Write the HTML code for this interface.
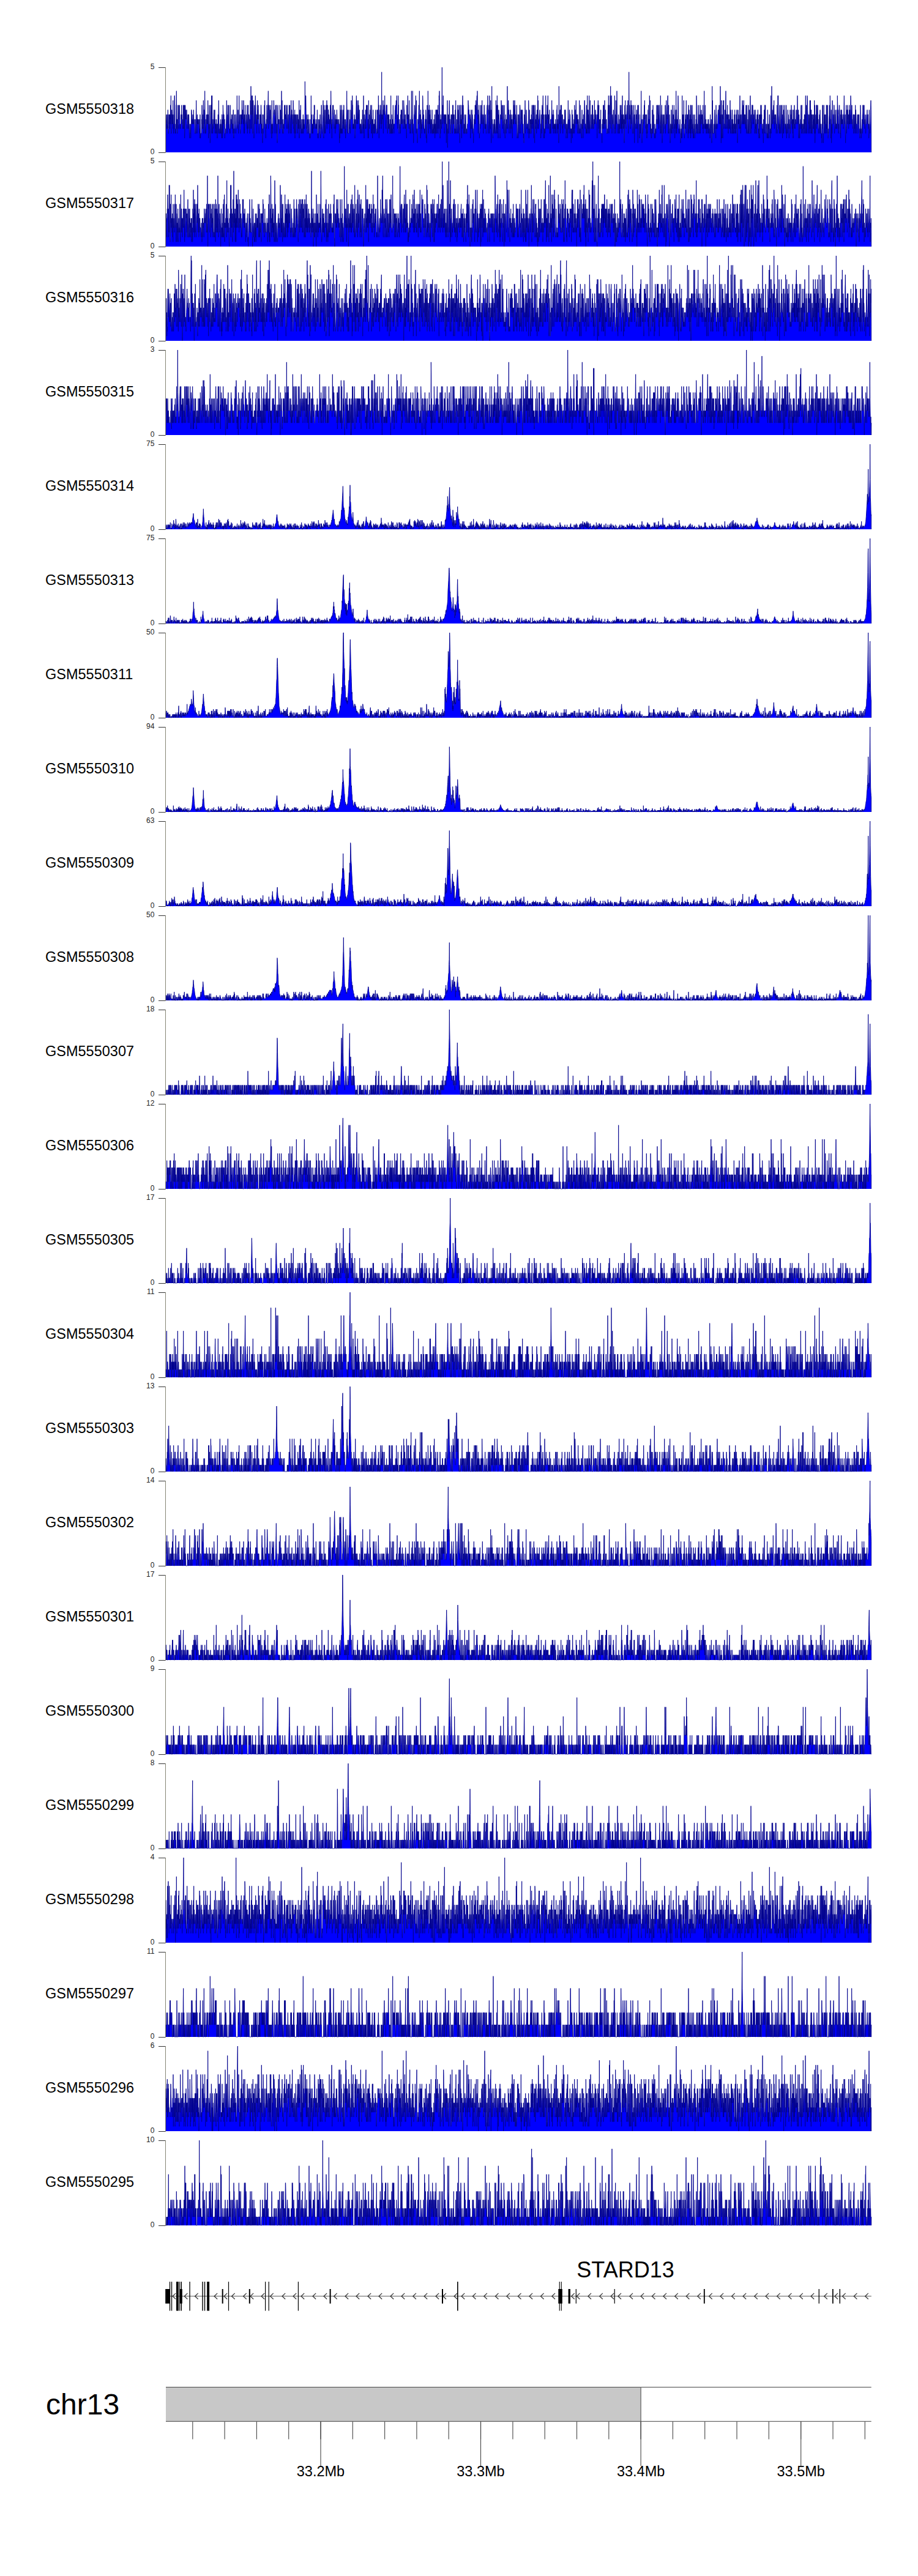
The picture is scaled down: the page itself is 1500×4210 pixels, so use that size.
<!DOCTYPE html>
<html><head><meta charset="utf-8"><title>Gviz tracks</title>
<style>
html,body{margin:0;padding:0;background:#fff;width:1500px;height:4210px;overflow:hidden}
svg{display:block}
text{font-family:"Liberation Sans",Arial,Helvetica,sans-serif;fill:#000}
.ax{font-size:12px;text-anchor:end;fill:#222}
.nm{font-size:23.5px}
.gn{font-size:36px}
.chr{font-size:48px}
.mb{font-size:23.5px;text-anchor:middle}
</style></head><body>
<svg width="1500" height="4210" viewBox="0 0 1500 4210">
<rect width="1500" height="4210" fill="#fff"/>
<g transform="translate(271.0 249.0) scale(0.33333 -7.72222)"><path d="M0 0V6l1 0 1 1 1 1 1-2 1-1 1 3 1-2 1-1 1 0 1 4 1-4 1-1 1 0 1 1 1 3 1-2 1 2 1 0 1-3 1 3 1-1 1 1 1 2 1-4 1 6 1-8 1 0 1 3 1 2 1-1 1-2 1 2 1-1 1-1 1 5 1-6 1 1 1-2 1 4 1-2 1 2 1 4 1 0 1-7 1 1 1-2 1 1 1-1 1 1 1 5 1 0 1 3 1-8 1 2 1 0 1-3 1 0 1 2 1 4 1-4 1-1 1 1 1 4 1-3 1 0 1 1 1 2 1-2 1-3 1 1 1-1 1 0 1 1 1 0 1 2 1-1 1 3 1-3 1 1 1-2 1 1 1-1 1-1 1 1 1 4 1-4 1-1 1 2 1 3 1-5 1 5 1-7 1 2 1 0 1 5 1-1 1-2 1 2 1-1 1 0 1-1 1 2 1-3 1-1 1 1 1 0 1 1 1 1 1-2 1 2 1-3 1 3 1 0 1-2 1-2 1-1 1 3 1-2 1 0 1 0 1 2 1-3 1 2 1 1 1 3 1 0 1-1 1-2 1 1 1 0 1-1 1 2 1-1 1-1 1 0 1 3 1-2 1-1 1 0 1 1 1-1 1-2 1 0 1 0 1 3 1-3 1 0 1 4 1 3 1-3 1-1 1-1 1-2 1 4 1-2 1 1 1-1 1 1 1 0 1-1 1 0 1 1 1-2 1 0 1-1 1 3 1-4 1 5 1-4 1-1 1 1 1 0 1 0 1 0 1 3 1-1 1 4 1-2 1-3 1 3 1-3 1 0 1 0 1 6 1-5 1-2 1 5 1-3 1 2 1 2 1 3 1-4 1-5 1 0 1 3 1-3 1 1 1 1 1 2 1-2 1 0 1 2 1 0 1-2 1 0 1 5 1-5 1 2 1-5 1 3 1-1 1 0 1 5 1-4 1-2 1 2 1-4 1 1 1 5 1 2 1-4 1 4 1-2 1 4 1-8 1 2 1 6 1-6 1 0 1-2 1 3 1-2 1 0 1 1 1 2 1 1 1-3 1 0 1 1 1 2 1-5 1 3 1-2 1 1 1 0 1-2 1 2 1 1 1-2 1-1 1 2 1-3 1 3 1 0 1 0 1 2 1-4 1 4 1 3 1-3 1-2 1-2 1 0 1 1 1-1 1 2 1-1 1-1 1 3 1-1 1-2 1 0 1 2 1-3 1 5 1 0 1-5 1 4 1-3 1 6 1-1 1-1 1-2 1 2 1 0 1-2 1-1 1 2 1-4 1 1 1 0 1 0 1 1 1-1 1 2 1 0 1 2 1 3 1-5 1 2 1-4 1 2 1 2 1 2 1-2 1 0 1-2 1-1 1 5 1-4 1 0 1-1 1-1 1 1 1-1 1 6 1-4 1 0 1-1 1 2 1 0 1 0 1 1 1-2 1 2 1-3 1 1 1 0 1-2 1 5 1 0 1-5 1-1 1 2 1-1 1 2 1 2 1-2 1 2 1 0 1 0 1-2 1-2 1 1 1 0 1 1 1 2 1 0 1 4 1-5 1-2 1 0 1 1 1 3 1-3 1-2 1 2 1 1 1 5 1-4 1-2 1 1 1 1 1-3 1-1 1 0 1 4 1-2 1 2 1-1 1 1 1-2 1 5 1 0 1-3 1 1 1-2 1 1 1-1 1-1 1 5 1-2 1-5 1 3 1-3 1 4 1-1 1 1 1 2 1-3 1-1 1 0 1 0 1 2 1-1 1 0 1-1 1-1 1 5 1-6 1 2 1 2 1 1 1 1 1-5 1 0 1 3 1 0 1-1 1 0 1-3 1 3 1-2 1 6 1-3 1 0 1 6 1-5 1-4 1 3 1 4 1-4 1 0 1 4 1-8 1 0 1 4 1 3 1-1 1-4 1 0 1-3 1 6 1 1 1-4 1 2 1 0 1 2 1 2 1-2 1 0 1-4 1 2 1-1 1-1 1-2 1 4 1-2 1 5 1-4 1 2 1-2 1 3 1-3 1 1 1-3 1-1 1 2 1 0 1 0 1 2 1-2 1 2 1-2 1 0 1 4 1 0 1-2 1-4 1 2 1 0 1-1 1 3 1-6 1 3 1-1 1 0 1 4 1-1 1-2 1 1 1 0 1 4 1-3 1 4 1-4 1-1 1 0 1-1 1-2 1 3 1-1 1 2 1-1 1 4 1 0 1-4 1 0 1 0 1 2 1 3 1 2 1-8 1 1 1 4 1-1 1 1 1-1 1-3 1 0 1 3 1-2 1 1 1 2 1-3 1-3 1 0 1 2 1-3 1 8 1-6 1 1 1 0 1-2 1 1 1 2 1 1 1 1 1 2 1-1 1-2 1 1 1 0 1-1 1-4 1 3 1 1 1 2 1-4 1 2 1 2 1 0 1-6 1 2 1-3 1-1 1 2 1 5 1 1 1-2 1-2 1 0 1 1 1-1 1 1 1-2 1 0 1-1 1 6 1-3 1-1 1 3 1-4 1 0 1 0 1 3 1 5 1-7 1 2 1 3 1-6 1-1 1 2 1 1 1-2 1-1 1 0 1 2 1-1 1 3 1 2 1-2 1-2 1 4 1-3 1 1 1 0 1 0 1-1 1 3 1-1 1-3 1-1 1 3 1 2 1-2 1-1 1-1 1-1 1 3 1 0 1-4 1 1 1 5 1-2 1 0 1 0 1 2 1-3 1-3 1 3 1 1 1 0 1 3 1-3 1-4 1 5 1-2 1 1 1-1 1 0 1-1 1 0 1 5 1-1 1-4 1-1 1 3 1-4 1 4 1 0 1 1 1-6 1 3 1 2 1-3 1-1 1 4 1 0 1-2 1 0 1 2 1 0 1-1 1-2 1-1 1 4 1-1 1-2 1 2 1-1 1-1 1 6 1-8 1 3 1 1 1 2 1-3 1-1 1 1 1 4 1-5 1-1 1 2 1 0 1 1 1-3 1 1 1-1 1 2 1 1 1-2 1 3 1-4 1 2 1-1 1 2 1-1 1-1 1 1 1 0 1 9 1-4 1 0 1-2 1 3 1-2 1-5 1 0 1 1 1 2 1-4 1 0 1 1 1 2 1-1 1 2 1-3 1-1 1 0 1 2 1 1 1-1 1 0 1-3 1 1 1-1 1 0 1 4 1-1 1 0 1 6 1-4 1-1 1 1 1-4 1 1 1 1 1-2 1 2 1-2 1 4 1-2 1 1 1-1 1-1 1 5 1-2 1 2 1-4 1 1 1 0 1-2 1 0 1 1 1 0 1-1 1 1 1 1 1-2 1 1 1 3 1-1 1-4 1-1 1 1 1-1 1 4 1-3 1 0 1 1 1 1 1 1 1-2 1 1 1 2 1-4 1-1 1 1 1 2 1-1 1 5 1 0 1-4 1-1 1-1 1 0 1 2 1 2 1 0 1 3 1-3 1-2 1-3 1 1 1 6 1-2 1-4 1 3 1 2 1-3 1-2 1 2 1 1 1 3 1-4 1 4 1-3 1 4 1-6 1 2 1-1 1 4 1-1 1-2 1 2 1 0 1-3 1 2 1-2 1 0 1 1 1-3 1 3 1 1 1 2 1 0 1-4 1 7 1-3 1-4 1-1 1 2 1-4 1 3 1 0 1 3 1 1 1-2 1 0 1 2 1-2 1-2 1 0 1-1 1 3 1 1 1-2 1 0 1-3 1 2 1 2 1-3 1 2 1-1 1 1 1-1 1 3 1-1 1-2 1 1 1-1 1 0 1 0 1 0 1 1 1-1 1 1 1-1 1-2 1-2 1 4 1-3 1 4 1 3 1-6 1 3 1 2 1-5 1 1 1-1 1 6 1-6 1 1 1-1 1 2 1 2 1 1 1-3 1 2 1-3 1 5 1 0 1-4 1-1 1 2 1-2 1 0 1-1 1 3 1-4 1 2 1 0 1 1 1 1 1 3 1 3 1-4 1 0 1-4 1-1 1 4 1 1 1-5 1 0 1 0 1 0 1 5 1-3 1-1 1 1 1 0 1 1 1-3 1 2 1 3 1-2 1 1 1 3 1-2 1-2 1 0 1 1 1 4 1-2 1 0 1-5 1 1 1-1 1 1 1 0 1 1 1-2 1 3 1-1 1-1 1-3 1 1 1 3 1-2 1 1 1 1 1 3 1 2 1-2 1-4 1 5 1-1 1 0 1-4 1 1 1 2 1 2 1-4 1 3 1-2 1 0 1-2 1 3 1-4 1 1 1 0 1-2 1 2 1 0 1-1 1-1 1 3 1-1 1 0 1-1 1-1 1 2 1 3 1-3 1 2 1-2 1-1 1 7 1-8 1 2 1-3 1 5 1 0 1-1 1 0 1-1 1-1 1 4 1-1 1-3 1 3 1 2 1-2 1 2 1-2 1 0 1 2 1-2 1-2 1-3 1 4 1-4 1 8 1-4 1 0 1 1 1-3 1 1 1 0 1 0 1 3 1-3 1 4 1-2 1-1 1-3 1 4 1 2 1-4 1-2 1 3 1-4 1 4 1-1 1 3 1-3 1-2 1 2 1-1 1 1 1 0 1-2 1 3 1-3 1 1 1 2 1 1 1 1 1-3 1-1 1 0 1-1 1 0 1 0 1 5 1-3 1-2 1 4 1 1 1-1 1 4 1-3 1 1 1-7 1 2 1 3 1-3 1 3 1 1 1-1 1 2 1 0 1-4 1 2 1-3 1 5 1 7 1-11 1 0 1 2 1-1 1 2 1 0 1 2 1-7 1 5 1 0 1 1 1 0 1-2 1 1 1 3 1-3 1-1 1 0 1 0 1-1 1-2 1 5 1 0 1 0 1 0 1 0 1-4 1-1 1-1 1 4 1-1 1 1 1-3 1 3 1-2 1 2 1-3 1 1 1-2 1 0 1 3 1-3 1 0 1 2 1 6 1-8 1 0 1 2 1-2 1 4 1-4 1 1 1-1 1 3 1-1 1 4 1-3 1-2 1 1 1-2 1 2 1 0 1 0 1 0 1 3 1 0 1 1 1-1 1-2 1 3 1 1 1-1 1 0 1 2 1-4 1-2 1 2 1-3 1 2 1 1 1 4 1-2 1 0 1-5 1-1 1 0 1 3 1-1 1-1 1 0 1 1 1-2 1 4 1-2 1 3 1-3 1 2 1 0 1 1 1-3 1 0 1 5 1-4 1 0 1-1 1-1 1 1 1 5 1-1 1-1 1 0 1-3 1 1 1-2 1 3 1-2 1 2 1-3 1 1 1-1 1 0 1-2 1 7 1-3 1 1 1-1 1 3 1 2 1-4 1-2 1 1 1 1 1-2 1-1 1 6 1-5 1 0 1 0 1-2 1 3 1-1 1-2 1 2 1 0 1 2 1 5 1-5 1-2 1 0 1 1 1-3 1 9 1-7 1 0 1 0 1-4 1 2 1 3 1 1 1 0 1 2 1-1 1-1 1-1 1 1 1 2 1 2 1-3 1-5 1 7 1-6 1 0 1 0 1-1 1-2 1 5 1 0 1 0 1-1 1 0 1 2 1 2 1-1 1 1 1 3 1-7 1-1 1 3 1 0 1-5 1 6 1-3 1 0 1 1 1-2 1 1 1-2 1 2 1 1 1 1 1 4 1-1 1-4 1 2 1-4 1 3 1-2 1-1 1-1 1 1 1-1 1 2 1 1 1 0 1 0 1 2 1-1 1-5 1 4 1-3 1-2 1 2 1 6 1-3 1-1 1 0 1 7 1-5 1-2 1-2 1 5 1-3 1 4 1 0 1-4 1 2 1-3 1 4 1-2 1-3 1 3 1-1 1 0 1 0 1 1 1-3 1 5 1-4 1-1 1 0 1 2 1-2 1 1 1-1 1 2 1 1 1-2 1 1 1-2 1 4 1-5 1 3 1 0 1-2 1 5 1 0 1-5 1 0 1 5 1 0 1-5 1 5 1-4 1 2 1 0 1 3 1-6 1 0 1 4 1-3 1 7 1-1 1 2 1-4 1-5 1-1 1 4 1-3 1 0 1 4 1-2 1 1 1-1 1-1 1 4 1 9 1-8 1-3 1 3 1-4 1 1 1 5 1-4 1 0 1 0 1-2 1-2 1 4 1-2 1 2 1 0 1-1 1 1 1-2 1 2 1-1 1-5 1 4 1 0 1-2 1 3 1 4 1-10 1 4 1 0 1 3 1-1 1-3 1 4 1-2 1 4 1 1 1-4 1 0 1 0 1-3 1 0 1 0 1 2 1 2 1 0 1-2 1 0 1 2 1-2 1-2 1 3 1 3 1-3 1 3 1-4 1 0 1 2 1-2 1 2 1-2 1-2 1 0 1 1 1-1 1 5 1-2 1 4 1-7 1 1 1 0 1 2 1-2 1 0 1-1 1 3 1 3 1-4 1 0 1 3 1-5 1 4 1 0 1 2 1-4 1-2 1 0 1-2 1 6 1 2 1 0 1-4 1 2 1-2 1 0 1 1 1-4 1 7 1-5 1 1 1 4 1 2 1-3 1-2 1 3 1-2 1-4 1 1 1 1 1-2 1 0 1 4 1-4 1 0 1 1 1 2 1 1 1-2 1-2 1 0 1 1 1-1 1 0 1 1 1 1 1 0 1 0 1 2 1 3 1-1 1 0 1-2 1 1 1-1 1-1 1 0 1 1 1 0 1-1 1-4 1 4 1-2 1 4 1-2 1-1 1-1 1 2 1 2 1-5 1 4 1-2 1 0 1-1 1 0 1-3 1 2 1 1 1 2 1 0 1 0 1 1 1-2 1 4 1-4 1 4 1-1 1 2 1-1 1-2 1 0 1 3 1 1 1-3 1 4 1-5 1-1 1 2 1-5 1 4 1-2 1 2 1 2 1-3 1-4 1 1 1 0 1 2 1-1 1 3 1 2 1-2 1 0 1 0 1-2 1 4 1-2 1 3 1-5 1 1 1 1 1 0 1-1 1-3 1 2 1 2 1-2 1 4 1 0 1-2 1 0 1-3 1 1 1-1 1 3 1-3 1 1 1-2 1 0 1 2 1 2 1 1 1 1 1 0 1-1 1 3 1-6 1-2 1 2 1 3 1-1 1 2 1 0 1-6 1 8 1-3 1-1 1-2 1-1 1 6 1-5 1 0 1-4 1 7 1-3 1 8 1-8 1 1 1-1 1-2 1-1 1 0 1 3 1-1 1-1 1 2 1 1 1-3 1 3 1-2 1 1 1-1 1-1 1 0 1 2 1 5 1-3 1-4 1 4 1 2 1-5 1 7 1-3 1-5 1 6 1-3 1-4 1 5 1-1 1 2 1-1 1-1 1-1 1 0 1-1 1-2 1 3 1 2 1-1 1 1 1 0 1 3 1-1 1-2 1-1 1 3 1-2 1-1 1-2 1 1 1 4 1-3 1-1 1 0 1-2 1 3 1 3 1-4 1 1 1-3 1-1 1 3 1 0 1 2 1-1 1-3 1 3 1-2 1 0 1 1 1 2 1 6 1-8 1-1 1 3 1 2 1 1 1-2 1-1 1 1 1-5 1 2 1 0 1 2 1-3 1 0 1 3 1 1 1-5 1 3 1-1 1 2 1-2 1-1 1 2 1-1 1-3 1 3 1 2 1 0 1-2 1 5 1-5 1 4 1-1 1 0 1-2 1 4 1-3 1 2 1-4 1 2 1 0 1-2 1 0 1 0 1 2 1 2 1-6 1-1 1 1 1 0 1 2 1 2 1-5 1 1 1 2 1 2 1 0 1-2 1-2 1 4 1 2 1 0 1-1 1-3 1 0 1-2 1 5 1-1 1-1 1 2 1-3 1 1 1 0 1 2 1-2 1-3 1 2 1 0 1-3 1 1 1-2 1 0 1 6 1 0 1-2 1 2 1 3 1-3 1-4 1 1 1 1 1 0 1 3 1-1 1-2 1-1 1 1 1 0 1 0 1 0 1-2 1 2 1 1 1 4 1-1 1-7 1 2 1-1 1 5 1-4 1-1 1 0 1 3 1-1 1 1 1-3 1 0 1 4 1-3 1 4 1 1 1-2 1-2 1 1 1-2 1 5 1-2 1 2 1-3 1-4 1 7 1-2 1-5 1-1 1 6 1 2 1-1 1-4 1 1 1 1 1-1 1 2 1-4 1 2 1 2 1 1 1-2 1 0 1 5 1-7 1 6 1-6 1 1 1 0 1 1 1 0 1 1 1 0 1 1 1-1 1 0 1-2 1 0 1-3 1 2 1 0 1 3 1-2 1-2 1 5 1 1 1-1 1-2 1 3 1 2 1-6 1-1 1 3 1-5 1 2 1-2 1 2 1 0 1 3 1-4 1 1 1 2 1 5 1-6 1 0 1 2 1 0 1-1 1-2 1 5 1-2 1-1 1 2 1 3 1-6 1-1 1 3 1-2 1 2 1-1 1 2 1-5 1 0 1 2 1 0 1-2 1 3 1-3 1 3 1 0 1 0 1 2 1 2 1-3 1 0 1-2 1-1 1 3 1-2 1 3 1-5 1 4 1-2 1 0 1-1 1 1 1 0 1-2 1 2 1-1 1 2 1-1 1-2 1 2 1 0 1 0 1 3 1 0 1 1 1-6 1 3 1-2 1 1 1-1 1 3 1-4 1-2 1 12 1-5 1-1 1-1 1-1 1 3 1 0 1-5 1 4 1 2 1-2 1-1 1 3 1-4 1 2 1-2 1-1 1 0 1 3 1-4 1 2 1 0 1 0 1 1 1 0 1-1 1 0 1 0 1 3 1-3 1-1 1 4 1 0 1-3 1 0 1-3 1 1 1 2 1-2 1 1 1 0 1 1 1-3 1 3 1 1 1 4 1-3 1-2 1-1 1 2 1-3 1 5 1 0 1-1 1 0 1 0 1-2 1-2 1 1 1 0 1-3 1 3 1-1 1 1 1 4 1-3 1-3 1 5 1-3 1 1 1-2 1 2 1 0 1 0 1 1 1-3 1 6 1-5 1 0 1 1 1 3 1 0 1-3 1 4 1 1 1-4 1 1 1 0 1-2 1 1 1-1 1 2 1-4 1 2 1 1 1 0 1-1 1-2 1 0 1 2 1 5 1-5 1-2 1 1 1-1 1 6 1-4 1 0 1 0 1 0 1-2 1-1 1 3 1 3 1-4 1 1 1 1 1 0 1-4 1 2 1 3 1 0 1-2 1 0 1 3 1 2 1 0 1-3 1-3 1 1 1 0 1 0 1-1 1-1 1 4 1 2 1-6 1 1 1-1 1 8 1-7 1 4 1-3 1 3 1-5 1 2 1 2 1-3 1 7 1-3 1-5 1 2 1 1 1 4 1-5 1-1 1 0 1 0 1 3 1 0 1-3 1 2 1 1 1 2 1-4 1 4 1-5 1 3 1-2 1 0 1-1 1 0 1 2 1-1 1 5 1-4 1-1 1 2 1-1 1 2 1-1 1 0 1-1 1-1 1 0 1 0 1 2 1-5 1 5 1 0 1 2 1-2 1 3 1-4 1 1 1-3 1 5 1-6 1 1 1 2 1-3 1 0 1 3 1-2 1 1 1 3 1-5 1 0 1 0 1 0 1 0 1-2 1 4 1-1 1 2 1-1 1 1 1 3 1-5 1 0 1 5 1-5 1 2 1-1 1 5 1-5 1 0 1 1 1 2 1-3 1-1 1 1 1 1 1 0 1-3 1 0 1 0 1 1 1-1 1 0 1 4 1 2 1-2 1 4 1-4 1-4 1 4 1 2 1-3 1-1 1 0 1 6 1-4 1 6 1-9 1 0 1 5 1 2 1 0 1-4 1-4 1 3 1 1 1-2 1 0 1 1 1 1 1 1 1-3 1 0 1-2 1 0 1 5 1 3 1-4 1-3 1 3 1-2 1-2 1 7 1-3 1-2 1 1 1 1 1 5 1-5 1 0 1-2 1 0 1-2 1 2 1 0 1 2 1-2 1-2 1 2 1-2 1 3 1-2 1 3 1 2 1-2 1 1 1-4 1 2 1 3 1-5 1 3 1 0 1-4 1 4 1 4 1-6 1 2 1-3 1 0 1 3 1 0 1-3 1 2 1-5 1 1 1 5 1 2 1-4 1 5 1-4 1 1 1-3 1 0 1 1 1 2 1 0 1 1 1 1 1-2 1 0 1-1 1 4 1-4 1-3 1 1 1 3 1 9 1-6 1-4 1 0 1 3 1-3 1 1 1-3 1 1 1 2 1 3 1-5 1 0 1 4 1-2 1 2 1-3 1-3 1 0 1 3 1 2 1 0 1 1 1-6 1 0 1 3 1 1 1-6 1 4 1 2 1 2 1-4 1 0 1 0 1-1 1 3 1 0 1-1 1 2 1-1 1-3 1 3 1 0 1 2 1-8 1 4 1 0 1 4 1-2 1-1 1 1 1-2 1-3 1 3 1-2 1 1 1 1 1-2 1 4 1 0 1 5 1-6 1 0 1-1 1-4 1 2 1 0 1 3 1-3 1 2 1 2 1-2 1 0 1 1 1 1 1 2 1-3 1 4 1-4 1 1 1-2 1-1 1 0 1 3 1-2 1-2 1 0 1 4 1-5 1 2 1 1 1-2 1 1 1 2 1 2 1-1 1 2 1-3 1-1 1 1 1-1 1 6 1-4 1 2 1 1 1-7 1 2 1 0 1-2 1 0 1-1 1 2 1-1 1 0 1 5 1-2 1-3 1 2 1 4 1-4 1 0 1-1 1 3 1-4 1 0 1 0 1-1 1 3 1-1 1-2 1 2 1 0 1-1 1 0 1 3 1 0 1 3 1-4 1 1 1-1 1 0 1 4 1-2 1 2 1-4 1 2 1-3 1 3 1 2 1 0 1-2 1-1 1-1 1-1 1-1 1 8 1-6 1 2 1-4 1 2 1 2 1 2 1-5 1-3 1 4 1 0 1 2 1-2 1-2 1 3 1 1 1-2 1 2 1-2 1 0 1-1 1 0 1 1 1 4 1-6 1 2 1 0 1 0 1 5 1-2 1-3 1 2 1-1 1 2 1 1 1 2 1 0 1-5 1-3 1 1 1 5 1-6 1 2 1 0 1 2 1-3 1 0 1-3 1 2 1 2 1 0 1-2 1 5 1 0 1-5 1 1 1 1 1-1 1 5 1-2 1 0 1-4 1 1 1 2 1 1 1-1 1 3 1-1 1-4 1 1 1-3 1 4 1-1 1 1 1 2 1-4 1 8 1-9 1 5 1-5 1 2 1-1 1 2 1-1 1 1 1 1 1 4 1-2 1-4 1 0 1-2 1 1 1-1 1 1 1 1 1 1 1-1 1-2 1-2 1 2 1 0 1 1 1 0 1-2 1 3 1-3 1 9 1-6 1 2 1-2 1 0 1-1 1 3 1-2 1 5 1-7 1 0 1-1 1 1 1 2 1-1 1 3 1-3 1 2 1-1 1 2 1 3 1-4 1-3 1 2 1 2 1 0 1 0 1-1 1 1 1-5 1 3 1 4 1-6 1 1 1 4 1-4 1 0 1 2 1-3 1 4 1-2 1 4 1-7 1 7 1-6 1 3 1-2 1 1 1 3 1 1 1-3 1-3 1 1 1 1 1-3 1 5 1-5 1 1 1 1 1 0 1 1 1 2 1-5 1 1 1 2 1-2 1 0 1 0 1 3 1-2 1 7 1-2 1-3 1-3 1 2 1-2 1 0 1 2 1 2 1 2 1-3 1-3 1 0 1 2 1 2 1-4 1 1 1 2 1 3 1-6 1 4 1-2 1 0 1 2 1 1 1-2 1 1 1-2 1 2 1-2 1-1 1 3 1 2 1-6 1 2 1-1 1 1 1 3 1 4 1-7 1 0 1-1 1 3 1 2 1-5 1 1 1-1 1 2 1-3 1 2 1-1 1 1 1-2 1 2 1 0 1 0 1-1 1 2 1-3 1 3 1-2 1 0 1-1 1 2 1-1 1 0 1-2 1 4 1 1 1-4 1 1 1 1 1 0 1 1 1-3 1-2 1 2 1 10 1-10 1 7 1-5 1-2 1 0 1 0 1 0 1 2 1-2 1 0 1 4 1 1 1-1 1-2 1-1 1 1 1-2 1-1 1 7 1-4 1 2 1-3 1 1 1-1 1 1 1 0 1 0 1 2 1 1 1 0 1-1 1 0 1 0 1 2 1-4 1 2 1 2 1 0 1-4 1 8 1-6 1-2 1 2 1-6 1 2 1 7 1-8 1 5 1 0 1 0 1-1 1-4 1 7 1-3 1 4 1-2 1 2 1-6 1 1 1 0 1 0 1 3 1-3 1 0 1-1 1 6 1 2 1-4 1-3 1-1 1 3 1 0 1 0 1-1 1 3 1-5 1 2 1 1 1-4 1 3 1 1 1-2 1-1 1 2 1-2 1 3 1-1 1 4 1-5 1-2 1 4 1 1 1-1 1-2 1-2 1 0 1 3 1-2 1 4 1-5 1 3 1-3 1 0 1 2 1 0 1-2 1 2 1 2 1-2 1-1 1 4 1-5 1 2 1 0 1-1 1-1 1 4 1-3 1 0 1 3 1 1 1-3 1 0 1-4 1 5 1-1 1 3 1-2 1-1 1 2 1-2 1 1 1-2 1 2 1 1 1 4 1-6 1-1 1 3 1-4 1 1 1 3 1-2 1 0 1 0 1 3 1 0 1 2 1-1 1-4 1 1 1 3 1-2 1-2 1 5 1-5 1 1 1 1 1 0 1-2 1 0 1 2 1-1 1-2 1 2 1 3 1-4 1-2 1 5 1 1 1-2 1-3 1-1 1 0 1 3 1-1 1-2 1 6 1-6 1 0 1 3 1 2 1-5 1 0 1 0 1 6 1 2 1-4 1-2 1-2 1 4 1-3 1 1 1 2 1 2 1 0 1 0 1-3 1 3 1-4 1 1 1-1 1 2 1-1 1 1 1 1 1-1 1 0 1-4 1 1 1 3 1 1 1-4 1 2 1-3 1 2 1-2 1 0 1 3 1 1 1-1 1 1 1-2 1 3 1-3 1 1 1-3 1 1 1-2 1 5 1-4 1 0 1-1 1 5 1-1 1 1 1-2 1 4 1-4 1 1 1 3 1-3 1 1 1-3 1 0 1-1 1 2 1 0 1-1 1 0 1-3 1 5 1-1 1 0 1 3 1-5 1 1 1 5 1 0 1-3 1 3 1-6 1 0 1 0 1 2 1-1 1 0 1 1 1-3 1 1 1 0 1 5 1-6 1 2 1 1 1-2 1-1 1 3 1-1 1 3 1 0 1-3 1-1 1 1 1-2 1 1 1 5 1 3 1-8 1 2 1-1 1 9 1-8 1 0 1 3 1-1 1-2 1 0 1 2 1 1 1 1 1-3 1 4 1-4 1-2 1 2 1 1 1-1 1 1 1-2 1 2 1 0 1-1 1-3 1 2 1 0 1 0 1 4 1-5 1-1 1 1 1 7 1-2 1 2 1-4 1-1 1-2 1 1 1-2 1 3 1 3 1-3 1-3 1 1 1 1 1 0 1 4 1-6 1 3 1 0 1 3 1-2 1 0 1-2 1-3 1 5 1-2 1 4 1-6 1 5 1-5 1 2 1 0 1 0 1 2 1 2 1-4 1-1 1 0 1 1 1 0 1-2 1 6 1-2 1-5 1 2 1 1 1 0 1 0 1-2 1 5 1-3 1 2 1-1 1-2 1 1 1-3 1 1 1 3 1-1 1-1 1 4 1-5 1 0 1 2 1 2 1-1 1 3 1-3 1-1 1 0 1 3 1-4 1 2 1-3 1 3 1-4 1 3 1 3 1-3 1 3 1-4 1 5 1-4 1 0 1 0 1-1 1 2 1-1 1 1 1 1 1 1 1-3 1 0 1 1 1 2 1-1 1 4 1-4 1-2 1 2 1 0 1 1 1-6 1 3 1 2 1-2 1 0 1-3 1 3 1-1 1 1 1 1 1-1 1 3 1 1 1-5 1 1 1-2 1 6 1-6 1 1 1 0 1 1 1 0 1 0 1-2 1 0 1 3 1-2 1 1 1 2 1 0 1-4 1 4 1-2 1 3 1 3 1-4 1-4 1 4 1 2 1-6 1 4 1 0 1 4 1-1 1-2 1-1 1-2 1-2 1 4 1-2 1 0 1 2 1-1 1-3 1 4 1 3 1-6 1 1 1 5 1-3 1-4 1 2 1 3 1-5 1 4 1 0 1-4 1 0 1 2 1 2 1-1 1 1 1-3 1 2 1-2 1 3 1-2 1 5 1-7 1 6 1-8 1 4 1-2 1 3 1 1 1-2 1 0 1 4 1-5 1 5 1 0 1-2 1-2 1 4 1-2 1-2 1 1 1-3 1 1 1 0 1 1 1 0 1 2 1-4 1 4 1 1 1-2 1-3 1 0 1 2 1 0 1-1 1-2 1 1 1-2 1 4 1-1 1 5 1-4 1 4 1-4 1-4 1 2 1 0 1 6 1-4 1 2 1-2 1-2 1 4 1-2 1 0 1 2 1-4 1 2 1-1 1 5 1-5 1 5 1-6 1 2 1 2 1 2 1-4 1-3 1 0 1 1 1 1 1-1 1 3 1 1 1 2 1-4 1 2 1 4 1-2 1-3 1 0 1-4 1 2 1 4 1-7 1 3 1 1 1-2 1 7 1-1 1-2 1 0 1 0 1-2 1 0 1 1 1 3 1 0 1-4 1-2 1 1 1 3 1-2 1 3 1-2 1-2 1 1 1 0 1 0 1-1 1 4 1-4 1 1 1 6 1-2 1 0 1-2 1-1 1-3 1 2 1-1 1 4 1-1 1 2 1-2 1-4 1 0 1 0 1 4 1-5 1 6 1-3 1 2 1-2 1 3 1-1 1-2 1 1 1-1 1 1 1 1 1 0 1-3 1 1 1 0 1 4 1 2 1-2 1-4 1 0 1 1 1 1 1-4 1-2 1 4 1 1 1 3 1-4 1-2 1 1 1 4 1-3 1 4 1-3 1 2 1-1 1-2 1 2 1-3 1 1 1 1 1 3 1-4 1 3 1-3 1 2 1-2 1 2 1 4 1-1 1-2 1 0 1-1 1-2 1 4 1-4 1 1 1-1 1-1 1 0 1 3 1 0 1 0 1-4 1 4 1 0 1-1 1-1 1-1 1 3 1-4 1 6 1-4 1 3 1-1 1-2 1-2 1 2 1 0 1 0 1 0 1 2 1-2 1-2 1 0 1 4 1 0 1-1 1-1 1 2 1-3 1 0 1-1 1-1 1 2 1-1 1 6 1-2 1-4 1 1 1-2 1 1 1 1 1 1 1 1 1-3 1 4 1 0 1 2 1-1 1 1 1-4 1 2 1 0 1 2 1-3 1-2 1 1 1 1 1-1 1 2 1-2 1-2 1 2 1 0 1 0 1 2 1 0 1 0 1 1 1-3 1 0 1 2 1 0 1-3 1 1 1 0 1-3 1 1 1 5 1-3 1 0 1-1 1-1 1 2 1 2 1 2 1 1 1-2 1-5V0" fill="#0000ff" stroke="#00008b" stroke-width="0.85" vector-effect="non-scaling-stroke"/></g>
<path d="M259 110.5H270.5M259 249.5H270.5" fill="none" stroke="#333" stroke-width="1"/>
<path d="M270.5 110.0V250.0" stroke="#858575" stroke-width="1"/>
<text x="252.4" y="113.3" class="ax">5</text>
<text x="252.4" y="252.1" class="ax">0</text>
<text x="74" y="185.7" class="nm">GSM5550318</text>
<g transform="translate(271.0 403.0) scale(0.33333 -7.72222)"><path d="M0 0V3l1 4 1 0 1-5 1 3 1 1 1 0 1 2 1-1 1 4 1-3 1-5 1-1 1 6 1-1 1-4 1 10 1-5 1 5 1-6 1-6 1 0 1 1 1 7 1 0 1-4 1 6 1-7 1 2 1-3 1 0 1 2 1 2 1-5 1 4 1-5 1 8 1-3 1-2 1 2 1-2 1 0 1-1 1 6 1-3 1-2 1 7 1-3 1-4 1 0 1-3 1 8 1-5 1 3 1-1 1-5 1 4 1-1 1-1 1 5 1-6 1-1 1 4 1 1 1-2 1-1 1 1 1-1 1 6 1-2 1-4 1-2 1 3 1 7 1-8 1 3 1 2 1 0 1-4 1-1 1 3 1-4 1 4 1-1 1-1 1 4 1 0 1-4 1 1 1 7 1-5 1 1 1-7 1 7 1-6 1 2 1 1 1 3 1 0 1-2 1 2 1-2 1-1 1-2 1 4 1-5 1 0 1 6 1 2 1-5 1-2 1-1 1 0 1 6 1-6 1 4 1 0 1 2 1-4 1 2 1-4 1 2 1 1 1-2 1 2 1 1 1-5 1 5 1-4 1 0 1 2 1-3 1 7 1-3 1 0 1 7 1-9 1 4 1-2 1 4 1-7 1 8 1-4 1 2 1-5 1 6 1-2 1-1 1-4 1 1 1 2 1 4 1-1 1-3 1 4 1-2 1 6 1-6 1-4 1 4 1 0 1-5 1 0 1 6 1-5 1 1 1 2 1 0 1-2 1 0 1 0 1 0 1-1 1-1 1 3 1-2 1 0 1-2 1 5 1 0 1-4 1 3 1 1 1-2 1 1 1 0 1-1 1-2 1 6 1 0 1-3 1 0 1 1 1-1 1 2 1 0 1 1 1-4 1-1 1 0 1 6 1-4 1-2 1 2 1 10 1-10 1-5 1 6 1 3 1-1 1 0 1 1 1-3 1 0 1-3 1 0 1 6 1-2 1-1 1 3 1-7 1 1 1 4 1-3 1 1 1 3 1-3 1 4 1-2 1-4 1 3 1-4 1 7 1-5 1-1 1 0 1 0 1-1 1 7 1-4 1-3 1 6 1-2 1-5 1 9 1-5 1-2 1 6 1-2 1-3 1 4 1-1 1-4 1 4 1-4 1 12 1-9 1 0 1-4 1 3 1 2 1 2 1-3 1-2 1-1 1 4 1 0 1-2 1-1 1-4 1 5 1 3 1 0 1-6 1 2 1 0 1-1 1 2 1-3 1 5 1-5 1 7 1-5 1-2 1 1 1 7 1-6 1 7 1-10 1 4 1 0 1-1 1 0 1 2 1-2 1 4 1 1 1-6 1-1 1 12 1-10 1 2 1-3 1 2 1 3 1 0 1-4 1 1 1-2 1 1 1-3 1-1 1 6 1-1 1 0 1 2 1-1 1 7 1-9 1-2 1 11 1-9 1 4 1-1 1-3 1 1 1 2 1-6 1 4 1 2 1 3 1-7 1 4 1 9 1-11 1 0 1 3 1-4 1 3 1 0 1-6 1 7 1-4 1 2 1-5 1 10 1-7 1 7 1-6 1 5 1-2 1-4 1 5 1-3 1 2 1 4 1-8 1 0 1 2 1-3 1 1 1 6 1-5 1 0 1 4 1-5 1 1 1 0 1 2 1-3 1-2 1 1 1 3 1-4 1 2 1 2 1 4 1-2 1 0 1-1 1 3 1-5 1 2 1-2 1-1 1 3 1-3 1 4 1-2 1 0 1-2 1-3 1 2 1 2 1-3 1 1 1 2 1-2 1 3 1 0 1 1 1 0 1-6 1 1 1-2 1 3 1 1 1 1 1 2 1-2 1 2 1 3 1-7 1 2 1 1 1-3 1 2 1-2 1 0 1 0 1 0 1 5 1 2 1-3 1-4 1-3 1 4 1 1 1 3 1-3 1-1 1-2 1 2 1 1 1-4 1 1 1-1 1 4 1-3 1 5 1-5 1 2 1-3 1 4 1 2 1-2 1-1 1 2 1 0 1-2 1 2 1-2 1 5 1-2 1-5 1 0 1 6 1 1 1-7 1 6 1-6 1 1 1 2 1-2 1 1 1 3 1 0 1-6 1 0 1 4 1 2 1-1 1 1 1 0 1-2 1 1 1 4 1-3 1 2 1-6 1 0 1 2 1-2 1-1 1 2 1 4 1-2 1-2 1-1 1 2 1-2 1 0 1 0 1 0 1 0 1 2 1 1 1-2 1-1 1-2 1 4 1-2 1 3 1 3 1-4 1 1 1-4 1 9 1-10 1 2 1-2 1 2 1 5 1-3 1 10 1-2 1-9 1-2 1 4 1-1 1 4 1-6 1 4 1-3 1 1 1 3 1-6 1 6 1-3 1-2 1 2 1-4 1 3 1 4 1 6 1-5 1-8 1 8 1-1 1-5 1 0 1-2 1 3 1 1 1 0 1-1 1-2 1-1 1 1 1 2 1 2 1 0 1 1 1-3 1 1 1 1 1-4 1 3 1-1 1 1 1 0 1 8 1-5 1-1 1-5 1 4 1-3 1 8 1-5 1-3 1 6 1-4 1-4 1 3 1 5 1-4 1-1 1-2 1 3 1 0 1-1 1 0 1-2 1 4 1 5 1-9 1 1 1 4 1-5 1 7 1-4 1 3 1-3 1 3 1-4 1 3 1-5 1 7 1-3 1-3 1 7 1-6 1 5 1-1 1-1 1-1 1-1 1 2 1-2 1 4 1-6 1 0 1 1 1-2 1 2 1 4 1 0 1-2 1 0 1-3 1 1 1-1 1-1 1 0 1 3 1-3 1 1 1 5 1 2 1-3 1-5 1 3 1 3 1-3 1-3 1 2 1-1 1 3 1 2 1-4 1 4 1 2 1-2 1-2 1 2 1-1 1-2 1-1 1-2 1-1 1 4 1 4 1-1 1-4 1 6 1-6 1-1 1 3 1 2 1-1 1 3 1-6 1 2 1 3 1 0 1-5 1 2 1 4 1-5 1-2 1 2 1 5 1-7 1 3 1 2 1-2 1 3 1-3 1-4 1 3 1 1 1 4 1-8 1 4 1-4 1 1 1 6 1-5 1 7 1-7 1 4 1-5 1 3 1 3 1-6 1 2 1 1 1-2 1 3 1 0 1 1 1-5 1 0 1 3 1-3 1 4 1-2 1-1 1 0 1 1 1-2 1-1 1 0 1 5 1 9 1-13 1 5 1-1 1-3 1 2 1-3 1 2 1 3 1-8 1 2 1 3 1-2 1 4 1-5 1 1 1-1 1 3 1 0 1-2 1 4 1-1 1-2 1-4 1 11 1-4 1-4 1 2 1 2 1-1 1-1 1-3 1 7 1-2 1-2 1-2 1 2 1-1 1 1 1 0 1-1 1 5 1-4 1 1 1-3 1 6 1 7 1-5 1-6 1-2 1-2 1 1 1 3 1 2 1 1 1-5 1 3 1 1 1-4 1 3 1-3 1 4 1-2 1-1 1-2 1 3 1 0 1-1 1 2 1 3 1-3 1 1 1 3 1-9 1 4 1-1 1-2 1 6 1-4 1-1 1-2 1 4 1-3 1 4 1 3 1-2 1-2 1-2 1 4 1-4 1 0 1 4 1-1 1 1 1 2 1-5 1 0 1 3 1-2 1-1 1-1 1 1 1-1 1 2 1-2 1 1 1-1 1 2 1 4 1-3 1-1 1 6 1-9 1-1 1-1 1 6 1 1 1 0 1-2 1 1 1 1 1-3 1 2 1 4 1-6 1 1 1 1 1 2 1-3 1 5 1-3 1 0 1 0 1-3 1 2 1 0 1-2 1 1 1-3 1 0 1 2 1 6 1-2 1-4 1-3 1 5 1 0 1-4 1 2 1 6 1-6 1 3 1-6 1 4 1-1 1 0 1 0 1-3 1 1 1 4 1 1 1 10 1-9 1 0 1-4 1 0 1 4 1-3 1 3 1-3 1-1 1 2 1-5 1 11 1-8 1 0 1 1 1 2 1 2 1-5 1 5 1-9 1 1 1 5 1-3 1 3 1 1 1 0 1-3 1 1 1-1 1 3 1 2 1-6 1 4 1 3 1-7 1 2 1 0 1 6 1-7 1 4 1-1 1-2 1 4 1-2 1 0 1-4 1 1 1 4 1-5 1-1 1 11 1-7 1-4 1 1 1 1 1 2 1 3 1-5 1 3 1-4 1 0 1 2 1 0 1 5 1-8 1 10 1-2 1-3 1-3 1 3 1-2 1 1 1 5 1-4 1-2 1-2 1-1 1 6 1 1 1-6 1 6 1 1 1-5 1-3 1 1 1 3 1 2 1 0 1-2 1 2 1 0 1-3 1-2 1-3 1 3 1 1 1 2 1-2 1 1 1 2 1-4 1 0 1 1 1 2 1 7 1-8 1 1 1-3 1 7 1-1 1-4 1 2 1-3 1 6 1 0 1-6 1 4 1-5 1-2 1 7 1-3 1 4 1-2 1-2 1 4 1-3 1 0 1-1 1 2 1-3 1 0 1 5 1-3 1 2 1-5 1 2 1-2 1 0 1 5 1-1 1 4 1-7 1 1 1 0 1 4 1-4 1-3 1 3 1-1 1 2 1 1 1-2 1 3 1-1 1 1 1-2 1-1 1-3 1 1 1 0 1-1 1 3 1 10 1-7 1 0 1-2 1-2 1 0 1-2 1 1 1 1 1 1 1 1 1-3 1 1 1 0 1 6 1-3 1 0 1-1 1-1 1 1 1 0 1 1 1 5 1-7 1 7 1 3 1-7 1-5 1-1 1 4 1 1 1 1 1-3 1 2 1-1 1-3 1-1 1 4 1-2 1 6 1-3 1 1 1-4 1-2 1 2 1 6 1 0 1-1 1-7 1 2 1 3 1-1 1-2 1-1 1 4 1-3 1-2 1 3 1 0 1 5 1-6 1 3 1-3 1 6 1-5 1 2 1 4 1-5 1-2 1 0 1-1 1 0 1 1 1 5 1 6 1-10 1-1 1 0 1 1 1 3 1-3 1 1 1 1 1-1 1-4 1 4 1 1 1-4 1 1 1 3 1-5 1 2 1 2 1-1 1 2 1 0 1-3 1-1 1-1 1 3 1 1 1 1 1-3 1 2 1-3 1 1 1 1 1-3 1 5 1 3 1 7 1-8 1-1 1-2 1-1 1 0 1 4 1-4 1-2 1 6 1-1 1-3 1-1 1 0 1 2 1 2 1 0 1 0 1-5 1 5 1 2 1 1 1-5 1-1 1 4 1-6 1 3 1-1 1 7 1-9 1 2 1 1 1 3 1-5 1 1 1 4 1-3 1-2 1 1 1-4 1 2 1-2 1 2 1 1 1-2 1 2 1 1 1 2 1 3 1-7 1 1 1 1 1-1 1 2 1 0 1 0 1-1 1 4 1-3 1 0 1-1 1 3 1-1 1 4 1-7 1 1 1 2 1-4 1 7 1-4 1 6 1-9 1 4 1-3 1 2 1 2 1-4 1 0 1 0 1 5 1-6 1 2 1-2 1 4 1-1 1 1 1 2 1-4 1 1 1-4 1 4 1 3 1-5 1 3 1-3 1 5 1-5 1 0 1 8 1-9 1 4 1 0 1-2 1-2 1 1 1 0 1 6 1 1 1-1 1 0 1-3 1 0 1 3 1-4 1-1 1-1 1 2 1-3 1-1 1 0 1 3 1 4 1-5 1 4 1-4 1 1 1 2 1-1 1-4 1 1 1 1 1 9 1-7 1 6 1-9 1 2 1 4 1-7 1 3 1-1 1 3 1 0 1 0 1-2 1-2 1-1 1 2 1 1 1-2 1-2 1 4 1 4 1-5 1 0 1 4 1-1 1 2 1-1 1-3 1 5 1-8 1 3 1 2 1 0 1 2 1-7 1-1 1 9 1-9 1 3 1 1 1 2 1-4 1 3 1-2 1 1 1 2 1-2 1 2 1-2 1 0 1 4 1 0 1 0 1 0 1-5 1-1 1 4 1-1 1 5 1-7 1 4 1 0 1-4 1 4 1 0 1-4 1-1 1 6 1-3 1 0 1-2 1 6 1 0 1-6 1 2 1 3 1 9 1-12 1 0 1-3 1 10 1-5 1-4 1 1 1 2 1-3 1 3 1 1 1-1 1-2 1-2 1 5 1-5 1-1 1 3 1 0 1-3 1 3 1 3 1-2 1-3 1 11 1-6 1-4 1-2 1 2 1 0 1 6 1 8 1-12 1-3 1 4 1 2 1-2 1 1 1-7 1 13 1-12 1 3 1 1 1 0 1 0 1 2 1-6 1 2 1 1 1-2 1 1 1 1 1 1 1 3 1-5 1 0 1 6 1 0 1 0 1-7 1 3 1-2 1-1 1 6 1-7 1 2 1 0 1 2 1-3 1 0 1 2 1-4 1 5 1-4 1 2 1 1 1 4 1-4 1 0 1-1 1 1 1 0 1 1 1-2 1-1 1 3 1-2 1 2 1-1 1-1 1 4 1 0 1 1 1-5 1 2 1 1 1-5 1 5 1-2 1-3 1 0 1 6 1-3 1-3 1-1 1 5 1-3 1 4 1-1 1-1 1-1 1 2 1-3 1 0 1-1 1-1 1 6 1-3 1-1 1 6 1-4 1 5 1-4 1 7 1-9 1-1 1 6 1-1 1-6 1 2 1 7 1-2 1-1 1-4 1 0 1-4 1 2 1 2 1-2 1 0 1 6 1-4 1 0 1-3 1 3 1-1 1 0 1 6 1-4 1 2 1 3 1-4 1 1 1 0 1-3 1 3 1-3 1-1 1-2 1 7 1-5 1 4 1 5 1-5 1 1 1-4 1-1 1 0 1 3 1 2 1 4 1-5 1-6 1 6 1 0 1-3 1-2 1 4 1 0 1-3 1 1 1 0 1 3 1-3 1 3 1 2 1-4 1-5 1 8 1-7 1 2 1 6 1-3 1 3 1-5 1 1 1 5 1 2 1-10 1 4 1 1 1 3 1-7 1 3 1-3 1 3 1-3 1 5 1-1 1-1 1 0 1 1 1-4 1 3 1-2 1-1 1 0 1 0 1 1 1 0 1 1 1-1 1-3 1 2 1 2 1 2 1-1 1 2 1-1 1-3 1 2 1-5 1 3 1 1 1 1 1-1 1-1 1 3 1-1 1 0 1 1 1-2 1-1 1 3 1-4 1 3 1 1 1 0 1-1 1-3 1 0 1 2 1 2 1-6 1 2 1 3 1-3 1 3 1 9 1-3 1-4 1 0 1-2 1-1 1 1 1-3 1 5 1 1 1-4 1-3 1 5 1 4 1-2 1-4 1-1 1-1 1 0 1 4 1-3 1 5 1-7 1 8 1-9 1 5 1 4 1-8 1 3 1-1 1 2 1-1 1 0 1 4 1-2 1-1 1 1 1-6 1 2 1 2 1-1 1 6 1-5 1 2 1-7 1 5 1 0 1 2 1-1 1-5 1 4 1 2 1 2 1-1 1-2 1-2 1-1 1 1 1 10 1-7 1 2 1 3 1 0 1-6 1-4 1 2 1 0 1 6 1 2 1-5 1 0 1-2 1-4 1 3 1 2 1-1 1-1 1 4 1-4 1 1 1-2 1 2 1-2 1-1 1 4 1-1 1 2 1-1 1-4 1 7 1-5 1-2 1 1 1 3 1-4 1 4 1-1 1 0 1-2 1 0 1 1 1 0 1 0 1 5 1 0 1-3 1 2 1 0 1 0 1 0 1-6 1 6 1 0 1-3 1-3 1 2 1 0 1 1 1 3 1-3 1 1 1 3 1-1 1-4 1 1 1-3 1 1 1 2 1 7 1-7 1 2 1-2 1-3 1 4 1-1 1-2 1 0 1 3 1 2 1-7 1 3 1 3 1-4 1 4 1-3 1-2 1 1 1 3 1-3 1-2 1 11 1-2 1-9 1 6 1-3 1 5 1-3 1 0 1 0 1-3 1 9 1-7 1 0 1-1 1-1 1 3 1-6 1 4 1 2 1 1 1-1 1 1 1-2 1-2 1 3 1 0 1 2 1 0 1 5 1-7 1-5 1 2 1 4 1-4 1 1 1 6 1-3 1-4 1 3 1 1 1 3 1 0 1-3 1 0 1-4 1-1 1 3 1 0 1 4 1-1 1 1 1-7 1 4 1-4 1 3 1-1 1-1 1-2 1 2 1-3 1 4 1-1 1 7 1-9 1 5 1-2 1 4 1-1 1-5 1 4 1 2 1-3 1 3 1-4 1-1 1 1 1 6 1-5 1 0 1-2 1 2 1-2 1 3 1-1 1-4 1 3 1 1 1 0 1-2 1 4 1 3 1-5 1 5 1-4 1-2 1 2 1 5 1 3 1-9 1 2 1 2 1-8 1 5 1-4 1 4 1-2 1 4 1-1 1-3 1-2 1 5 1 0 1-1 1 7 1-12 1 1 1 3 1-2 1 0 1 2 1 3 1 7 1-12 1 4 1-3 1 2 1-3 1-2 1 10 1-7 1 1 1 2 1 2 1-3 1 5 1-9 1 6 1-4 1-1 1 2 1 3 1 4 1-6 1 4 1-5 1-2 1 0 1-1 1 1 1 5 1-4 1 0 1-2 1 0 1 1 1-1 1 2 1-1 1-1 1 6 1 3 1-5 1 3 1-2 1-2 1 2 1-1 1-2 1 1 1 4 1-5 1 4 1-5 1 1 1-1 1 0 1 0 1 7 1-3 1-4 1 3 1 1 1 2 1-5 1 4 1 2 1-9 1 2 1 3 1-5 1 2 1 5 1-2 1 8 1-8 1 3 1-3 1 0 1 0 1-3 1-1 1 2 1-3 1 7 1 0 1-3 1 3 1-1 1 0 1-1 1 1 1-4 1 2 1-1 1-2 1 4 1-2 1 4 1-3 1 0 1 2 1 1 1-1 1 1 1-7 1 6 1 4 1 1 1-8 1 1 1 7 1-9 1 2 1 4 1 0 1-6 1 1 1-1 1 4 1-1 1-1 1 3 1 2 1-7 1 4 1-2 1 1 1-1 1-2 1 1 1-4 1 7 1-3 1 3 1 3 1-6 1 4 1 2 1-2 1-2 1 2 1-2 1-2 1-2 1 7 1-6 1-1 1 10 1-11 1 3 1-3 1 2 1 0 1 7 1-1 1-2 1 1 1-2 1 1 1-1 1 0 1 3 1-3 1 0 1 5 1-5 1 7 1-7 1 2 1-1 1-4 1 6 1 0 1-7 1 8 1-10 1 3 1 5 1-4 1 4 1-3 1-2 1 2 1 0 1 3 1-6 1-1 1 5 1-1 1-1 1 8 1-6 1-1 1 2 1 4 1-8 1 3 1-1 1 0 1 0 1-2 1 1 1 0 1 0 1 3 1 5 1 2 1-5 1-2 1 11 1-12 1 7 1-10 1 1 1 1 1 3 1-6 1-1 1 12 1-5 1-4 1 0 1-3 1 5 1-3 1 4 1 2 1-4 1-4 1 0 1-1 1 6 1 0 1-2 1-1 1 8 1 4 1-11 1 3 1-5 1 6 1 0 1-6 1 0 1 1 1-1 1 3 1-2 1 3 1-1 1-2 1 5 1-3 1 4 1-2 1-1 1 3 1-1 1-6 1 7 1-5 1 5 1-2 1-2 1 4 1-3 1 5 1 0 1-6 1 0 1 3 1-4 1 4 1-3 1-1 1 4 1-5 1 2 1 5 1-2 1-2 1-4 1 2 1 3 1-1 1 2 1-5 1 4 1 1 1-4 1 3 1-4 1 1 1 5 1-3 1-4 1 1 1 4 1 0 1 2 1-4 1 0 1 1 1 3 1-3 1 3 1-4 1 0 1 1 1-2 1-1 1 4 1-3 1 2 1-3 1 0 1 7 1-8 1-2 1 4 1 3 1-2 1-4 1 4 1-1 1-3 1 0 1 3 1-2 1 5 1-5 1 1 1 1 1 0 1 2 1-3 1 2 1 0 1-1 1 2 1 0 1 12 1-14 1 0 1 5 1-2 1 3 1-7 1 0 1-1 1 0 1 5 1 1 1-4 1 5 1-5 1-2 1 0 1 1 1 2 1-2 1 4 1-5 1 5 1-2 1 1 1-4 1 4 1-5 1 1 1 4 1-4 1 5 1 1 1 0 1-3 1-2 1-1 1 1 1-1 1 5 1 4 1-8 1 3 1 6 1-5 1-3 1 5 1-3 1-5 1 9 1-1 1-1 1-1 1-2 1 3 1 0 1-5 1 5 1-3 1-2 1-1 1-1 1 6 1-1 1 6 1-3 1-7 1 2 1 5 1-5 1-1 1 4 1-1 1 2 1-4 1 1 1 3 1 0 1-2 1 0 1-2 1-1 1-1 1 4 1-6 1 3 1 9 1-3 1-5 1 5 1-6 1 2 1 0 1 0 1-1 1 7 1-8 1 2 1 0 1 5 1-2 1-3 1-1 1 2 1-3 1 3 1-2 1 6 1-5 1 4 1-1 1 0 1 0 1 1 1-5 1 4 1-4 1 5 1-4 1 2 1 1 1-4 1 2 1-3 1 4 1-1 1 5 1-1 1-5 1 2 1-4 1 2 1-1 1 0 1-2 1-2 1 6 1 2 1 3 1-6 1-2 1 6 1-3 1 2 1-4 1-2 1 2 1-3 1 0 1 3 1 1 1-2 1 6 1-4 1-2 1 1 1-2 1 4 1 3 1-4 1 2 1 1 1-1 1-4 1 1 1 3 1 0 1-4 1 0 1 2 1-3 1 2 1 6 1-2 1-5 1-1 1 0 1 8 1-2 1-2 1-4 1 1 1 1 1 0 1-4 1 1 1 3 1-1 1 2 1-2 1 4 1-5 1 4 1 0 1 6 1-7 1 2 1 0 1-2 1 4 1-3 1-3 1 4 1-3 1 1 1-1 1 7 1-5 1 7 1-8 1-2 1 3 1-1 1 0 1 1 1 0 1-4 1 3 1 8 1-5 1-3 1-3 1 3 1 2 1-2 1 0 1-5 1 6 1-5 1 8 1-1 1-1 1 0 1-1 1 3 1-1 1-2 1-2 1 0 1-1 1 3 1 5 1-7 1-4 1 1 1 2 1 5 1 2 1 0 1-2 1-5 1-1 1 2 1 3 1 0 1-2 1 0 1 1 1 2 1 1 1-3 1-3 1 3 1-1 1 0 1 1 1-5 1 5 1 0 1 0 1 4 1-1 1-5 1 4 1-3 1 1 1 5 1-7 1-1 1 2 1-2 1 3 1-4 1 6 1-2 1 2 1-3 1-4 1 7 1 0 1-6 1 9 1-8 1-2 1 3 1-2 1 3 1-1 1-1 1-1 1 6 1-6 1 2 1 0 1 2 1 4 1-5 1 2 1-3 1 3 1 1 1 2 1 0 1-6 1 1 1 2 1-5 1 3 1 1 1-1 1 1 1-2 1 1 1-1 1 8 1-7 1-1 1-1 1 5 1-1 1-1 1-3 1 0 1 1 1 5 1 1 1-8 1-1 1 3 1 4 1-7 1 9 1-3 1-5 1 2 1 0 1 0 1-2 1 4 1 5 1-1 1-7 1 0 1 7 1-3 1 0 1 0 1-3 1 2 1 0 1 3 1-7 1 6 1-1 1 4 1-2 1 1 1-4 1 0 1 0 1 1 1 0 1-4 1 4 1 0 1 7 1-12 1 5 1-2 1-3 1 3 1-2 1 0 1 4 1-3 1 2 1 4 1-3 1-1 1 0 1 4 1-4 1-2 1 2 1-3 1 5 1-3 1-2 1 1 1 0 1 1 1-1 1 6 1-10 1 10 1-2 1-3 1 2 1 0 1-3 1 0 1-1 1 3 1-2 1 5 1-5 1 1 1 2 1 2 1-3 1-1 1 0 1-5 1 6 1 5 1-8 1 3 1 1 1-3 1 4 1-6 1 4 1 1 1-1 1 3 1-6 1 2 1 1 1 2 1-5 1 6 1-3 1 2 1-2 1-2 1 5 1-3 1 0 1 0 1 0 1-3 1 2 1-1 1 3 1 0 1-2 1 3 1-1 1-4 1 1 1 0 1 1 1 1 1 1 1-4 1-1 1 3 1 3 1-3 1-3 1 5 1-2 1-1 1 2 1 1 1-1 1-1 1-1 1 6 1-6 1 0 1-1 1 4 1-3 1 1 1-2 1 3 1-1 1 5 1-6 1 0 1 3 1 0 1 0 1-3 1 0 1 4 1-4 1-2 1 2 1 0 1 0 1 1 1 3 1-5 1 5 1-1 1-2 1-3 1 3 1 2 1 3 1-3 1-5 1 4 1-4 1 5 1-4 1 0 1 3 1 3 1-5 1-3 1 2 1 1 1-1 1 3 1-3 1-1 1 7 1-4 1-1 1-1 1-1 1 2 1 0 1-1 1 3 1 2 1-2 1-3 1 2 1-2 1 6 1-5 1-2 1 2 1 3 1 0 1-4 1 0 1 4 1-2 1 6 1-3 1 0 1-5 1 2 1 4 1-5 1 2 1-2 1 5 1-2 1-3 1 0 1-1 1 1 1-1 1 6 1-3 1 1 1 0 1-5 1 5 1-1 1 3 1-7 1 7 1-8 1 6 1-4 1 2 1 0 1-1 1-1 1 0 1 4 1 2 1-3 1-3 1 0 1 8 1-10 1 6 1 5 1-5 1-2 1 7 1-7 1 4 1-7 1 3 1 8 1-6 1-3 1 2 1 3 1 0 1-6 1-3 1 4 1 4 1 2 1 3 1 0 1-9 1-3 1 5 1 7 1-5 1-6 1 6 1-1 1-4 1 3 1 4 1-3 1-2 1 3 1 0 1-8 1 7 1-2 1 0 1-4 1 11 1-8 1 0 1-2 1 2 1 4 1-6 1-2 1 13 1-7 1 5 1-6 1 5 1-8 1 8 1-3 1-1 1 1 1 6 1-4 1-5 1-4 1 2 1 4 1 1 1-1 1-2 1 5 1-5 1-2 1 4 1 8 1-13 1 0 1 6 1-3 1 3 1-4 1 5 1-3 1 6 1 2 1-10 1 1 1 2 1 2 1 6 1-5 1-5 1-1 1 4 1-5 1 1 1 3 1 0 1-3 1 2 1 0 1 0 1 0 1 4 1-3 1-3 1 2 1-4 1 6 1-4 1 4 1 4 1-6 1 5 1-2 1-4 1 1 1 1 1 2 1-3 1-1 1 0 1-1 1 1 1 2 1 2 1-1 1-1 1 0 1 9 1-10 1-1 1 6 1-5 1-1 1 4 1-1 1-4 1 3 1-2 1 1 1 3 1-5 1-2 1 3 1 0 1 1 1-1 1 3 1-1 1-2 1 2 1-1 1 4 1-3 1 4 1-6 1 3 1-2 1 0 1-1 1 0 1-2 1 10 1-2 1-6 1-1 1-1 1 1 1 7 1-6 1 2 1-2 1 0 1 0 1-4 1 1 1 8 1-3 1-2 1 0 1 6 1 0 1-3 1-1 1 0 1-2 1-2 1 4 1 2 1-1 1 1 1-3 1-1 1 3 1 1 1 0 1-5 1 3 1 2 1-5 1 10 1-5 1 0 1-2 1 5 1-2 1-3 1-2 1 2 1-2 1 0 1 5 1-6 1 1 1-3 1-1 1 5 1 6 1-8 1 0 1 1 1-1 1-1 1 4 1-3 1-1 1 1 1-1 1 4 1-3 1-2 1 4 1 2 1-3 1-2 1 3 1-1 1 1 1 0 1 1 1-3 1 2 1 0 1 0 1-3 1 3 1-4 1 3 1 6 1-5 1-1 1 5 1-5 1 0 1-1 1-2 1 3 1 1 1-2 1 2 1 1 1-1 1 0 1 2 1-5 1 7 1-5 1-2 1 3 1 0 1 6 1-5 1 2 1-4 1-1 1 1 1 3 1-3 1 3 1 1 1-4 1 1 1 3 1-2 1-3 1-1 1 0 1-1 1 2 1 1 1 2 1 0 1 3 1-7 1-1 1 9 1-6 1-1 1 4 1-5 1 2 1-1 1-2 1 1 1 1 1 14 1-9 1-6 1 0 1 2 1 2 1 3 1-5 1 1 1 1 1-4 1 2 1 6 1-3 1-2 1 1 1-5 1 2 1 3 1-3 1 3 1 2 1-4 1 1 1 4 1-2 1-4 1-2 1 4 1 2 1-4 1 1 1 5 1-1 1-3 1 4 1-5 1 0 1 0 1 2 1 0 1-3 1-1 1 2 1 10 1-5 1-1 1-2 1-3 1 2 1 2 1 1 1 1 1 2 1-9 1-1 1 6 1-3 1 2 1 2 1-3 1 0 1 2 1 2 1-1 1-4 1 0 1 2 1 4 1 3 1-5 1-6 1 5 1-1 1-3 1 4 1 1 1-1 1-3 1 4 1-1 1 2 1-8 1 2 1 2 1 0 1 0 1-2 1 9 1-4 1-6 1 0 1 3 1 2 1 1 1-3 1 0 1-2 1 0 1 2 1 0 1 1 1-4 1 2 1 0 1 3 1 3 1-4 1-1 1 2 1 1 1 1 1 2 1-6 1 0 1 0 1-1 1 2 1 2 1 0 1-1 1 3 1-4 1 0 1-3 1-1 1 1 1-1 1 3 1-3 1 8 1-5 1 0 1 4 1-1 1-4 1-3 1 7 1-5 1 2 1 8 1 1 1-8 1-3 1 0 1 5 1-4 1-1 1-2 1 3 1-2 1 8 1 0 1-2 1-4 1-2 1 6 1-4 1-4 1 4 1-1 1 2 1-1 1 5 1-2 1-3 1 2 1 9 1-5 1-8 1 5 1-5 1 4 1-1 1-1 1 2 1-2 1-3 1 3 1-2 1 3 1-2 1-1 1 6 1 1 1 0 1 0 1-4 1 4 1-4 1 1 1-4 1 4 1 2 1-3 1 4 1-5 1-1 1 7 1-6 1-3 1 3 1 6 1-7 1 4 1-1 1 1 1-1 1 0 1 4 1-5 1 3 1 3 1-5 1 0 1 0 1-3 1 1 1 4 1-2 1 0 1 2 1-2 1-1 1 7 1-10 1 1 1 7 1-6 1 4 1-1 1-1 1 1 1-1 1-3 1-1 1 2 1 0 1-2 1 7 1-4 1-3 1 2 1 1 1-1 1 2 1-1 1 0 1-2 1 2 1-1 1 2 1-1 1 2 1-1 1 0 1 0 1 2 1 0 1-5 1-3 1 4 1 3 1-2 1-2 1 1 1 2 1-1 1 2 1 0 1-3 1-1 1-1 1 0 1 4 1-5 1 8 1 0 1-3 1-1 1-1 1 3 1-2 1 0 1 1 1 2 1 1 1 2 1 3 1-10 1 3 1-4 1 1 1 1 1 5 1-4 1-3 1 6 1-5 1-3 1 4 1 0 1-2 1-1 1 2 1-2 1 6 1 0 1-3 1 0 1-1 1 3 1 0 1-2 1-1 1-1 1 5 1-2 1-4 1 3 1 0 1 1 1 2 1-2 1-3 1 2 1 1 1 2 1 7 1-14 1 3 1 1 1-1 1 2 1-3V0" fill="#0000ff" stroke="#00008b" stroke-width="0.85" vector-effect="non-scaling-stroke"/></g>
<path d="M259 264.5H270.5M259 403.5H270.5" fill="none" stroke="#333" stroke-width="1"/>
<path d="M270.5 264.0V404.0" stroke="#858575" stroke-width="1"/>
<text x="252.4" y="267.3" class="ax">5</text>
<text x="252.4" y="406.1" class="ax">0</text>
<text x="74" y="339.7" class="nm">GSM5550317</text>
<g transform="translate(271.0 557.0) scale(0.33333 -7.72222)"><path d="M0 0V3l1 2 1 4 1-6 1 3 1-5 1 2 1-1 1 3 1 4 1 2 1-6 1 6 1-1 1-1 1-2 1-1 1-2 1 3 1 2 1 1 1-6 1 3 1 1 1-5 1 1 1 2 1 3 1-6 1-1 1 2 1 0 1 1 1-3 1 4 1-1 1 1 1-2 1-2 1 4 1 0 1 4 1-6 1 6 1-3 1 5 1-6 1 1 1-2 1 4 1 2 1-7 1-1 1 6 1 2 1-2 1-2 1 1 1-5 1 2 1 4 1-7 1 13 1-3 1-7 1 2 1-2 1-1 1 2 1 3 1-5 1 0 1 5 1 3 1-4 1 1 1-6 1 2 1 9 1-5 1 2 1-11 1 6 1 4 1-5 1-2 1 8 1-5 1-1 1 3 1 1 1-5 1 2 1 8 1-9 1-2 1 2 1 0 1 0 1-3 1 3 1 1 1 1 1 2 1 2 1-2 1-2 1 1 1-1 1-3 1 3 1-3 1 5 1-2 1 0 1 1 1-3 1 0 1 0 1-1 1 1 1-3 1 7 1 6 1 3 1-10 1 9 1-9 1 0 1-5 1 7 1-5 1 0 1 3 1-1 1 1 1-5 1 4 1-4 1-3 1 4 1 6 1-1 1-3 1-3 1 9 1-9 1 0 1 0 1 1 1 0 1 1 1-1 1 3 1-1 1-2 1-3 1 2 1 3 1 0 1-3 1 6 1 0 1-5 1 4 1-5 1 4 1 6 1-7 1 0 1 1 1-2 1 2 1-1 1-1 1 4 1 7 1-12 1-1 1 3 1 1 1 6 1-9 1 3 1-1 1-3 1 4 1-4 1 0 1 10 1-3 1-7 1 9 1-5 1 7 1-2 1 3 1-10 1 0 1 4 1 0 1-2 1-2 1 1 1 2 1-2 1-3 1 4 1 2 1-8 1 4 1 3 1 1 1-1 1 1 1 2 1-7 1 1 1 4 1 0 1-5 1-2 1 2 1 2 1-3 1 3 1-2 1-1 1 6 1-4 1 2 1-4 1 2 1 3 1-4 1 4 1 4 1-7 1-1 1 1 1 2 1-1 1-2 1 6 1-2 1 2 1-3 1 1 1-1 1 3 1 3 1 1 1 0 1-5 1-3 1-3 1 6 1 1 1 0 1-6 1-1 1 6 1-1 1 0 1-2 1-4 1 4 1 5 1-5 1 5 1 2 1-8 1-3 1 2 1-3 1 5 1-4 1 5 1 0 1-3 1 1 1 1 1-2 1 6 1 2 1-7 1 6 1-7 1 0 1 2 1 5 1-2 1-5 1 5 1-1 1-6 1 1 1 2 1-1 1 1 1 5 1-4 1-4 1 14 1-7 1-4 1 1 1-4 1 4 1-3 1 3 1 5 1-2 1-4 1 0 1 5 1-3 1 3 1-4 1-2 1 4 1 2 1 0 1 3 1-4 1-2 1-5 1 3 1 3 1-4 1 4 1 2 1-6 1 0 1-3 1 6 1 2 1-1 1-3 1-2 1 3 1-4 1 8 1-4 1 0 1-3 1 3 1 2 1-2 1 1 1-3 1 4 1 1 1-1 1 2 1-3 1 1 1 0 1 0 1-1 1 2 1-4 1 0 1 4 1-3 1-3 1 3 1 7 1-10 1 3 1 6 1 3 1-13 1 4 1 4 1 1 1-8 1 3 1 3 1-3 1-1 1 2 1-3 1 6 1-6 1 0 1 0 1 2 1 0 1-4 1 0 1 3 1 3 1-6 1 5 1 0 1 3 1-6 1 10 1-5 1 3 1-6 1 4 1-5 1-1 1 6 1 0 1-1 1-6 1-1 1 6 1-4 1-1 1 5 1-4 1 2 1-1 1 1 1-2 1-1 1-1 1 7 1-8 1 6 1-1 1 8 1-9 1 1 1 0 1 0 1-2 1 2 1 1 1 3 1-5 1-3 1 9 1-9 1 0 1 6 1-4 1 2 1 1 1-5 1 13 1 2 1-10 1 1 1 2 1-4 1-3 1 1 1 4 1 3 1-7 1 7 1-4 1-3 1 3 1-1 1 2 1-2 1 4 1 7 1-3 1-10 1 2 1-1 1 4 1-5 1 1 1 2 1 3 1-6 1 3 1-5 1 4 1 4 1-6 1 4 1-7 1 5 1 2 1 1 1-5 1 2 1-2 1-1 1 2 1 3 1-1 1-1 1 0 1-2 1 5 1-5 1 2 1 6 1-5 1-1 1 2 1 7 1-4 1 1 1-6 1 9 1-6 1 8 1-4 1-1 1-8 1 3 1 4 1-6 1 0 1 3 1 4 1-8 1 6 1-4 1-2 1 4 1-3 1-1 1-1 1 4 1-5 1 4 1 2 1 2 1-4 1 0 1-1 1-1 1 8 1-7 1-2 1 1 1 1 1-2 1 4 1-1 1 2 1-2 1 0 1 3 1 0 1-3 1-6 1 6 1 0 1 1 1 0 1-1 1 1 1-3 1 1 1 3 1 0 1 1 1-2 1 2 1-1 1-5 1 0 1 6 1-4 1 7 1-3 1-5 1 1 1-2 1 4 1 1 1-3 1 4 1-3 1-1 1 10 1-7 1-1 1 3 1-3 1 2 1 4 1-4 1 0 1-6 1 0 1-2 1 3 1 4 1 0 1-5 1 7 1 1 1 3 1-9 1 5 1 3 1-4 1-2 1 5 1-3 1-4 1 0 1 7 1-6 1 7 1-7 1 0 1 7 1-6 1-2 1-3 1 10 1-1 1-6 1 4 1-5 1 1 1 2 1-5 1 0 1 0 1 3 1 1 1 0 1-1 1 2 1 0 1-2 1 1 1-1 1-1 1 1 1 8 1 0 1-4 1-3 1-4 1 1 1 3 1-3 1 8 1-3 1-3 1 7 1-4 1-3 1 7 1-1 1-8 1 5 1 2 1-7 1-1 1 1 1 4 1 2 1 3 1-4 1-6 1 10 1-5 1 2 1-5 1-1 1 8 1-4 1 3 1-6 1 3 1 0 1-2 1 4 1-4 1-3 1 6 1-3 1 4 1 1 1 2 1-6 1 1 1 3 1-6 1 1 1-2 1 1 1 3 1 0 1 6 1 4 1-8 1 0 1 5 1-6 1-5 1 3 1-1 1 3 1 3 1-8 1 8 1-10 1 2 1 1 1 12 1-14 1 0 1 12 1 0 1-9 1 1 1-2 1 0 1 1 1 1 1 1 1 1 1 2 1-7 1 6 1 1 1-4 1-1 1 2 1-1 1 0 1-3 1 6 1-7 1 11 1-6 1 1 1-4 1-1 1 0 1 6 1-5 1 4 1-3 1 8 1-4 1-5 1 3 1-2 1 0 1 6 1-2 1-5 1-1 1 0 1 2 1 3 1 4 1-7 1-2 1 8 1-8 1 4 1 0 1 1 1-2 1 7 1-4 1-2 1 0 1-1 1 0 1 6 1-3 1-5 1 8 1-3 1-1 1 4 1-10 1 3 1 5 1-7 1 2 1 1 1 2 1-7 1 1 1 0 1 2 1 9 1-8 1 5 1-6 1 2 1 4 1 1 1-4 1-2 1 10 1-5 1 4 1-13 1 9 1-7 1 6 1 1 1-3 1 5 1 1 1-7 1 0 1 4 1-1 1-3 1 1 1-2 1 2 1 5 1-1 1 1 1-4 1 8 1-14 1 5 1 1 1-5 1 1 1 2 1 6 1-2 1-4 1-4 1 0 1 1 1 1 1 1 1 9 1-3 1-1 1 3 1-6 1-1 1 2 1-6 1 3 1 4 1-1 1-1 1-1 1-3 1 9 1-6 1 0 1-1 1 1 1 1 1-1 1-3 1-1 1 2 1 5 1-2 1-1 1-3 1 2 1 0 1 1 1 3 1-6 1 3 1 0 1-4 1 3 1 0 1 3 1-2 1 0 1 2 1 2 1-3 1 4 1-5 1 2 1-2 1 1 1 1 1 4 1-6 1-3 1 5 1-6 1 0 1 5 1-3 1 3 1-5 1 3 1-3 1 6 1 1 1-3 1 4 1-3 1-2 1 4 1 1 1 7 1-9 1 3 1-4 1-2 1 3 1-2 1-5 1 5 1-4 1 3 1 11 1-12 1 5 1-2 1 5 1-1 1 1 1-4 1 8 1-12 1 4 1-6 1 6 1-3 1 5 1-8 1 0 1 8 1-2 1-3 1 1 1 3 1-3 1-1 1 6 1 0 1-9 1 4 1-1 1-1 1 4 1-2 1 1 1 3 1-7 1 2 1 6 1-6 1 7 1-2 1-4 1 1 1-2 1 5 1-3 1 5 1-7 1 0 1-4 1 4 1 2 1 2 1-5 1 3 1-1 1-1 1 4 1 0 1 0 1-4 1 8 1-9 1 9 1-5 1 7 1-6 1-1 1 0 1 10 1-12 1 2 1-4 1 2 1 2 1 1 1 7 1-11 1-3 1 2 1 0 1 1 1 2 1-1 1 0 1 1 1 4 1-3 1-2 1 2 1-1 1 5 1-10 1 4 1 0 1-2 1 0 1 7 1-6 1-2 1 4 1-4 1 6 1-4 1 2 1 0 1 1 1-2 1 5 1-7 1 0 1 2 1 4 1-1 1-4 1-1 1 5 1-2 1-2 1 7 1-4 1 1 1-3 1 3 1 2 1-4 1-3 1 3 1-3 1 1 1 3 1-1 1-5 1 6 1-3 1 3 1 3 1-6 1 5 1-4 1 7 1 1 1-9 1 1 1 0 1-3 1 0 1 4 1-1 1-1 1 2 1-1 1 0 1 2 1 0 1 1 1-2 1 2 1-4 1 0 1-2 1 5 1 2 1-3 1-1 1 3 1-1 1-2 1-3 1 5 1-6 1 6 1-5 1 0 1 6 1-5 1 0 1 5 1-6 1-2 1 5 1 2 1 3 1-7 1 2 1-4 1 8 1-3 1 2 1-1 1-3 1 2 1 0 1-2 1-1 1 0 1 3 1 1 1 2 1-7 1 3 1-2 1 4 1 2 1-1 1-3 1 4 1 1 1-3 1 3 1-8 1 0 1-1 1 6 1 2 1 4 1-1 1-9 1 5 1-1 1 2 1-7 1 6 1 5 1-3 1-2 1-4 1 2 1-1 1 3 1-3 1 8 1-9 1 1 1 6 1-8 1 1 1 6 1-2 1-3 1 4 1-2 1-1 1-1 1-1 1 2 1 1 1-3 1 3 1-2 1-6 1 4 1 7 1 3 1-9 1-2 1 6 1-6 1 4 1-4 1 6 1-4 1 6 1-5 1 3 1 3 1 6 1-10 1-4 1 0 1 8 1-2 1-3 1 2 1 3 1-8 1 9 1-3 1-6 1-2 1 2 1 2 1-3 1 3 1-2 1 6 1 8 1-13 1 7 1-2 1 0 1 1 1 0 1-8 1 5 1-3 1 1 1-5 1 3 1-1 1 4 1 0 1-1 1 6 1-5 1-2 1 4 1 2 1 4 1-11 1 4 1 2 1-9 1 5 1 1 1-2 1 1 1 2 1-1 1 2 1-3 1-2 1 0 1 0 1 3 1 5 1-7 1 1 1 5 1-9 1 1 1 7 1-3 1 2 1 1 1-2 1 3 1-6 1 6 1-5 1-2 1 3 1 4 1-7 1-1 1 10 1-1 1-3 1-2 1-1 1 2 1 0 1-3 1-2 1 10 1-6 1-2 1 6 1-6 1-1 1 5 1-5 1 7 1 1 1-10 1 0 1 8 1-4 1-2 1-1 1 5 1-4 1 1 1 2 1 1 1-1 1 2 1-7 1 8 1-1 1 1 1 2 1-4 1 4 1-4 1-2 1-3 1 9 1-4 1-3 1-3 1 11 1-5 1-3 1 3 1-2 1 4 1-2 1 0 1-4 1-2 1 4 1 4 1 1 1 1 1-6 1 2 1 3 1 0 1-3 1-3 1 3 1 4 1-5 1-2 1 0 1-1 1 1 1 2 1 3 1-2 1 1 1 2 1-10 1 7 1-2 1 0 1-2 1 0 1 2 1-1 1 3 1-1 1 0 1 1 1-2 1-2 1 2 1 4 1 0 1-3 1-1 1-1 1 6 1-7 1 5 1 1 1-1 1-3 1-1 1 1 1-3 1-1 1 2 1 3 1 1 1-7 1 6 1-2 1 5 1-5 1-2 1 4 1-3 1 2 1 1 1 0 1 0 1 2 1 0 1-5 1 9 1-6 1-1 1 2 1 2 1-5 1-3 1 3 1 4 1-2 1-3 1-2 1 9 1-7 1 3 1 5 1-6 1 3 1-1 1-3 1 4 1 0 1-3 1-5 1 8 1-3 1-1 1-1 1 6 1-9 1 0 1 7 1-1 1 3 1-5 1 5 1-6 1 10 1-6 1 3 1-4 1-3 1 2 1 1 1 2 1-7 1 7 1 1 1 3 1-8 1 0 1-3 1 5 1 1 1-5 1 4 1-3 1 8 1 0 1-6 1 2 1-4 1 4 1-2 1-3 1 1 1-3 1 1 1 5 1-3 1-1 1 5 1 1 1-3 1 1 1 2 1-4 1-1 1 5 1-7 1 0 1 1 1 5 1-3 1 1 1-4 1 3 1 0 1-2 1 9 1-7 1-1 1 4 1-6 1 4 1 1 1-6 1 2 1 3 1-1 1-1 1-1 1 7 1-2 1-5 1 1 1 0 1 5 1-8 1 7 1 5 1 1 1-8 1 5 1 0 1-6 1 0 1 5 1-2 1-5 1 5 1-4 1 3 1-1 1 1 1 0 1 0 1 0 1-3 1 3 1-2 1 1 1 1 1-2 1 0 1-3 1-2 1 5 1-2 1 5 1-6 1 11 1-7 1 2 1-3 1 1 1-3 1 1 1 3 1-3 1 5 1-5 1 3 1 7 1-1 1-7 1 0 1 0 1-1 1 1 1-4 1 6 1 0 1-7 1 7 1-1 1-1 1-6 1 9 1 3 1-3 1 0 1 0 1 0 1-2 1-2 1 1 1 3 1-4 1 7 1-6 1 0 1-2 1 4 1-3 1 1 1 5 1-9 1 4 1 1 1 1 1 5 1-6 1-3 1 1 1 2 1 0 1-1 1 5 1-9 1-2 1 2 1 6 1-4 1 1 1-2 1 4 1-2 1 1 1 2 1-3 1 2 1 5 1-2 1-8 1 7 1-1 1-3 1 4 1-2 1 0 1-3 1-1 1 5 1-2 1 4 1-6 1 0 1 11 1-6 1 2 1-9 1 3 1 7 1-1 1-1 1-3 1 3 1-4 1-2 1 1 1 6 1-7 1 3 1 2 1 2 1-8 1 12 1-9 1 3 1 3 1-5 1-3 1 6 1 3 1-8 1-1 1 1 1 1 1-1 1 0 1 9 1-8 1-2 1 6 1 0 1 1 1-6 1 0 1-2 1 3 1 0 1-2 1-1 1 1 1-1 1 1 1 2 1-4 1 2 1-1 1 2 1-1 1 6 1 1 1-4 1 0 1-1 1 0 1-3 1 0 1 3 1-1 1-3 1 8 1-1 1-6 1-1 1 1 1 0 1-1 1 7 1-2 1 3 1 0 1-3 1 3 1-5 1 2 1 4 1-5 1 3 1 0 1-4 1 2 1-1 1 1 1-5 1 4 1 1 1-5 1 10 1-2 1 2 1-5 1 0 1 3 1-1 1-6 1 3 1 0 1-3 1 7 1 0 1-8 1 5 1-1 1 2 1-3 1 0 1 2 1-3 1 3 1 1 1 3 1-6 1-3 1 5 1-3 1-1 1 1 1 6 1 5 1-12 1 4 1-1 1 0 1 1 1-5 1 3 1 9 1-8 1 1 1 6 1-5 1 0 1-6 1 8 1-5 1 4 1-1 1-1 1-2 1 0 1 1 1-3 1 7 1-5 1 3 1-2 1 4 1-8 1 7 1 1 1-5 1 3 1-4 1 4 1 1 1 5 1-6 1-7 1 8 1-4 1 2 1 4 1-4 1 1 1 3 1-7 1-3 1 3 1 4 1 1 1-6 1-1 1 4 1 8 1-10 1 4 1 0 1-5 1 8 1-8 1 2 1 2 1-3 1 1 1-1 1 7 1-1 1-1 1 5 1-6 1-5 1 9 1-7 1 0 1 1 1-4 1 4 1 0 1 6 1-11 1 5 1-1 1 0 1 2 1-4 1-1 1 3 1-3 1 2 1 1 1 4 1-5 1 4 1-5 1 8 1-3 1 7 1-11 1 6 1-6 1 0 1 4 1 0 1-4 1-1 1 3 1 3 1 1 1-7 1 4 1 1 1 2 1 1 1-5 1 2 1-3 1-1 1 5 1 1 1-1 1-5 1 3 1 3 1 0 1-2 1 3 1-3 1 0 1 5 1-9 1 4 1-1 1 7 1-6 1 0 1 1 1 1 1-9 1 4 1 1 1 3 1-2 1-6 1 0 1 0 1 5 1-1 1 3 1 8 1-14 1 4 1 1 1-1 1 1 1-4 1 5 1 2 1-3 1 4 1-3 1 0 1-5 1 9 1-7 1 0 1 8 1-7 1 0 1-2 1 1 1 6 1 1 1 0 1-5 1-1 1-2 1 8 1 2 1-10 1 2 1-1 1 3 1-3 1 5 1 2 1-1 1 1 1-2 1-6 1 5 1 1 1-1 1-5 1 11 1 2 1-12 1 9 1-6 1-4 1-1 1 4 1 1 1-6 1 7 1-7 1 0 1 4 1-2 1 0 1 0 1 6 1 1 1-4 1-2 1 7 1-3 1-2 1 2 1-4 1-1 1 1 1-4 1 13 1 3 1-9 1-4 1 5 1-6 1 0 1-1 1 8 1-5 1-1 1 2 1-1 1-2 1 8 1-4 1-3 1 4 1-1 1 1 1 0 1-1 1-4 1 0 1 3 1 0 1 6 1-6 1 5 1-9 1 0 1 1 1 6 1 0 1-1 1-3 1-2 1 4 1-3 1 0 1 5 1-5 1 10 1-6 1-3 1 8 1-9 1 1 1-1 1 1 1 1 1 0 1 2 1-6 1 2 1 2 1-1 1 3 1 0 1 2 1-1 1-3 1-3 1 7 1-4 1-5 1 3 1-3 1 4 1 7 1-8 1 3 1-2 1-4 1 6 1 3 1-4 1-1 1 6 1-4 1-3 1 5 1 1 1-6 1 5 1-3 1-1 1 0 1-2 1 2 1 3 1 4 1-4 1-2 1-2 1 4 1-2 1-4 1 4 1 1 1 2 1-4 1 1 1-3 1 0 1 6 1-2 1-2 1 4 1-4 1-2 1 3 1 0 1 0 1 8 1-2 1-4 1-1 1 1 1 3 1-6 1 0 1-1 1 0 1 3 1-2 1 3 1 1 1-4 1 5 1-4 1 2 1-5 1 4 1-4 1 3 1-5 1 2 1 3 1 4 1-3 1 1 1-3 1-2 1 0 1 4 1-1 1 0 1 0 1 6 1-4 1 0 1 5 1-13 1 5 1 8 1-4 1-1 1-7 1 4 1 5 1 0 1-6 1 1 1 5 1 0 1-6 1 3 1-2 1 8 1-2 1-4 1 1 1 0 1-6 1 8 1-1 1 0 1-6 1 4 1 3 1-8 1 2 1 6 1-8 1 5 1 2 1-1 1 1 1-1 1-7 1 5 1-2 1 1 1-1 1 8 1-2 1-2 1-4 1 1 1 1 1 4 1-1 1-2 1 2 1-4 1-2 1 5 1-3 1 1 1 6 1-8 1 3 1-4 1 1 1 0 1 1 1-2 1 8 1 0 1 1 1-2 1-5 1-1 1 4 1-6 1 1 1 1 1 2 1 0 1 2 1-4 1 2 1-1 1 2 1 3 1-2 1 4 1-10 1 0 1 0 1 1 1 1 1 1 1-2 1 8 1-3 1 4 1-3 1-2 1 1 1-6 1 3 1-4 1 8 1-4 1 5 1-7 1 0 1 0 1 6 1-3 1 5 1-3 1-2 1 5 1-2 1-1 1-1 1-3 1-2 1 3 1 0 1 9 1-5 1-2 1-1 1-1 1 0 1 1 1-5 1 7 1 1 1-3 1-4 1 2 1 0 1 6 1-7 1 8 1-3 1 4 1-4 1-2 1-2 1 3 1 2 1-3 1 3 1-4 1 0 1 0 1 1 1 0 1 2 1-5 1 2 1-1 1-1 1 0 1 3 1 0 1 0 1-2 1 7 1-3 1-2 1 2 1 0 1 1 1-5 1 4 1-4 1 6 1 0 1 6 1-9 1 2 1 2 1-1 1-2 1-1 1 0 1 2 1-5 1 3 1-1 1 1 1-1 1 0 1 0 1 4 1-5 1-2 1 1 1 0 1 4 1-3 1 2 1 1 1-2 1 2 1-3 1-2 1 2 1 2 1-2 1 0 1 2 1 3 1-7 1 8 1-7 1 2 1 6 1-9 1 10 1-6 1-2 1 0 1 0 1 1 1 2 1-4 1 1 1 0 1 3 1-4 1 2 1 1 1-6 1 4 1 6 1-5 1 4 1 1 1-7 1 3 1 3 1-4 1 4 1 2 1-5 1 0 1 2 1-3 1 0 1 1 1 5 1-5 1-3 1 1 1-2 1 3 1-1 1-4 1 8 1-2 1-1 1-1 1 2 1 11 1-15 1-1 1 2 1 2 1 1 1 0 1 0 1 0 1 8 1-11 1-1 1 3 1-2 1 1 1-1 1 2 1 2 1-1 1 2 1-8 1 5 1 3 1-7 1 5 1 5 1-1 1-5 1 1 1-2 1 0 1 1 1 1 1-2 1 7 1-6 1 6 1-3 1 0 1 2 1 1 1-6 1-3 1 0 1 7 1-9 1 3 1 2 1-2 1 0 1 4 1-3 1 5 1-4 1 2 1 4 1-4 1-3 1 6 1-1 1 2 1-9 1 4 1-4 1 6 1-1 1 3 1-2 1-1 1-2 1 4 1-3 1 0 1 0 1 5 1-2 1-2 1-3 1 2 1-4 1 1 1 3 1-3 1 3 1 0 1-2 1-2 1 13 1-10 1 1 1-3 1 2 1 0 1 0 1 5 1-6 1 8 1-8 1-1 1 6 1-3 1 3 1-4 1 10 1-11 1 4 1-4 1 0 1 4 1 0 1-4 1-1 1-1 1 5 1-3 1 5 1-6 1 6 1-6 1-1 1 2 1-4 1 7 1-4 1-2 1 5 1 4 1-4 1 2 1 1 1 0 1-7 1 0 1 6 1 1 1-8 1 7 1-1 1-3 1-5 1 6 1 1 1 1 1 0 1 1 1 3 1-1 1-8 1-1 1 0 1 4 1 3 1-7 1 5 1 4 1-6 1 1 1 1 1 0 1 0 1-3 1 1 1-2 1 4 1-2 1-2 1 1 1-1 1 3 1-1 1 1 1 0 1-3 1 2 1 0 1 1 1 0 1 2 1-1 1 2 1-4 1 0 1 2 1 9 1-11 1 3 1-2 1 1 1 0 1 8 1-11 1 2 1 0 1 3 1-7 1 6 1-2 1-2 1 5 1-1 1-8 1 4 1 6 1-5 1 5 1-2 1 2 1-2 1-1 1 0 1-1 1 2 1 2 1-1 1 6 1-9 1-1 1 4 1 6 1-7 1 2 1-2 1-3 1 3 1-3 1 2 1-1 1 2 1 3 1-5 1-3 1 5 1 1 1 0 1 2 1 4 1-7 1 2 1-7 1 3 1-1 1 1 1 3 1-2 1 3 1-1 1-3 1 0 1-1 1 3 1-1 1 2 1-4 1 3 1-1 1-3 1 2 1-1 1 5 1-1 1 4 1 0 1-8 1 0 1-1 1 2 1 1 1-2 1 7 1-9 1 2 1-1 1 1 1 4 1 3 1-8 1 3 1-6 1 10 1-5 1 12 1-8 1-2 1 2 1-9 1 6 1 0 1-1 1-2 1 3 1-1 1 3 1-3 1 6 1-6 1 5 1-7 1-2 1 3 1 1 1-2 1 1 1-1 1 4 1-6 1 5 1 1 1-5 1-1 1 6 1 6 1-10 1 5 1-3 1 2 1 0 1-2 1 2 1 1 1 3 1-7 1 3 1-2 1-1 1-2 1 1 1 0 1-2 1 5 1-1 1-1 1 1 1-1 1 0 1 1 1-1 1-3 1 3 1 2 1 4 1 5 1-12 1 1 1 2 1 5 1-3 1-6 1 2 1 1 1 1 1 1 1 4 1-5 1 4 1-6 1 0 1 6 1-8 1 6 1-3 1 2 1-7 1 4 1 1 1 2 1-6 1 6 1 4 1-9 1-1 1 6 1 0 1 2 1-9 1 0 1 4 1-1 1 6 1-5 1 10 1-11 1 6 1-6 1 5 1 9 1-8 1-5 1 1 1 2 1-3 1 2 1-1 1 2 1 0 1-1 1-3 1 10 1-5 1 7 1-5 1-5 1-1 1 0 1 4 1-2 1 9 1-11 1 0 1 2 1 0 1-3 1-3 1 3 1 10 1-9 1 1 1 8 1-4 1-6 1 1 1 0 1 0 1 5 1-8 1 0 1 1 1 2 1-3 1 6 1-3 1 0 1 4 1 0 1 0 1-1 1 3 1-6 1 1 1 0 1-5 1 3 1-3 1 2 1 10 1-2 1-1 1-2 1-5 1 3 1 7 1-6 1 3 1 1 1-2 1-5 1-2 1 8 1-4 1 0 1 2 1-7 1 4 1 3 1-4 1 1 1 0 1 0 1 3 1-2 1-3 1 4 1-2 1-2 1 3 1-3 1 3 1-4 1 9 1-6 1 0 1 5 1-1 1-1 1 3 1-6 1-1 1 2 1 1 1-3 1-1 1 0 1 3 1 0 1-6 1 4 1-2 1 4 1-3 1 7 1-8 1 1 1-3 1 10 1-3 1-1 1 3 1-7 1 6 1 3 1-2 1-2 1 0 1-2 1 5 1-1 1-7 1 2 1 2 1-4 1 4 1 3 1 2 1-8 1 5 1-1 1 0 1-1 1 2 1 2 1-3 1 5 1-6 1 0 1 3 1-2 1 3 1-8 1 9 1-7 1 2 1 3 1-4 1 0 1 2 1-2 1 5 1-7 1-1 1 2 1 3 1-1 1 10 1-14 1-1 1 6 1-1 1 5 1-5 1 1 1-4 1 1 1-1 1 3 1-2 1-4 1 3 1 9 1-10 1 4 1-4 1 0 1 4 1-3 1-1 1 2 1 3 1-3 1 7 1-1 1-2 1-6 1 6 1 3 1 4 1-6 1-2 1 9 1-14 1 7 1-1 1-5 1 10 1-5 1 5 1-5 1 0 1-2 1 5 1-6 1 1 1-2 1-1 1 7 1-4 1 4 1-3 1 4 1 7 1-8 1-2 1 4 1-8 1 3 1 1 1-3 1 4 1-4 1-1 1-1 1 0 1 8 1-2 1-4 1 5 1-9 1 15 1-11 1 0 1 3 1-3 1 0 1-1 1 9 1-3 1-10 1 4 1 4 1 0 1-2 1 0 1-3 1 2 1 2 1 6 1-7 1 1 1 3 1-3 1-1 1 0 1 0 1-1 1 6 1-7 1 1 1-1 1 7 1-9 1-1 1 6 1 1 1-3 1 5 1-8 1 12 1-6 1-4 1-2 1 5 1 4 1 2 1-6 1-1 1 5 1-5 1 3 1 0 1 1 1-4 1-1 1 7 1-3 1 0 1-4 1 1 1-3 1 1 1 0 1-1 1 3 1 0 1 2 1-5 1 3 1 0 1 1 1 1 1-2 1 6 1-8 1 3 1-1 1 0 1 2 1-2 1 2 1-3 1 6 1-7 1 6 1-5 1 2 1 1 1-4 1 8 1-4 1 5 1 2 1-10 1 6 1 1 1-7 1 5 1-6 1 3 1-3 1 5 1-3 1 1 1 3 1-4 1-4 1 10 1-6 1 1 1-4 1 1 1 0 1 8 1-10 1 2 1 3 1 0 1-3 1 3 1 1 1 3 1-7 1 4 1-2 1 0 1 2 1-6 1 3 1 6 1-4 1 0 1-1 1 7 1-6 1 2 1-1 1-6 1 2 1 0 1 6 1-7 1 6 1-3 1-1 1-2 1 3 1-3 1 0 1 7 1-2 1-2 1 0 1 10 1-8 1 1 1-1 1-2 1 0 1 3 1 1 1-1 1-5 1 2 1 4 1-3 1-3 1 0 1 1 1 3 1-5 1 1 1 3 1-4 1 4 1 6 1-6 1-2 1 1 1 5 1-2 1-7 1 8 1-4 1-2 1 9 1-7 1-1 1 3 1-4 1 5 1 2 1-9 1 9 1-9 1 11 1-5 1 1 1 1 1-4 1 2 1-1 1 4 1 3 1-9 1 4 1-5 1 1 1-4 1 3 1 1 1 8 1-10 1 2 1 3 1-1 1-3 1 0 1 12 1-9 1 2 1 0 1-2 1 7 1-5 1-1 1 0 1-1 1 3 1 4 1-6 1-1 1-5 1 4 1 4 1-2 1-1 1-4 1 3 1-1 1 0 1 2 1-4 1 6 1-6 1 6 1-4 1 1 1-2 1 0 1 2 1 0 1-1 1 2 1 0 1-3 1 4 1-5 1 6 1-6 1 0 1 2 1 9 1-3 1-3 1 0 1-1 1 3 1-2 1 0 1-5 1 6 1-1 1-2 1-3 1 3 1 3 1-4 1 6 1-6 1 5 1-3 1-6 1 10 1-5 1-4 1 5 1 11 1-7 1-5 1 0 1-5 1 2 1 3 1 5 1-3 1-2 1-3 1 2 1 3 1 2 1 1 1-7 1 3 1-5 1 5 1-4 1 2 1-1 1 1 1 3 1-1 1-3 1 9 1-7 1 2 1-2 1 9 1-8 1 1 1-2 1 1 1 3 1-5 1-2 1 3 1-2 1-1 1 1 1-2 1 8 1 2 1 2 1-3 1-6 1-3 1 7 1-7 1 1 1 4 1-5 1 8 1 0 1-7 1 3 1 4 1-6 1 2 1-2 1 1 1 1 1-2 1 2 1-1 1-3 1 0 1 4 1 3 1-8 1 10 1-7 1 4 1 0 1-1 1-1 1 0 1 2 1-1 1 2 1 1 1-8 1 10 1-9 1 3 1 0 1-2 1 3 1 1 1-7 1 7 1 0 1-2 1 6 1-6 1 5 1-7 1 2 1 5 1-4 1-4 1-1 1 7 1-3 1-1 1 1 1-1 1 2 1-1 1-2 1 1 1 0 1-2 1 5 1 0 1-4 1 0 1 7 1-9 1 9 1-7 1 2 1 3 1-1 1-4 1-2 1 0 1 5 1 4 1-6 1 10 1-9 1 10 1-12 1 4 1-1 1-5 1 1 1 2 1 1 1-1 1-2 1 2 1-4 1 4 1 1 1 5 1 0 1-2 1-2 1-4 1 2 1-1 1 2 1 2 1 7 1-12 1 1 1 6 1-4 1 8 1-13 1 3 1 2 1-1 1 5 1-4 1 7 1-5 1 3 1-8V0" fill="#0000ff" stroke="#00008b" stroke-width="0.85" vector-effect="non-scaling-stroke"/></g>
<path d="M259 418.5H270.5M259 557.5H270.5" fill="none" stroke="#333" stroke-width="1"/>
<path d="M270.5 418.0V558.0" stroke="#858575" stroke-width="1"/>
<text x="252.4" y="421.3" class="ax">5</text>
<text x="252.4" y="560.1" class="ax">0</text>
<text x="74" y="493.7" class="nm">GSM5550316</text>
<g transform="translate(271.0 711.0) scale(0.33333 -9.92857)"><path d="M0 0V1l1 3 1 2 1-2 1 2 1-1 1-3 1 2 1-2 1 4 1-2 1-2 1 2 1 0 1-1 1-1 1 0 1 1 1-1 1 0 1 0 1 0 1 0 1 0 1 2 1-2 1 4 1-4 1-1 1 3 1 2 1 0 1-4 1 2 1-1 1-1 1 2 1-2 1 2 1-1 1 1 1 0 1 0 1 1 1-3 1 2 1 2 1-4 1 0 1 1 1-1 1 2 1 2 1 2 1-4 1 1 1-1 1 3 1 7 1-7 1-1 1-2 1-1 1-1 1 1 1-1 1 2 1 0 1 2 1 1 1 1 1-5 1 1 1 2 1 2 1-4 1 0 1 1 1-3 1 3 1-3 1 4 1-4 1 4 1 0 1-2 1 2 1-1 1-3 1 2 1-1 1 1 1 4 1-6 1 2 1 1 1 3 1-6 1 0 1 2 1 2 1 2 1-3 1 1 1-1 1 3 1-2 1-3 1 3 1-4 1 6 1-4 1 0 1 2 1-2 1-2 1 2 1 1 1 1 1 2 1-2 1-2 1-1 1-2 1 6 1-3 1 1 1 0 1 1 1 0 1 1 1 1 1-2 1-5 1 2 1 1 1-3 1 5 1-3 1-1 1 2 1-2 1 1 1 3 1-2 1-1 1 3 1-3 1 0 1-1 1-1 1 3 1-2 1 2 1 0 1 0 1-2 1 1 1-1 1 4 1-3 1 1 1-2 1 2 1 2 1-4 1 1 1 3 1-2 1 3 1-1 1-2 1 0 1-2 1 1 1 2 1 3 1 0 1-1 1-3 1 1 1-3 1 0 1 7 1-3 1-2 1-1 1 6 1-5 1 4 1-2 1-2 1-2 1 2 1-1 1 1 1 1 1-1 1-2 1 2 1 0 1 0 1 0 1 0 1 1 1-3 1 1 1 0 1 0 1 1 1-1 1-1 1 0 1 2 1 2 1-3 1 2 1 5 1-4 1-4 1 3 1-1 1-2 1 3 1 1 1-3 1-1 1 2 1 2 1-2 1 0 1 0 1-2 1 0 1 4 1-2 1 0 1 0 1 2 1-5 1 3 1 0 1 0 1-1 1 4 1 1 1-2 1-2 1-2 1 1 1-1 1 0 1 4 1-3 1 1 1-2 1 6 1-6 1 5 1 1 1-3 1-3 1 0 1 0 1 2 1-1 1 5 1-2 1-5 1 4 1-1 1 0 1 3 1-1 1 0 1 0 1 0 1-2 1 2 1 0 1-2 1 4 1-3 1-1 1 0 1 1 1 1 1-3 1 1 1 2 1 0 1 0 1-6 1 0 1 6 1-2 1 0 1 1 1-2 1 2 1-4 1 3 1-3 1 5 1 0 1 0 1 1 1-4 1-1 1 1 1-1 1 2 1 0 1-1 1-1 1 0 1 2 1-2 1 2 1 2 1 1 1-1 1 0 1 0 1-2 1 1 1-2 1 1 1-2 1 1 1 1 1-2 1 0 1 2 1-2 1 0 1 4 1 0 1-2 1 1 1 3 1-3 1 1 1-2 1 0 1 5 1-2 1-1 1-4 1 1 1-2 1 2 1-1 1 3 1 0 1-5 1 7 1-3 1 0 1 0 1 0 1 0 1 2 1-2 1 0 1 0 1-3 1 3 1-2 1 3 1 1 1-2 1 0 1 0 1 0 1 3 1-4 1 0 1 3 1 2 1-2 1-1 1 0 1 0 1-1 1-1 1 1 1-2 1 0 1 5 1 2 1-3 1 0 1 0 1-3 1 3 1-2 1 0 1 1 1-4 1 1 1 3 1-3 1 2 1 0 1 0 1-2 1 5 1-3 1 1 1 0 1 1 1 2 1-4 1 0 1 2 1 0 1-3 1 1 1 1 1-2 1-2 1 3 1-2 1 4 1 1 1-5 1 1 1-1 1 0 1 0 1 1 1-1 1 2 1 0 1 0 1-1 1 1 1-2 1 3 1-1 1 2 1-3 1 4 1-5 1 0 1-2 1 2 1 2 1-1 1 3 1 2 1-4 1 0 1-1 1 3 1-4 1 6 1-4 1 2 1-1 1 0 1-2 1 1 1 0 1-2 1 2 1-1 1-1 1 6 1-2 1-4 1-1 1 3 1-2 1 2 1 2 1 0 1 0 1-4 1 6 1-2 1-2 1-2 1 3 1-1 1 2 1-4 1 1 1 2 1-1 1 2 1 1 1-3 1 2 1 0 1-2 1 6 1-4 1-1 1-1 1 2 1-2 1-2 1 2 1 0 1 2 1-2 1 0 1 4 1 1 1-6 1 1 1-1 1-1 1 2 1-4 1 4 1-3 1 2 1 1 1 0 1 2 1 0 1-2 1 0 1 2 1 0 1 0 1 0 1-4 1 0 1 3 1-3 1 0 1 3 1-1 1 6 1-6 1-2 1 2 1 0 1 0 1 0 1-1 1 1 1 1 1-3 1 2 1-2 1 2 1-1 1 2 1-1 1 4 1-2 1 0 1-3 1 2 1-2 1-3 1 1 1 6 1-1 1-2 1 0 1 0 1 2 1-2 1 0 1-3 1 1 1 1 1-1 1 0 1 4 1 0 1-2 1 2 1 0 1-1 1-3 1 4 1 0 1 2 1-6 1 1 1 0 1 4 1-3 1-1 1-1 1 10 1-8 1 1 1 3 1-6 1 2 1 3 1-3 1 4 1 0 1-4 1 0 1 0 1 0 1 0 1 2 1 0 1-2 1-1 1 1 1 2 1-4 1 0 1 3 1-3 1 1 1 1 1-2 1 2 1 0 1 6 1-7 1 2 1-1 1 4 1-4 1 0 1 1 1-3 1 2 1 4 1-2 1-2 1 0 1 0 1 4 1-4 1 4 1-2 1 0 1-4 1 1 1-1 1 3 1-3 1 1 1 1 1 4 1-4 1-2 1 2 1-2 1 6 1-2 1-3 1 0 1 1 1 2 1-1 1-1 1-1 1 3 1 4 1-4 1-1 1-1 1 1 1 1 1 0 1-3 1-1 1 2 1 3 1-1 1-2 1 1 1 1 1 0 1-2 1 3 1-5 1 1 1 1 1 2 1 0 1-2 1-1 1 3 1-2 1 2 1-4 1 4 1 2 1-4 1 0 1-2 1 3 1 0 1-3 1-1 1 7 1-2 1-2 1 0 1 3 1-3 1 0 1-1 1 0 1-1 1 4 1-4 1 2 1 0 1 2 1-4 1 2 1 4 1-3 1 0 1 1 1-2 1-1 1 1 1 0 1 1 1-3 1 0 1 0 1 0 1 1 1 1 1 0 1 0 1 0 1 0 1 0 1 0 1 1 1-2 1 3 1-2 1 1 1-2 1 1 1 0 1 0 1-2 1 0 1 2 1 0 1 2 1 4 1-4 1 0 1-2 1 2 1-2 1-2 1 5 1-3 1-1 1 1 1-2 1 1 1 3 1-2 1 0 1 2 1 2 1-6 1 4 1-1 1 1 1 0 1-1 1 3 1-4 1-1 1 3 1-4 1 2 1 4 1-2 1-1 1-3 1 0 1 0 1 2 1-2 1 3 1-3 1 2 1 0 1 0 1-2 1 0 1 6 1-4 1 0 1 0 1 0 1 0 1 2 1-2 1 0 1 0 1 1 1-1 1 1 1-1 1 0 1 0 1-1 1 1 1 6 1-6 1 3 1-3 1 4 1-4 1 0 1 3 1-1 1-3 1 2 1-1 1-1 1 0 1 1 1 0 1 0 1 0 1-1 1 0 1-1 1 0 1 2 1 3 1-6 1 1 1 5 1-5 1 5 1 1 1-4 1 2 1 0 1 2 1-5 1 1 1-1 1-1 1 2 1-2 1 2 1 0 1 5 1-7 1 2 1-3 1 7 1-5 1-1 1 0 1 1 1 1 1 2 1-2 1 1 1-1 1 5 1-1 1-6 1-1 1-1 1 3 1 2 1 1 1 0 1 0 1-1 1 1 1-2 1 1 1-4 1 6 1-1 1-4 1 2 1 1 1-3 1 2 1-2 1 2 1-2 1 2 1 2 1-2 1 1 1-3 1 4 1-2 1-2 1-2 1 1 1 4 1-5 1 4 1 2 1-4 1 2 1 4 1-6 1 2 1 4 1-5 1-1 1 0 1 3 1 1 1 0 1 0 1 2 1-5 1-2 1 1 1 2 1 2 1 0 1 0 1-2 1-2 1 1 1 3 1 0 1 0 1-3 1 3 1-2 1-1 1 2 1 1 1-2 1 2 1-2 1 0 1 2 1-4 1 2 1 1 1 1 1-2 1 0 1 1 1-4 1 4 1 3 1 0 1-4 1 0 1 0 1 2 1-2 1 4 1-1 1-3 1 4 1-3 1 1 1 0 1-2 1 1 1 1 1 0 1-2 1-2 1 1 1-1 1 3 1-1 1-2 1 2 1-3 1 4 1-2 1 2 1-1 1-1 1-1 1 6 1-2 1 0 1 2 1-4 1 0 1 2 1 0 1-5 1 3 1 0 1 0 1-1 1 1 1 0 1 0 1 5 1 0 1-5 1 0 1 2 1-4 1 7 1-5 1-3 1 1 1 1 1 1 1 2 1 0 1-2 1 6 1-6 1 0 1 2 1-4 1 5 1-4 1-1 1 0 1 5 1-2 1 1 1 0 1-4 1 0 1 6 1-4 1-1 1 1 1-2 1 0 1 2 1-2 1 0 1 0 1 6 1-4 1 1 1-1 1 2 1-3 1 0 1 1 1 0 1 3 1-5 1 4 1-6 1 3 1 3 1-2 1-1 1 5 1-4 1-1 1-1 1 0 1 1 1-1 1 1 1-1 1 3 1-1 1 0 1 0 1-2 1 1 1-1 1 2 1-2 1 4 1-4 1 0 1 3 1 1 1 0 1 0 1 0 1 4 1-6 1 2 1 0 1-2 1-1 1 3 1-2 1 0 1-1 1 0 1-3 1 2 1 0 1 2 1 4 1-2 1 0 1-2 1 0 1 0 1-2 1 2 1 0 1-1 1 1 1 1 1-3 1-1 1 3 1-2 1 0 1 3 1-1 1 2 1 0 1 0 1 0 1-2 1 0 1-2 1 8 1-6 1 2 1 3 1-5 1 0 1 2 1-2 1 0 1 2 1-1 1 3 1 0 1-3 1 0 1 1 1-2 1 1 1 1 1-2 1 3 1 3 1-9 1 1 1 2 1-1 1 3 1-2 1-2 1 5 1-1 1 2 1-4 1 2 1-2 1 1 1-1 1 0 1 2 1-2 1-1 1 3 1-4 1 0 1 5 1-3 1 2 1 2 1-4 1-2 1 4 1-2 1 0 1-2 1 0 1 1 1 1 1 2 1 0 1-4 1 4 1-3 1 3 1-4 1 4 1 0 1-1 1 1 1-1 1 2 1-3 1-1 1 0 1 1 1-2 1 1 1 2 1-1 1-1 1 4 1-4 1 1 1-1 1 2 1 1 1-2 1 0 1-2 1 2 1-2 1 6 1-5 1-1 1 0 1-1 1 5 1 0 1 0 1-4 1 6 1-2 1-4 1 0 1 5 1-3 1 0 1 0 1 0 1 0 1 2 1-4 1 1 1-1 1 1 1-1 1 1 1 1 1-2 1 6 1-1 1-2 1-1 1-2 1 0 1-2 1 6 1 0 1-2 1 2 1-2 1 1 1-1 1 0 1-2 1-1 1 5 1-2 1 0 1 3 1-3 1 0 1 0 1-4 1 6 1-2 1-1 1-1 1 1 1 1 1 0 1 0 1 2 1-3 1 1 1 0 1 0 1 0 1 0 1 0 1 3 1-3 1 1 1 0 1-2 1 1 1 0 1 0 1-2 1 10 1-2 1-9 1 5 1-4 1 2 1 0 1-2 1 2 1 0 1 1 1 0 1-1 1-1 1-1 1 6 1-2 1 0 1-2 1 0 1-2 1 1 1 2 1-1 1 2 1 0 1-2 1 2 1 0 1 0 1 2 1-4 1 0 1 0 1 2 1-2 1-2 1 3 1-1 1-2 1 0 1 1 1-1 1 4 1 1 1-5 1 2 1-1 1 3 1 1 1-3 1 4 1-4 1 2 1-2 1-3 1 7 1-2 1-2 1 0 1 0 1-1 1 0 1 1 1 2 1-4 1 0 1 4 1-2 1 3 1-1 1-3 1 0 1-1 1 0 1 2 1-2 1 1 1 0 1 5 1-4 1 0 1 2 1-3 1 1 1-2 1 2 1-1 1 3 1 1 1 0 1-3 1 0 1 0 1-2 1 2 1-2 1 5 1 1 1-4 1-2 1 1 1 1 1-2 1 0 1 2 1 0 1 4 1-3 1 3 1-2 1-2 1-2 1 6 1-3 1-1 1-2 1 0 1 4 1 0 1-2 1-1 1 0 1-1 1 4 1-2 1 2 1-2 1 0 1 0 1-1 1 2 1-2 1-3 1 3 1 3 1-3 1 3 1 0 1-2 1-2 1 0 1 4 1-4 1 6 1 0 1-2 1-2 1 2 1 0 1-4 1 3 1 0 1-2 1 0 1 5 1-2 1-1 1 1 1 2 1-1 1-1 1-4 1 6 1-4 1-2 1 1 1-2 1 3 1-2 1 4 1 2 1-4 1 1 1-1 1 0 1 1 1-1 1 4 1-2 1-2 1 2 1-1 1 0 1-1 1-1 1 5 1-6 1 1 1 3 1-2 1-1 1 3 1 0 1 2 1 0 1-2 1-2 1 2 1-4 1 1 1-1 1 2 1 1 1-1 1 3 1 1 1-2 1-2 1 2 1 0 1-2 1-3 1 3 1 4 1-2 1-2 1 0 1 3 1 1 1-6 1-1 1 7 1-3 1-2 1 1 1-1 1-1 1 1 1 1 1 0 1-2 1 2 1 2 1-4 1 0 1 3 1 0 1 3 1 0 1-3 1 0 1-1 1 0 1-2 1 1 1 3 1-3 1 5 1-3 1-2 1 3 1 2 1-6 1 2 1 2 1-5 1 1 1 2 1 2 1-2 1-2 1-1 1 1 1 3 1-2 1 1 1 0 1 2 1 1 1-3 1 2 1-4 1 3 1-1 1 0 1 1 1-3 1 2 1 0 1 2 1-4 1 0 1 0 1 2 1 0 1 1 1 0 1 1 1 2 1-6 1 1 1-1 1 0 1 3 1-2 1 1 1 4 1-2 1-3 1-1 1 0 1 3 1 0 1-3 1 3 1-2 1 1 1 2 1-3 1 5 1-4 1 2 1-2 1 3 1-4 1-1 1 3 1-1 1-2 1 4 1-2 1-2 1 5 1-5 1 1 1 2 1 5 1-8 1 2 1 2 1-1 1-3 1 6 1-2 1-3 1 1 1 0 1 0 1 2 1 2 1-3 1 1 1 0 1-2 1 0 1 0 1 2 1-6 1 2 1 3 1-1 1-1 1 1 1-1 1-1 1 3 1 1 1-3 1 3 1-3 1 1 1 0 1 0 1-1 1 2 1 2 1-4 1 3 1-2 1 0 1-2 1 2 1-1 1 5 1-6 1 0 1 3 1-3 1 0 1 4 1 6 1-10 1 2 1-2 1 0 1 5 1-5 1 4 1-1 1-1 1 1 1 1 1-4 1 0 1 2 1 3 1-1 1 2 1-2 1-2 1 1 1-3 1 3 1-3 1 2 1 0 1-2 1 0 1 3 1-3 1 0 1 0 1 2 1 2 1-2 1-1 1-1 1 0 1 0 1-2 1 4 1 2 1-2 1 0 1-1 1 1 1 0 1 1 1-1 1-2 1 4 1-2 1-1 1 1 1-2 1 1 1 3 1-2 1 2 1-2 1 2 1-2 1 4 1-2 1 0 1-2 1-1 1-2 1-1 1 4 1 1 1 3 1-2 1 0 1-4 1 2 1 2 1-4 1 4 1 0 1-4 1 4 1 3 1-3 1 0 1-2 1 2 1 2 1-4 1 4 1-6 1 3 1-1 1 6 1-6 1-2 1 4 1 0 1-2 1 2 1-3 1 3 1-1 1 1 1-4 1 4 1-1 1 3 1 1 1-7 1 1 1 3 1 0 1-2 1 2 1-4 1 6 1-4 1 2 1-3 1 1 1-2 1 2 1-2 1 2 1-3 1 1 1 1 1-1 1 2 1 0 1 0 1 2 1-3 1 1 1-2 1 2 1 0 1 4 1-4 1 2 1-4 1 2 1-2 1 0 1 0 1 0 1 2 1 3 1-3 1 0 1 3 1-3 1-1 1 1 1 0 1 0 1-2 1 2 1-1 1 0 1 5 1-3 1 2 1-1 1-1 1 1 1 0 1 0 1 0 1-2 1-2 1 6 1-1 1-2 1-1 1 0 1 1 1 0 1-3 1 0 1 2 1 0 1-2 1 0 1 0 1 2 1-1 1 0 1 2 1 1 1 0 1-4 1 2 1-2 1 3 1-2 1-1 1 2 1-1 1 3 1-2 1-2 1 2 1 2 1-1 1-3 1 5 1-4 1 1 1-1 1 3 1-4 1 3 1 1 1 0 1-2 1 3 1-3 1 2 1-4 1 0 1 2 1 2 1-3 1 1 1-2 1 2 1-2 1 0 1 0 1 2 1-1 1 0 1-1 1 0 1 2 1 1 1-2 1 3 1-2 1 0 1 0 1 0 1-1 1 1 1-2 1 0 1 4 1-2 1 0 1 4 1-3 1 1 1-4 1 4 1-2 1 0 1 0 1 0 1 1 1-1 1-2 1 2 1-2 1 0 1 1 1 1 1 0 1 0 1 0 1 2 1-1 1 1 1 0 1-4 1 0 1 2 1-1 1 3 1-4 1 4 1 0 1 0 1 1 1-5 1 4 1-2 1 3 1 7 1-5 1-4 1 1 1-2 1-2 1 2 1 1 1 1 1-4 1 0 1 2 1-2 1 5 1 1 1 0 1-5 1 3 1 0 1 0 1 0 1-5 1 3 1 0 1 0 1 0 1-2 1 4 1-3 1 1 1 6 1-4 1 0 1 0 1-3 1 1 1-1 1 0 1 1 1 0 1 0 1-2 1 6 1-5 1 0 1 7 1-6 1 5 1-4 1-1 1 1 1 0 1-1 1 0 1 0 1 0 1-2 1 3 1 1 1-3 1 3 1-2 1-1 1 3 1-2 1 0 1 4 1-4 1 0 1-2 1 1 1 9 1-10 1 0 1 2 1 0 1-2 1 6 1-4 1 2 1-2 1 0 1 0 1 0 1 1 1 3 1-2 1 0 1-3 1 3 1-1 1 1 1-4 1 5 1-5 1-2 1 3 1-1 1 2 1 4 1-3 1 3 1-4 1 0 1-3 1 1 1 0 1-1 1 3 1 0 1 0 1 0 1 0 1-2 1 6 1-4 1 4 1-4 1 2 1-4 1 4 1 0 1 0 1-2 1 1 1-3 1 9 1-9 1-2 1 11 1-5 1-2 1 0 1 0 1 0 1 0 1-2 1 0 1 2 1 0 1 0 1 0 1 2 1-2 1 0 1 0 1-2 1 1 1-1 1 3 1 0 1 2 1-1 1-3 1 2 1-1 1-2 1 0 1 4 1-2 1 0 1-1 1 3 1-2 1 1 1 1 1-2 1 4 1-6 1 4 1 0 1 0 1-2 1 4 1-3 1 1 1-1 1-2 1 5 1-1 1-3 1 1 1-1 1-2 1 2 1 0 1 6 1-5 1 1 1-2 1-2 1 4 1-2 1 1 1-1 1-4 1 4 1 4 1-5 1 2 1 1 1 0 1-2 1 2 1-5 1 3 1-2 1 0 1 3 1-1 1 0 1 0 1-2 1 4 1-3 1 3 1-4 1 2 1 0 1 0 1 0 1 1 1-1 1 4 1-2 1-2 1 0 1 4 1-2 1-2 1 0 1-2 1 4 1 0 1 1 1-6 1 5 1-4 1 0 1-1 1 5 1 2 1-4 1 2 1-1 1-1 1 0 1 2 1-1 1-3 1 0 1 4 1-2 1-2 1 2 1 0 1 2 1-3 1 0 1 2 1-1 1-4 1 4 1 0 1-2 1 6 1-6 1 3 1-1 1 1 1 2 1-5 1 0 1 2 1 2 1-3 1 3 1-3 1 1 1-2 1 0 1 2 1-3 1 3 1-1 1-1 1 0 1 2 1 0 1-1 1 1 1 0 1 1 1 3 1-2 1 0 1-2 1 0 1 2 1-2 1-2 1 0 1 0 1 2 1 0 1-2 1 3 1-3 1 0 1 2 1-2 1 2 1-2 1 4 1-2 1-2 1 2 1 0 1 0 1 1 1-1 1-2 1 0 1 2 1 0 1-2 1-2 1 4 1 2 1-1 1-1 1-2 1 6 1 2 1-4 1-2 1-4 1 2 1 4 1-1 1-1 1-2 1 4 1-2 1-2 1 2 1 0 1 3 1-3 1 0 1 3 1-3 1 0 1-2 1 3 1 3 1-6 1 0 1 1 1 3 1 0 1-2 1 0 1 4 1-2 1-4 1 3 1-3 1 0 1 2 1-2 1 2 1 0 1 1 1-3 1 7 1-1 1-6 1 1 1 0 1-2 1 1 1 0 1 2 1 0 1-2 1 4 1-2 1 2 1-3 1 5 1-2 1-3 1 0 1 1 1 0 1-2 1 3 1-1 1 0 1 0 1 0 1-2 1 6 1-4 1 2 1-2 1-1 1 0 1 1 1 0 1 0 1 0 1 2 1-4 1 4 1 0 1-1 1-2 1 1 1 3 1-3 1-2 1 5 1-5 1 5 1-4 1 1 1 2 1 2 1-6 1 2 1 0 1 0 1-2 1 4 1-1 1-2 1 1 1 0 1 4 1 0 1-2 1-1 1 0 1-1 1 0 1 0 1 2 1-2 1 0 1 1 1-1 1 2 1-4 1 4 1 2 1-4 1 0 1 4 1-2 1-2 1 0 1 1 1-2 1 3 1-1 1 1 1-3 1 5 1-4 1-1 1 0 1 3 1-1 1-1 1-2 1 0 1-2 1 4 1 0 1 3 1-4 1 1 1 1 1 1 1-2 1 0 1 4 1-4 1 3 1-4 1 1 1 2 1-4 1 4 1 2 1-6 1 6 1-4 1 2 1-4 1 0 1 0 1 1 1-1 1 0 1 3 1-3 1 2 1-1 1 0 1 3 1-2 1 1 1 1 1 0 1-2 1 0 1 2 1 0 1-2 1-2 1 3 1-3 1 3 1 1 1-4 1 1 1 4 1-5 1 2 1 0 1 0 1-1 1 1 1 0 1 2 1-3 1 1 1 3 1-4 1 1 1 2 1-1 1-2 1-1 1 1 1 0 1 1 1 0 1 0 1 0 1 0 1-2 1 2 1-1 1 3 1 2 1-6 1 3 1-1 1 1 1-1 1-2 1 1 1-1 1 1 1 5 1-2 1-2 1 0 1-1 1 0 1 4 1-3 1 0 1 0 1 0 1-1 1-1 1-1 1 1 1 6 1-4 1 2 1-1 1-3 1 3 1-1 1-2 1 2 1-2 1 1 1 5 1-2 1-2 1 3 1-3 1 2 1-2 1 3 1 0 1-3 1-1 1 0 1 2 1-2 1 1 1-2 1 2 1 0 1 0 1 0 1 0 1 3 1-5 1 3 1-1 1 0 1 2 1-4 1 0 1 3 1 2 1-5 1 0 1 0 1 0 1 1 1 6 1-2 1-1 1-1 1 0 1-1 1 0 1-2 1 0 1 2 1 0 1 0 1 2 1 0 1-2 1 2 1-2 1 3 1-1 1-1 1 3 1-4 1 2 1-2 1 3 1-7 1 4 1-1 1 0 1 1 1 2 1 4 1-6 1-2 1 0 1 2 1 0 1-2 1 2 1 2 1-3 1 1 1-1 1 0 1 1 1-2 1 2 1-1 1 3 1-2 1 0 1 1 1-1 1 2 1-2 1 4 1 2 1-8 1 2 1 0 1 2 1-2 1 2 1-2 1-1 1 5 1-2 1-4 1 2 1 4 1-3 1-3 1 6 1-4 1 0 1-2 1 5 1-3 1-1 1 3 1 0 1-2 1-1 1 3 1 0 1-4 1 4 1-5 1 1 1 2 1 0 1-2 1 2 1-1 1 3 1-1 1 1 1-2 1 1 1-1 1 2 1-2 1 0 1 4 1-4 1-2 1 1 1 1 1-2 1 4 1-2 1-1 1 3 1 2 1-6 1 5 1-2 1-1 1-2 1 3 1 0 1-2 1 1 1 0 1-1 1-1 1 2 1-2 1 1 1 5 1-5 1 3 1-2 1 0 1 2 1 0 1 0 1-2 1-1 1-1 1 4 1 2 1-2 1-2 1 1 1 1 1-1 1-1 1-4 1 5 1-1 1 0 1 0 1 2 1 2 1-6 1 4 1-2 1-2 1 4 1-2 1 2 1-2 1 2 1 3 1-3 1-4 1 1 1 0 1 4 1 0 1 1 1-5 1-1 1 2 1 0 1-2 1 0 1 2 1-2 1 2 1-2 1 3 1-4 1 5 1 3 1-7 1 2 1 0 1 4 1 0 1-2 1-2 1 0 1 0 1 4 1-2 1-2 1 3 1-2 1 3 1-6 1 8 1-9 1 3 1-2 1 2 1 0 1-2 1 4 1 1 1-1 1-2 1-1 1 0 1 3 1-2 1 0 1-2 1 1 1 1 1 4 1-3 1 1 1-1 1 0 1-1 1 2 1 0 1-4 1 1 1 1 1 1 1-1 1-2 1 0 1 2 1 0 1 0 1 4 1-4 1 0 1 0 1-1 1 1 1 2 1 8 1-9 1-2 1-1 1 1 1 1 1 0 1-2 1 1 1 1 1 0 1 0 1 2 1-3 1 3 1-1 1 0 1-1 1-1 1 1 1 0 1 1 1-2 1-1 1 1 1-1 1 4 1-2 1-2 1 4 1 1 1-1 1-2 1 2 1-2 1 0 1 3 1-1 1 6 1-5 1-2 1-2 1-1 1 1 1 2 1-1 1 1 1 3 1-6 1 0 1 2 1-2 1 0 1 2 1 0 1 0 1-2 1 4 1-3 1 7 1-6 1-2 1 4 1-3 1 0 1 2 1 1 1 2 1-4 1 5 1-5 1 0 1 0 1-1 1 2 1 3 1 5 1-8 1-2 1 1 1 0 1 0 1 4 1-2 1 0 1-2 1-1 1 1 1-1 1 1 1 0 1 0 1 0 1 0 1 0 1 0 1 2 1 0 1-1 1 1 1-3 1 4 1-3 1 0 1-2 1 4 1-1 1-1 1 4 1-3 1-1 1-2 1 0 1 2 1 2 1-1 1-3 1 2 1-2 1 4 1 0 1-3 1 3 1-2 1-2 1 2 1 0 1-2 1 0 1 0 1 4 1 0 1 0 1 1 1-1 1 0 1-2 1 2 1-2 1-2 1 3 1 4 1-5 1 0 1 1 1 1 1-4 1 0 1 2 1 2 1 1 1-4 1 2 1-3 1 0 1 2 1 0 1 0 1 0 1-2 1 3 1-3 1 2 1 4 1-4 1 0 1-2 1 2 1 0 1-2 1 3 1-1 1 0 1 2 1 0 1-2 1 4 1-5 1-1 1 3 1 1 1-2 1 2 1-6 1 6 1-2 1 3 1 1 1-7 1 2 1 3 1 2 1-5 1 1 1 4 1-3 1 0 1-2 1 2 1-1 1 6 1-5 1 1 1 2 1-2 1-2 1-2 1 1 1 2 1-4 1 1 1 5 1-4 1 1 1-1 1-1 1 0 1 4 1-3 1 1 1 1 1-1 1 0 1-2 1 0 1 2 1-4 1 3 1-1 1 4 1-4 1 4 1 0 1-4 1 4 1 0 1-2 1 0 1-1 1 1 1-1 1-1 1 2 1 0 1 6 1-4 1-4 1 2 1-1 1 1 1 0 1 1 1-3 1 0 1 4 1-1 1-2 1 3 1-2 1 0 1-1 1 2 1 3 1-3 1 5 1-6 1 3 1 4 1-5 1-1 1-1 1-1 1 2 1 0 1 0 1 0 1 1 1-2 1-2 1 2 1 1 1-1 1-2 1 1 1 2 1 0 1-1 1 2 1 0 1 0 1 1 1-5 1 0 1 0 1 2 1 2 1-1 1-1 1 0 1-2 1 0 1 0 1 1 1 1 1-1 1 1 1-2 1 4 1-1 1 3 1-3 1-3 1 2 1 0 1 0 1 1 1-3 1 1 1 3 1-1 1 3 1-5 1 1 1 2 1-1 1-1 1 4 1-3 1-1 1 1 1 1 1-2 1 0 1 0 1-2 1 4 1-1 1-1 1 3 1-1 1-3 1 0 1 1 1 6 1-6 1-4 1 4 1 4 1-3 1-3 1 2 1 2 1-2 1 2 1-4 1 4 1-2 1 2 1 0 1 0 1-2 1 2 1-2 1 0 1 3 1-4 1 1 1-1 1-1 1 2 1 2 1-2 1-2 1 4 1-2 1 0 1 2 1-4 1 3 1 3 1-6 1 0 1 4 1-4 1 4 1 0 1-2 1-2 1 0 1 2 1 0 1-1 1 3 1-4 1 2 1 1 1 0 1 2 1 1 1-4 1 2 1-3 1-1 1 3 1-2 1-1 1 3 1 0 1-1 1 6 1-8 1 0 1 2 1 2 1-2 1 3 1-5 1 4 1-2 1 0 1 0 1 2 1 1 1-3 1-1 1 1 1-1 1 3 1 1 1-3 1-2 1 0 1 1 1 1 1 1 1-5 1 6 1-4 1 2 1 0 1 2 1-2 1 0 1 4 1-2 1 1 1-3 1-2 1 2 1 2 1-2 1 0 1-2 1 2 1 2 1-2 1-2 1 2 1 0 1 0 1-3 1 3 1-1 1-1 1 4 1-2 1-2 1 0 1 0 1 2 1 0 1 2 1-2 1-2 1 4 1-2 1 1 1 0 1-1 1 2 1-2 1 2 1-4 1 3 1-3 1 2 1 2 1-3 1 0 1 2 1 3 1-2 1-2 1 4 1 0 1-2 1-2 1-1 1 4 1-4 1 1 1 2 1-2 1-2 1 2 1 0 1-2 1 4 1-2 1-2 1 2 1-2 1 4 1 0 1-4 1 2 1 2 1 1 1-2 1-3 1-1 1 3 1-2 1 2 1 0 1-3 1 3 1 1 1-2 1-1 1-2 1 3 1 3 1 2 1-4 1 4 1-6 1 2 1-2 1 2 1-2 1 2 1 1 1 1 1-4 1 2 1 2 1-3 1-1 1 4 1-2 1-2 1 2 1-2 1 4 1 0 1 0 1 0 1-4 1 2 1-2 1 2 1-2 1 0 1 0 1 3 1 3 1-4 1 4 1-2 1-2 1 0 1 0 1 0 1 2 1 0 1-1 1-3 1-2 1 3 1 0 1 1 1 1 1-1 1-2 1 5 1-1 1-2 1 0 1 0 1-2 1 6 1-4 1 2 1 0 1-2 1 0 1 2 1-2 1-1 1 1 1 2 1-2 1-1 1 3 1 6 1-6 1-2 1-2 1 0 1 1 1-3 1 2V0" fill="#0000ff" stroke="#00008b" stroke-width="0.85" vector-effect="non-scaling-stroke"/></g>
<path d="M259 572.5H270.5M259 711.5H270.5" fill="none" stroke="#333" stroke-width="1"/>
<path d="M270.5 572.0V712.0" stroke="#858575" stroke-width="1"/>
<text x="252.4" y="575.3" class="ax">3</text>
<text x="252.4" y="714.1" class="ax">0</text>
<text x="74" y="647.7" class="nm">GSM5550315</text>
<g transform="translate(271.0 865.0) scale(0.33333 -1.85333)"><path d="M0 0V3l1 0 1-1 1 2 1-4 1 1 1-1 1 2 1 0 1 2 1-1 1-2 1 3 1 0 1-2 1 2 1-4 1 3 1 0 1 1 1-2 1 0 1 4 1-4 1-1 1 0 1-1 1 1 1-1 1 5 1-2 1-1 1 0 1 0 1 2 1 0 1-1 1 1 1 4 1-2 1-3 1-1 1 3 1-2 1-3 1 2 1 2 1-1 1-2 1 8 1-2 1-6 1 1 1 1 1 0 1 1 1-1 1-2 1 0 1 2 1-1 1 3 1-4 1 1 1-1 1 1 1-2 1 3 1-2 1 2 1 1 1-2 1 3 1-5 1 0 1 1 1-1 1 1 1 4 1-5 1 4 1-1 1 0 1-1 1 0 1 4 1 0 1-4 1 2 1-3 1 2 1 3 1-3 1 2 1-3 1 0 1-1 1 2 1-2 1 4 1-2 1 0 1-1 1 0 1 0 1 0 1 1 1 3 1-3 1-1 1 0 1 3 1-2 1 1 1-1 1 3 1 0 1-1 1 0 1-1 1 1 1-1 1 1 1 1 1 0 1 0 1 0 1-1 1 1 1-1 1 2 1 2 1 1 1 1 1 1 1 2 1-3 1-2 1-1 1 0 1 0 1-1 1-2 1 0 1 0 1-1 1-1 1 0 1-1 1 4 1-2 1 2 1-2 1 0 1-3 1 3 1 5 1-7 1-1 1 2 1 0 1 0 1-1 1 1 1 2 1-4 1 0 1 4 1-4 1 3 1 0 1-3 1 0 1 0 1 0 1 1 1 1 1-1 1 1 1 1 1 2 1 1 1 4 1 2 1 5 1-4 1-3 1-2 1-3 1-1 1-2 1 0 1 0 1-1 1-1 1 0 1 1 1 4 1-5 1-1 1 2 1-2 1 0 1 4 1-4 1 4 1-1 1-1 1 3 1 1 1 0 1 2 1-7 1 4 1-1 1-1 1 0 1-1 1 2 1 2 1-3 1 2 1-4 1 2 1 1 1-2 1 2 1-1 1 1 1-3 1 1 1 0 1 4 1-5 1 0 1 3 1-3 1-1 1 1 1-1 1 0 1 1 1 1 1-1 1 3 1-4 1 4 1 2 1-5 1 5 1-4 1 0 1 0 1 4 1-3 1 0 1-1 1 0 1 4 1 3 1-7 1 2 1 0 1 2 1 2 1-6 1 1 1 0 1 3 1-5 1 5 1 0 1-2 1 1 1-3 1-1 1 1 1 0 1 1 1-1 1-2 1 3 1-3 1 0 1 3 1-2 1 4 1 0 1 0 1-3 1 0 1 2 1 1 1-3 1 1 1-3 1 6 1-1 1-2 1-1 1-1 1 0 1 7 1-4 1-1 1 6 1-3 1-2 1 3 1-4 1-1 1 1 1-1 1 1 1-1 1 0 1 2 1-4 1 1 1 2 1 0 1 3 1-2 1-3 1 2 1 2 1-2 1-3 1 1 1 0 1-1 1 1 1 1 1 0 1-1 1-1 1 3 1-1 1-1 1 0 1 2 1-2 1 0 1 1 1-1 1-1 1 2 1 0 1 1 1 1 1 1 1-4 1 0 1 0 1 1 1 1 1-3 1 1 1 3 1-3 1 0 1 0 1 0 1 2 1-2 1 0 1 0 1 7 1-3 1-3 1 0 1 3 1-1 1-2 1-1 1 1 1 2 1-3 1 5 1-3 1-1 1 2 1 0 1 1 1-2 1 3 1 1 1-5 1 4 1-3 1-3 1 2 1 2 1-2 1-1 1 0 1 2 1-1 1 3 1-5 1 1 1 0 1 0 1 1 1 3 1-3 1-2 1 3 1-2 1 1 1-1 1-1 1 1 1 1 1-1 1 0 1-1 1 0 1 2 1-1 1-1 1 0 1 1 1-1 1 2 1 4 1-3 1-1 1 2 1-1 1-1 1 0 1 1 1 1 1-2 1 1 1-1 1 1 1-1 1-1 1 4 1 1 1-4 1 0 1 3 1 1 1 0 1-1 1-4 1 2 1 0 1-2 1-1 1 0 1 4 1-1 1-2 1 0 1 4 1-3 1 2 1 0 1-3 1 1 1 4 1-5 1-1 1 1 1 0 1 0 1-1 1 1 1 2 1-3 1 2 1 3 1 4 1-3 1-1 1-3 1 2 1-1 1 2 1-3 1 6 1-5 1 1 1-1 1 1 1-1 1 0 1-2 1 2 1-1 1 0 1 2 1-2 1-1 1 2 1-2 1 1 1 1 1 1 1-3 1 1 1 1 1 0 1 1 1 0 1-3 1 2 1 1 1-4 1 3 1-3 1 0 1 4 1-3 1 2 1 0 1-2 1 0 1 0 1 0 1 0 1 2 1-1 1 3 1-4 1 0 1 1 1 0 1 0 1 0 1 1 1 0 1 1 1 1 1 0 1 0 1 0 1 2 1 3 1 1 1 2 1 0 1-2 1-3 1 0 1-2 1 1 1-1 1-2 1 0 1-2 1 0 1 1 1-1 1 0 1 0 1-1 1 3 1-2 1 0 1 3 1-4 1 0 1 1 1 2 1 0 1-1 1-2 1 2 1-2 1 2 1 0 1-1 1 1 1-1 1 1 1-2 1 0 1 2 1 1 1-1 1-1 1-1 1-1 1 0 1 0 1 1 1 0 1 1 1-1 1 0 1 4 1-5 1 1 1 3 1-2 1-1 1 3 1 0 1-2 1 0 1 1 1 0 1 2 1-1 1-2 1-1 1 3 1-4 1 5 1-1 1-1 1-2 1 2 1-3 1 2 1-2 1 0 1 1 1 0 1 3 1-1 1-3 1 1 1-1 1 1 1 4 1-5 1 0 1 3 1-2 1 4 1-3 1 1 1-1 1 1 1-1 1-1 1-1 1 4 1-2 1 1 1 0 1-1 1-1 1 1 1 1 1-1 1-1 1-1 1 0 1 1 1-1 1 1 1 1 1 2 1-3 1 1 1-1 1 1 1 1 1 3 1-5 1 3 1-4 1 0 1 1 1-1 1 0 1 3 1-1 1 0 1-1 1 1 1 0 1 0 1 1 1 2 1 0 1-2 1 0 1-1 1 2 1-4 1 2 1 2 1-1 1-3 1 3 1-3 1 2 1-1 1 2 1 1 1 1 1-1 1-2 1 2 1-2 1 1 1 0 1-2 1 2 1-1 1-1 1-1 1 5 1-3 1 0 1 1 1 0 1 0 1 4 1-4 1-2 1 2 1 1 1 2 1 0 1-2 1-3 1 5 1 1 1-4 1 3 1-3 1-2 1 1 1 1 1-1 1 0 1 3 1-4 1 2 1 2 1-2 1 1 1-4 1 3 1 0 1-1 1 2 1-2 1 2 1 4 1-2 1-3 1 0 1 1 1 0 1-3 1 4 1-3 1 0 1-1 1-1 1 1 1 4 1-4 1 4 1-4 1 2 1 0 1-2 1 0 1 1 1 0 1-1 1 2 1 2 1-1 1-1 1 1 1-2 1 2 1-2 1 6 1-4 1-2 1 2 1 1 1 0 1 1 1-2 1-1 1 0 1-1 1 4 1-4 1 0 1 1 1 1 1-1 1-1 1 0 1-1 1 1 1 0 1 2 1-2 1 0 1 1 1 1 1-1 1 1 1 0 1 2 1 0 1 0 1 2 1-1 1 2 1 2 1 2 1 0 1 2 1 2 1-2 1-2 1-4 1-1 1 0 1 1 1-2 1-2 1-1 1 0 1 0 1 0 1 0 1 0 1-1 1 0 1 0 1-1 1 1 1-1 1 0 1 2 1-2 1 0 1 1 1 1 1-2 1 1 1 0 1 4 1-2 1 1 1 0 1 1 1 1 1 1 1 0 1 0 1 3 1 3 1 2 1-1 1 1 1 6 1 3 1 4 1 3 1 5 1-6 1-11 1-2 1-2 1 2 1-4 1 2 1-4 1-2 1-3 1 1 1-2 1 0 1-1 1 0 1-1 1 3 1 0 1-2 1-1 1-1 1 1 1-1 1 3 1 2 1 2 1-2 1 4 1 1 1 3 1 3 1-2 1 11 1-3 1 13 1-14 1-1 1 0 1-6 1-4 1 0 1-3 1 0 1-1 1-2 1-1 1 1 1 2 1 5 1-4 1-3 1-2 1-1 1 0 1-2 1-1 1 0 1 2 1 0 1 0 1-2 1-1 1 2 1-2 1 2 1 0 1 0 1 1 1 1 1 1 1-3 1-1 1 1 1 5 1 0 1-7 1 0 1 2 1-2 1 3 1 0 1-3 1 2 1 0 1 0 1-3 1 2 1-1 1 0 1 0 1 1 1 2 1 0 1-3 1 4 1-1 1 0 1-4 1 1 1 5 1 1 1 0 1-5 1 0 1 0 1 0 1 1 1-1 1 1 1 2 1 1 1 1 1 1 1 3 1-1 1-3 1 0 1-1 1-2 1 0 1 2 1 0 1-2 1-1 1-2 1 2 1-1 1 1 1 2 1-4 1 0 1 5 1-3 1 2 1 3 1-4 1 3 1-7 1 4 1-3 1 2 1-2 1 1 1-1 1 0 1-1 1 1 1 0 1 2 1 2 1-3 1 2 1-4 1 3 1 1 1 0 1-1 1-2 1 2 1-1 1 3 1-2 1-2 1 2 1 1 1-3 1 0 1 1 1 1 1 1 1 0 1-2 1-1 1 0 1-1 1 2 1 0 1-1 1 2 1 0 1-1 1 2 1 0 1 1 1-1 1 0 1-3 1 9 1-8 1 4 1-3 1-1 1 2 1-1 1 1 1-2 1 2 1 0 1-1 1 1 1-3 1 2 1-3 1 2 1 3 1-2 1-2 1 4 1-3 1 2 1-3 1 1 1 2 1 0 1-3 1 2 1-2 1-1 1 2 1 0 1 1 1 3 1-2 1-3 1 0 1 0 1 0 1 1 1 1 1-2 1 3 1-3 1 0 1 1 1-2 1 3 1 1 1 3 1-7 1 4 1-3 1 5 1-5 1 0 1 2 1 3 1-4 1-2 1 3 1-1 1-2 1 2 1-1 1-1 1 2 1 2 1-2 1 0 1-2 1 1 1 1 1-1 1 1 1 2 1 2 1-6 1 5 1-3 1-1 1-1 1 0 1 1 1-1 1 2 1 4 1-5 1 5 1 0 1-3 1-2 1 2 1 0 1 2 1-1 1 0 1 2 1-4 1 1 1 0 1 1 1-1 1 0 1 0 1-2 1 0 1 0 1 1 1-1 1 4 1-4 1 1 1-1 1 1 1 2 1-2 1 3 1-1 1-1 1 1 1-4 1 2 1-1 1 3 1 0 1 0 1 0 1-1 1 1 1-1 1 0 1 3 1-3 1 1 1 3 1-2 1 3 1-4 1 5 1-6 1-3 1 4 1-2 1 1 1-3 1 1 1 2 1-2 1 2 1-1 1-1 1 1 1-1 1-1 1 1 1 0 1 1 1-1 1 6 1-2 1 0 1-2 1 5 1-2 1-1 1-2 1 4 1-3 1 1 1-1 1-2 1 1 1 2 1 1 1-1 1-3 1 1 1 6 1-5 1-2 1 6 1-2 1-4 1 1 1-3 1 7 1-3 1-1 1 0 1 5 1-2 1-4 1 0 1 2 1-1 1 5 1-5 1 1 1 0 1 0 1 4 1-3 1-3 1-1 1 4 1 1 1-5 1-1 1 4 1 1 1-5 1 1 1 1 1 1 1-1 1-2 1 2 1 0 1-1 1 2 1-1 1 1 1 0 1 0 1 2 1-4 1-1 1 0 1 1 1 2 1-1 1-1 1 0 1-1 1 2 1 0 1 3 1-3 1 2 1-2 1-1 1 0 1 5 1-3 1 0 1-1 1 0 1 6 1-6 1 1 1 0 1 1 1-1 1 0 1 3 1-4 1 1 1 0 1-2 1-1 1 1 1 1 1-1 1 1 1 0 1 2 1-1 1-2 1 2 1-2 1 1 1-1 1 0 1 0 1 1 1 3 1-3 1-1 1 4 1-4 1-1 1 2 1 0 1-2 1 3 1-2 1 1 1-2 1 2 1-1 1 2 1-2 1 5 1 1 1-5 1-1 1 2 1 1 1-1 1-1 1-1 1 0 1 0 1 0 1 3 1 0 1-3 1 1 1 0 1 0 1 1 1 5 1-1 1 1 1 1 1-2 1 3 1 2 1 2 1 2 1 3 1 2 1-3 1 11 1-3 1-6 1-3 1-1 1 3 1 3 1-2 1 8 1 6 1 3 1-15 1-4 1 0 1-4 1-2 1-3 1 0 1-1 1 4 1-2 1-1 1-1 1-2 1 0 1-3 1 14 1-8 1-5 1 7 1-9 1 2 1 4 1-1 1-2 1 0 1 0 1-3 1 6 1-2 1-2 1 1 1-1 1 11 1-3 1-2 1 0 1 2 1 1 1 7 1-6 1-1 1-1 1-2 1-2 1-2 1 3 1-5 1 2 1-3 1-1 1 1 1-2 1 2 1 2 1-1 1-3 1 1 1-2 1 1 1 0 1 4 1-1 1-4 1 7 1-7 1 4 1-1 1-1 1 0 1 5 1-6 1 3 1 0 1 0 1-3 1 2 1-1 1 0 1 1 1-2 1-1 1 1 1 1 1-2 1 0 1 1 1-1 1 1 1-1 1 1 1 2 1-2 1-1 1 0 1 3 1-3 1 1 1 2 1 0 1-2 1 5 1-1 1-3 1-1 1 2 1-1 1 5 1-5 1 2 1-4 1 2 1 0 1 1 1-1 1 2 1-1 1 6 1-6 1 1 1-1 1-3 1 1 1 1 1-2 1 0 1 3 1-2 1 4 1-2 1 3 1 0 1 1 1-6 1 3 1 2 1-3 1-1 1 3 1-1 1-3 1 3 1-1 1 0 1-3 1 3 1-1 1-2 1 1 1 1 1-2 1 3 1 2 1 0 1-5 1 4 1-1 1-2 1 0 1 3 1 1 1-4 1 0 1 6 1-4 1-2 1 2 1-2 1 3 1-3 1 1 1 3 1-1 1-3 1 2 1-2 1 0 1 0 1 1 1-1 1-1 1 0 1 0 1 3 1 1 1-2 1 0 1 0 1-1 1-1 1 0 1 3 1-3 1 4 1 0 1-1 1 6 1-6 1 2 1-1 1-2 1 2 1 1 1 3 1-7 1 0 1 0 1-1 1 2 1 2 1-1 1-3 1 0 1 1 1-1 1 8 1-2 1-5 1-1 1 2 1 1 1 0 1 1 1-4 1 2 1-1 1 1 1 1 1-1 1 3 1-1 1-2 1 0 1 1 1 1 1 0 1-3 1-1 1 2 1 2 1-3 1 0 1 0 1 0 1-1 1 2 1 0 1 2 1-4 1 1 1 5 1-4 1-1 1 1 1 1 1-1 1 0 1-1 1 4 1-5 1 1 1-1 1 4 1-4 1 1 1 3 1 1 1-4 1 2 1-2 1 4 1-3 1 0 1 1 1-1 1 1 1 1 1 0 1-4 1 1 1 0 1 0 1 1 1 0 1 0 1-1 1 0 1 0 1 1 1-2 1 1 1 2 1-1 1 0 1 0 1 0 1 2 1-1 1 0 1 1 1-4 1 3 1-2 1 2 1 0 1-2 1 1 1 0 1 2 1-4 1 2 1 0 1-1 1-1 1 4 1-2 1 0 1 0 1 2 1-2 1 1 1 2 1-2 1 1 1-1 1 0 1-1 1-1 1 2 1 1 1-3 1-1 1 2 1-2 1 0 1 2 1 0 1-1 1-1 1 0 1 1 1 0 1 0 1-1 1 1 1 0 1 1 1-1 1-1 1 0 1 0 1 1 1 0 1 3 1-2 1-1 1 1 1 4 1-4 1 2 1-3 1 0 1 1 1-1 1 1 1 0 1 2 1-2 1 0 1 1 1 1 1-2 1-1 1 2 1-2 1 0 1 2 1-1 1-1 1 1 1 1 1 0 1-2 1 5 1-4 1 0 1-2 1 1 1 3 1 0 1-4 1 3 1 1 1-1 1-1 1 2 1-3 1 0 1 4 1-5 1 4 1-4 1 1 1 0 1-1 1 0 1 1 1 1 1 2 1-3 1-1 1 2 1 1 1-3 1 1 1-1 1 1 1 1 1 0 1 1 1 2 1-2 1-2 1 2 1-2 1 1 1 2 1-1 1 0 1 3 1-3 1-1 1 0 1-1 1-1 1 4 1-2 1-1 1 1 1 3 1-3 1 0 1 0 1-2 1 3 1-2 1 1 1 4 1-2 1-3 1-1 1 2 1-1 1 2 1-2 1 0 1 0 1 4 1-5 1 2 1 1 1-3 1 0 1 3 1-1 1 0 1-1 1 0 1 0 1 2 1-1 1 0 1 0 1 2 1-1 1 0 1-3 1 1 1 2 1-2 1 3 1-2 1-1 1-1 1 3 1-3 1 1 1-1 1 3 1 2 1-3 1-1 1 0 1 3 1-2 1 1 1-1 1 0 1 0 1 1 1-3 1 0 1 1 1 2 1-1 1 0 1-2 1 0 1 1 1 2 1-1 1-1 1 0 1 1 1-1 1-1 1 1 1 0 1-1 1 1 1 2 1 0 1-2 1 1 1-1 1 0 1 1 1-1 1 1 1-1 1 1 1 2 1-4 1 1 1 1 1 0 1-1 1 0 1 1 1-2 1 3 1 3 1-3 1-3 1 1 1 3 1-3 1-1 1 2 1 0 1 0 1 0 1-2 1 2 1 1 1-1 1-1 1-1 1 2 1 0 1 0 1-1 1 0 1 0 1 2 1 1 1-2 1-1 1 1 1 0 1 0 1-1 1-1 1 2 1 0 1-2 1 4 1-3 1 0 1 0 1-1 1 0 1 2 1-1 1 1 1-2 1 2 1-2 1 1 1 0 1 1 1-2 1 4 1-2 1 3 1-4 1 0 1 1 1-1 1 1 1-1 1 1 1 0 1 0 1 0 1-2 1 1 1-1 1 0 1 1 1 3 1-3 1 0 1-1 1 1 1 1 1 2 1-2 1 1 1-2 1 2 1 2 1-4 1-1 1 0 1 4 1-3 1-1 1 1 1-1 1 1 1 1 1-1 1 0 1-1 1 0 1 2 1 2 1-4 1 4 1-3 1 4 1-1 1-4 1 1 1 2 1 2 1 0 1 0 1-3 1 2 1-1 1 2 1 2 1-5 1-2 1 4 1 0 1-3 1 0 1 5 1-1 1-2 1 3 1-4 1 2 1-2 1 3 1-3 1 1 1 0 1 3 1-5 1 6 1-6 1 2 1 2 1-4 1 3 1 2 1-5 1-1 1 3 1 2 1-4 1 1 1 0 1 0 1 0 1 3 1 0 1-3 1 1 1 0 1-1 1-2 1 1 1-1 1 0 1 3 1 0 1-2 1 1 1 1 1 0 1-1 1 2 1-2 1 2 1-1 1 0 1-3 1 2 1-2 1 0 1 1 1 2 1-3 1 0 1 6 1-2 1-4 1 1 1 1 1-2 1 4 1-3 1 1 1 0 1 1 1-1 1 0 1 3 1-4 1 4 1 0 1-3 1 1 1 0 1 1 1-2 1-1 1 3 1-3 1 4 1-3 1 0 1-2 1 2 1-2 1 1 1 0 1-1 1 2 1-1 1-1 1 1 1 3 1-2 1 1 1-3 1 2 1-1 1 0 1 0 1 0 1 4 1-3 1-2 1 1 1 0 1 0 1 1 1-1 1 1 1-2 1 4 1-4 1 0 1 1 1-1 1 2 1 0 1-2 1 0 1 4 1-3 1 0 1 2 1-1 1 1 1 2 1-4 1 3 1-2 1 0 1-2 1 0 1 1 1-1 1 4 1-2 1-1 1 2 1-1 1 0 1 1 1-3 1 2 1-1 1-1 1 0 1 1 1 3 1-4 1 0 1 1 1 0 1 1 1 1 1-3 1 1 1-1 1 0 1 0 1 1 1 0 1 0 1 1 1-1 1 0 1-1 1 3 1-3 1 1 1 3 1-4 1 0 1 1 1-1 1 1 1 1 1-1 1 1 1 2 1-1 1 0 1-2 1 0 1 2 1-1 1-1 1-1 1 3 1-2 1 2 1-2 1 0 1-1 1 1 1 1 1-2 1 1 1 1 1 0 1-1 1 0 1 0 1-1 1 4 1-3 1 0 1 3 1-3 1 1 1 0 1 1 1 0 1-1 1-1 1 2 1-2 1 4 1-1 1-3 1 0 1 2 1-1 1-2 1 1 1 3 1-4 1 3 1 0 1-3 1 5 1 0 1-3 1 0 1 1 1-1 1 1 1-2 1 2 1-1 1 1 1-3 1 2 1 1 1-1 1-1 1 1 1 0 1-2 1 0 1 1 1 1 1 0 1-2 1 0 1 2 1 2 1-1 1-1 1-2 1 0 1 2 1-1 1-1 1 0 1 1 1-1 1 0 1 4 1-3 1-1 1 0 1 2 1-1 1 1 1 2 1 0 1-2 1 5 1-3 1-1 1 0 1-2 1 1 1 1 1 0 1 1 1-3 1 1 1-1 1 0 1 0 1 2 1-1 1-1 1-1 1 2 1-1 1 0 1 1 1-2 1 1 1 3 1-3 1 1 1 4 1-4 1 3 1 0 1-1 1 0 1-3 1 3 1-4 1 4 1-2 1 2 1-3 1-1 1 0 1 2 1 0 1-2 1 1 1 0 1 1 1 0 1-1 1 0 1 2 1-2 1 0 1 1 1 0 1 0 1 0 1 0 1 4 1-5 1 4 1-1 1-2 1 4 1-2 1-1 1-2 1 1 1-2 1 1 1 3 1-1 1-3 1 2 1-1 1 1 1-2 1 4 1-3 1 0 1 6 1-4 1-2 1 2 1 0 1-1 1 1 1 0 1 0 1 0 1 1 1-2 1 2 1 0 1 0 1-2 1-1 1 2 1-1 1 1 1 0 1 7 1-7 1 2 1-3 1 1 1-2 1 3 1-1 1 0 1 0 1 1 1-1 1-3 1 1 1 1 1 0 1-1 1-1 1 1 1 1 1-2 1 0 1 3 1-2 1 0 1 1 1 1 1 0 1-1 1-1 1 1 1 3 1-4 1 1 1 1 1 1 1-2 1-1 1 2 1 0 1-1 1 2 1-4 1 0 1 3 1-3 1 2 1-1 1 2 1 0 1-2 1 0 1-1 1 1 1 2 1-1 1 0 1 1 1 0 1 3 1-6 1 4 1-2 1 2 1 2 1-5 1 1 1-1 1 2 1 1 1 0 1-2 1-1 1-1 1 3 1 1 1-3 1 1 1 0 1 0 1 6 1-5 1 0 1 2 1-3 1-1 1 2 1-2 1 0 1 0 1 0 1 0 1 1 1-1 1 1 1 0 1-1 1 2 1 0 1-3 1 3 1-2 1 0 1-1 1 2 1-2 1 1 1-1 1 2 1 1 1-2 1 2 1-2 1 0 1-1 1 0 1 1 1-1 1 0 1 2 1-1 1 1 1-1 1 0 1 0 1 0 1 2 1-2 1-1 1 4 1 0 1-1 1-2 1 1 1 0 1 3 1-1 1-3 1 1 1 0 1-1 1-1 1 3 1 0 1 1 1-1 1-1 1-1 1-1 1 2 1-2 1 2 1 0 1-1 1 0 1 1 1 1 1-1 1-1 1 0 1 0 1 0 1-1 1 0 1 0 1 2 1 0 1-1 1 1 1-1 1 0 1-1 1 0 1 1 1 0 1 0 1-1 1 4 1-3 1-1 1 3 1-3 1 2 1-1 1-1 1 1 1 1 1 1 1-3 1 3 1-1 1 0 1-2 1 0 1 2 1-1 1-1 1 1 1 0 1 1 1 0 1-2 1 2 1-1 1 0 1 5 1-1 1-2 1-1 1 4 1-5 1 1 1 1 1-1 1 0 1-2 1 0 1 1 1-1 1 2 1 0 1-1 1 0 1 0 1 0 1 0 1 0 1 0 1 2 1-1 1 0 1 1 1-3 1 2 1-1 1-1 1 0 1 2 1-1 1 4 1-2 1-3 1 3 1 1 1-1 1-3 1 3 1-1 1-1 1 0 1 1 1-1 1 1 1-2 1 0 1 0 1 0 1 0 1 2 1-2 1 2 1 0 1 3 1-3 1-1 1 0 1 2 1-3 1 1 1 0 1-1 1 1 1 0 1 2 1-3 1 1 1 1 1-2 1 0 1 3 1-3 1 1 1-1 1 0 1 2 1-2 1 1 1 0 1-1 1 4 1-3 1 1 1 0 1 1 1-2 1-1 1 2 1-1 1 0 1-1 1 1 1-1 1 3 1 0 1 4 1-4 1 0 1-2 1 1 1-2 1 0 1 1 1 0 1-1 1 2 1-1 1 0 1 3 1-3 1 0 1-1 1 2 1 0 1 1 1 0 1 0 1-3 1 5 1-4 1 1 1 0 1-2 1 6 1-5 1 1 1 0 1 0 1 1 1 1 1 3 1-5 1 1 1-2 1 4 1-2 1 5 1-8 1 1 1 3 1-3 1 4 1-2 1 0 1 0 1-3 1 5 1-4 1 5 1-3 1 1 1-2 1 1 1 0 1-2 1 2 1 2 1 0 1-4 1 2 1 1 1-2 1 0 1 2 1-2 1-1 1 1 1-1 1 0 1 0 1 1 1 0 1 1 1 2 1-2 1 0 1 1 1-1 1-3 1 1 1-1 1 2 1-1 1-1 1 3 1-3 1 0 1 3 1 2 1 0 1-3 1 0 1-1 1 2 1-1 1 1 1-1 1 1 1-1 1 2 1-2 1-1 1 3 1-4 1 1 1 0 1 1 1-1 1 2 1-3 1 2 1 0 1-1 1-1 1 2 1 0 1 1 1-3 1 1 1-1 1 3 1-3 1 1 1-1 1 5 1-2 1 0 1 0 1 1 1-3 1 1 1 0 1 1 1-2 1 0 1 1 1 0 1-1 1 1 1 0 1 1 1 0 1 0 1 1 1 1 1 1 1 0 1 1 1 0 1 0 1-1 1 0 1 2 1 2 1-3 1 1 1-1 1-1 1 0 1-2 1 0 1 0 1 0 1-1 1 0 1 0 1-1 1 0 1 0 1 0 1-1 1 0 1 0 1 0 1 1 1-1 1 0 1 0 1 1 1 2 1 0 1-3 1 0 1 0 1-1 1 1 1 2 1-2 1 0 1 0 1 0 1-1 1 0 1 0 1 2 1 0 1-1 1 1 1 0 1-1 1 0 1 1 1-1 1 1 1 1 1-2 1 3 1-4 1 0 1 4 1-4 1 0 1 1 1-1 1 0 1 1 1 0 1 2 1-3 1 2 1-2 1 2 1-2 1 0 1 0 1 2 1-1 1 0 1 1 1-1 1 0 1 1 1 0 1 0 1 0 1 1 1 0 1 1 1 0 1 2 1 0 1-1 1-1 1-1 1 0 1-1 1 1 1-1 1 0 1-1 1 1 1-1 1 0 1 0 1 1 1-1 1 0 1 1 1 0 1 0 1 0 1 0 1-2 1 4 1-3 1 2 1 0 1-2 1-1 1 0 1 1 1-1 1 2 1-1 1-1 1 0 1 3 1-3 1 1 1 0 1 3 1-3 1-1 1 1 1-1 1 3 1-3 1 2 1-1 1-1 1 1 1 2 1 0 1-3 1 2 1-1 1 0 1 0 1 0 1-1 1 1 1 1 1 3 1-2 1-1 1 0 1 1 1 2 1-2 1 0 1 0 1-1 1-2 1 0 1 0 1 1 1 4 1-1 1-4 1 1 1 0 1 0 1 1 1-1 1 1 1 0 1 2 1-1 1 0 1 1 1 0 1 1 1 2 1-1 1-1 1-1 1 0 1-1 1 0 1-1 1 0 1 2 1-3 1 4 1-2 1 3 1-2 1-3 1 1 1 1 1-3 1 7 1-6 1 2 1-2 1 1 1-2 1 2 1 0 1 0 1-2 1 1 1 0 1 0 1-1 1 2 1 2 1-2 1-2 1 1 1 0 1 1 1 1 1 2 1-5 1 0 1 1 1-1 1 2 1-1 1 0 1 0 1 1 1 3 1-5 1 2 1-1 1 5 1-5 1 3 1-1 1-1 1-2 1 0 1 1 1-1 1 2 1-1 1 1 1-2 1 2 1 0 1-1 1 1 1-2 1 1 1 0 1-1 1 1 1 2 1-1 1 0 1 0 1 1 1-1 1-2 1 1 1 1 1 0 1-1 1 1 1 1 1-3 1 0 1 3 1-1 1 4 1-3 1-3 1 1 1-1 1 1 1 3 1-4 1 4 1-2 1-2 1 1 1 4 1 1 1-5 1 2 1-2 1 0 1-1 1 2 1-2 1 1 1 0 1-1 1 2 1 0 1 0 1 0 1-1 1 1 1-1 1 3 1-3 1 3 1 1 1-3 1 0 1 1 1-3 1 0 1 4 1-3 1 4 1-2 1-2 1 1 1 3 1-1 1-3 1 7 1-7 1 2 1-1 1-2 1 2 1-2 1 1 1 0 1-1 1 0 1 1 1 0 1 0 1-1 1 1 1-1 1 0 1 1 1 1 1-2 1 4 1 0 1-1 1-3 1 3 1-1 1-2 1 1 1 0 1 1 1-1 1 1 1 1 1-1 1-2 1 4 1-2 1 0 1 0 1 1 1-1 1 1 1 0 1-2 1 3 1-1 1-1 1 0 1-1 1 0 1 1 1 1 1 0 1 0 1-2 1-1 1 1 1-1 1 1 1-1 1 1 1-1 1 1 1 0 1 0 1 3 1-4 1 2 1 3 1-5 1 1 1 4 1-2 1-3 1 1 1 1 1-1 1 3 1-4 1 6 1-3 1-2 1 1 1-2 1 0 1 0 1 1 1-1 1 1 1 1 1 1 1-2 1 0 1 0 1 0 1 2 1-2 1 1 1-2 1 4 1-2 1-1 1 3 1-2 1-2 1 0 1 1 1-1 1 1 1 1 1-2 1 3 1-3 1 4 1-2 1-2 1 0 1 2 1 1 1 1 1 1 1-4 1 2 1-2 1 4 1-5 1 0 1 2 1 1 1 0 1-2 1 0 1 0 1 0 1 6 1-7 1 0 1 2 1 0 1 2 1-1 1 2 1-1 1-2 1 1 1-1 1 1 1 0 1 1 1-3 1 3 1-3 1 2 1-2 1 3 1-2 1 1 1-1 1-2 1 0 1 2 1-1 1 2 1-2 1 0 1 1 1-2 1 3 1-2 1 4 1-4 1 1 1 0 1 1 1-1 1-1 1 0 1-1 1 1 1-1 1 0 1 1 1 1 1-1 1 1 1 1 1-1 1 2 1 0 1 3 1-6 1 0 1 1 1-1 1 2 1 0 1 0 1-2 1 1 1 1 1 0 1-1 1 0 1 0 1 0 1 1 1 0 1 1 1 0 1 2 1 0 1 3 1 2 1 3 1 3 1 3 1 3 1 3 1 5 1-9 1 2 1 13 1 16 1-24 1-2 1-3 1 5 1 0 1 4 1 5 1 6 1 31 1-31 1-16 1-4 1-7 1-5 1 1V0" fill="#0000ff" stroke="#00008b" stroke-width="0.85" vector-effect="non-scaling-stroke"/></g>
<path d="M259 726.5H270.5M259 865.5H270.5" fill="none" stroke="#333" stroke-width="1"/>
<path d="M270.5 726.0V866.0" stroke="#858575" stroke-width="1"/>
<text x="252.4" y="729.3" class="ax">75</text>
<text x="252.4" y="868.1" class="ax">0</text>
<text x="74" y="801.7" class="nm">GSM5550314</text>
<g transform="translate(271.0 1019.0) scale(0.33333 -1.85333)"><path d="M0 0V2l1-1 1 1 1-2 1 0 1 1 1 0 1 1 1 1 1-1 1-2 1 3 1 2 1-2 1-3 1 5 1-3 1-2 1 2 1-2 1 1 1 0 1 6 1-1 1-4 1-1 1 2 1-1 1-2 1 3 1-1 1 0 1 1 1-1 1-1 1 0 1-1 1 2 1-1 1 3 1 2 1-4 1 1 1 0 1-2 1 0 1 1 1-1 1-1 1 3 1 2 1-3 1-1 1-1 1 2 1-1 1 2 1-2 1-1 1 3 1 0 1-2 1 1 1 1 1-1 1-2 1 3 1-2 1-1 1 0 1 0 1 1 1 0 1 0 1 0 1 0 1 2 1-3 1 1 1 1 1 1 1-2 1 2 1 1 1-3 1-1 1 2 1-1 1 1 1-2 1 3 1-3 1 2 1-1 1 0 1-1 1 3 1-2 1 1 1-2 1 3 1-2 1 1 1-1 1 1 1-2 1 1 1-1 1 1 1 0 1-1 1 0 1 1 1 0 1 1 1 0 1 0 1-2 1 1 1 3 1-3 1 0 1 3 1 0 1-3 1 1 1 0 1 0 1 2 1 0 1 0 1 0 1 3 1 3 1 0 1 2 1 7 1-7 1 1 1-3 1-2 1-1 1-1 1-2 1-1 1-1 1 0 1 3 1-2 1 0 1-2 1 1 1 1 1 0 1-2 1 2 1-3 1 0 1 0 1 0 1 1 1 0 1-1 1 0 1 2 1-1 1-1 1 0 1 1 1-1 1 1 1 0 1 5 1-5 1 2 1-1 1 1 1 1 1 0 1 2 1 2 1 0 1 3 1-3 1-2 1-1 1-1 1 0 1-1 1-1 1-1 1 0 1 0 1 0 1 0 1 0 1 1 1-2 1 1 1 0 1 0 1 1 1-1 1-1 1 0 1 3 1 0 1 0 1-3 1 3 1-2 1 1 1-1 1 0 1-1 1 0 1 0 1 1 1-1 1 1 1 1 1-1 1 0 1 1 1-1 1 0 1 4 1-5 1 1 1-1 1 2 1-2 1 1 1 0 1 0 1 1 1-2 1 2 1-1 1 1 1-1 1-1 1 4 1-2 1 3 1-4 1 0 1 1 1-1 1 2 1-3 1 0 1 1 1-1 1 5 1-4 1-1 1 2 1 0 1 0 1-2 1 2 1-1 1-1 1 0 1 3 1-2 1 0 1 0 1 0 1 4 1-4 1 1 1-2 1 1 1-1 1 1 1-1 1 0 1 1 1 0 1 2 1-1 1 2 1-3 1 3 1-2 1-1 1 1 1 0 1-1 1 0 1 2 1 1 1-3 1 0 1 0 1 1 1-1 1 1 1-1 1 2 1-1 1-2 1 0 1 3 1-2 1 0 1 1 1 0 1-1 1 4 1-5 1 2 1 0 1-2 1 2 1-1 1 1 1 1 1-3 1 1 1 3 1-1 1-2 1 0 1-1 1 0 1 1 1-1 1 0 1 1 1-1 1 1 1-1 1 2 1-2 1 0 1 1 1 0 1-1 1 2 1-1 1 6 1-4 1 1 1 1 1-3 1 1 1 1 1-1 1-1 1-2 1 3 1 1 1 1 1-1 1 1 1-3 1 1 1-1 1-2 1 2 1-2 1 0 1 1 1-1 1 1 1-1 1 1 1-1 1 0 1 2 1-1 1-1 1 2 1-1 1-1 1 2 1 0 1-2 1 2 1 0 1-1 1 0 1 0 1 0 1 0 1 2 1-2 1 0 1-1 1 2 1-1 1 1 1 0 1-2 1 1 1 0 1 3 1-1 1-2 1 1 1-1 1 0 1 0 1 5 1-5 1 3 1-3 1 0 1 2 1 1 1-1 1 2 1-3 1 0 1 3 1-4 1 5 1-3 1-1 1 3 1 0 1-4 1 0 1 2 1-1 1 1 1-2 1 0 1-1 1 1 1 1 1 1 1-3 1 1 1 1 1-1 1 2 1-2 1 0 1 2 1-1 1 0 1 0 1-2 1 0 1 2 1 1 1 0 1-2 1 3 1-2 1 1 1 2 1-2 1 2 1-2 1-1 1 2 1 2 1-5 1 0 1 3 1-2 1 0 1 0 1-1 1 0 1-1 1 1 1 0 1 1 1-2 1 3 1-3 1 2 1-2 1 1 1 1 1-1 1 1 1 0 1-1 1 2 1-1 1 0 1 3 1 1 1 0 1-3 1-1 1-1 1 1 1 2 1-1 1 4 1-3 1 1 1 2 1-3 1-2 1-1 1 1 1 1 1-2 1 0 1 0 1 0 1 0 1 1 1 0 1 0 1 0 1 0 1 1 1 1 1 0 1-1 1 0 1 0 1 0 1 0 1 0 1 1 1-1 1 1 1 0 1 1 1-1 1 1 1 1 1-1 1 0 1 0 1 1 1 1 1-1 1-1 1 1 1 1 1 3 1 1 1 1 1 7 1 3 1-5 1-5 1 0 1-2 1-1 1-2 1-1 1-1 1-1 1-1 1-1 1 0 1 0 1 1 1-1 1 0 1 0 1 0 1-1 1 1 1 0 1-1 1 0 1 1 1 0 1 1 1-1 1-1 1 0 1 1 1-1 1 1 1 2 1-3 1 0 1 0 1 0 1 1 1-1 1 1 1-1 1 1 1-1 1 1 1 0 1 2 1-3 1 0 1 1 1-1 1 2 1 0 1-1 1-1 1 0 1 0 1 2 1-2 1 0 1 3 1-2 1-1 1 2 1-1 1-1 1-1 1 1 1 0 1 3 1-4 1 0 1 2 1-2 1 1 1-1 1 3 1-3 1 2 1 0 1-1 1 2 1-1 1 0 1 0 1 2 1-4 1 0 1 1 1 0 1-1 1 2 1 2 1 0 1 1 1-5 1 0 1 2 1 1 1-2 1 2 1 1 1 0 1-4 1 3 1 1 1-3 1 0 1 3 1-3 1 0 1 5 1-6 1 1 1 0 1 1 1 0 1-1 1-1 1 0 1 1 1-1 1 0 1 3 1 0 1 3 1-2 1-3 1 2 1 0 1-3 1 2 1 1 1 3 1-6 1 5 1-3 1 0 1 1 1 0 1 1 1-4 1 0 1 3 1-3 1 2 1-1 1 0 1 2 1-3 1 0 1 0 1 2 1-2 1 0 1 1 1 0 1-1 1 2 1 0 1-2 1 1 1 2 1-3 1 0 1 3 1-2 1 0 1 4 1-3 1 2 1-1 1 0 1-1 1 3 1-2 1-2 1 2 1 1 1-4 1 0 1 1 1 0 1 1 1-2 1 0 1 2 1-2 1 0 1 4 1-4 1 1 1-1 1 1 1 0 1 1 1 2 1-3 1 2 1-2 1 3 1-3 1 0 1 4 1-4 1 0 1 0 1 2 1 1 1-3 1 1 1-1 1 1 1-2 1 3 1-2 1 0 1 2 1-2 1 1 1-2 1 3 1-1 1-2 1 1 1 2 1-2 1 0 1 2 1-2 1-1 1 2 1-1 1 3 1-3 1 2 1-2 1 0 1 1 1-1 1 2 1-2 1 0 1 3 1 1 1-2 1-2 1 2 1-2 1 0 1 0 1 1 1-1 1 0 1 0 1 0 1 3 1-2 1 2 1-2 1 1 1 1 1 0 1 0 1 1 1 1 1 0 1 0 1 0 1 1 1-1 1 2 1 1 1 0 1 3 1 3 1-2 1 6 1-5 1 1 1-4 1 1 1-4 1 1 1 0 1-1 1-2 1-1 1 0 1-1 1 0 1-1 1 2 1-2 1 0 1 0 1-1 1 0 1 0 1 1 1 1 1-2 1 5 1-1 1-4 1 1 1 1 1 1 1 0 1 0 1 0 1 1 1 2 1 1 1 2 1 1 1 0 1 1 1 7 1-2 1 8 1 4 1 4 1 5 1 3 1 1 1-19 1 6 1-2 1-6 1-1 1-3 1-5 1 2 1 3 1-7 1 3 1-6 1 9 1-5 1 5 1-10 1 4 1-1 1 2 1 0 1 0 1 5 1 1 1-1 1 3 1-4 1 10 1 5 1-2 1 7 1-11 1 2 1-4 1-4 1-3 1 0 1-1 1-2 1-1 1-2 1 0 1-2 1 0 1-1 1 0 1 4 1 2 1-5 1-2 1-2 1 0 1-1 1 0 1 2 1-3 1 0 1-1 1 3 1-3 1 0 1 0 1 0 1 0 1 2 1-2 1 1 1 0 1-1 1 1 1 1 1-2 1 1 1 2 1-2 1 0 1-2 1 3 1-3 1 1 1 0 1 1 1 0 1-2 1 1 1 0 1 0 1 1 1-1 1 1 1-2 1 1 1 2 1-1 1-2 1 1 1 1 1-1 1 0 1 4 1-4 1 0 1 0 1 0 1 0 1 0 1 0 1 1 1 1 1 0 1 0 1 1 1 2 1 0 1 2 1 1 1 3 1-4 1-1 1-1 1-1 1-1 1-1 1-1 1 0 1 2 1-3 1 0 1 2 1-2 1 1 1-1 1-1 1 0 1 0 1 0 1 3 1-3 1 1 1 0 1-1 1 0 1 0 1 0 1 1 1-1 1 0 1 3 1-2 1 0 1 2 1 1 1-1 1-1 1-1 1 0 1 1 1-2 1 4 1-1 1 0 1-3 1 3 1-3 1 0 1 0 1 2 1 0 1-2 1 1 1 0 1 3 1-3 1 1 1-1 1 0 1 0 1 3 1-1 1-3 1 0 1 1 1 0 1 1 1-2 1 0 1 2 1-2 1 1 1 0 1 2 1-1 1-1 1 3 1-1 1 0 1 3 1-6 1 0 1 5 1-3 1-1 1 1 1-2 1 0 1 0 1 2 1-2 1 1 1 3 1 1 1-4 1 1 1 0 1 2 1-3 1 2 1-1 1 0 1 3 1-2 1-2 1 3 1-3 1 0 1 3 1-3 1 2 1-1 1 5 1-5 1-1 1 0 1 1 1 0 1 1 1-2 1 2 1-1 1-2 1 1 1 2 1-2 1 0 1-1 1 4 1-3 1-1 1 1 1 0 1 0 1 1 1 0 1 0 1-2 1 3 1-2 1 0 1 0 1 1 1 0 1-1 1 0 1 2 1-2 1-1 1 0 1 1 1 3 1-1 1-1 1 0 1 0 1 2 1-3 1 0 1 0 1 2 1 1 1-3 1 3 1-1 1 0 1-2 1-1 1 1 1 1 1-1 1 0 1 0 1-1 1 0 1 1 1-1 1 1 1 0 1-1 1 1 1 0 1 2 1-1 1 3 1-5 1 1 1 0 1 0 1 0 1 2 1-1 1-1 1 4 1-1 1-3 1 0 1 0 1 7 1-7 1 0 1 2 1-2 1 2 1 0 1-3 1 3 1-2 1 3 1-2 1-1 1 5 1-6 1 2 1-1 1 5 1-4 1 0 1 4 1-6 1 2 1-1 1 0 1 0 1 0 1 0 1 3 1-1 1-3 1 2 1-2 1 0 1 2 1-1 1 0 1-1 1 1 1 0 1 3 1-2 1 2 1-2 1 1 1-2 1-1 1 1 1-1 1 1 1 2 1-1 1-1 1 3 1-2 1 2 1-2 1-2 1 5 1-4 1-1 1 4 1 2 1-4 1 0 1-1 1 2 1-2 1 2 1-2 1-1 1 2 1-2 1 0 1 0 1 3 1-2 1 4 1-2 1-2 1-1 1 2 1-1 1-1 1 4 1-3 1 5 1-6 1 0 1 1 1 0 1 1 1 1 1-1 1-2 1 2 1-2 1 2 1-1 1 1 1 4 1-6 1 6 1-4 1 2 1-1 1-1 1-2 1 2 1 0 1 0 1-1 1 0 1 2 1-2 1 2 1 0 1-2 1-1 1 1 1 2 1-1 1-1 1 3 1-1 1-1 1 0 1 1 1-1 1-2 1 6 1-6 1 1 1 1 1-2 1 2 1 0 1-1 1-1 1 3 1-2 1 1 1-1 1-1 1 2 1-1 1-1 1 1 1 3 1-4 1 1 1 0 1 0 1-1 1 1 1 0 1 1 1 0 1-1 1 1 1 4 1-5 1 2 1-2 1 3 1-2 1 1 1-1 1 0 1 0 1 0 1 0 1 2 1-1 1 0 1 1 1 0 1 0 1 0 1 1 1 0 1 1 1 0 1 2 1-1 1 1 1 3 1 0 1 1 1-2 1 1 1 2 1 2 1 1 1 1 1 2 1 2 1 8 1 3 1 3 1 3 1 5 1 5 1 1 1-4 1-4 1-11 1-3 1 1 1-5 1 0 1-1 1-3 1 0 1-5 1 0 1-1 1-2 1 1 1 1 1 3 1 2 1 5 1-4 1-5 1-2 1 1 1-3 1 2 1-1 1-6 1 7 1 5 1-1 1-9 1 9 1-4 1-2 1 3 1 1 1 4 1 1 1 1 1 14 1 5 1-10 1-10 1 5 1-6 1-1 1-5 1-1 1-2 1 4 1-1 1-2 1 0 1-7 1 1 1 0 1-1 1-1 1 1 1-1 1-1 1 0 1 3 1-1 1 4 1-5 1-1 1 1 1-1 1-1 1 3 1-2 1 0 1-1 1 0 1 3 1-3 1 0 1 1 1-1 1 0 1 1 1 0 1 0 1-1 1 1 1 2 1-2 1-1 1 0 1 2 1-2 1 0 1 1 1 1 1-2 1 1 1 0 1 2 1-1 1-2 1 0 1 0 1 0 1 0 1 2 1 2 1-4 1 1 1 0 1 3 1-2 1-1 1-1 1 1 1 0 1 1 1-1 1 4 1-2 1-2 1-1 1 3 1 0 1-1 1 1 1-1 1 0 1-1 1 1 1 1 1-2 1-1 1 2 1-1 1-1 1 1 1 0 1 0 1 0 1 1 1 0 1-1 1 1 1 3 1-4 1 1 1-1 1-1 1 0 1 0 1 1 1-1 1 1 1 0 1 0 1-1 1 0 1 0 1 2 1 1 1-3 1 0 1 0 1 0 1 0 1 1 1 4 1-3 1-2 1 0 1 0 1 1 1 0 1-1 1 0 1 2 1 0 1 1 1-3 1 0 1 2 1 0 1-1 1 0 1 1 1 0 1-1 1 0 1 3 1-2 1-1 1 1 1-1 1 0 1 0 1-1 1 2 1-1 1 2 1 2 1-3 1 0 1 2 1-1 1-2 1-1 1 0 1 4 1-2 1-1 1 1 1-2 1 1 1 2 1-2 1 2 1-2 1 1 1-1 1 4 1-4 1 0 1 0 1 4 1-2 1-2 1 1 1-1 1-1 1 0 1 1 1 1 1-1 1-1 1 4 1-2 1-1 1-1 1 4 1-2 1 0 1-2 1 0 1 0 1 1 1 0 1-1 1 3 1-3 1 1 1-1 1 2 1 1 1-2 1 0 1 1 1-1 1-1 1 2 1-1 1 4 1-5 1 1 1-1 1 0 1 3 1-2 1 0 1 0 1 0 1 2 1-2 1 2 1-1 1 0 1 1 1-2 1-1 1 2 1-1 1 1 1-1 1 1 1-2 1 1 1 1 1 0 1 0 1 0 1 2 1 0 1-2 1-2 1 0 1 2 1-1 1 0 1 0 1 0 1-1 1 0 1 0 1 0 1 2 1 0 1 1 1-2 1-1 1 2 1-2 1 1 1-1 1 0 1 0 1 1 1-1 1 1 1 0 1-1 1 0 1 2 1-1 1 0 1 0 1-1 1 1 1 0 1 2 1-2 1 2 1-2 1 0 1 0 1 4 1-2 1-1 1 0 1 0 1 0 1 2 1-4 1 2 1-2 1 5 1-5 1 0 1 0 1 1 1-1 1 0 1 2 1 0 1 1 1 1 1 1 1-4 1 0 1 1 1 0 1-1 1 1 1 1 1-2 1 0 1 0 1 0 1 0 1 2 1-2 1 1 1-2 1 4 1-3 1 0 1 1 1-2 1 2 1 2 1-1 1-2 1 1 1-2 1 0 1 1 1 0 1 1 1 0 1 1 1-2 1 2 1-2 1 0 1 0 1 1 1-1 1-1 1 5 1-4 1-1 1 0 1 0 1 1 1-1 1 0 1 1 1-1 1 2 1 3 1-3 1-2 1 2 1-1 1 1 1-2 1 2 1-1 1 0 1 2 1-2 1 1 1-2 1 0 1 2 1 0 1-2 1 0 1 0 1 1 1-1 1 3 1-3 1 2 1-1 1 1 1-1 1 0 1-1 1 0 1 1 1 2 1-3 1 3 1-3 1 1 1-1 1 1 1 3 1-2 1-1 1 0 1 0 1 1 1-1 1 1 1 1 1-2 1 0 1-1 1 0 1 3 1-1 1 0 1 4 1-5 1 1 1-2 1 2 1 0 1-2 1 0 1 3 1-2 1 1 1-1 1 0 1 0 1 0 1-1 1 2 1-2 1 3 1-2 1 1 1 0 1 1 1 2 1-2 1 0 1-1 1-2 1 5 1-4 1 3 1-3 1 2 1-3 1 0 1 1 1 2 1-2 1 1 1 1 1-2 1-1 1 2 1-2 1 1 1-1 1 3 1-1 1 1 1-3 1 1 1-1 1 2 1-1 1-1 1 2 1-2 1 1 1 1 1 3 1-4 1-1 1 2 1-2 1 1 1 1 1-1 1 1 1 2 1 0 1 0 1-4 1 0 1 2 1-1 1 1 1-1 1 2 1-1 1-2 1 1 1 0 1-1 1 1 1 1 1-1 1 0 1 2 1-3 1 0 1 0 1 2 1 0 1 0 1 1 1-2 1 4 1-2 1-1 1 0 1 0 1-1 1 1 1-2 1 1 1 1 1 0 1-1 1 0 1-1 1 0 1 1 1-1 1 2 1 0 1 0 1 1 1-3 1 1 1 0 1 2 1-3 1 6 1-4 1-1 1 2 1-2 1 0 1 0 1 0 1 4 1-5 1 0 1 1 1-1 1 5 1-5 1 1 1 1 1-2 1 0 1 0 1 0 1 1 1 2 1 0 1-3 1 1 1 1 1-1 1 0 1-1 1 0 1 0 1 0 1 0 1 1 1-1 1 0 1 4 1-3 1 3 1-3 1 3 1 1 1-2 1-1 1-1 1 0 1 3 1-4 1 5 1-3 1-1 1 1 1 0 1-1 1 2 1-3 1 1 1 1 1 0 1 1 1-1 1-2 1 0 1 1 1 1 1-2 1 1 1-1 1 0 1 1 1 0 1 1 1-1 1 3 1-1 1 1 1-1 1-3 1 0 1 1 1-1 1 0 1 0 1 2 1-2 1 2 1-1 1-1 1 0 1 1 1 2 1-1 1 3 1-5 1 1 1 2 1-2 1 1 1 0 1-2 1 4 1-4 1 0 1 0 1 2 1-1 1 2 1-2 1-1 1 3 1-3 1 1 1 3 1-2 1 0 1 0 1-1 1 6 1-3 1-3 1 0 1-1 1 3 1 0 1-1 1-1 1 0 1 2 1-1 1-1 1 0 1 0 1 1 1 3 1-4 1 1 1 1 1-2 1 0 1 0 1 1 1-1 1 0 1 2 1-3 1 0 1 2 1 1 1 2 1-4 1 0 1 1 1 1 1-2 1-1 1 2 1-2 1 1 1 0 1 1 1 2 1 0 1-4 1 1 1-1 1 0 1 0 1 1 1 1 1-1 1 0 1 0 1 0 1 0 1-1 1 1 1 3 1-3 1 0 1-1 1 1 1-1 1 0 1 0 1 0 1 2 1-2 1 1 1 1 1-1 1 3 1-1 1 0 1-2 1-1 1 0 1 2 1-2 1 0 1 0 1 2 1-1 1 0 1 0 1 0 1 0 1-1 1 0 1 0 1 2 1-1 1 0 1 0 1-1 1 0 1 2 1 1 1-3 1 2 1-2 1 2 1-2 1 1 1 2 1 0 1-2 1 0 1 0 1 1 1-2 1 1 1 2 1-2 1 5 1-5 1 0 1 2 1 1 1-3 1 3 1-2 1-1 1 3 1-2 1-1 1 1 1 2 1-3 1 1 1 0 1-1 1 0 1 2 1-1 1 1 1-1 1 2 1-3 1-1 1 1 1 2 1-2 1 1 1 2 1-3 1 0 1 0 1 1 1-1 1 0 1 0 1-1 1 0 1 1 1 0 1 2 1-2 1 3 1-2 1-2 1 2 1-2 1 0 1 1 1-1 1 1 1 0 1 0 1-1 1 1 1 1 1 0 1-2 1 2 1-1 1 0 1 0 1 2 1-2 1-1 1 4 1-3 1-1 1 0 1 3 1-2 1 3 1-4 1 1 1 0 1 3 1-3 1 0 1-1 1 0 1 3 1-3 1 2 1 2 1-3 1 2 1-1 1 0 1 1 1 1 1 0 1-1 1-2 1 3 1-3 1 2 1-2 1-1 1 1 1-1 1 2 1-1 1 0 1-1 1 0 1 0 1 1 1-1 1 1 1 2 1-1 1-2 1 2 1-1 1 0 1 1 1-1 1-1 1 3 1-3 1 1 1 3 1-3 1 0 1 1 1 0 1 0 1 0 1 1 1 1 1-4 1 4 1-3 1 0 1 4 1-4 1 1 1-1 1 4 1 0 1-1 1-2 1 0 1 0 1-1 1-1 1 0 1 0 1 1 1-1 1 0 1 0 1 2 1 1 1-2 1 1 1-2 1 1 1 2 1 0 1-3 1 1 1 0 1-1 1 0 1 1 1-1 1 1 1 1 1-1 1 0 1 1 1-1 1 1 1 2 1-4 1 1 1 1 1-1 1-1 1 0 1 0 1 2 1 0 1-1 1-1 1 0 1 0 1 0 1 5 1-3 1-1 1-1 1 1 1-1 1 0 1 0 1 0 1 1 1-1 1 2 1-2 1 1 1-1 1 0 1 0 1 0 1 0 1 0 1 1 1-1 1 0 1 0 1 0 1 1 1 0 1-1 1 1 1-1 1 0 1 0 1 1 1 0 1-1 1 0 1 0 1 0 1 0 1 1 1-1 1 1 1-1 1 1 1 5 1-5 1 0 1 2 1-2 1-1 1 4 1 1 1-3 1-2 1 2 1 0 1 0 1-1 1 2 1-3 1 2 1 0 1 1 1-1 1-2 1 0 1 1 1 0 1 0 1 0 1 1 1 0 1-2 1 0 1 3 1 0 1-3 1 3 1-1 1 2 1 0 1-4 1 1 1 0 1 1 1-1 1 3 1-2 1-2 1 2 1-1 1 0 1-1 1 2 1-2 1 2 1-1 1 1 1-1 1-1 1 0 1 0 1 1 1 0 1 0 1 0 1 1 1-1 1 2 1-2 1 1 1-2 1 2 1 0 1-1 1 2 1 1 1-3 1 0 1 1 1 0 1-1 1-1 1 0 1 3 1 1 1 1 1-1 1-1 1 2 1-1 1 0 1 1 1-5 1 1 1 0 1 0 1 4 1-5 1 0 1 2 1 2 1-4 1 1 1 0 1 2 1-2 1 2 1-3 1 5 1-3 1-1 1 2 1-1 1 0 1 0 1-1 1 2 1-2 1 0 1 0 1 0 1-1 1 3 1-2 1 0 1-1 1 2 1-2 1 1 1 0 1 0 1 0 1-1 1 2 1-1 1 2 1-3 1 4 1-2 1 0 1-1 1 0 1 2 1-1 1 2 1-3 1 1 1 3 1-4 1 0 1 3 1-3 1 0 1 0 1 1 1-1 1 1 1-2 1 1 1-1 1 1 1-1 1 0 1 3 1-2 1 0 1 1 1 1 1-2 1 0 1-1 1 0 1 1 1-1 1 1 1 2 1-2 1 0 1 0 1 1 1-2 1 2 1-2 1 1 1 0 1 1 1 0 1-2 1 0 1 2 1-1 1-1 1 2 1 0 1 4 1-5 1 1 1-2 1 0 1 0 1 2 1-1 1 4 1-4 1-1 1 1 1 4 1-3 1-2 1 1 1-1 1 1 1-1 1 2 1 0 1-1 1-1 1 1 1 0 1-1 1 1 1 1 1-2 1 2 1-1 1 1 1-1 1 1 1-1 1 1 1 2 1-2 1-2 1 1 1 1 1-1 1 1 1-2 1 1 1-1 1 4 1-3 1-1 1 1 1 0 1 1 1 0 1-1 1 2 1 0 1-3 1 0 1 2 1 1 1-2 1 0 1 0 1-1 1 1 1 3 1-3 1 0 1 1 1 1 1-3 1 5 1-4 1-1 1 0 1 2 1-2 1 0 1 1 1-1 1 3 1-2 1 0 1 0 1 1 1-2 1 1 1 0 1-1 1 1 1-1 1 1 1-1 1 0 1 1 1 0 1 0 1-1 1 0 1 0 1 1 1-1 1 1 1 1 1-1 1 0 1 0 1 0 1 0 1 0 1-1 1 0 1 2 1 0 1-1 1-1 1 1 1 4 1-4 1 0 1 0 1 0 1 2 1-2 1-1 1 1 1 2 1-3 1 2 1 0 1-2 1 2 1-2 1 2 1-1 1-1 1 2 1-2 1 0 1 2 1 0 1-1 1-1 1 1 1-1 1 3 1-3 1 0 1 0 1 2 1-2 1 1 1-1 1 1 1-1 1 0 1 1 1 0 1 5 1-5 1-1 1 0 1 2 1 0 1 1 1 0 1-1 1 2 1 0 1 1 1-2 1-3 1 0 1 4 1-2 1-1 1 0 1-1 1 3 1-1 1 0 1-1 1-1 1 0 1 0 1 1 1-1 1 4 1-3 1 2 1 1 1-4 1 0 1 1 1-1 1 2 1 0 1-2 1 0 1 2 1 2 1-3 1 0 1 0 1 1 1 0 1-1 1 1 1-1 1-1 1 0 1 0 1 1 1-1 1 2 1-1 1 0 1 0 1-1 1 1 1-1 1 0 1 0 1 1 1 0 1 3 1-1 1-2 1-1 1 1 1-1 1 1 1 1 1 4 1-5 1 3 1 1 1-4 1 0 1 0 1 0 1 1 1-1 1 1 1-1 1 0 1 0 1 0 1 1 1 0 1 0 1 0 1 0 1 1 1 0 1 1 1 1 1 1 1 0 1 1 1-1 1-1 1 1 1 2 1 2 1 0 1 3 1-4 1-1 1-1 1 1 1-2 1 0 1-1 1-1 1 0 1 0 1-1 1 0 1-1 1 1 1-1 1 1 1 1 1-2 1 0 1-1 1 0 1 1 1 2 1-3 1 0 1 0 1 3 1-2 1 0 1-2 1 0 1 0 1 0 1 2 1-1 1-1 1 3 1-1 1-1 1-1 1 4 1-1 1-2 1 0 1 0 1 2 1-2 1 1 1-1 1-1 1 1 1 0 1 0 1-1 1 0 1 1 1-1 1 2 1 0 1-2 1 0 1 1 1 0 1-1 1 1 1-1 1 0 1 0 1 1 1 0 1 1 1 0 1-1 1 0 1 1 1 0 1 0 1 1 1 0 1 0 1 2 1 0 1 1 1 0 1-1 1-1 1-1 1 0 1 1 1-2 1 0 1 0 1-1 1 0 1 0 1 2 1-2 1 0 1 0 1-1 1 0 1 2 1-2 1 0 1 0 1 1 1-1 1 1 1-1 1 0 1 0 1 0 1 1 1 0 1-1 1 3 1-1 1-1 1-1 1 2 1 0 1 2 1 1 1-5 1 1 1 2 1 0 1-3 1 1 1-1 1 3 1-2 1 0 1-1 1 1 1-1 1 0 1 1 1 2 1 0 1-3 1 1 1 0 1-1 1 0 1 1 1 1 1-1 1 0 1 1 1 3 1-4 1 1 1-2 1 1 1 1 1-1 1 0 1 0 1 1 1-1 1 0 1 1 1 0 1 1 1 0 1 0 1 0 1 1 1 1 1 1 1 1 1 1 1 3 1-3 1-1 1-1 1-1 1 0 1-1 1-1 1 0 1-1 1 0 1 0 1 0 1 0 1 0 1 0 1-1 1 2 1-1 1 1 1 0 1-3 1 0 1 2 1-1 1 4 1-4 1 2 1 0 1 0 1-3 1 1 1-1 1 2 1-1 1-1 1 1 1 0 1 0 1 3 1-3 1-1 1 0 1 0 1 1 1 0 1 0 1 4 1-1 1-3 1 1 1 1 1-2 1-1 1 1 1 2 1-2 1 1 1-2 1 1 1 3 1-2 1-1 1 0 1 1 1 1 1-1 1 0 1-1 1 0 1-1 1 2 1-1 1-1 1 1 1 0 1 2 1-2 1 0 1 0 1 0 1 1 1 0 1 3 1-4 1 0 1-1 1 2 1-2 1 4 1-2 1 0 1-1 1 0 1-1 1 1 1-1 1 3 1 0 1 0 1-2 1 3 1-2 1-1 1 0 1 0 1 0 1-1 1 0 1 2 1 0 1-1 1 1 1-1 1-1 1 1 1-1 1 1 1 0 1 2 1 0 1 1 1-3 1 0 1 2 1-2 1-1 1 2 1 0 1 0 1 0 1 0 1-2 1 1 1-1 1 0 1 2 1-1 1 0 1-1 1 1 1 0 1 0 1 1 1-2 1 2 1-1 1 3 1-3 1-1 1 1 1 1 1 2 1-4 1 0 1 1 1 0 1 4 1-3 1-1 1 4 1-3 1-1 1 2 1 0 1-3 1 2 1 0 1-2 1 1 1-1 1 2 1 1 1 0 1 1 1 1 1-4 1 0 1-1 1 1 1 1 1-2 1 4 1 0 1-4 1 4 1-2 1-1 1 2 1-1 1 0 1-2 1 2 1-2 1 0 1 4 1-4 1 1 1-1 1 2 1 1 1-2 1 0 1 0 1-1 1 2 1-2 1 1 1 0 1 3 1 0 1-4 1 0 1 1 1-1 1 0 1 2 1-2 1 1 1-1 1 0 1 0 1 0 1 0 1 1 1-1 1 1 1-1 1 1 1-1 1 2 1-2 1 3 1-3 1 1 1-1 1 4 1-2 1 2 1-3 1 2 1 0 1-2 1-1 1 1 1 2 1-2 1 2 1-2 1 2 1-2 1 1 1-1 1-1 1 0 1 1 1 0 1-1 1 4 1-2 1-1 1-1 1 0 1 5 1-4 1 1 1 1 1-2 1-1 1 0 1 1 1 0 1 1 1 0 1-2 1 0 1 0 1 0 1 0 1 0 1 1 1 1 1 0 1-2 1 2 1-2 1 0 1 1 1-1 1 1 1 0 1-1 1 0 1 1 1-1 1 0 1 2 1 1 1-1 1-2 1 1 1-1 1 3 1-2 1-1 1 1 1 2 1-3 1 3 1-1 1-2 1 2 1-2 1 0 1 0 1 0 1 1 1-1 1 0 1 1 1 1 1-2 1 0 1 1 1 2 1-2 1-1 1 2 1 1 1-1 1-1 1 3 1-1 1-2 1-1 1 2 1-2 1 2 1-1 1 0 1 1 1-1 1 0 1 1 1-1 1 0 1 1 1 0 1 0 1 0 1 1 1 0 1 1 1 0 1 0 1 2 1 1 1 1 1 0 1 3 1 2 1 2 1 5 1 2 1 6 1 4 1 13 1 17 1 4 1-21 1-17 1-8 1 1 1-2 1 12 1 10 1 18 1 16 1-21 1-15 1-11 1-10 1-6 1-4V0" fill="#0000ff" stroke="#00008b" stroke-width="0.85" vector-effect="non-scaling-stroke"/></g>
<path d="M259 880.5H270.5M259 1019.5H270.5" fill="none" stroke="#333" stroke-width="1"/>
<path d="M270.5 880.0V1020.0" stroke="#858575" stroke-width="1"/>
<text x="252.4" y="883.3" class="ax">75</text>
<text x="252.4" y="1022.1" class="ax">0</text>
<text x="74" y="955.7" class="nm">GSM5550313</text>
<g transform="translate(271.0 1173.0) scale(0.33333 -2.78000)"><path d="M0 0V2l1-1 1 2 1 1 1 0 1-4 1 1 1 1 1 1 1-2 1 0 1 2 1-3 1 0 1 2 1-1 1-1 1 0 1 2 1-2 1 2 1-1 1-1 1 0 1 0 1 0 1 1 1-1 1 0 1 0 1 1 1 0 1 0 1 1 1-1 1-1 1 2 1 0 1-2 1 0 1 2 1-1 1 0 1 0 1 1 1-2 1 2 1-2 1 1 1-1 1 3 1-2 1 0 1 1 1-1 1-1 1 0 1 2 1 0 1 1 1 0 1-3 1 4 1 3 1-7 1 2 1 0 1 0 1-1 1 0 1 0 1 2 1-2 1-1 1 4 1-1 1-2 1-1 1 2 1 0 1 1 1 0 1-1 1-1 1 0 1 2 1-2 1 1 1-1 1 2 1-2 1 0 1 1 1-1 1 2 1-1 1-1 1 0 1 2 1-1 1 0 1 0 1 0 1 1 1 5 1-6 1 1 1-1 1 1 1 0 1 1 1 0 1 0 1 1 1 0 1 1 1 0 1 1 1 0 1 0 1 1 1-1 1 0 1 1 1 0 1 3 1-1 1-2 1 0 1-1 1 1 1 0 1 0 1 2 1 6 1-2 1-2 1-3 1-2 1 0 1-2 1-1 1 0 1-1 1 0 1 3 1-4 1 0 1 1 1 0 1 0 1-1 1 0 1 0 1 0 1 0 1-1 1 0 1 0 1 0 1 0 1 0 1 3 1-3 1 0 1 0 1 0 1 1 1-1 1 0 1 0 1 1 1 0 1 0 1 1 1 0 1 1 1 1 1 1 1 1 1 1 1-1 1 2 1 3 1 2 1-2 1-2 1-1 1-2 1 0 1-1 1-2 1-1 1 1 1-2 1 0 1 0 1-1 1 0 1 1 1-1 1 0 1 1 1-1 1 0 1-1 1 0 1 3 1 0 1-1 1 0 1-1 1 2 1 0 1-2 1 1 1-2 1 0 1 0 1 2 1-1 1 1 1-2 1 4 1-4 1 1 1 3 1 0 1-4 1 0 1 2 1-1 1 0 1 4 1-2 1 0 1-1 1-2 1 3 1 1 1-2 1-1 1 0 1 2 1 1 1-1 1 2 1-2 1-2 1 3 1-3 1 4 1-4 1 0 1 2 1-2 1 1 1-2 1 0 1 2 1-1 1 1 1 0 1-1 1-1 1 1 1 1 1-2 1 1 1 0 1 2 1-1 1-1 1 1 1-1 1-1 1 0 1 1 1-1 1 2 1-1 1-1 1 0 1 1 1 0 1 1 1 0 1 0 1-2 1 2 1-1 1 5 1-2 1-2 1-1 1 0 1 0 1 1 1-1 1 0 1-1 1 2 1 2 1-2 1-1 1 3 1 0 1-3 1 3 1-2 1 2 1-4 1 1 1 3 1-3 1 2 1-2 1 4 1-1 1-3 1 3 1 1 1-3 1 1 1 0 1-2 1 0 1 0 1 0 1 1 1 3 1-3 1-1 1 0 1-1 1 0 1 0 1 4 1-3 1-1 1 1 1 1 1-2 1 3 1-2 1 0 1 2 1-3 1 2 1 2 1 0 1-3 1 0 1 2 1-3 1 2 1-1 1 3 1-3 1 1 1-1 1-1 1 3 1-2 1 2 1 0 1 1 1-3 1 0 1-1 1 1 1 1 1 0 1 0 1-1 1-1 1 0 1 1 1 0 1 0 1 0 1 0 1 3 1-2 1-1 1 2 1-1 1-1 1 2 1-1 1 2 1 1 1-1 1-3 1 1 1 0 1 0 1 2 1-3 1-1 1 3 1-2 1 0 1-1 1 2 1-2 1 0 1 4 1-1 1-2 1 0 1 1 1-1 1 1 1 0 1-1 1 0 1 3 1 1 1 0 1-3 1 2 1-3 1 1 1 2 1-1 1-1 1 0 1-1 1 0 1 0 1 2 1-3 1 0 1 1 1 0 1 0 1-1 1 1 1 0 1 2 1-1 1-2 1 0 1 1 1-1 1 4 1-3 1-1 1 0 1 3 1 1 1-3 1 6 1-7 1 2 1 0 1-2 1 1 1 0 1 0 1 1 1-1 1-1 1 1 1 2 1-2 1-1 1 2 1-2 1 1 1-1 1 1 1 2 1 0 1-2 1 0 1 0 1 0 1 0 1 3 1-1 1-2 1 0 1 3 1-3 1 0 1 0 1 4 1-4 1 0 1 0 1 0 1 0 1 0 1 0 1 0 1 1 1-1 1 0 1 1 1 0 1 0 1 0 1 0 1 1 1 0 1-1 1 3 1-3 1 1 1 0 1 0 1 0 1 0 1 2 1-2 1 0 1 0 1 0 1 2 1-2 1 2 1-1 1 0 1 0 1 1 1 1 1-1 1 0 1 0 1 0 1 2 1 0 1 0 1 0 1 1 1 0 1 0 1 3 1 1 1 3 1 4 1 3 1 1 1 7 1 5 1 0 1-5 1-4 1-4 1-3 1-4 1-2 1-2 1-4 1-1 1 0 1-1 1-1 1-1 1 0 1-1 1 0 1 0 1 2 1 0 1-2 1 1 1 0 1 0 1 0 1-1 1 0 1 0 1 1 1-1 1 3 1-4 1 0 1 0 1 3 1-1 1 1 1-3 1 0 1 0 1 3 1-1 1-2 1 1 1 2 1 1 1-2 1-2 1 2 1 3 1-5 1 1 1-1 1 0 1-1 1 1 1-1 1 1 1 0 1 0 1 0 1 2 1-3 1 3 1-2 1-1 1 4 1 0 1-4 1 1 1 2 1-1 1-1 1 1 1-1 1-1 1 0 1 3 1 0 1-3 1 0 1 0 1 1 1 0 1-1 1 3 1-1 1-1 1-1 1 1 1 1 1-1 1 1 1 1 1-1 1-1 1 1 1 0 1 1 1-3 1 0 1 2 1-2 1 1 1 1 1-2 1 0 1 1 1 1 1-1 1-1 1 2 1 0 1-1 1-1 1 1 1-1 1 3 1-3 1 0 1 2 1 0 1 0 1-1 1 0 1 1 1-1 1 1 1 0 1 3 1-4 1 0 1 0 1 1 1 2 1-3 1 4 1-1 1-2 1 3 1-3 1 3 1-4 1 2 1-2 1 0 1 0 1 1 1-2 1 1 1 2 1 0 1-3 1 3 1-2 1 5 1 1 1-7 1 1 1 1 1-2 1 1 1 0 1 0 1 2 1-2 1 1 1-2 1 2 1-2 1 1 1 1 1 0 1-1 1 1 1-1 1 0 1 1 1-1 1-1 1 1 1 0 1-1 1 2 1-2 1 0 1 2 1-2 1 3 1 4 1-4 1-2 1 2 1 1 1-3 1 0 1 2 1 0 1-1 1 0 1 0 1 3 1-4 1 1 1-1 1 2 1-1 1 1 1 1 1-3 1 1 1-1 1 0 1 0 1 1 1 0 1-1 1 0 1-1 1 1 1-1 1 1 1 1 1-1 1 3 1-2 1 0 1-1 1 0 1 1 1-1 1-1 1 4 1-3 1-1 1 3 1-3 1 0 1 1 1 3 1-2 1 0 1 0 1 0 1 3 1-4 1 2 1-2 1 0 1 1 1 0 1 0 1 0 1 0 1 1 1 0 1 0 1 0 1 1 1 0 1 0 1 1 1 0 1 1 1 1 1 2 1 1 1 1 1 1 1 0 1-1 1 4 1 4 1-4 1 6 1 2 1 3 1-1 1-4 1-2 1-1 1-2 1-1 1-5 1-1 1-1 1 0 1-2 1 0 1-1 1 0 1-1 1-1 1 2 1-2 1 0 1-1 1 0 1 0 1 0 1 1 1 0 1 0 1 1 1 0 1 0 1 1 1 2 1 0 1-1 1 1 1 2 1 2 1 1 1 2 1 0 1 4 1-2 1 0 1 8 1 3 1 8 1 10 1 5 1 0 1-11 1-4 1-4 1-9 1 7 1-12 1 2 1 0 1-3 1-5 1-1 1 2 1-1 1-1 1-1 1 3 1-2 1-2 1 2 1-1 1 3 1 1 1 2 1 3 1 2 1 2 1 0 1-1 1 6 1 3 1 1 1 12 1 3 1-5 1-5 1-7 1-1 1-3 1-4 1-4 1-3 1 1 1-4 1-1 1 0 1-1 1-1 1-1 1-1 1 0 1 0 1 0 1 1 1 1 1 0 1 0 1-1 1-1 1 1 1-1 1-1 1 0 1-2 1 1 1 0 1-1 1 1 1-1 1 0 1 0 1 0 1 0 1 0 1-1 1 0 1 0 1 0 1 0 1 0 1 1 1 2 1-2 1 1 1-1 1 1 1 3 1-2 1-2 1 1 1 1 1 0 1 0 1-1 1 4 1 0 1-2 1 0 1-1 1 0 1 0 1-1 1 1 1-1 1-1 1 0 1-1 1 0 1 0 1 0 1 0 1 0 1 0 1 0 1 1 1-1 1-1 1 0 1 0 1 0 1 0 1 0 1 1 1 0 1-1 1 0 1 0 1-1 1 1 1 1 1 1 1 2 1 1 1-6 1 3 1-1 1 2 1-1 1 1 1-4 1 0 1 0 1 1 1 1 1-2 1 2 1 0 1-1 1 0 1-1 1 0 1 1 1 2 1-1 1-1 1 1 1-1 1 1 1 1 1-3 1 3 1-2 1 3 1-3 1 0 1 0 1 1 1 1 1-1 1 2 1 1 1-1 1-4 1 1 1-1 1 0 1 1 1-1 1 1 1 1 1-1 1-1 1 4 1-4 1 1 1 2 1-1 1 0 1 1 1-1 1-1 1-1 1 2 1-1 1 3 1-1 1 1 1 0 1-3 1 3 1-1 1-3 1 4 1-4 1 2 1 0 1 0 1 0 1 1 1-1 1-2 1 1 1 2 1 0 1 2 1-3 1 1 1 2 1-2 1 0 1 1 1-2 1 4 1-4 1 0 1-1 1 1 1-1 1 0 1 0 1 0 1 0 1 2 1-1 1-2 1 2 1 0 1-1 1 0 1-1 1 3 1-2 1-1 1 2 1-2 1 1 1 1 1-1 1 2 1-1 1 2 1-2 1 0 1 1 1 0 1 0 1-2 1 0 1 0 1 0 1-1 1 4 1 0 1-2 1-1 1 3 1-1 1-1 1 0 1-1 1 2 1-3 1 1 1 4 1-2 1 0 1 0 1-2 1 2 1 2 1-5 1 3 1-3 1 0 1 0 1 4 1-2 1-1 1 2 1 0 1-3 1 1 1 1 1-2 1 1 1 0 1 0 1 1 1 0 1-2 1 1 1-1 1 4 1-4 1 0 1 3 1-2 1-1 1 1 1 1 1-2 1 0 1 1 1-1 1 3 1-3 1 1 1 0 1-1 1 0 1 2 1-2 1 1 1 1 1-1 1 1 1-1 1 0 1 1 1-1 1 2 1-3 1 0 1 1 1 1 1-1 1 0 1 0 1 0 1 0 1 0 1 0 1-1 1 3 1-2 1 1 1 0 1 0 1 1 1 0 1 0 1-2 1 2 1-3 1 1 1 1 1-2 1 0 1 0 1 1 1 1 1-2 1 0 1 0 1 2 1-2 1 1 1 2 1-3 1 0 1 0 1 0 1 2 1-2 1 2 1-1 1-1 1 0 1 6 1-4 1-1 1-1 1 1 1 2 1 3 1-4 1 2 1-3 1-1 1 1 1 0 1-1 1 0 1 4 1 0 1-4 1 0 1 2 1-1 1-1 1 2 1 1 1 0 1-1 1-1 1 1 1-1 1 7 1-2 1-3 1-2 1 0 1 1 1-1 1 0 1 3 1 1 1-1 1-3 1 3 1-3 1 0 1-1 1 1 1 2 1-1 1 0 1-1 1 0 1-1 1 3 1-2 1-1 1 0 1 2 1-2 1 1 1 1 1 1 1-2 1 1 1 1 1 3 1-4 1 0 1 2 1-3 1 3 1 0 1-3 1 0 1 0 1 0 1 0 1-1 1 3 1-1 1-2 1 0 1 2 1 1 1-3 1 1 1 0 1 0 1 1 1 0 1 0 1 0 1-2 1 1 1 2 1-2 1 1 1-1 1 1 1-1 1 1 1-1 1-1 1 2 1 1 1-1 1-1 1 0 1 2 1 2 1-3 1-1 1 0 1 2 1-2 1 1 1-1 1 3 1-2 1 0 1 15 1-5 1 6 1-6 1-2 1 4 1-4 1-1 1 1 1 2 1 1 1 4 1 3 1 4 1 3 1 2 1 10 1-1 1-4 1-4 1 2 1 7 1 2 1 9 1-3 1-8 1-10 1-2 1-6 1-3 1-1 1-1 1 2 1-2 1-4 1-3 1 0 1-4 1 5 1-6 1 3 1-2 1 10 1-7 1 5 1 5 1-3 1-6 1 2 1-3 1 4 1 0 1-4 1 1 1 0 1 8 1-5 1 2 1 2 1 5 1-2 1 4 1 11 1-12 1-1 1-2 1 0 1-9 1 1 1-1 1 1 1 0 1 11 1-9 1 4 1-6 1-8 1 0 1-1 1 0 1 3 1-4 1 2 1-1 1 0 1 3 1-3 1 0 1 0 1 2 1-3 1 2 1 0 1-3 1 2 1-1 1 0 1 1 1-1 1 1 1-2 1 3 1-1 1-2 1 2 1 0 1 2 1-2 1 2 1-2 1 1 1-3 1 3 1-3 1 2 1-2 1 0 1 1 1-1 1 1 1-1 1 1 1-1 1 1 1 0 1 1 1-1 1-1 1 0 1 0 1 1 1 0 1-1 1 0 1 0 1 1 1-1 1 3 1-3 1 2 1-2 1 1 1-1 1 1 1 0 1 0 1-1 1 2 1-1 1 0 1 0 1 0 1 0 1-1 1 0 1 0 1 0 1 2 1-2 1 1 1-1 1 3 1-2 1 2 1-2 1 2 1-2 1 1 1-2 1 1 1 1 1-2 1 2 1-2 1 0 1 2 1-1 1 1 1-1 1 1 1 1 1-1 1-1 1-1 1 1 1 0 1 0 1 3 1-3 1 0 1 0 1-1 1 0 1 2 1-1 1 0 1-1 1 1 1 0 1-1 1 2 1-2 1 2 1-1 1 2 1 0 1-3 1 2 1 1 1-3 1 2 1 1 1-2 1 3 1-3 1-1 1 3 1-1 1-1 1 1 1-2 1 0 1 2 1-1 1-1 1 3 1 0 1-2 1 1 1 1 1 1 1-1 1 1 1 0 1-1 1-3 1 2 1-2 1 2 1-2 1 0 1 2 1-2 1 0 1 1 1 0 1 3 1-3 1 1 1-1 1 0 1 0 1 1 1-1 1 0 1 0 1 0 1 1 1 1 1-1 1 0 1 1 1 0 1 1 1 0 1 0 1 0 1 2 1 0 1 1 1 0 1 1 1 1 1 1 1-2 1-2 1-2 1 0 1 2 1-1 1-1 1 0 1 0 1-1 1 0 1 0 1-1 1 0 1 0 1-1 1 0 1 0 1 0 1 1 1 0 1-2 1 1 1 1 1-1 1 0 1 2 1-2 1 0 1 0 1 0 1 0 1-1 1 0 1 1 1 0 1-1 1 2 1-2 1 2 1-1 1 0 1 2 1-2 1-1 1 2 1-2 1 2 1-1 1 0 1-1 1 3 1-2 1-1 1 0 1 0 1 1 1 1 1 0 1-1 1 0 1 0 1 0 1 0 1 3 1-3 1 1 1-2 1 1 1 2 1 2 1-3 1-2 1 3 1-1 1-2 1 2 1-1 1 0 1 1 1-1 1 0 1-1 1 0 1 1 1-1 1 1 1 0 1 3 1-4 1 4 1-4 1 1 1 0 1 0 1 0 1 3 1-4 1 1 1-1 1 1 1 1 1-2 1 1 1-1 1 0 1 1 1 1 1-1 1-1 1 0 1 0 1 2 1-1 1-1 1 0 1 1 1-1 1 1 1-1 1 1 1-1 1 0 1 1 1 1 1-2 1 2 1-2 1 1 1 1 1 1 1-2 1-1 1 0 1 0 1 1 1 1 1-2 1 1 1-1 1 0 1 3 1-1 1 1 1 0 1 0 1 0 1-1 1-2 1 0 1 0 1 4 1-3 1 0 1-1 1 2 1 1 1-3 1 3 1-1 1-2 1 2 1-2 1 0 1 0 1 1 1 0 1 3 1-1 1 0 1-3 1 4 1-4 1 3 1-2 1-1 1 4 1-3 1 0 1 1 1 0 1-2 1 2 1-1 1 0 1 0 1-1 1 3 1-3 1 1 1 1 1 1 1-2 1 3 1-3 1 4 1-5 1 0 1 3 1-2 1 0 1 1 1 1 1 0 1-1 1-2 1 0 1 1 1 0 1 0 1 1 1-2 1 1 1-1 1 4 1-2 1-2 1 2 1 0 1 1 1 0 1-2 1 2 1 1 1-4 1 0 1 0 1 1 1 0 1-1 1 1 1-1 1 0 1 0 1 0 1 2 1-2 1 0 1 2 1-1 1 0 1-1 1 1 1-1 1 2 1-2 1 0 1 0 1 0 1 3 1-1 1 0 1-1 1 0 1-1 1 1 1 2 1-2 1 0 1 1 1-2 1 0 1 0 1 1 1-1 1 1 1 0 1 0 1 2 1 0 1-2 1 0 1 3 1-4 1 1 1 0 1 1 1-2 1 1 1 2 1 0 1-1 1-1 1-1 1 0 1 0 1 1 1-1 1 0 1 1 1-1 1 0 1 0 1 1 1-1 1 0 1 3 1-2 1 0 1-1 1 1 1-1 1 1 1 0 1-1 1 3 1-3 1 1 1-1 1 0 1 1 1 4 1-5 1 3 1-3 1 1 1 2 1-2 1 0 1 0 1 4 1-4 1-1 1 1 1 1 1-2 1 0 1 1 1 0 1-1 1 2 1-2 1 0 1 2 1 0 1-2 1 0 1 2 1-1 1-1 1 2 1 0 1-2 1 2 1 1 1-1 1 0 1-1 1 2 1-2 1 1 1 1 1-1 1 1 1-1 1 0 1-1 1-1 1 1 1 3 1-2 1 0 1-1 1 3 1-2 1-2 1 1 1-1 1 0 1 1 1 2 1-2 1-1 1 0 1 0 1 1 1 0 1 2 1-1 1-2 1 1 1 0 1-1 1 3 1 2 1-4 1-1 1 1 1 1 1 1 1-2 1-1 1 1 1-1 1 3 1-2 1 0 1-1 1 0 1 1 1 0 1 2 1-1 1-1 1 0 1 0 1 0 1 0 1 0 1 0 1-1 1 0 1 2 1-2 1 2 1 2 1-2 1-1 1 0 1-1 1 3 1 1 1-1 1-2 1 2 1 0 1 0 1-1 1 1 1 0 1-2 1 0 1 3 1-4 1 2 1 0 1-2 1 1 1 3 1-4 1 2 1 0 1-1 1-1 1 0 1 0 1 1 1 1 1 1 1-2 1 0 1 0 1 0 1 1 1 3 1-4 1 1 1-1 1-1 1 1 1 0 1-1 1 1 1 0 1 3 1-4 1 2 1 2 1-2 1-1 1 1 1-1 1 0 1 1 1-2 1 1 1-1 1 2 1-1 1 0 1-1 1 2 1 4 1-4 1 0 1-1 1-1 1 0 1 1 1-1 1 1 1-1 1 3 1-3 1 1 1 0 1 0 1 1 1 0 1-1 1 0 1 4 1-5 1 3 1-1 1 0 1-1 1 0 1-1 1 1 1 1 1-1 1-1 1 1 1-1 1 1 1 3 1-3 1 0 1 0 1 1 1-2 1 2 1 2 1 1 1-2 1-1 1-1 1 1 1-2 1 2 1-1 1 2 1-2 1 4 1-3 1-1 1-1 1 2 1-1 1-1 1 1 1 0 1-1 1 2 1-2 1 2 1-1 1 0 1-1 1 1 1 1 1-2 1 1 1 3 1 0 1-3 1 0 1 0 1-1 1 3 1-2 1 1 1-1 1 1 1 1 1-3 1 0 1 1 1-1 1 1 1 0 1-1 1 1 1 1 1-1 1 3 1-1 1-2 1 1 1-1 1 1 1 0 1 0 1 0 1 1 1 0 1 1 1 0 1 1 1-1 1 3 1 1 1-2 1-1 1-1 1 0 1-1 1 0 1-1 1 0 1 0 1 0 1 0 1-1 1 0 1 1 1-1 1 0 1 3 1-3 1 0 1-1 1 3 1-2 1-1 1 2 1 1 1-2 1 0 1 0 1-1 1 1 1 1 1-2 1 1 1 0 1-1 1 1 1 2 1-3 1 1 1 0 1 0 1 1 1-1 1 0 1 2 1-3 1 2 1-2 1 4 1-3 1-1 1 4 1-3 1 1 1-1 1 0 1 2 1-1 1-1 1-1 1 0 1 2 1-1 1 3 1-3 1 0 1 0 1-1 1 0 1 0 1 1 1 1 1-2 1 0 1 2 1 1 1-3 1 1 1-1 1 0 1 0 1 0 1 2 1 0 1-1 1 2 1-3 1 2 1-1 1 3 1-2 1-2 1 2 1-2 1 1 1-1 1 1 1 0 1 0 1 1 1-1 1 0 1-1 1 0 1 0 1 0 1 1 1 0 1-1 1 1 1-1 1 1 1-1 1 0 1 0 1 0 1 1 1 0 1-1 1 0 1 0 1 1 1-1 1 0 1 1 1-1 1 1 1-1 1 0 1 1 1-1 1 2 1 0 1 5 1-7 1 1 1 0 1 2 1-1 1 1 1-3 1 0 1 1 1 0 1-1 1 3 1-2 1-1 1 0 1 1 1 0 1 1 1 1 1-1 1-1 1 4 1-2 1-3 1 5 1-1 1-4 1 1 1 2 1-3 1 0 1 0 1 2 1 0 1 0 1 0 1-1 1 0 1-1 1 0 1 1 1 2 1 0 1-1 1 1 1-3 1 2 1-1 1 1 1-1 1-1 1 3 1-1 1 2 1 0 1 0 1-2 1 1 1 0 1-2 1 1 1-2 1 2 1-1 1 0 1-1 1 1 1-1 1 2 1-2 1 0 1 0 1 4 1-3 1 2 1-3 1 0 1 1 1 0 1 1 1 2 1-3 1 1 1 0 1 0 1 1 1-1 1-1 1 1 1 0 1-1 1 3 1-3 1-1 1 1 1 0 1 1 1-1 1 1 1-2 1 2 1-1 1 1 1-1 1-1 1 2 1 1 1-2 1-1 1 4 1-1 1-3 1 1 1 0 1-1 1 0 1 3 1-2 1 1 1-2 1 2 1-1 1 2 1-1 1-1 1 2 1-2 1 1 1-2 1 1 1 0 1 3 1-4 1 1 1 2 1-2 1 3 1-4 1 1 1 0 1 5 1-6 1 2 1 0 1 2 1-2 1-1 1 0 1 1 1 1 1-2 1 1 1-2 1 1 1 0 1 0 1-1 1 0 1 3 1-2 1 1 1 1 1-2 1-1 1 3 1-2 1-1 1 2 1-1 1 2 1-1 1 1 1-2 1 2 1-1 1-1 1-1 1 0 1 1 1 0 1-1 1 0 1 0 1 2 1-1 1 0 1-1 1 1 1-1 1 0 1 0 1 2 1-2 1 0 1 0 1 0 1 0 1 0 1 0 1 1 1-1 1 1 1-1 1 0 1 0 1 3 1-1 1 0 1-2 1 1 1 0 1 1 1 2 1-3 1 0 1-1 1 0 1 3 1 2 1-3 1 1 1 1 1-2 1 2 1-2 1-1 1-1 1 2 1 3 1-4 1 1 1 2 1-2 1 3 1-4 1 0 1 1 1 1 1-2 1 0 1 2 1-1 1-1 1 0 1 0 1 1 1 1 1-3 1 1 1-1 1 0 1 2 1 3 1-5 1 2 1-2 1 1 1-1 1 1 1 0 1 0 1 2 1-3 1 2 1-2 1 2 1-2 1 1 1-1 1 3 1-2 1 1 1 0 1-2 1 1 1 0 1-1 1 0 1 0 1 0 1 2 1 0 1 0 1-2 1 0 1 0 1 1 1 2 1-2 1-1 1 1 1-1 1 0 1 1 1 1 1-1 1 0 1-1 1 1 1-1 1 2 1-1 1-1 1 4 1-4 1 2 1-2 1 0 1 1 1-1 1 0 1 1 1-1 1 1 1-1 1 1 1 2 1-2 1 0 1 4 1 0 1-4 1 2 1-3 1 2 1 3 1-4 1 0 1 0 1-1 1 0 1 0 1 3 1-2 1-1 1 1 1 1 1 0 1 0 1-1 1 0 1-1 1 0 1 0 1 1 1 3 1-3 1-1 1 0 1 4 1-2 1-1 1 0 1 2 1-2 1-1 1 1 1 2 1-2 1 0 1-1 1 1 1-1 1 4 1-2 1 1 1 0 1-3 1 0 1 1 1-1 1 0 1 2 1-2 1 2 1 0 1-1 1-1 1 1 1 0 1 2 1-3 1 3 1-2 1 0 1 1 1-2 1 0 1 3 1-3 1 0 1 0 1 3 1-2 1-1 1 1 1-1 1 1 1 0 1 4 1-4 1 0 1 0 1 0 1 1 1-1 1 1 1-2 1 1 1 0 1 1 1-1 1 1 1-1 1-1 1 2 1-2 1 3 1-3 1 2 1-2 1 2 1-2 1 3 1-3 1 0 1 1 1-1 1 1 1-1 1 1 1 0 1 0 1 0 1-1 1 0 1 1 1-1 1 0 1 0 1 0 1 0 1 0 1 1 1 0 1-1 1 2 1-1 1 2 1-3 1 0 1 2 1 1 1-2 1 3 1-4 1 1 1-1 1 0 1 1 1-1 1 0 1 1 1-1 1 0 1 1 1-1 1 0 1 2 1-2 1 0 1 1 1 0 1 1 1-1 1-1 1 3 1-2 1-1 1 2 1 0 1 0 1-2 1 2 1-1 1 0 1 2 1-2 1 1 1-2 1 2 1-1 1 0 1 0 1-1 1 0 1 0 1 0 1 1 1 0 1 0 1-1 1 1 1 0 1 0 1 0 1 0 1 0 1 0 1 0 1 1 1 0 1 0 1 0 1 0 1 1 1 0 1 0 1 0 1 0 1 1 1 1 1-1 1 2 1 0 1 0 1 2 1-1 1 1 1 3 1-2 1-3 1 0 1 1 1 0 1-1 1-1 1 0 1-1 1 0 1 0 1-1 1 0 1-1 1 0 1 0 1 0 1 0 1-1 1 2 1-2 1 0 1 0 1 1 1 0 1-1 1 1 1-1 1 0 1 2 1 1 1-3 1-1 1 1 1-1 1 0 1 0 1 1 1 5 1-6 1 0 1 1 1 1 1 1 1-2 1-1 1 0 1 0 1 2 1-2 1 0 1 0 1 2 1-1 1 2 1-3 1 0 1 1 1 0 1 3 1-3 1-1 1 0 1 0 1 2 1 2 1-3 1 0 1 0 1 0 1 1 1 0 1 0 1 0 1 0 1 1 1 0 1 1 1 1 1 0 1 2 1 2 1-2 1-1 1-1 1-1 1 0 1-1 1-1 1 0 1 0 1 1 1 1 1-3 1 0 1 0 1 0 1-1 1 0 1 1 1 1 1-2 1 0 1 1 1 1 1-1 1 0 1-1 1 0 1 0 1 4 1-3 1 1 1 3 1-2 1 1 1-2 1 0 1 2 1-3 1 2 1-3 1 2 1-1 1 1 1 0 1-2 1 1 1-1 1 0 1 3 1-1 1-2 1 2 1 1 1 0 1 0 1-3 1 0 1 1 1 1 1 0 1-1 1-1 1 0 1 0 1 0 1 1 1-1 1 0 1 0 1 1 1 0 1 0 1 0 1 0 1 0 1 0 1 0 1 0 1 0 1 0 1 1 1 0 1 2 1-2 1 0 1 1 1 0 1 0 1 0 1 0 1 2 1 0 1 1 1-1 1 2 1-3 1 0 1-1 1 1 1 0 1-1 1 1 1-1 1 0 1-1 1 0 1 0 1 0 1-1 1 0 1 1 1 3 1-4 1 0 1 0 1 0 1 0 1 0 1-1 1 2 1 0 1-1 1-1 1 0 1 0 1 0 1 1 1 0 1 0 1-1 1 0 1 1 1-1 1 1 1 0 1-1 1 0 1 1 1 0 1 0 1 0 1 0 1-1 1 2 1-2 1 0 1 1 1-1 1 1 1 1 1-1 1 1 1 0 1-1 1 1 1-1 1 0 1 2 1-2 1 2 1-1 1 2 1 0 1-2 1-1 1-1 1 2 1-1 1 0 1-1 1 1 1 0 1 0 1-1 1 3 1-3 1 3 1-2 1 3 1-4 1 0 1 1 1-1 1 1 1-1 1 1 1-1 1 1 1 0 1 1 1-2 1 1 1 0 1 0 1 1 1-1 1 2 1-2 1 0 1 1 1-1 1 1 1 0 1 0 1 2 1-1 1 0 1 3 1 0 1 2 1-1 1-1 1-2 1 0 1-1 1 0 1-1 1 0 1 0 1 2 1-3 1 0 1 0 1 0 1 0 1 0 1 3 1-1 1-1 1-2 1 1 1 2 1-1 1 1 1-2 1 1 1-2 1 0 1 3 1-3 1 1 1 0 1 0 1-1 1 0 1 1 1 0 1 0 1-1 1 1 1 0 1 0 1-1 1 0 1 0 1 0 1 2 1-2 1 0 1 2 1 0 1-1 1 1 1 0 1-2 1 2 1-2 1 0 1 0 1 1 1 2 1 1 1-1 1 0 1-3 1 1 1 1 1-1 1 0 1 0 1 1 1-1 1 0 1-1 1 0 1 1 1 0 1 0 1 1 1 0 1-2 1 2 1-1 1 2 1-3 1 2 1 1 1-2 1-1 1 1 1 2 1-1 1-1 1-1 1 1 1 0 1 3 1-3 1 0 1 0 1 0 1 0 1 0 1 0 1 0 1-1 1 1 1-1 1 1 1-1 1 3 1-1 1 1 1 1 1 0 1-3 1 0 1-1 1 1 1-1 1 0 1 0 1 1 1 0 1 1 1-1 1-1 1 2 1-1 1-1 1 1 1 3 1-4 1 1 1 0 1 1 1 0 1-1 1 0 1 2 1-2 1 3 1-3 1 1 1-1 1-1 1 1 1-1 1 1 1 1 1 0 1 3 1-5 1 2 1-1 1-1 1 3 1-1 1 0 1-1 1 0 1 2 1-2 1 0 1 2 1-1 1-1 1 2 1 1 1-3 1 1 1 0 1 1 1 0 1 0 1 1 1 0 1 1 1 1 1-1 1-2 1-1 1 1 1-1 1 0 1 0 1 0 1-1 1 3 1-3 1 0 1 0 1 2 1-2 1 1 1-2 1 2 1-2 1 1 1 1 1-2 1 2 1-2 1 0 1 1 1 0 1 1 1 0 1 0 1 0 1-2 1 2 1 2 1-2 1-1 1-1 1 1 1 0 1 3 1-3 1 2 1-3 1 2 1-2 1 1 1 0 1 2 1-2 1 3 1-1 1-2 1 0 1 0 1 0 1 1 1 3 1-3 1 1 1 0 1 2 1 1 1 0 1 1 1 0 1 4 1 0 1 1 1 4 1 4 1 2 1 12 1 6 1 10 1-19 1-8 1-4 1-4 1 5 1-2 1 10 1 14 1 3 1-13 1-10 1-6 1-3 1-2 1-1V0" fill="#0000ff" stroke="#00008b" stroke-width="0.85" vector-effect="non-scaling-stroke"/></g>
<path d="M259 1034.5H270.5M259 1173.5H270.5" fill="none" stroke="#333" stroke-width="1"/>
<path d="M270.5 1034.0V1174.0" stroke="#858575" stroke-width="1"/>
<text x="252.4" y="1037.3" class="ax">50</text>
<text x="252.4" y="1176.1" class="ax">0</text>
<text x="74" y="1109.7" class="nm">GSM5550311</text>
<g transform="translate(271.0 1327.0) scale(0.33333 -1.47872)"><path d="M0 0V3l1-2 1 0 1 4 1-2 1 2 1-1 1-1 1 4 1-3 1 0 1-2 1-1 1 3 1-4 1 0 1 3 1-1 1 0 1 0 1 0 1-2 1 2 1-2 1 3 1-1 1-2 1 1 1 1 1-2 1 0 1 1 1 0 1-1 1 0 1 1 1 0 1 6 1-5 1-1 1 0 1 2 1-3 1 1 1 1 1 1 1-3 1 1 1 0 1 0 1 1 1 0 1 2 1-4 1 3 1-2 1 1 1 1 1 0 1-2 1 0 1 4 1-4 1 2 1-3 1 6 1-4 1-1 1 3 1-4 1 4 1-4 1 5 1-3 1 1 1 0 1-1 1 2 1 0 1-4 1 3 1-3 1 1 1 1 1-1 1 2 1-2 1 0 1 3 1-3 1 1 1-2 1 1 1 2 1 2 1-2 1-2 1 0 1 2 1 0 1-2 1 0 1 2 1-3 1 2 1 2 1-4 1 1 1 1 1-2 1 0 1 0 1 2 1 2 1-2 1-1 1-1 1 1 1 0 1 0 1 1 1 0 1 0 1 0 1 1 1 0 1 1 1 0 1 2 1 2 1 3 1 2 1 4 1 1 1 1 1 8 1-4 1-4 1-4 1-3 1-3 1-2 1-2 1 0 1-2 1 0 1-1 1 1 1-2 1 1 1 1 1-2 1 3 1 0 1-1 1-2 1 1 1 3 1-3 1 0 1 1 1 0 1 1 1-3 1 0 1 1 1 0 1 0 1 3 1-3 1 3 1 0 1-3 1 0 1 3 1 1 1-2 1 1 1 1 1 1 1 3 1 4 1-2 1 4 1 8 1-8 1-1 1-4 1-3 1-2 1-1 1-1 1-1 1 1 1-1 1-1 1 0 1-1 1 0 1 0 1 1 1-1 1 0 1 2 1-1 1 0 1-2 1 0 1 0 1 1 1 3 1-4 1 2 1-1 1-1 1 0 1 0 1 1 1 0 1 1 1 1 1-1 1 0 1 0 1 0 1-2 1 2 1 2 1-2 1-2 1 1 1-1 1 2 1 1 1-1 1 3 1-5 1 1 1 1 1-1 1 1 1-2 1 2 1 0 1 0 1 1 1 0 1-3 1 1 1 1 1-2 1 1 1 0 1-1 1 2 1-1 1 0 1 3 1 2 1-6 1 2 1 0 1 0 1-1 1 3 1-2 1-1 1-1 1 3 1 0 1 3 1-6 1 4 1-3 1 3 1-4 1 0 1 1 1 0 1 1 1-1 1 0 1 1 1-2 1 2 1-2 1 0 1 1 1 1 1 0 1 0 1-1 1 0 1 1 1 1 1-3 1 0 1 0 1 3 1 0 1 0 1 1 1 0 1-3 1-1 1 0 1 0 1 2 1-1 1-1 1 3 1-3 1 3 1-1 1 0 1-2 1 0 1 0 1 1 1 5 1-6 1 2 1-1 1 1 1-1 1 1 1-2 1 2 1-1 1 0 1 1 1 2 1-3 1 1 1 2 1-3 1 1 1-1 1 2 1-1 1-2 1 1 1 1 1 1 1 0 1-1 1 4 1-1 1 4 1-3 1-4 1 0 1-1 1 0 1 0 1 0 1 1 1 0 1 4 1-3 1 1 1-4 1 0 1 1 1 2 1-3 1 0 1 1 1 0 1 3 1-3 1 5 1-5 1 0 1 0 1 1 1-2 1 0 1 2 1 1 1 1 1-3 1 3 1-4 1 2 1 2 1-2 1-2 1 1 1 1 1-1 1 0 1 1 1-1 1 0 1-1 1 1 1 0 1 2 1-2 1 1 1-2 1 1 1 1 1-1 1 0 1 3 1-2 1-2 1 1 1 0 1-1 1 0 1 2 1-1 1-1 1 1 1 1 1-2 1 1 1 0 1-1 1 1 1-1 1 2 1-2 1 1 1 0 1 0 1 0 1 2 1-1 1 0 1-2 1 1 1 1 1 0 1-2 1 2 1 0 1-2 1 2 1 0 1 0 1-1 1-1 1 1 1 3 1-2 1 1 1 2 1-5 1 2 1-2 1 3 1 0 1-3 1 2 1 0 1 0 1-1 1-1 1 1 1-1 1 2 1-1 1 0 1 3 1-1 1 1 1-3 1 1 1-1 1 0 1 1 1 0 1 0 1 1 1 1 1-3 1 1 1-1 1 1 1-1 1-1 1 1 1-1 1 1 1 2 1 1 1 1 1-2 1-1 1-2 1 1 1 0 1 3 1-2 1 1 1 0 1-1 1 1 1-1 1 0 1 0 1-1 1 0 1 0 1 3 1-1 1-1 1 0 1 1 1-3 1 4 1-2 1-1 1 0 1 0 1-1 1 4 1-1 1-2 1 1 1 0 1-1 1 1 1-1 1 1 1-1 1 1 1 4 1-3 1 0 1 0 1 1 1 0 1 0 1 2 1 2 1 0 1 3 1 2 1 1 1 4 1 0 1-5 1-1 1-4 1 0 1-2 1-1 1 0 1 0 1-1 1-1 1 0 1-1 1 0 1 0 1-1 1 0 1 0 1 1 1-1 1 1 1 0 1-2 1 2 1 0 1 0 1 0 1-1 1 0 1 0 1 1 1 1 1-3 1 3 1-2 1 4 1 1 1-5 1-1 1 9 1-4 1-4 1 0 1 2 1 0 1-1 1 0 1 0 1 2 1-4 1 3 1 2 1-1 1-3 1 0 1-1 1 4 1-4 1 0 1 3 1-1 1-2 1 1 1-1 1 0 1 0 1 2 1-2 1 2 1-2 1 2 1 0 1-1 1 2 1-3 1 1 1 3 1-2 1-1 1 1 1 0 1 0 1 1 1-1 1 0 1 3 1-3 1-2 1 5 1-2 1-2 1 1 1 2 1-3 1 4 1-3 1 1 1-3 1 3 1 0 1 0 1-1 1 2 1-3 1-1 1 1 1-1 1 1 1-1 1 1 1 0 1 0 1 1 1-1 1-1 1 2 1 0 1-1 1 2 1-1 1 0 1-1 1 1 1-1 1 0 1 3 1-1 1 1 1-3 1 2 1 0 1 0 1-2 1 4 1 0 1 0 1-5 1 2 1 0 1 0 1 2 1-1 1-1 1 1 1-2 1 0 1 0 1 1 1 1 1-2 1 2 1-3 1 2 1 6 1-4 1 2 1-3 1-1 1 0 1-2 1 2 1-2 1 2 1 1 1 2 1-2 1-2 1-1 1 4 1-3 1 0 1 2 1-2 1 0 1 5 1-4 1 0 1 1 1-1 1-1 1 0 1 0 1-1 1 1 1 0 1 4 1-5 1 0 1 0 1 0 1 3 1-3 1 1 1-1 1 1 1 0 1 0 1-1 1 2 1 0 1 4 1-3 1 2 1 1 1-3 1 3 1-1 1-3 1 0 1 0 1 0 1 1 1 2 1 1 1-4 1-1 1 2 1 5 1-8 1 1 1 5 1-4 1 0 1 0 1-1 1 2 1-3 1 1 1 0 1 0 1 1 1-2 1 2 1 0 1 0 1-1 1 4 1-4 1 0 1 0 1 2 1-2 1 4 1-4 1 1 1 2 1-1 1-2 1 3 1-2 1 4 1-3 1 0 1 1 1 0 1 0 1 1 1 0 1 1 1 0 1 2 1 0 1-1 1 4 1 1 1 0 1 2 1 2 1 1 1 4 1 0 1 3 1 0 1-9 1 1 1 2 1-2 1-5 1-2 1 0 1 1 1-1 1-2 1-2 1 0 1 0 1 0 1-1 1-1 1 1 1-1 1-1 1 0 1 1 1 1 1-2 1 0 1 2 1-1 1 0 1 0 1 1 1 0 1 1 1 0 1 1 1 1 1 1 1-1 1 3 1 1 1 1 1 2 1-1 1 1 1 4 1-1 1 5 1 1 1 3 1 5 1 2 1-2 1 16 1-8 1-4 1-1 1-3 1-3 1-5 1-3 1 0 1-6 1-3 1 0 1 0 1-2 1-1 1 1 1-1 1-1 1 0 1 0 1 1 1 0 1 1 1-1 1 5 1 3 1 1 1 3 1 4 1 4 1 2 1 8 1 10 1-6 1 11 1 17 1-19 1-4 1 0 1-6 1-8 1-5 1 1 1-4 1-5 1-1 1-5 1-1 1-1 1-2 1-2 1-2 1 1 1-1 1 1 1 1 1 2 1 1 1-1 1 1 1-2 1 0 1-1 1 0 1-2 1-1 1 1 1 0 1-1 1 0 1-1 1 0 1 1 1-1 1 0 1 0 1 1 1 1 1-3 1 0 1 1 1-1 1-1 1 1 1-1 1 0 1 2 1-2 1 0 1-1 1 0 1 5 1-4 1-1 1 1 1 1 1 0 1-2 1 3 1-2 1 2 1-2 1 0 1-1 1 6 1-3 1-3 1 1 1-2 1 4 1-3 1 1 1-2 1 2 1-1 1 0 1 2 1 0 1-1 1 3 1-5 1 1 1 0 1 1 1-1 1 2 1-2 1 4 1-4 1 1 1 0 1-1 1-1 1 0 1 0 1 2 1-2 1 2 1 1 1 3 1-5 1 0 1 3 1-4 1 1 1 2 1-3 1 2 1-1 1 2 1 0 1-2 1 1 1-1 1 2 1-2 1 1 1-2 1 1 1 1 1 0 1-1 1 0 1 0 1 0 1 2 1 0 1-3 1 1 1 1 1 0 1 0 1-2 1 6 1-5 1 0 1-1 1 0 1 0 1 2 1 0 1-1 1 1 1 2 1 1 1-4 1 0 1 3 1-3 1 1 1 0 1 0 1 0 1-1 1 1 1-2 1 2 1-2 1 0 1 4 1-2 1 0 1 1 1-2 1 1 1 3 1-2 1 1 1 0 1-2 1 1 1-2 1 1 1-1 1 1 1-1 1-1 1 4 1-4 1 1 1 0 1 0 1-1 1 0 1 0 1 1 1 0 1 0 1 1 1 0 1-2 1 1 1 0 1 0 1 0 1 0 1 2 1-2 1 0 1-1 1 0 1 0 1 1 1 1 1-2 1 1 1 2 1-1 1 0 1-2 1 2 1-1 1 1 1 2 1-1 1-2 1 0 1 0 1 1 1 0 1-2 1 0 1 1 1 2 1-1 1 1 1-1 1-2 1 3 1-1 1 2 1-2 1-1 1 0 1 1 1 0 1-2 1 3 1-2 1 0 1-1 1 2 1 0 1-2 1 3 1 1 1 0 1-3 1 0 1 1 1 2 1-2 1 0 1 1 1-3 1 4 1-1 1-3 1 0 1 3 1-3 1 3 1-2 1-1 1 3 1-1 1 0 1 0 1-1 1-1 1 2 1 3 1-1 1-3 1 1 1 1 1-2 1 2 1 0 1-2 1 0 1 2 1-2 1 6 1-6 1 0 1 2 1-2 1 1 1-2 1 0 1 1 1 0 1 0 1 0 1 0 1 0 1 5 1-3 1 0 1-2 1-1 1 1 1-1 1 0 1 1 1 3 1 2 1-6 1 1 1-1 1 1 1 2 1-2 1 0 1 2 1-2 1 4 1 0 1-1 1 1 1-4 1 3 1-3 1 0 1 2 1-3 1 2 1 0 1-2 1 2 1 1 1-1 1 0 1 0 1 1 1 3 1-4 1 0 1 1 1-1 1 0 1 1 1-1 1-1 1 1 1-2 1 3 1-1 1 0 1 6 1-7 1 1 1 0 1-2 1 5 1-3 1-1 1 3 1-2 1 1 1-2 1 0 1 2 1 4 1-6 1 0 1 0 1 2 1-3 1 1 1 2 1-1 1 0 1-1 1 2 1 3 1-5 1 2 1-3 1 3 1-1 1 1 1-1 1 0 1-1 1-1 1 1 1-1 1 0 1 1 1-1 1 0 1 2 1 4 1-4 1 0 1-2 1 0 1 2 1 0 1-1 1 0 1 0 1 1 1-1 1 4 1-4 1-1 1 3 1-1 1 1 1 0 1-1 1-1 1-1 1 1 1 0 1 0 1 0 1-1 1 1 1 0 1 2 1-1 1 1 1-2 1-1 1 0 1 1 1 0 1-1 1 1 1 1 1-1 1-1 1 0 1 2 1 0 1 1 1-2 1 0 1 2 1-2 1 1 1 0 1 0 1-1 1 1 1-1 1 1 1 1 1-1 1 1 1 0 1 0 1 1 1 0 1 1 1 1 1-1 1 1 1 0 1 3 1-1 1 4 1 0 1 4 1 1 1 2 1-4 1 1 1 10 1 4 1 3 1 5 1 2 1-7 1-11 1 3 1 11 1 14 1 22 1-8 1-14 1-10 1-12 1-3 1-9 1-2 1-1 1 2 1-7 1 11 1-7 1-1 1 0 1 2 1 15 1-11 1 4 1 3 1-12 1-2 1 5 1-3 1-1 1 2 1-5 1-4 1 2 1 4 1 0 1 11 1 8 1-15 1 4 1 1 1 0 1 3 1 6 1-4 1 12 1-4 1-6 1-8 1-3 1 0 1-3 1-1 1 1 1 7 1-6 1 2 1-2 1-9 1-1 1-1 1 0 1 0 1 0 1 0 1 0 1 0 1 1 1-2 1 1 1-1 1-1 1 2 1-1 1 0 1 2 1-2 1-1 1 0 1 0 1 3 1-2 1-1 1 1 1-1 1 1 1 0 1 0 1-1 1 4 1-4 1 5 1-2 1-2 1 2 1-2 1 4 1 0 1-3 1-2 1 0 1 2 1 0 1 0 1 0 1 0 1-1 1 0 1-1 1 2 1 3 1-5 1 2 1-1 1 1 1 1 1 0 1-1 1 2 1-3 1 1 1 2 1-3 1 1 1 1 1-3 1 2 1-2 1 0 1 0 1 2 1 0 1 1 1 0 1 0 1-2 1-1 1 1 1-1 1 2 1-1 1 0 1-1 1 0 1 2 1-1 1-1 1 0 1 1 1-1 1 1 1 1 1-1 1 0 1 2 1-2 1-1 1 3 1-3 1 1 1 1 1-1 1 3 1-3 1-1 1 2 1 0 1-2 1 1 1 0 1 0 1 1 1-1 1 2 1 1 1-4 1 4 1-4 1 3 1-2 1 0 1-1 1 1 1 0 1 1 1-1 1 0 1 1 1 2 1-1 1 0 1-1 1-1 1 1 1 0 1-2 1 0 1 1 1 0 1-1 1 0 1 0 1 2 1 0 1 0 1-1 1 2 1-3 1 0 1 2 1 0 1 2 1-2 1 0 1-1 1 1 1-1 1 0 1 0 1 1 1-1 1-1 1 4 1-2 1-1 1-1 1 2 1 0 1-1 1 0 1 0 1 0 1 1 1-1 1 0 1 0 1 0 1 1 1-1 1 2 1-1 1 0 1-1 1 1 1 0 1 0 1 1 1 0 1 1 1-1 1 0 1 2 1 0 1 1 1 0 1 2 1 0 1-2 1 0 1 0 1-1 1-1 1-1 1 0 1 1 1-2 1 1 1-1 1 0 1 0 1 0 1 0 1-1 1 1 1 0 1-1 1 0 1 0 1 0 1 0 1 0 1 1 1 0 1-1 1 2 1-3 1 1 1-1 1 1 1 2 1-3 1 4 1-2 1 0 1 0 1 0 1-2 1 1 1-1 1 2 1 0 1-1 1 0 1 0 1-1 1 1 1 1 1-1 1 1 1-1 1 0 1 0 1 0 1 0 1-1 1 1 1 0 1 0 1 0 1-1 1 1 1 0 1 1 1-1 1 2 1-1 1 0 1 2 1-4 1 0 1 2 1-1 1 1 1 0 1-2 1 4 1-3 1 0 1-1 1 1 1-1 1 1 1 0 1 0 1 0 1-1 1 0 1 1 1-1 1 0 1 0 1 0 1 0 1 4 1-3 1 2 1 0 1 0 1 0 1 0 1-2 1 0 1 3 1-3 1 0 1 0 1 2 1-1 1 0 1 0 1-1 1-1 1 0 1 0 1 1 1-1 1 1 1 3 1 0 1-3 1 0 1-1 1 1 1 3 1-2 1-1 1 0 1 3 1-1 1-1 1-1 1-1 1 1 1-1 1 4 1-4 1 0 1 2 1 0 1-1 1 0 1 0 1 1 1 1 1-1 1 1 1-3 1 1 1-1 1 1 1 3 1-4 1 1 1 5 1-5 1 0 1-1 1 2 1-1 1 0 1 0 1-1 1 1 1 1 1-2 1 1 1 0 1-1 1 3 1-1 1-2 1 3 1 1 1-3 1-1 1 0 1 1 1 5 1 1 1-6 1 5 1-1 1-3 1-2 1 1 1-1 1 1 1 2 1-2 1 2 1-2 1 0 1 4 1-5 1 3 1-1 1-1 1 1 1-1 1 1 1-1 1 0 1 1 1-2 1 1 1-1 1 0 1 1 1 0 1 2 1 0 1-2 1 3 1-3 1 2 1-1 1-1 1-1 1 0 1 0 1 1 1-1 1 1 1 0 1 1 1 3 1-4 1-1 1 0 1 2 1-2 1 3 1-2 1 3 1-4 1 1 1-1 1 0 1 0 1 0 1 1 1 0 1-1 1 1 1 0 1 2 1 1 1-3 1 2 1-2 1 2 1-2 1 0 1 0 1-1 1 4 1-3 1-1 1 0 1 1 1-1 1 0 1 2 1-1 1 3 1-2 1 1 1 0 1-3 1 1 1-1 1 2 1 2 1-4 1 1 1 1 1-1 1 4 1-4 1 4 1-5 1 2 1-1 1-1 1 5 1-4 1 0 1-1 1 0 1 0 1 1 1 1 1 0 1-1 1-1 1 1 1-1 1 4 1-4 1 1 1 0 1 1 1-2 1 0 1 0 1 0 1 0 1 1 1 0 1 1 1 0 1-2 1 1 1-1 1 0 1 1 1 1 1-2 1 1 1 2 1 0 1-2 1 0 1 3 1-4 1 2 1-1 1 0 1 0 1-1 1 0 1 0 1 1 1 0 1 2 1 0 1-3 1 2 1-1 1-1 1 1 1-1 1 1 1-1 1 1 1 1 1-1 1 0 1 1 1-1 1-1 1 2 1-2 1 1 1-1 1 0 1 3 1-3 1 0 1 1 1 0 1 0 1 0 1 0 1-1 1 0 1 1 1 0 1 0 1-1 1 4 1-3 1-1 1 2 1 0 1 1 1 0 1-2 1-1 1 1 1 2 1-2 1 0 1 0 1 0 1 0 1-1 1 1 1 3 1-1 1 1 1-3 1-1 1 1 1 0 1 0 1 0 1-1 1 0 1 1 1 2 1 0 1-1 1 0 1-2 1 1 1 1 1-1 1-1 1 0 1 1 1-1 1 2 1-2 1 4 1-3 1 1 1 0 1 0 1-1 1-1 1 0 1 2 1-2 1 2 1-1 1-1 1 2 1 1 1-3 1 0 1 1 1 0 1 0 1 1 1 0 1-1 1 0 1-1 1 0 1 1 1 0 1 0 1-1 1 1 1 0 1 0 1 0 1 0 1-1 1 2 1 0 1-1 1 0 1-1 1 2 1-1 1 0 1 1 1-2 1 1 1 0 1-1 1 0 1 1 1-1 1 1 1 0 1 0 1 1 1-2 1 4 1-1 1 0 1-3 1 5 1-3 1 0 1 0 1-1 1 2 1-3 1 3 1-1 1-1 1 0 1 1 1-2 1 3 1-3 1 6 1-5 1 0 1 0 1 0 1 0 1-1 1 0 1 2 1-2 1 0 1 0 1 0 1 0 1 1 1-1 1 2 1-2 1 1 1 0 1 1 1 0 1 1 1 0 1-2 1 3 1-2 1 0 1 0 1 0 1 1 1-1 1 0 1 1 1-3 1 0 1 1 1 2 1-1 1 0 1-2 1 1 1 0 1 0 1 2 1-3 1 1 1-1 1 1 1 0 1-1 1 0 1 1 1-1 1 0 1 0 1 1 1-1 1 2 1-1 1-1 1 1 1 0 1-1 1 1 1 2 1-2 1-1 1 1 1-1 1 2 1-2 1 0 1 1 1 1 1-1 1 0 1 1 1 0 1-1 1 0 1 2 1-2 1 0 1-1 1 3 1-3 1 0 1 1 1-1 1 6 1 1 1-5 1 0 1 0 1-1 1 3 1-3 1 0 1 3 1-3 1-1 1 2 1-2 1 3 1-1 1-1 1 1 1 1 1-1 1-1 1 0 1 0 1 0 1 2 1-1 1-2 1 1 1 0 1-1 1 1 1-1 1 2 1-1 1 1 1-1 1-1 1 2 1-2 1 0 1 2 1-2 1 1 1 1 1-1 1 0 1 1 1-1 1 1 1-1 1 0 1 0 1-1 1 1 1-1 1 1 1 1 1 3 1-2 1-1 1-1 1 1 1 0 1-1 1-1 1 0 1 0 1 1 1 3 1-1 1-1 1 0 1-1 1 0 1-1 1 1 1 2 1-3 1 0 1 0 1 0 1 1 1 0 1 2 1-3 1 1 1 0 1 0 1 0 1-1 1 2 1 0 1 1 1-1 1-2 1 1 1-1 1 0 1 0 1 0 1 0 1 1 1 2 1-3 1 3 1-2 1-1 1 2 1-2 1 0 1 1 1 1 1-1 1 0 1 0 1-1 1 7 1-5 1 1 1-3 1 1 1-1 1 2 1 0 1 1 1-2 1 2 1 1 1-2 1 0 1 2 1 0 1-1 1 0 1-3 1 0 1 1 1-1 1 2 1-2 1 0 1 0 1 3 1-2 1 0 1-1 1 0 1 1 1-1 1 1 1 0 1 0 1-1 1 0 1 2 1 0 1-1 1-1 1 0 1 2 1 2 1-3 1 1 1 0 1-2 1 1 1 0 1-1 1 1 1 0 1 0 1 1 1 1 1-3 1 2 1 0 1-2 1 1 1 0 1-1 1 1 1 0 1-1 1 0 1 2 1-1 1-1 1 1 1 1 1-1 1 1 1-1 1 1 1-2 1 0 1 2 1-2 1 2 1-1 1 1 1 3 1-3 1-1 1 1 1-2 1 2 1-1 1-1 1 1 1 0 1 0 1-1 1 3 1-2 1 0 1 5 1-2 1-2 1 0 1 1 1-2 1-1 1 0 1 0 1 3 1-1 1-1 1 0 1 1 1-2 1 2 1 2 1-3 1-1 1 2 1 3 1-4 1 1 1 0 1 5 1-6 1 1 1-2 1 0 1 1 1 1 1-2 1 4 1-1 1-1 1 2 1-3 1 1 1-1 1 2 1-1 1-2 1 0 1 1 1-1 1 0 1 1 1 1 1 1 1 1 1-2 1 0 1 0 1 0 1-1 1 2 1-1 1-2 1 0 1 0 1 2 1-2 1 0 1 2 1-2 1 1 1-1 1 1 1-1 1 1 1 0 1 2 1-3 1 1 1 2 1 0 1 0 1-2 1 0 1 4 1-3 1 1 1-1 1-1 1-1 1 3 1-3 1 2 1 0 1-2 1 0 1 1 1 0 1 0 1-1 1 1 1 2 1-2 1-1 1 4 1-4 1 0 1 1 1 1 1-1 1 2 1-1 1-2 1 1 1 1 1-2 1 1 1 3 1-2 1-2 1 1 1 0 1-1 1 3 1-3 1 1 1 1 1 0 1 1 1-1 1 1 1-2 1-1 1 1 1 1 1-1 1 0 1 1 1-1 1 1 1 0 1 0 1-2 1 2 1-1 1 2 1-1 1-1 1-1 1 1 1-1 1 0 1 1 1-1 1 1 1 0 1-1 1 3 1-2 1 0 1-1 1 1 1 0 1 1 1 1 1-2 1-1 1 0 1 3 1-2 1 1 1-1 1 0 1 1 1 0 1 1 1-3 1 2 1 0 1 1 1-1 1 2 1-1 1-2 1 2 1-3 1 0 1 3 1-3 1 1 1 1 1-2 1 1 1 0 1 0 1-1 1 3 1-2 1-1 1 2 1-1 1-1 1 1 1 1 1 0 1 1 1 0 1-3 1 5 1-3 1-1 1 1 1-1 1 0 1-1 1 1 1 0 1 0 1 2 1-2 1 2 1-3 1 0 1 0 1 0 1 1 1 0 1 0 1 1 1-1 1 0 1 1 1 0 1 0 1-2 1 2 1 0 1-1 1 0 1-1 1 0 1 0 1 1 1 0 1 0 1 0 1 0 1 0 1 0 1 2 1-2 1 0 1 1 1 0 1 0 1 0 1 0 1 1 1 0 1 3 1-1 1 0 1 0 1 1 1 1 1 0 1-1 1 0 1-1 1-1 1-1 1 0 1 0 1 0 1 0 1-1 1 0 1 0 1 0 1-1 1 1 1 1 1-2 1 0 1 0 1 1 1-1 1 0 1-1 1 0 1 2 1-2 1 3 1-2 1 1 1-1 1-1 1 0 1 2 1-1 1 1 1 1 1-2 1 0 1 2 1-2 1 1 1-2 1 1 1 0 1 2 1-3 1 1 1 0 1-1 1 1 1-1 1 1 1 0 1-1 1 0 1 1 1-1 1 3 1-3 1 1 1-1 1 0 1 1 1 1 1-2 1 1 1-1 1 3 1-1 1-1 1-1 1 1 1 0 1 0 1 0 1 2 1-2 1-1 1 4 1-2 1 0 1 2 1-2 1-1 1-1 1 1 1 0 1 0 1 2 1-1 1-1 1 2 1 0 1-1 1-2 1 1 1 1 1 2 1-4 1 2 1 0 1 0 1 2 1-3 1 3 1 0 1-2 1 1 1-2 1-1 1 2 1 1 1 0 1-2 1 0 1 1 1 1 1-2 1 0 1 0 1-1 1 0 1 0 1 0 1 0 1 0 1 2 1-2 1 1 1 1 1-1 1 2 1-2 1-1 1 2 1-1 1 0 1 2 1 2 1-3 1 0 1 0 1-1 1 1 1 0 1 0 1-1 1 0 1 3 1-3 1-1 1 0 1 1 1-1 1 1 1 0 1 0 1 0 1 0 1 0 1 2 1-1 1-2 1 1 1 2 1 1 1-1 1 0 1-1 1 0 1 0 1 0 1-1 1 0 1 0 1 0 1 0 1 0 1 0 1 1 1 0 1 0 1 0 1 3 1-2 1 0 1 1 1 0 1 1 1 0 1 0 1 1 1 2 1 1 1 1 1 1 1 0 1 0 1 0 1-1 1-2 1-1 1-1 1-1 1 0 1 0 1-1 1 0 1-2 1 0 1 0 1 0 1 0 1 0 1 4 1-4 1-1 1 0 1 0 1 1 1 1 1-1 1 0 1-1 1 1 1 2 1-2 1 1 1-2 1 0 1 2 1-3 1 1 1 0 1 0 1 0 1 0 1 1 1-1 1 0 1-1 1 1 1-1 1 1 1-1 1 1 1 1 1-2 1 1 1 3 1-2 1-1 1 2 1-1 1-1 1 0 1 0 1 0 1 3 1-4 1 2 1 0 1 0 1-2 1 2 1 0 1 3 1-4 1 2 1-3 1 1 1 0 1 1 1 0 1 2 1 0 1 0 1-2 1-1 1-1 1 0 1 0 1 1 1 0 1 0 1-1 1 3 1 0 1-2 1 3 1 0 1-1 1-2 1 2 1 1 1-1 1-2 1 0 1 0 1 1 1 0 1-2 1 2 1 1 1-1 1 0 1 1 1-3 1 2 1 0 1 0 1-1 1 1 1 0 1 2 1-1 1-2 1 0 1 1 1-2 1 1 1 1 1-1 1 0 1 1 1 0 1 0 1 0 1 0 1 2 1-2 1 0 1-2 1 2 1-1 1 0 1 0 1-1 1 3 1-3 1 0 1 0 1 0 1 0 1 1 1-1 1 0 1 1 1-1 1 1 1 1 1 0 1 0 1 0 1-1 1 0 1 2 1-1 1 0 1 0 1 4 1-3 1 0 1 0 1 1 1 0 1 0 1 1 1 1 1 1 1 1 1 1 1 0 1 1 1 0 1-2 1-1 1 0 1-1 1-1 1-1 1 0 1 0 1-1 1 0 1 0 1 3 1-3 1-1 1 0 1-1 1 1 1 0 1 0 1-1 1 0 1 1 1-1 1 0 1 0 1 1 1 0 1-1 1 1 1-2 1 3 1-1 1 0 1 0 1-1 1 2 1-2 1 0 1-1 1 1 1 2 1-3 1 1 1 1 1 0 1 0 1-1 1-1 1 1 1 0 1-1 1 1 1 0 1 2 1-3 1 2 1 4 1-5 1 1 1 4 1-3 1-1 1-1 1 1 1 0 1-1 1-1 1 1 1 1 1 0 1 0 1-2 1 3 1-1 1-2 1 2 1-2 1 0 1 4 1-3 1 1 1 2 1-3 1-1 1 2 1-1 1 0 1 1 1 1 1 2 1-4 1 0 1 2 1 0 1-1 1-2 1 2 1 0 1 0 1-1 1 1 1 1 1 1 1-2 1 2 1-3 1 0 1-1 1 2 1 3 1-2 1-2 1 2 1-1 1 0 1 2 1-3 1 3 1-4 1 7 1-4 1 1 1-1 1-2 1 3 1 2 1-6 1 2 1 0 1-2 1 0 1 0 1 0 1 2 1 1 1-2 1 0 1 1 1 2 1-4 1 0 1 2 1-2 1 0 1 1 1 0 1 1 1-1 1-1 1 3 1-1 1 0 1 1 1-2 1 1 1 0 1-1 1 1 1-2 1 1 1-1 1 2 1 0 1-1 1 1 1 1 1-3 1 1 1 1 1-1 1 1 1 0 1-1 1 0 1 2 1-3 1 1 1 0 1 1 1-2 1 1 1 1 1-1 1 3 1-2 1-1 1-1 1 4 1-2 1 3 1-2 1 2 1-4 1 0 1 1 1-1 1 1 1 0 1-2 1 0 1 2 1-1 1 0 1 2 1-3 1 1 1 0 1 1 1-1 1-1 1 2 1-1 1 0 1-1 1 1 1 1 1-2 1 0 1 4 1-4 1 1 1-1 1 1 1 1 1-2 1 1 1 0 1 1 1 0 1 0 1-1 1 1 1-1 1-1 1 1 1-1 1 2 1-2 1 0 1 1 1-1 1 1 1 0 1-1 1 2 1-2 1 2 1 2 1-1 1-2 1-1 1 2 1 0 1-1 1-1 1 2 1 0 1-1 1-1 1 1 1-1 1 2 1-2 1 0 1 1 1 0 1 0 1 0 1-1 1 1 1 0 1-1 1 3 1-2 1 0 1 1 1-2 1 0 1 0 1 1 1 1 1 1 1-3 1 1 1 2 1 0 1-3 1 1 1 0 1 1 1 2 1 0 1-2 1 3 1-4 1-1 1 1 1-1 1 1 1 0 1 0 1 1 1 2 1-4 1 1 1 1 1-2 1 5 1-5 1 0 1 1 1 1 1 0 1 0 1-1 1 1 1 1 1-2 1 0 1 0 1 1 1 1 1 1 1-3 1-1 1 1 1 0 1 0 1 1 1-2 1 1 1 1 1-1 1 0 1-1 1 2 1 1 1-2 1 0 1 2 1-2 1 0 1 1 1 0 1-1 1 1 1 1 1 0 1-1 1 0 1 1 1 1 1 1 1 1 1 2 1 1 1 2 1 1 1 1 1 3 1 4 1 3 1 2 1 5 1-1 1 12 1 0 1 20 1-28 1-7 1 2 1 4 1-4 1 14 1 13 1 18 1 21 1-35 1-15 1-17 1-5 1-4 1-2V0" fill="#0000ff" stroke="#00008b" stroke-width="0.85" vector-effect="non-scaling-stroke"/></g>
<path d="M259 1188.5H270.5M259 1327.5H270.5" fill="none" stroke="#333" stroke-width="1"/>
<path d="M270.5 1188.0V1328.0" stroke="#858575" stroke-width="1"/>
<text x="252.4" y="1191.3" class="ax">94</text>
<text x="252.4" y="1330.1" class="ax">0</text>
<text x="74" y="1263.7" class="nm">GSM5550310</text>
<g transform="translate(271.0 1481.0) scale(0.33333 -2.20635)"><path d="M0 0V0l1 2 1 2 1 0 1-1 1-1 1-2 1 0 1 1 1 0 1-1 1 1 1 0 1 0 1 1 1-1 1 1 1 2 1-3 1 0 1 2 1-3 1 0 1 2 1 1 1-2 1-1 1 3 1 1 1 2 1-4 1 1 1 0 1 2 1-5 1 0 1 5 1-4 1 0 1 2 1-1 1 1 1 4 1-2 1-1 1 0 1-3 1 1 1-1 1 1 1 0 1-2 1 1 1-1 1 1 1 1 1-1 1-1 1 2 1-2 1 1 1-1 1 0 1 1 1 0 1-1 1 2 1 0 1-2 1 1 1-1 1 1 1 1 1-1 1 1 1 1 1 0 1-3 1 2 1-1 1 0 1 1 1-1 1-1 1 0 1 0 1 4 1-3 1 0 1 2 1-2 1 0 1-1 1 1 1-1 1 2 1-1 1 2 1 0 1-2 1-1 1 2 1-2 1 2 1-1 1 2 1 0 1 2 1-5 1 4 1-3 1-1 1 3 1-3 1 1 1 1 1 0 1-1 1 3 1-3 1 1 1 0 1 0 1 0 1 0 1 1 1 0 1 1 1 2 1 0 1 1 1 2 1 1 1 3 1 1 1-2 1 0 1-2 1-1 1-2 1-1 1-1 1-1 1 0 1-1 1 0 1 1 1 1 1-4 1 0 1 0 1 4 1-4 1 0 1 1 1-1 1 0 1 0 1 1 1-1 1 1 1-1 1 1 1 0 1 1 1-1 1 1 1-1 1 1 1-1 1 1 1 0 1 2 1 1 1 0 1 1 1 2 1 1 1 1 1 3 1-2 1 1 1 5 1 0 1-3 1-2 1-2 1-2 1-2 1 1 1-2 1-1 1 0 1-1 1 0 1-2 1 2 1-1 1 0 1-1 1-1 1 2 1-1 1-1 1 0 1 3 1-3 1 0 1 0 1-1 1 0 1 0 1 1 1 0 1-1 1 3 1-3 1 2 1-1 1-1 1 0 1 2 1-1 1 2 1-2 1 1 1-1 1 1 1 2 1-2 1-2 1 0 1 3 1-3 1 2 1 3 1 0 1-5 1 3 1 0 1 3 1-2 1-4 1 2 1-1 1 0 1 1 1 2 1-1 1 1 1 1 1-5 1 2 1 2 1-2 1 2 1-4 1 1 1 2 1-2 1 1 1 3 1-2 1 2 1 0 1 1 1-5 1 2 1-1 1-1 1 0 1 2 1 0 1 4 1-7 1 0 1 3 1 0 1 1 1 0 1-3 1 2 1-2 1 0 1 2 1 0 1-3 1 3 1-1 1 0 1 1 1-3 1 2 1 0 1-1 1 1 1 1 1 1 1-3 1 0 1 1 1 4 1-5 1 0 1-1 1 4 1-3 1-1 1 2 1-1 1 0 1 3 1-2 1 1 1 0 1 0 1-2 1 0 1 0 1 4 1-2 1-1 1 2 1-2 1-2 1 0 1 2 1-2 1 0 1 1 1-1 1 1 1 0 1 0 1 1 1 1 1 2 1-2 1-3 1 0 1 1 1 0 1 3 1-1 1-3 1 1 1 1 1-2 1 3 1 1 1-3 1 1 1 3 1-2 1-2 1 2 1-3 1 3 1-1 1 1 1-3 1 2 1 0 1-2 1 1 1 1 1-1 1 0 1 0 1 0 1 0 1-1 1 2 1 0 1 2 1 4 1-4 1-4 1 6 1-2 1-1 1-3 1 1 1 0 1 1 1 3 1-3 1-2 1 2 1-1 1 1 1 0 1 0 1-1 1 1 1 0 1-1 1 1 1-1 1 0 1 4 1-5 1 1 1-1 1 1 1 2 1-2 1 3 1-1 1-2 1 1 1-1 1 2 1 3 1-3 1 0 1 1 1-3 1 0 1 1 1-1 1 0 1 2 1 0 1 0 1 1 1-4 1 3 1-1 1-2 1 4 1-4 1 2 1-2 1 3 1-1 1 1 1-1 1 1 1-1 1-1 1 4 1-3 1 3 1-2 1 2 1-4 1 0 1 3 1 0 1-4 1 2 1-2 1 2 1-2 1 2 1 1 1-2 1 1 1-2 1 0 1 0 1 1 1 2 1-1 1 4 1-2 1-2 1 2 1-3 1-1 1 5 1-2 1-2 1 0 1 2 1 5 1-7 1 1 1 1 1 0 1-2 1 0 1 1 1 1 1-1 1 0 1-1 1 0 1 2 1-2 1 3 1-2 1 1 1-2 1 2 1-1 1-1 1-1 1 1 1 1 1-1 1 0 1-1 1 2 1 5 1-6 1 3 1-2 1-1 1 1 1 0 1 1 1 2 1-3 1 1 1-1 1 2 1 0 1 0 1 1 1 3 1 0 1 3 1-4 1 0 1-2 1-1 1-1 1-1 1 1 1 2 1-3 1 0 1 2 1-2 1 0 1 1 1 0 1 1 1 1 1 0 1 0 1 2 1 3 1 1 1 3 1 0 1-4 1-2 1-1 1-2 1 1 1 0 1-2 1 1 1-3 1 0 1 0 1 0 1-1 1 3 1 0 1-2 1 0 1-1 1-1 1 0 1 0 1 0 1 2 1 1 1-2 1 2 1 1 1 4 1-6 1 3 1 0 1-1 1-3 1 0 1-1 1 1 1-1 1 3 1-2 1 1 1 2 1-1 1-1 1-1 1 1 1-2 1 1 1 1 1-2 1 1 1 0 1 0 1 1 1 2 1 0 1-1 1-2 1 1 1 0 1 0 1 0 1 0 1-2 1 1 1 1 1 2 1 2 1-2 1-2 1 0 1 2 1-4 1 1 1 0 1-1 1 2 1-1 1 0 1 0 1 0 1 1 1 0 1-2 1 1 1 1 1 0 1 3 1-2 1 2 1-3 1-2 1 3 1 2 1-4 1 1 1 1 1-2 1 3 1-2 1 1 1-3 1 0 1 1 1-1 1 3 1-2 1 1 1 2 1-2 1-1 1-1 1 1 1 1 1 1 1-2 1 2 1 0 1 4 1-3 1-2 1-1 1-1 1 3 1-1 1-2 1 2 1-2 1 2 1-1 1 0 1-1 1 2 1-1 1 1 1-1 1 0 1-1 1 2 1-1 1 1 1-1 1 0 1 2 1 2 1-4 1 0 1 1 1-2 1 0 1 0 1 0 1 2 1-2 1 2 1-2 1 0 1 0 1 1 1 1 1-2 1 0 1 3 1 2 1-2 1 0 1-3 1 3 1-1 1-2 1 2 1 1 1 2 1-1 1 0 1-2 1 5 1-2 1-3 1-1 1 3 1-2 1-1 1 1 1 1 1-3 1 0 1 3 1-2 1 1 1-1 1 2 1 0 1 1 1-3 1 4 1-3 1 0 1 3 1-4 1 3 1-2 1-2 1 0 1 5 1-3 1 1 1-2 1 4 1-3 1-2 1 2 1 0 1 2 1 0 1-3 1 4 1 2 1-5 1 3 1 1 1-1 1-2 1 8 1-9 1-1 1 3 1-1 1-1 1-1 1 3 1 0 1-2 1 2 1-2 1-2 1 2 1-2 1 1 1 1 1-1 1 0 1 0 1 0 1 1 1 1 1 1 1-2 1 1 1 3 1-4 1 3 1-3 1 2 1-2 1 1 1 1 1 0 1 2 1 0 1-1 1 4 1-1 1 2 1 0 1 2 1 0 1 0 1-1 1 6 1-4 1 0 1-4 1 0 1 1 1-1 1 0 1-1 1-1 1 0 1-1 1-1 1-1 1 0 1-1 1 1 1-1 1 1 1 0 1-2 1-1 1 0 1 2 1 0 1-2 1 6 1-4 1-1 1 1 1 1 1-1 1 1 1 0 1-1 1 1 1 0 1 3 1 0 1-1 1 2 1 0 1 4 1 0 1 1 1 5 1 2 1 0 1 1 1 0 1 7 1-2 1-1 1 14 1-14 1 3 1-1 1-1 1-7 1 1 1-5 1 1 1-4 1-2 1-1 1-1 1-2 1 1 1 0 1-1 1-1 1 0 1 1 1 1 1 1 1 0 1 1 1 1 1 2 1 0 1 2 1 2 1 4 1 4 1 1 1-9 1 16 1-6 1 6 1 15 1-1 1-7 1-5 1-2 1-2 1-4 1-3 1-3 1-4 1 0 1-3 1-3 1 1 1-3 1 0 1-2 1-1 1 0 1-1 1 0 1-1 1 0 1 0 1 1 1-2 1 0 1 0 1 0 1-1 1 0 1 0 1 0 1 0 1 0 1 0 1-1 1 4 1-4 1 4 1-3 1-1 1 3 1-1 1 1 1-2 1 0 1 1 1 3 1-1 1-4 1 3 1-1 1-1 1 3 1-2 1 1 1 0 1-2 1 1 1 2 1-4 1 1 1 1 1 1 1-1 1 0 1 4 1 1 1-1 1-5 1 3 1-1 1-1 1 2 1-3 1 0 1 1 1 0 1-1 1 3 1-3 1 3 1-1 1 1 1 0 1 1 1-1 1-2 1 2 1-1 1-1 1-1 1 1 1 0 1 4 1-4 1 2 1 0 1-1 1-1 1-1 1-1 1 2 1 0 1 0 1-1 1 4 1-2 1-2 1 0 1 0 1 5 1-3 1-2 1 2 1-3 1 1 1-1 1 2 1-1 1 2 1-1 1 1 1-2 1 4 1-2 1-1 1 1 1-1 1 0 1 1 1 2 1-4 1 4 1-5 1 4 1-4 1 0 1 5 1-3 1 4 1-2 1-2 1-1 1 0 1 3 1-3 1 0 1 2 1 0 1 3 1-4 1 0 1 4 1-3 1-1 1 2 1-1 1-2 1 0 1 2 1 2 1-2 1 0 1-3 1 3 1 1 1-1 1 1 1-4 1 3 1 0 1-1 1 3 1-2 1-2 1 1 1 0 1 1 1 0 1 1 1 3 1-2 1 0 1-1 1-1 1-1 1-1 1 2 1-1 1-2 1 2 1-2 1 2 1 2 1-3 1 0 1 0 1 0 1 1 1 2 1-3 1 1 1 1 1 0 1 0 1-2 1-1 1 1 1 0 1-1 1 0 1 1 1 4 1-3 1 3 1-5 1 1 1 3 1 0 1 0 1-1 1-2 1-1 1 1 1 0 1 1 1 0 1 0 1 1 1-1 1 3 1-3 1 0 1 0 1-1 1 2 1-1 1 1 1-1 1 0 1 0 1 1 1 1 1-1 1 1 1 1 1-3 1 1 1-3 1 0 1 3 1-2 1 1 1 0 1-1 1-1 1 3 1-3 1 4 1 0 1 5 1-6 1 2 1-1 1-1 1 2 1-4 1 0 1 1 1-1 1 2 1 0 1-1 1 1 1 3 1-1 1-1 1 1 1-1 1 0 1 2 1-6 1 3 1 1 1-2 1 0 1-2 1 1 1 3 1-3 1 1 1-2 1 3 1 0 1 1 1-2 1-2 1 0 1 1 1-1 1 1 1 0 1 0 1 0 1 2 1 1 1-2 1 0 1-2 1 1 1 0 1 2 1-1 1-2 1 2 1-1 1-1 1 2 1-1 1-1 1 0 1 0 1 2 1 0 1-1 1 2 1-1 1 1 1-2 1-1 1 0 1 6 1-4 1 3 1-1 1-1 1 0 1-2 1 3 1-1 1 1 1-2 1-1 1 0 1 0 1 2 1-2 1-1 1 2 1 0 1-2 1 5 1-1 1-2 1 3 1-3 1-2 1 1 1 2 1-2 1 0 1-1 1 3 1 1 1-1 1-2 1 1 1 2 1-2 1-1 1-1 1 4 1-3 1 4 1-3 1-1 1 0 1-1 1 1 1 1 1 0 1 0 1-1 1 2 1-1 1-2 1 1 1 0 1 1 1 0 1 0 1 0 1-2 1 0 1 2 1 2 1-3 1 2 1-1 1 0 1-2 1 4 1-2 1 0 1 0 1 0 1-1 1 2 1-3 1 2 1 0 1 1 1 5 1-7 1 1 1 1 1-2 1 1 1 1 1-2 1 0 1 1 1-1 1 1 1 1 1-1 1 0 1 1 1 1 1 0 1 1 1 0 1 0 1 2 1 1 1-1 1-1 1-1 1-1 1 0 1-1 1 0 1-1 1 0 1 0 1 2 1-2 1-1 1 0 1 2 1-2 1 2 1-2 1 1 1 0 1 1 1 4 1-7 1 5 1-1 1 1 1 6 1 6 1-4 1-4 1 12 1-8 1 1 1 2 1-6 1 2 1 3 1 5 1 7 1 7 1 9 1-1 1-17 1 2 1-4 1 7 1 8 1 7 1 11 1-11 1-7 1-11 1-6 1-2 1-7 1-3 1 0 1 1 1 0 1 3 1 1 1 3 1 4 1 3 1-5 1 0 1-3 1 0 1-3 1 5 1-9 1-3 1 9 1-8 1-3 1 2 1-1 1 1 1 0 1 1 1 1 1 2 1 1 1 2 1 4 1 2 1 3 1 4 1 1 1-4 1-2 1-3 1-4 1-3 1-3 1 5 1-6 1-1 1 1 1-2 1 2 1-2 1-2 1-1 1 0 1-1 1 0 1 2 1 1 1-3 1 2 1 0 1 0 1 0 1 2 1-5 1 0 1 1 1 1 1 2 1-1 1-1 1 1 1 0 1 3 1-4 1 0 1-1 1 1 1-2 1 2 1 0 1 0 1-2 1 2 1-1 1-1 1 3 1-3 1 2 1 0 1-2 1 0 1 2 1-1 1 0 1-1 1 1 1-1 1 2 1-2 1 0 1 1 1 0 1 0 1-1 1 1 1-1 1 0 1 2 1-2 1 0 1 2 1 1 1-1 1-1 1 3 1-2 1 2 1-4 1 1 1 0 1 1 1 1 1-1 1-2 1 0 1 0 1 0 1 1 1 0 1-1 1 1 1 0 1-1 1 0 1 2 1-2 1 0 1 3 1-2 1 0 1 1 1-1 1-1 1 1 1-1 1 3 1-1 1-2 1 3 1 4 1-4 1 1 1-2 1 2 1 0 1-3 1 2 1-2 1 4 1-4 1 0 1 0 1-1 1 1 1 0 1 0 1 0 1 2 1 2 1-4 1 0 1 1 1-2 1 1 1 1 1 0 1-2 1 2 1-1 1 0 1 0 1 3 1-3 1 2 1-1 1 0 1 1 1 1 1-1 1 1 1 3 1-4 1-2 1 1 1-1 1-1 1 1 1 4 1-5 1 2 1-2 1 1 1 0 1 3 1-1 1 1 1-2 1 0 1-1 1 1 1 0 1-1 1 1 1-2 1 3 1-1 1 2 1-1 1 0 1 0 1 0 1-2 1 1 1-1 1 1 1 1 1-3 1 2 1-1 1 3 1-1 1 0 1-2 1 0 1 1 1 1 1-1 1-1 1 0 1 1 1 0 1-2 1 1 1-1 1 3 1-2 1 0 1 3 1-2 1 1 1 0 1 0 1-1 1-1 1-1 1 0 1 1 1-1 1 1 1 0 1-1 1 1 1-1 1 1 1 1 1-2 1 0 1 0 1 0 1 1 1 0 1 0 1-1 1 0 1 2 1-1 1 1 1 1 1-2 1 3 1 0 1 0 1-2 1 1 1-3 1 0 1 1 1 1 1 0 1-1 1 0 1 0 1 0 1 1 1-1 1-1 1 1 1 1 1 0 1 1 1 1 1-4 1 1 1 1 1 2 1-4 1 2 1-1 1 1 1-1 1 3 1-3 1 3 1-2 1-1 1 1 1-2 1 0 1 0 1 1 1 3 1 3 1-4 1 2 1 0 1-5 1 3 1-2 1 1 1 2 1-1 1 1 1 0 1-1 1-1 1-1 1 1 1 1 1 0 1-1 1 3 1-4 1 1 1 1 1-1 1 3 1-3 1 4 1-5 1 2 1-1 1 0 1-2 1 1 1 3 1-2 1-1 1 2 1 0 1 0 1-1 1 5 1-4 1-3 1 1 1 1 1 0 1 0 1 1 1-3 1 0 1 0 1 1 1-1 1 1 1-1 1 2 1 0 1-2 1 4 1-3 1-1 1 0 1 0 1 1 1-1 1 2 1-1 1 0 1 1 1 0 1-2 1 2 1 0 1 0 1-1 1-1 1 1 1-1 1 0 1 2 1 1 1-2 1 0 1 2 1-1 1-1 1 3 1-4 1 1 1 2 1-1 1-2 1 1 1 2 1-2 1 0 1 2 1-2 1 3 1-3 1 0 1-1 1 2 1-2 1 3 1-2 1 2 1 0 1-1 1 0 1-1 1-1 1 1 1 0 1 0 1 2 1-2 1 1 1-1 1 2 1-3 1 3 1-2 1 1 1-1 1 0 1-1 1 1 1 1 1-2 1 2 1-1 1-1 1 1 1 0 1 0 1 1 1-1 1 0 1 1 1-2 1 4 1-3 1 0 1 1 1-1 1 1 1-1 1 6 1-7 1 1 1 2 1-3 1 2 1 0 1 3 1-3 1 0 1-2 1 2 1 1 1-1 1 0 1 0 1 0 1-2 1 1 1 1 1 0 1 0 1-1 1 0 1-1 1 1 1-1 1 1 1 0 1-1 1 2 1-2 1 1 1 0 1-1 1 1 1 0 1-1 1 3 1-2 1 2 1-3 1 0 1 0 1 1 1 2 1 1 1-3 1 5 1-5 1 2 1 4 1-3 1-4 1 2 1 0 1-1 1 3 1-1 1-2 1-1 1 1 1 1 1-1 1 1 1 1 1-1 1-1 1 1 1 0 1 0 1-1 1 1 1 0 1 0 1-2 1 0 1 0 1 0 1 1 1-1 1 1 1-1 1 3 1-1 1-2 1 4 1-3 1 1 1-2 1 1 1 0 1 2 1-3 1 1 1 0 1 1 1 0 1-1 1 1 1 1 1-2 1-1 1 1 1-1 1 2 1-2 1 1 1-1 1 1 1 0 1-1 1 3 1-2 1-1 1 0 1 1 1 0 1-1 1 0 1 0 1 2 1-2 1 0 1 0 1 0 1 0 1 1 1 0 1-1 1 1 1 2 1 0 1 0 1-1 1 0 1-2 1 0 1 2 1-1 1 0 1-1 1 3 1-2 1 0 1-1 1 1 1 0 1 1 1 0 1 0 1 1 1-2 1 1 1 3 1-2 1-2 1 0 1-1 1 1 1-1 1 2 1-1 1 1 1-1 1 1 1-2 1 4 1-4 1 3 1-2 1-1 1 1 1-1 1 2 1 0 1 0 1-2 1 3 1-3 1 2 1-2 1 2 1-2 1 0 1 3 1-2 1 3 1-4 1 0 1 1 1 1 1-1 1 0 1 0 1 5 1-3 1-1 1 0 1-2 1 2 1 0 1 2 1-3 1-1 1 3 1-2 1 1 1 2 1 1 1-4 1 1 1-1 1 1 1-1 1 2 1-1 1 2 1-3 1 6 1-4 1 2 1-5 1 2 1 0 1 1 1-1 1-1 1 1 1-1 1 3 1-1 1-1 1-2 1 4 1 0 1-2 1-1 1 5 1-3 1 1 1-2 1 0 1 2 1-3 1 0 1 1 1 1 1-1 1-1 1 0 1-1 1 3 1-1 1 0 1-2 1 1 1-1 1 0 1 1 1 1 1-2 1 2 1-2 1 0 1 2 1 0 1 2 1-3 1 0 1 0 1 0 1-1 1 2 1 0 1-1 1-1 1 0 1 2 1-1 1 3 1-3 1 1 1-2 1 1 1 0 1 0 1 0 1-1 1 4 1-3 1-1 1 2 1 1 1-1 1-1 1 1 1-1 1 1 1-2 1 1 1 1 1-2 1 2 1 3 1-2 1-3 1 3 1-3 1 2 1-2 1 0 1 1 1 1 1 1 1-1 1-2 1 4 1-1 1-2 1 1 1-2 1 2 1 0 1 1 1-3 1 0 1 1 1 1 1-1 1-1 1 0 1 0 1 0 1 0 1 1 1 2 1-2 1 2 1-2 1 2 1 0 1-2 1 1 1-1 1 1 1-2 1 3 1-2 1 0 1-1 1 0 1 1 1 1 1 0 1-2 1 0 1 1 1 1 1-1 1-1 1 1 1 1 1 2 1-3 1 3 1 1 1 2 1-6 1 2 1 0 1-1 1 1 1-3 1 0 1 1 1 2 1-1 1-2 1 2 1-1 1-1 1 3 1-3 1 0 1 0 1 1 1-1 1 0 1 1 1-1 1 1 1 2 1-1 1 1 1 0 1-3 1 0 1 0 1 2 1 2 1-4 1 0 1 5 1-4 1 0 1 0 1 1 1-1 1 3 1-3 1-1 1 2 1 0 1-2 1 2 1 1 1 1 1-1 1-1 1-1 1 0 1 1 1 2 1-3 1 2 1-2 1 1 1 3 1-4 1 0 1 0 1 1 1 0 1 0 1-1 1 2 1 0 1-1 1 1 1-1 1-2 1 5 1-4 1 3 1-3 1 0 1 1 1-2 1 2 1 0 1-2 1 1 1-1 1 0 1 2 1-2 1 0 1 2 1 1 1 1 1-3 1 1 1-2 1 3 1-1 1-1 1 1 1-2 1 5 1-3 1 1 1-2 1-1 1 0 1 2 1-2 1 0 1 3 1 0 1-3 1 4 1-3 1 1 1 0 1 0 1-1 1 0 1 0 1 0 1 0 1 1 1 0 1 1 1-3 1 4 1-2 1 0 1-1 1 1 1-2 1 5 1-1 1-3 1 1 1-2 1 1 1-1 1 1 1 0 1-1 1 1 1 1 1-2 1 1 1-1 1 1 1 0 1 1 1-2 1 3 1-2 1-1 1 1 1-1 1 1 1-1 1 2 1 0 1-2 1 1 1 0 1-1 1 0 1 1 1 2 1 0 1-1 1-2 1 1 1 0 1-1 1 4 1-4 1 0 1 1 1 0 1 1 1 1 1-1 1-1 1 2 1-2 1-1 1 1 1 2 1-2 1-1 1 1 1-1 1 0 1 3 1-2 1 0 1 0 1 0 1 2 1 0 1-2 1 1 1-1 1-1 1 3 1 2 1-5 1 2 1 1 1 1 1-3 1 0 1 2 1 1 1 1 1-4 1 0 1 0 1-1 1 4 1-1 1-1 1 0 1 0 1 1 1 2 1-4 1 1 1 0 1-2 1 3 1-2 1 1 1 1 1-1 1-1 1 1 1-2 1 2 1-1 1-1 1 0 1 1 1 0 1 1 1 1 1-2 1-1 1 3 1-3 1 2 1 2 1 1 1 1 1-3 1-3 1 1 1 3 1-2 1 0 1 1 1-2 1-1 1 3 1-2 1 2 1-1 1 0 1 2 1-3 1 0 1 2 1-2 1 0 1 0 1 1 1-2 1 1 1 2 1-2 1 0 1-1 1 1 1-1 1 1 1 3 1-4 1 2 1-1 1-1 1 1 1 0 1-1 1 1 1-1 1 2 1-1 1 2 1-2 1 0 1 4 1 2 1-7 1 1 1 2 1-3 1 0 1 2 1-1 1 1 1-2 1 2 1-2 1 2 1 2 1-3 1 1 1 0 1 1 1 0 1-2 1-1 1 1 1 2 1-1 1-1 1 4 1-3 1 0 1 1 1-2 1 2 1-2 1 0 1-1 1 1 1-1 1 0 1 1 1 1 1-1 1 0 1 2 1-3 1 2 1-2 1 1 1-1 1 1 1 1 1-1 1 0 1 1 1 0 1 0 1 2 1-2 1-1 1 4 1-2 1-2 1 1 1-2 1 0 1 1 1 1 1 1 1-1 1-1 1 0 1-1 1 0 1 3 1-3 1 4 1-3 1 0 1 0 1 0 1 1 1-2 1 1 1 0 1 1 1-1 1-1 1 4 1-3 1-1 1 2 1 1 1 1 1-2 1 0 1 4 1-2 1-2 1-2 1 5 1-2 1-1 1 0 1 0 1-2 1 2 1-2 1 1 1 1 1-2 1 0 1 1 1 1 1-1 1-1 1 2 1 0 1 0 1-1 1 1 1 0 1 0 1 0 1 0 1 0 1-2 1 6 1-6 1 3 1-1 1-2 1 1 1 0 1 0 1-1 1 1 1-1 1 0 1 0 1 1 1-1 1 0 1 0 1 2 1-1 1 1 1-2 1 3 1 1 1-2 1 2 1 3 1-7 1 2 1 0 1-1 1 3 1-3 1 4 1-1 1-1 1 1 1-1 1 0 1 2 1-4 1 3 1 3 1-4 1 0 1 0 1 0 1-1 1-2 1 2 1-2 1 1 1 1 1 1 1 1 1-3 1 0 1-1 1 3 1-1 1-2 1 2 1 1 1-3 1 3 1 0 1-2 1 2 1-3 1 2 1-1 1 0 1 1 1-2 1 3 1-2 1 1 1 0 1 2 1-4 1 1 1 0 1 0 1 0 1 0 1-1 1 3 1-2 1-1 1 0 1 1 1 0 1 0 1 1 1-2 1 0 1 2 1-2 1 1 1-1 1 1 1 0 1 0 1 0 1-1 1 1 1 1 1 0 1-2 1 0 1 0 1 0 1 0 1 0 1 1 1 0 1 0 1 4 1-5 1 2 1-2 1 1 1 0 1 0 1-1 1 3 1 3 1-6 1 1 1 3 1-2 1-1 1 1 1 0 1-1 1 1 1 0 1 2 1-4 1 0 1 0 1 0 1 0 1 0 1 0 1 0 1 1 1 0 1-1 1 2 1-1 1 0 1 2 1-2 1 0 1-1 1 4 1-1 1-1 1-1 1 2 1-2 1 1 1 1 1-1 1 1 1-3 1 3 1 2 1-4 1 0 1 3 1-2 1 7 1-7 1 0 1-1 1-1 1 0 1 2 1-2 1 3 1-1 1-1 1-1 1 2 1-1 1-1 1 3 1 0 1-2 1 3 1-1 1-1 1-2 1 0 1 0 1 2 1-1 1-1 1 2 1 0 1-1 1 0 1 6 1-6 1 1 1-1 1 0 1 0 1 1 1-1 1 1 1-1 1 2 1 1 1-2 1 3 1-3 1 0 1 2 1 1 1 0 1-2 1 0 1 0 1 0 1 1 1 1 1 0 1 1 1 0 1 1 1 1 1 0 1-1 1 0 1 2 1-1 1-2 1-1 1-1 1 1 1 0 1 0 1 0 1-1 1 0 1 0 1 0 1-1 1-1 1 0 1 0 1 0 1 0 1 0 1 0 1-1 1 0 1 2 1-2 1 2 1-2 1 1 1 0 1-1 1 1 1 0 1-1 1 0 1-1 1 0 1 3 1-2 1 0 1 1 1 1 1-2 1-1 1 0 1 2 1 1 1-2 1-1 1 0 1 3 1 0 1-2 1 3 1-3 1 0 1 2 1-3 1 1 1 2 1-1 1-2 1 0 1 1 1-1 1 1 1 0 1-1 1 0 1 0 1 1 1-1 1 0 1 0 1 1 1 0 1-1 1 0 1 2 1-2 1 0 1 0 1 1 1 1 1 0 1-2 1 0 1 2 1-2 1 0 1 6 1-5 1 0 1 1 1 1 1 0 1-1 1-2 1 2 1-2 1 3 1-2 1-1 1 1 1 0 1-1 1 1 1-1 1 0 1 2 1 1 1-2 1-1 1 1 1 1 1 0 1 0 1 1 1 0 1 0 1-2 1 0 1 1 1 0 1-1 1-1 1 0 1 2 1-2 1 0 1 4 1-4 1 0 1 1 1 2 1-2 1 3 1-2 1-2 1 5 1-3 1 1 1-1 1 3 1-2 1 0 1-2 1 0 1 1 1 1 1-1 1 2 1-3 1 3 1-2 1 0 1-1 1 2 1-1 1 1 1-1 1 0 1 0 1 0 1-1 1 0 1 1 1 0 1 2 1-1 1 1 1 0 1 0 1 0 1 0 1 1 1-1 1 2 1 0 1 0 1 1 1 1 1 1 1-1 1 1 1-2 1 0 1-2 1 1 1 0 1-2 1 0 1 0 1 1 1-1 1 0 1 0 1-1 1 0 1-1 1 2 1-2 1 0 1 0 1 0 1 0 1-1 1 1 1-1 1 0 1 0 1 2 1-2 1 0 1 4 1-4 1 0 1 1 1-1 1 0 1 1 1-1 1-1 1 0 1 0 1 0 1 1 1 2 1-2 1 0 1 0 1 2 1-3 1 2 1 0 1 0 1 0 1-2 1 1 1 0 1 3 1-4 1 0 1 1 1 1 1-2 1 2 1 0 1-2 1 1 1 0 1 0 1 0 1 2 1-3 1 3 1-3 1 1 1 1 1-2 1 2 1-1 1-1 1 1 1 1 1 0 1-1 1-1 1 0 1 4 1-3 1 0 1 0 1 4 1-3 1 1 1-3 1 2 1 0 1-1 1 5 1-6 1 1 1 0 1-1 1 3 1-3 1 1 1 3 1-3 1 3 1-1 1-1 1-2 1 1 1-1 1 0 1 0 1 1 1-1 1 1 1 2 1-2 1-1 1 1 1 1 1 0 1 0 1 0 1 2 1-1 1 0 1-2 1 2 1-1 1-1 1-1 1 4 1-4 1 3 1-1 1-2 1 0 1 6 1-3 1-2 1 1 1-1 1 2 1-1 1-1 1 2 1-1 1-1 1-1 1 2 1-1 1-1 1 2 1-1 1-1 1 1 1 2 1-3 1 1 1 0 1 0 1 0 1 0 1 3 1-4 1 0 1 0 1 0 1 0 1 3 1-1 1 1 1 1 1-3 1 0 1 1 1-1 1-1 1 0 1 1 1 2 1-2 1-1 1 0 1 1 1 0 1 1 1-1 1 0 1 2 1-1 1-2 1 2 1-2 1 1 1 0 1-1 1 2 1 0 1 0 1-1 1 2 1 4 1-4 1 0 1-1 1 2 1-2 1 0 1 3 1-4 1 1 1 2 1 1 1-4 1-1 1 1 1 2 1-3 1 1 1 2 1 0 1-2 1-1 1 1 1 3 1-3 1 0 1-1 1 1 1 1 1-2 1 1 1 0 1 1 1 2 1-3 1 1 1-1 1 0 1 1 1-2 1 0 1 3 1-1 1-1 1 0 1 0 1 3 1-4 1 0 1 1 1 0 1 2 1 0 1-3 1 1 1 0 1-1 1 2 1 0 1-1 1-1 1 0 1 1 1-1 1 0 1 3 1 0 1-2 1-1 1 2 1-1 1 2 1 0 1-2 1 2 1-3 1 2 1-1 1 0 1-1 1 4 1-2 1-2 1 1 1 0 1-1 1 1 1 0 1 2 1-1 1-2 1 1 1 1 1-1 1 0 1-1 1 2 1 1 1-2 1 0 1-1 1 3 1 0 1-3 1 1 1-1 1 1 1-1 1 1 1 0 1 0 1 3 1-1 1-2 1 0 1 0 1 0 1-1 1 1 1-1 1 1 1-1 1 3 1-2 1 0 1 1 1-2 1 1 1 0 1-1 1 1 1 0 1 1 1 0 1 0 1-2 1 0 1 3 1-2 1 0 1 0 1 0 1 0 1 0 1 0 1 1 1 0 1 0 1 1 1 1 1 0 1 1 1 1 1-1 1 2 1 2 1 0 1 4 1 1 1 8 1 2 1-8 1 6 1 10 1 20 1-27 1-4 1-1 1 2 1 6 1 3 1 8 1 17 1 7 1-18 1-12 1-11 1-6 1-4 1 0V0" fill="#0000ff" stroke="#00008b" stroke-width="0.85" vector-effect="non-scaling-stroke"/></g>
<path d="M259 1342.5H270.5M259 1481.5H270.5" fill="none" stroke="#333" stroke-width="1"/>
<path d="M270.5 1342.0V1482.0" stroke="#858575" stroke-width="1"/>
<text x="252.4" y="1345.3" class="ax">63</text>
<text x="252.4" y="1484.1" class="ax">0</text>
<text x="74" y="1417.7" class="nm">GSM5550309</text>
<g transform="translate(271.0 1635.0) scale(0.33333 -2.78000)"><path d="M0 0V1l1 2 1-2 1-1 1 1 1 1 1 1 1-3 1 4 1-2 1 0 1-2 1 3 1-3 1 1 1 3 1 0 1-1 1-3 1 3 1 0 1-2 1 0 1 0 1 1 1 2 1-3 1 0 1 0 1-1 1 1 1-1 1 0 1 1 1 0 1 0 1 2 1-2 1-1 1 0 1 1 1 4 1-5 1 0 1 1 1-1 1 3 1-3 1 0 1 0 1 0 1 2 1-1 1 1 1-1 1 0 1-1 1 0 1 2 1-2 1 0 1 1 1 1 1 0 1 2 1-3 1-1 1 2 1-2 1 1 1 2 1-1 1-2 1 2 1 0 1-2 1 1 1-1 1 0 1 1 1-1 1 0 1 0 1 1 1-1 1 3 1-2 1 2 1-1 1 0 1 2 1 1 1-3 1-1 1 1 1 0 1 0 1 0 1 0 1-1 1 1 1-1 1 3 1-2 1-2 1 1 1 1 1 2 1-1 1 0 1-1 1 0 1-2 1 2 1 0 1-1 1 1 1-1 1 0 1 0 1 0 1 1 1-1 1 0 1 1 1 0 1 1 1 0 1 1 1 0 1 2 1 0 1 2 1 0 1 2 1 2 1-2 1-1 1-2 1 0 1-1 1-1 1-1 1-1 1 0 1-1 1 0 1 0 1-1 1 0 1 0 1 0 1 0 1-1 1 1 1 0 1 1 1-2 1 0 1 1 1-1 1 2 1-2 1 2 1-1 1 0 1 0 1 1 1-1 1 2 1 0 1 2 1-2 1-1 1 1 1 1 1 1 1 0 1 1 1 0 1 2 1 0 1 3 1-1 1-2 1-2 1 0 1-2 1-1 1 0 1 0 1 0 1-1 1 0 1-1 1 2 1 0 1 0 1 0 1-2 1 0 1 2 1-2 1 1 1 1 1 0 1-2 1 1 1-1 1-1 1 3 1-1 1-1 1 1 1 2 1-4 1 0 1 1 1 1 1-1 1 3 1-3 1 1 1-2 1 1 1 0 1-1 1 0 1 1 1-1 1 1 1 1 1-1 1 1 1 0 1-2 1 1 1-1 1 1 1-1 1 2 1-1 1 1 1-2 1 1 1 0 1-1 1 0 1 3 1-2 1-1 1 2 1-2 1 0 1 2 1-2 1 1 1 0 1 1 1 0 1-1 1 0 1-1 1 1 1 0 1 2 1 0 1-1 1 0 1-1 1-1 1 1 1 0 1 0 1-1 1 0 1 0 1 0 1 0 1 2 1 0 1-2 1 0 1 0 1 0 1 1 1 1 1 0 1-1 1-1 1 0 1 1 1 0 1 2 1-3 1 1 1 1 1 0 1 2 1-1 1-3 1 0 1 1 1 1 1-2 1 1 1 0 1 2 1-3 1 1 1 0 1 0 1 1 1-1 1 2 1-1 1 1 1-2 1 0 1 1 1-1 1-1 1 1 1-1 1 1 1 1 1-1 1 1 1-1 1 1 1-2 1 3 1-3 1 2 1 1 1 2 1-4 1 3 1-4 1 0 1 1 1 0 1 0 1 1 1 0 1-1 1 1 1 1 1-2 1-1 1 0 1 0 1 0 1 3 1-3 1 2 1-2 1 2 1-1 1 0 1 0 1-1 1 0 1 1 1-1 1 1 1-1 1 0 1 0 1 0 1 1 1-1 1 1 1 1 1 0 1-1 1-1 1 1 1-1 1 1 1-1 1 1 1-1 1 3 1-2 1 1 1-2 1 2 1 0 1 0 1-2 1 2 1-1 1 0 1 0 1 1 1 0 1-1 1 1 1-2 1 5 1-2 1-3 1 2 1 0 1-1 1 0 1 0 1 1 1 0 1 0 1-1 1 2 1-2 1 1 1-2 1 1 1-1 1 0 1 2 1-2 1 1 1-1 1 2 1-2 1 3 1-2 1 0 1 0 1 0 1 1 1 1 1-1 1-1 1 2 1-3 1 2 1-2 1 1 1 0 1 0 1 0 1 0 1 0 1 1 1-1 1 1 1-1 1 2 1-2 1-1 1 2 1-1 1 2 1-1 1-1 1-1 1 3 1-2 1 2 1-1 1-1 1-1 1 0 1 3 1-2 1 1 1-2 1 2 1-1 1-1 1 1 1 0 1 0 1 1 1 2 1-3 1 0 1 3 1-3 1 1 1-1 1 0 1 0 1 0 1 0 1 0 1 0 1 0 1 0 1 2 1-1 1 2 1-2 1 0 1 0 1 2 1-2 1 0 1 0 1 0 1 0 1 2 1-2 1 0 1 1 1-1 1 1 1 0 1 0 1 0 1 0 1 1 1-1 1 1 1 0 1-1 1 1 1 1 1-1 1 1 1 0 1 0 1 0 1 1 1 0 1 1 1 0 1 0 1-1 1 1 1 0 1 0 1-2 1 3 1-3 1 3 1 2 1-1 1 1 1 0 1 0 1 1 1 0 1 5 1 3 1 6 1-2 1-2 1-5 1-1 1-3 1-4 1 1 1 0 1-1 1-2 1-2 1 0 1-1 1 0 1 0 1-1 1 0 1 0 1 0 1 0 1 1 1-1 1 1 1 0 1-1 1 0 1 1 1 0 1-1 1-1 1 0 1 3 1-2 1 1 1 0 1-2 1 2 1-2 1 0 1 0 1 0 1 0 1 0 1 0 1 1 1-1 1 0 1 4 1-4 1 0 1 1 1-1 1 3 1-3 1 0 1 0 1 1 1 1 1-1 1-1 1 0 1-1 1 0 1 1 1 0 1 0 1 0 1-1 1 0 1 0 1 1 1-1 1 0 1 0 1 2 1-2 1 1 1 0 1 0 1 3 1 1 1-4 1 0 1 0 1 2 1 1 1-2 1 0 1 1 1 2 1-4 1 2 1-1 1 0 1 1 1 0 1-1 1 0 1-1 1 0 1 0 1 1 1-1 1 0 1 3 1-4 1 0 1 1 1 0 1 1 1 3 1-4 1-1 1 2 1 1 1-3 1 2 1-1 1 4 1 0 1-4 1 1 1-2 1 0 1 0 1 1 1 0 1 1 1 1 1 0 1-1 1-1 1 2 1 1 1-2 1 1 1-1 1-2 1 1 1-1 1 1 1 3 1 0 1-3 1 1 1-2 1 1 1 0 1 2 1-2 1 0 1 1 1 1 1-3 1 1 1 2 1 2 1-3 1 1 1 1 1-3 1 1 1-2 1 0 1 0 1 2 1-1 1 1 1 0 1 0 1 0 1 1 1-2 1 0 1 0 1 0 1-1 1 0 1 0 1 2 1-2 1 0 1 0 1 0 1 0 1 1 1 1 1-2 1 1 1-1 1 2 1-1 1 0 1-1 1 0 1 3 1-3 1 1 1-1 1 1 1 1 1 1 1-1 1 0 1-1 1 2 1-1 1-1 1 0 1 0 1 1 1 1 1-2 1 0 1 0 1 0 1 0 1 0 1 0 1 0 1 0 1 0 1 1 1 0 1 0 1 0 1-1 1 1 1 0 1 0 1 1 1-1 1 0 1 0 1 0 1 0 1 0 1 0 1 0 1 0 1 1 1 0 1-1 1 1 1 0 1 1 1-1 1 1 1 0 1 0 1 1 1 0 1 0 1 0 1 0 1 1 1 0 1 0 1 0 1 0 1 0 1 0 1-1 1 0 1 1 1-1 1-2 1 0 1 1 1 1 1 2 1 0 1-1 1 4 1 1 1 0 1 2 1 4 1-3 1-2 1 0 1-1 1-2 1-2 1-1 1 1 1-1 1-1 1-1 1 0 1-1 1 0 1-1 1 0 1 0 1 0 1 0 1 0 1 0 1 0 1 1 1-1 1 1 1 1 1 0 1 0 1 0 1-1 1 2 1 0 1 0 1 1 1 0 1 0 1 1 1 1 1 0 1 0 1 3 1 3 1 1 1 5 1 6 1 3 1 8 1-8 1-5 1-5 1-4 1-5 1-2 1-2 1 2 1-1 1 0 1-1 1 0 1-2 1 1 1-1 1 0 1 0 1 1 1 1 1 1 1 0 1 0 1-1 1 2 1 3 1 3 1 4 1-1 1 4 1 4 1 1 1 5 1-4 1 2 1-6 1 0 1-3 1-2 1-5 1-2 1 0 1-4 1 1 1 1 1-2 1-1 1 0 1-1 1-1 1 0 1 0 1-1 1-1 1 0 1 0 1 0 1-1 1 1 1-1 1 0 1 0 1 0 1 0 1 1 1 0 1-2 1 3 1-3 1 0 1 2 1 0 1-2 1 1 1 0 1-1 1 0 1 0 1 0 1 0 1 1 1 0 1-1 1 1 1 1 1-1 1-1 1 2 1-2 1 0 1 1 1 0 1 0 1 0 1 0 1 0 1 1 1-2 1 4 1-3 1 2 1-1 1 0 1 1 1 1 1-3 1 1 1-1 1 0 1 0 1 0 1 2 1-1 1 2 1-2 1 1 1-1 1 1 1 2 1 1 1 1 1 1 1 0 1-1 1-2 1 0 1-1 1-1 1-1 1 1 1-1 1-1 1 1 1-1 1 0 1 1 1 0 1 0 1 0 1-1 1-1 1 3 1 0 1-2 1-1 1 4 1-4 1 2 1 2 1-3 1-1 1 2 1-2 1 4 1-3 1 1 1 4 1-6 1 1 1 0 1 0 1 1 1 0 1 2 1-2 1 1 1 1 1-1 1-2 1 2 1-1 1-1 1 1 1-1 1 0 1-1 1 0 1 0 1 0 1 1 1 0 1-1 1 1 1-1 1 2 1-2 1 0 1 0 1 2 1-2 1 2 1-2 1 1 1 0 1 0 1 0 1-1 1 0 1 2 1-1 1-1 1 2 1-2 1 2 1 0 1-1 1 0 1-1 1 1 1 0 1-1 1 1 1 1 1-1 1 0 1-1 1 0 1 0 1 0 1 1 1-1 1 3 1-3 1 0 1 2 1 0 1-1 1 2 1 2 1-4 1-1 1 0 1 1 1-1 1 2 1 0 1-2 1 0 1 0 1 1 1 0 1-1 1 1 1 1 1-1 1-1 1 2 1 0 1 0 1-1 1-1 1 2 1-2 1 0 1 0 1 1 1 2 1-2 1 0 1 2 1-3 1 0 1 2 1-2 1 1 1-1 1 0 1 1 1 1 1-1 1 2 1-3 1 3 1-1 1 0 1-2 1 3 1-3 1 1 1-1 1 0 1 0 1 0 1 0 1 0 1 1 1-1 1 0 1 1 1-1 1 2 1 0 1 1 1-1 1-2 1 4 1-2 1 0 1 0 1 1 1-2 1-1 1 4 1-1 1-1 1-1 1 0 1 0 1-1 1 0 1 4 1-4 1 3 1-3 1 1 1 1 1 1 1 0 1-1 1-1 1 0 1-1 1 1 1 2 1-3 1 0 1 2 1 2 1-4 1 4 1-2 1-2 1 3 1 1 1-1 1 1 1-2 1-1 1 3 1-4 1 0 1 4 1-4 1 2 1 2 1-1 1 0 1-1 1-2 1 1 1-1 1 1 1-1 1 2 1-1 1 0 1 1 1-2 1 0 1 3 1-1 1-1 1 1 1 0 1 0 1 0 1-1 1 1 1-2 1 3 1-3 1 3 1-2 1 0 1 0 1 1 1-1 1-1 1 1 1-1 1 1 1 1 1 1 1-1 1 2 1-4 1 0 1 1 1 0 1 5 1 1 1-6 1 1 1-2 1 1 1-1 1 0 1 0 1 0 1 1 1-1 1 1 1 1 1 0 1-1 1-1 1 1 1-1 1 2 1 0 1 0 1-2 1 2 1-2 1 0 1 0 1 1 1-1 1 0 1 0 1 5 1 1 1-2 1-2 1 0 1-2 1 2 1-1 1 0 1 1 1-1 1 1 1 2 1-2 1 0 1-1 1 2 1-3 1 3 1 0 1-3 1 1 1-1 1 1 1 0 1-1 1 1 1-1 1 0 1 3 1-2 1 3 1-4 1 2 1-1 1 0 1 1 1 0 1-2 1 4 1-4 1 2 1 0 1-1 1 0 1 1 1 0 1 1 1-1 1-2 1 0 1 1 1-1 1 1 1 1 1 1 1-3 1 0 1 1 1 1 1-2 1 1 1-1 1 1 1 0 1-1 1 0 1 1 1 0 1 0 1 0 1 0 1 0 1 1 1-1 1 1 1 0 1 1 1-1 1 1 1 4 1-1 1 3 1-3 1-1 1-1 1 1 1 1 1-1 1 1 1 1 1 3 1 1 1 1 1 2 1 2 1 0 1 5 1 3 1 10 1-13 1-3 1-2 1-3 1-1 1-4 1 0 1-2 1-1 1 0 1 0 1 3 1 2 1 2 1-2 1-3 1-1 1 2 1 1 1 2 1 3 1-3 1-3 1 3 1-2 1 2 1-2 1-1 1-1 1-5 1 6 1-2 1-1 1 0 1 1 1 2 1 1 1 2 1 1 1 2 1-3 1-1 1-3 1 0 1-1 1-1 1 3 1-5 1 0 1 3 1-1 1 0 1-3 1 0 1-1 1 0 1 0 1 0 1-1 1 1 1-1 1 1 1 0 1-1 1 1 1 1 1-2 1 1 1-1 1 2 1-2 1 2 1-1 1-1 1 2 1-1 1 0 1 0 1 0 1-1 1 0 1 0 1 1 1 0 1 2 1 1 1-3 1 0 1 1 1 2 1-3 1-1 1 1 1 0 1 0 1 0 1 1 1-1 1 0 1 0 1-1 1 0 1 2 1 0 1 0 1-1 1 2 1-3 1 2 1-2 1 0 1 1 1-1 1 0 1 1 1 1 1-2 1 0 1 3 1-1 1-1 1 0 1 1 1-2 1 0 1 0 1 3 1-2 1 1 1-1 1 0 1 1 1-2 1 0 1 1 1-1 1 2 1-1 1 0 1-1 1 2 1-1 1 1 1-1 1 0 1 1 1-2 1 3 1 0 1 0 1-2 1-1 1 0 1 2 1-1 1-1 1 0 1 1 1 1 1-1 1-1 1 1 1 0 1-1 1 1 1 0 1 0 1-1 1 0 1 1 1 0 1-1 1 1 1 0 1-1 1 0 1 0 1 4 1-4 1 1 1-1 1 3 1-3 1 2 1-2 1 0 1 1 1 0 1 1 1-2 1 0 1 1 1 0 1 0 1 0 1 0 1-1 1 3 1-3 1 0 1 1 1 0 1 0 1-1 1 1 1-1 1 0 1 0 1 0 1 1 1 0 1 0 1 1 1-2 1 0 1 1 1-1 1 1 1 2 1-2 1 2 1-3 1 1 1 0 1 1 1 0 1-1 1 0 1-1 1 0 1 0 1 2 1-1 1 0 1 0 1 0 1 0 1 0 1 0 1 1 1 0 1 0 1 1 1 0 1 0 1 0 1 1 1 2 1 0 1 2 1 0 1-2 1 0 1-1 1-1 1 0 1-1 1-1 1 0 1 0 1 0 1-1 1 0 1 0 1 0 1 0 1 0 1 0 1 0 1 1 1-2 1 1 1 3 1-4 1 0 1 1 1 0 1-1 1 0 1 0 1 2 1-2 1 0 1 1 1-1 1 0 1 1 1 0 1-1 1 2 1-2 1 0 1 0 1 0 1 3 1-3 1 0 1 1 1-1 1 0 1 0 1 1 1 1 1-2 1 0 1 0 1 1 1-1 1 0 1 0 1 0 1 0 1 2 1 3 1-4 1-1 1 0 1 1 1 0 1 0 1-1 1 1 1 1 1-2 1 1 1 0 1-1 1 1 1-1 1 0 1 0 1 0 1 1 1-1 1 1 1-1 1 2 1-2 1 0 1 0 1 2 1 0 1-2 1 3 1-3 1 0 1 0 1 1 1-1 1 1 1 2 1-3 1 0 1 1 1-1 1 0 1 2 1-1 1 2 1-3 1 0 1 1 1-1 1 0 1 0 1 1 1 0 1 0 1 0 1 1 1-1 1-1 1 2 1-2 1 1 1-1 1 1 1 0 1-1 1 0 1 1 1-1 1 1 1-1 1 1 1-1 1 2 1-2 1 1 1-1 1 3 1-3 1 0 1 1 1-1 1 0 1 1 1 0 1 1 1-1 1 1 1 0 1-2 1 0 1 0 1 0 1 0 1 1 1-1 1 0 1 0 1 1 1-1 1 2 1-1 1-1 1 1 1 2 1-2 1 1 1-2 1 1 1-1 1 0 1 1 1-1 1 2 1-1 1 1 1-2 1 0 1 2 1-1 1 1 1 0 1-2 1 1 1 0 1 0 1-1 1 0 1 0 1 4 1-2 1 0 1 3 1-4 1 0 1-1 1 2 1-1 1 1 1 1 1-3 1 1 1-1 1 2 1 0 1 2 1-4 1 1 1 0 1 0 1 1 1 1 1-2 1 0 1 2 1 0 1 0 1-2 1-1 1 0 1 0 1 3 1-2 1 0 1 0 1 2 1-2 1 1 1-1 1-1 1 1 1-1 1 1 1 0 1 0 1 1 1 0 1-1 1 0 1 0 1 0 1 0 1 0 1 0 1-1 1 1 1 1 1-1 1-1 1 2 1 0 1-1 1-1 1 0 1 1 1-1 1 1 1 1 1-1 1 0 1 2 1-2 1 0 1 1 1-1 1 1 1-1 1-1 1 0 1 1 1-1 1 0 1 0 1 0 1 0 1 1 1 4 1-2 1 0 1 0 1-3 1 1 1-1 1 3 1-2 1-1 1 2 1-2 1 1 1 1 1-2 1 0 1 1 1 1 1 0 1-1 1 0 1 1 1-1 1 0 1 2 1-2 1-1 1 0 1 1 1-1 1 1 1 0 1 0 1-1 1 0 1 0 1 1 1 1 1-1 1 0 1 2 1 1 1-3 1 1 1 1 1-1 1-2 1 1 1 1 1-2 1 1 1 0 1 3 1-2 1 2 1-2 1 0 1-1 1-1 1 1 1-1 1 0 1 0 1 3 1-3 1 0 1 0 1 1 1-1 1 1 1-1 1 0 1 1 1-1 1 0 1 1 1 1 1-2 1 0 1 0 1 3 1-3 1 0 1 2 1-1 1 0 1 1 1-2 1 0 1 2 1-1 1 1 1 1 1-2 1 1 1-2 1 2 1 1 1-3 1 0 1 1 1-1 1 1 1 1 1-2 1 1 1 0 1-1 1 2 1-2 1 1 1-1 1 0 1 2 1-2 1 0 1 2 1 0 1 1 1 0 1-3 1 1 1-1 1 1 1 0 1 0 1 0 1-1 1 1 1 0 1-1 1 1 1 0 1 1 1-1 1-1 1 1 1-1 1 0 1 1 1 0 1-1 1 0 1 2 1 0 1 1 1-3 1 3 1-3 1 1 1-1 1 2 1-1 1-1 1 0 1 2 1-1 1 3 1-3 1-1 1 1 1 4 1-4 1 1 1 0 1 0 1 0 1 1 1-3 1 1 1 0 1-1 1 0 1 1 1 3 1-3 1 0 1-1 1 1 1-1 1 2 1-1 1-1 1 1 1-1 1 0 1 0 1 1 1 1 1 0 1-2 1 3 1-3 1 2 1 2 1-3 1 0 1 0 1-1 1 0 1 0 1 1 1-1 1 2 1-1 1 0 1 1 1 5 1-6 1 0 1 1 1 0 1-1 1-1 1 2 1-1 1 0 1 3 1-3 1 0 1 0 1 0 1 2 1-1 1-1 1 0 1-1 1 1 1 0 1-1 1 0 1 0 1 1 1 1 1 0 1 0 1 1 1-2 1 0 1 2 1-2 1-1 1 0 1 2 1 1 1-3 1 0 1 1 1-1 1 0 1 2 1-1 1 0 1 0 1-1 1 0 1 0 1 0 1 0 1 1 1 1 1-2 1 2 1-1 1-1 1 0 1 0 1 0 1 0 1 0 1 1 1-1 1 0 1 1 1 0 1-1 1 0 1 1 1 0 1 0 1-1 1 0 1 2 1 0 1-1 1-1 1 1 1 0 1 0 1-1 1 1 1-1 1 0 1 0 1 0 1 2 1-2 1 0 1 0 1 0 1 2 1-1 1 0 1 2 1-2 1 3 1-2 1-1 1 1 1 0 1 1 1 1 1 0 1 1 1 1 1-1 1-1 1-1 1-1 1 0 1 0 1 0 1-1 1 0 1 0 1 0 1 3 1-1 1-2 1 1 1 1 1-3 1 1 1-1 1 1 1-1 1 1 1 1 1-1 1 0 1-1 1 0 1 1 1 2 1-3 1 1 1-1 1 0 1 3 1-3 1 0 1 2 1 2 1-3 1 1 1-1 1 3 1-2 1-2 1 1 1-1 1 1 1 2 1-3 1 4 1-2 1-1 1 0 1 0 1 1 1-1 1-1 1 2 1 0 1-2 1 0 1 0 1 0 1 2 1-1 1-1 1 1 1 1 1-2 1 3 1 0 1 1 1-3 1 0 1 0 1 1 1-2 1 1 1-1 1 1 1 2 1-3 1 3 1 0 1 2 1-2 1-2 1 0 1 0 1-1 1 0 1 0 1 0 1 5 1-2 1-1 1-2 1 3 1-2 1-1 1 1 1-1 1 1 1-1 1 1 1-1 1 0 1 1 1 0 1 0 1 2 1-2 1 0 1-1 1 1 1-1 1 1 1-1 1 2 1-2 1 2 1 0 1-2 1 1 1 0 1 1 1-2 1 0 1 0 1 0 1 0 1 0 1 1 1-1 1 1 1 0 1-1 1 1 1-1 1 1 1 1 1 1 1-3 1 2 1-1 1-1 1 3 1-1 1-1 1 0 1-1 1 0 1 1 1-1 1 1 1 0 1 1 1-1 1 1 1-2 1 1 1 0 1 0 1-1 1 4 1-2 1 2 1-3 1-1 1 1 1-1 1 0 1 1 1 0 1-1 1 0 1 3 1-2 1-1 1 0 1 2 1 1 1-2 1 0 1 0 1 0 1-1 1 1 1-1 1 4 1-4 1 2 1-2 1 1 1 1 1 1 1-2 1 1 1-1 1 0 1 0 1 0 1 1 1-1 1 0 1 0 1 0 1 0 1 0 1-1 1 0 1 4 1-4 1 1 1 0 1-1 1 1 1-1 1 0 1 2 1-2 1 1 1 4 1-4 1 0 1-1 1 1 1 0 1 0 1 0 1 0 1-1 1 2 1-1 1 2 1-3 1 2 1-1 1-1 1 1 1 0 1-1 1 1 1 0 1 0 1-1 1 0 1 0 1 0 1 0 1 1 1-1 1 1 1-1 1 3 1 3 1-6 1 1 1-1 1 0 1 0 1 0 1 0 1 0 1 1 1-1 1 1 1-1 1 0 1 0 1 0 1 0 1 1 1-1 1 4 1-4 1 0 1 0 1 1 1-1 1 1 1-1 1 0 1 0 1 1 1-1 1 1 1 1 1-1 1 1 1-1 1 1 1-2 1 2 1-2 1 0 1 0 1 1 1-1 1 2 1-2 1 0 1 0 1 1 1-1 1 1 1-1 1 1 1-1 1 0 1 0 1 0 1 0 1 1 1 1 1-1 1 2 1-2 1 1 1-1 1-1 1 1 1 0 1 0 1 0 1-1 1 0 1 5 1-5 1 1 1 0 1-1 1 0 1 1 1-1 1 1 1 1 1-2 1 0 1 0 1 0 1 0 1 0 1 1 1 1 1 0 1-2 1 0 1 1 1-1 1 1 1 2 1-2 1 0 1 0 1 2 1-3 1 0 1 1 1 0 1-1 1 1 1-1 1 0 1 1 1-1 1 2 1 1 1-1 1 1 1-3 1 2 1-1 1 2 1-3 1 3 1-3 1 0 1 1 1 0 1 0 1-1 1 1 1 0 1 1 1-2 1 0 1 2 1 1 1-2 1 1 1-2 1 2 1-1 1-1 1 1 1 0 1-1 1 3 1-3 1 1 1 1 1-2 1 0 1 0 1 0 1 1 1-1 1 0 1 0 1 1 1-1 1 1 1-1 1 0 1 0 1 2 1-1 1-1 1 4 1-3 1 0 1 1 1-2 1 1 1 1 1-2 1 0 1 1 1 0 1-1 1 2 1 0 1-2 1 0 1 1 1 0 1 0 1 4 1-3 1-2 1 2 1 1 1-2 1-1 1 0 1 1 1 0 1 1 1-1 1 1 1 1 1-2 1 0 1 1 1 0 1 1 1 0 1 0 1 1 1 1 1 0 1 1 1-1 1-1 1-1 1-1 1 0 1 0 1 0 1-1 1 0 1 0 1 0 1 0 1 0 1 0 1 1 1-2 1 2 1-1 1 2 1-2 1 1 1-1 1 1 1-2 1 0 1 0 1 2 1-2 1 0 1 1 1 2 1-3 1 1 1 0 1 0 1 1 1-1 1 3 1-4 1 2 1 0 1-1 1 0 1 1 1 1 1 0 1 1 1-2 1 0 1-1 1-1 1 0 1 1 1 1 1-2 1 1 1-1 1 0 1 1 1 2 1-2 1 1 1 2 1-4 1 1 1-1 1 1 1 0 1 2 1-1 1 1 1-2 1-1 1 2 1-2 1 1 1 1 1-1 1 2 1-2 1 2 1 0 1-3 1 0 1 0 1 0 1 1 1 0 1 2 1-3 1 0 1 1 1 0 1 0 1-1 1 3 1-2 1-1 1 0 1 3 1-2 1 0 1 0 1 0 1 1 1 0 1-1 1-1 1 0 1 2 1-2 1 2 1-1 1 0 1-1 1 0 1 0 1 4 1-4 1 0 1 0 1 0 1 1 1-1 1 1 1 0 1-1 1 0 1 0 1 1 1 0 1-1 1 1 1-1 1 1 1 1 1-1 1 0 1 0 1 2 1-2 1 1 1-1 1 4 1-4 1-1 1 2 1 0 1 0 1-1 1 0 1 0 1 0 1 1 1-2 1 0 1 1 1 0 1 0 1 1 1-1 1 1 1-2 1 1 1 3 1-3 1-1 1 0 1 3 1 0 1 1 1-2 1-2 1 0 1 2 1-1 1 2 1-2 1 0 1 0 1 0 1 0 1 3 1-2 1 0 1 0 1 0 1 0 1 0 1 0 1 1 1 0 1 1 1-1 1 1 1 0 1 2 1 2 1 1 1 0 1 1 1-2 1-1 1-1 1-1 1 0 1 0 1 0 1-1 1-1 1 0 1 0 1-1 1 0 1 0 1 1 1-2 1 0 1 0 1 0 1 0 1 0 1 0 1 0 1 1 1-1 1 0 1 0 1-1 1 0 1 0 1 3 1-3 1 3 1-3 1 1 1-1 1 0 1 2 1-1 1-1 1 0 1 0 1 2 1-1 1 1 1-2 1 0 1 3 1-3 1 1 1 0 1-1 1 2 1 0 1-1 1 0 1-1 1 1 1-1 1 1 1 3 1-4 1 3 1-3 1 2 1 1 1-2 1 0 1 0 1 2 1-1 1-1 1 1 1 0 1 0 1 1 1 0 1 0 1 2 1 0 1 2 1 1 1-4 1 0 1 0 1-1 1 3 1-3 1 1 1-3 1 1 1 2 1-3 1 2 1-2 1 0 1 2 1-2 1 0 1 2 1-2 1-1 1 0 1 1 1 1 1-1 1-1 1 0 1 1 1 0 1 0 1 1 1-2 1 0 1 1 1-1 1 2 1-1 1-1 1 1 1-1 1 1 1 1 1-2 1 2 1-1 1 0 1 0 1-1 1 1 1 0 1 3 1-1 1-3 1 1 1-1 1 0 1 1 1 1 1-1 1-1 1 3 1-2 1 2 1-2 1-1 1 1 1 0 1 0 1 1 1-2 1 1 1 1 1-1 1-1 1 2 1-2 1 2 1-1 1 1 1 1 1-2 1 1 1 0 1-1 1 0 1 0 1 1 1 2 1-1 1 0 1 0 1 2 1 0 1 2 1-2 1 0 1-2 1 1 1-1 1 0 1-1 1 0 1 0 1-1 1 0 1 0 1 0 1 0 1 0 1 0 1 0 1 1 1 1 1-3 1 1 1 2 1-2 1 0 1-1 1 1 1 0 1 3 1-4 1 0 1 1 1 1 1 4 1-6 1 0 1 1 1 3 1-1 1-2 1 1 1 1 1-3 1 1 1-1 1 0 1 0 1 1 1-1 1 2 1-2 1 1 1 0 1-1 1 1 1-1 1 1 1 1 1-1 1 2 1-2 1 0 1 0 1 0 1-1 1 0 1 0 1 0 1 1 1-1 1 3 1-2 1 0 1 1 1 1 1-3 1 0 1 0 1 2 1 0 1 0 1-1 1-1 1 1 1 1 1-2 1 2 1-2 1 1 1-1 1 0 1 1 1 2 1-3 1 0 1 2 1-2 1 0 1 0 1 1 1-1 1 0 1 0 1 0 1 0 1 3 1-2 1-1 1 0 1 1 1 0 1-1 1 0 1 0 1 2 1 1 1-3 1 1 1-1 1 0 1 0 1 0 1 0 1 0 1 1 1 0 1-1 1 0 1 1 1-1 1 1 1 1 1-2 1 1 1 0 1 0 1-1 1 1 1-1 1 2 1 0 1-2 1 0 1 0 1 2 1-2 1 0 1 1 1-1 1 0 1 0 1 0 1 0 1 2 1-2 1 1 1-1 1 1 1-1 1 0 1 1 1-1 1 0 1 1 1-1 1 2 1 0 1 2 1-4 1 1 1-1 1 1 1-1 1 1 1-1 1 1 1-1 1 1 1 2 1-1 1-1 1-1 1 1 1 3 1-3 1-1 1 1 1 0 1 0 1 0 1-1 1 1 1-1 1 0 1 0 1 1 1 0 1-1 1 1 1 2 1-3 1 1 1-1 1 0 1 1 1 1 1-1 1-1 1 1 1-1 1 2 1-1 1-1 1 4 1-3 1 0 1 0 1 0 1 0 1 0 1 1 1-1 1 0 1 0 1 1 1 0 1 1 1 0 1 1 1 0 1 1 1 1 1 0 1-1 1-1 1 0 1 1 1-3 1 2 1-2 1 0 1-1 1 0 1 0 1 0 1 1 1-1 1 0 1-1 1 3 1-3 1 3 1-1 1-2 1 1 1 0 1 1 1-1 1 1 1 0 1-2 1 1 1 1 1-1 1 0 1 1 1-1 1-1 1 1 1 1 1 2 1-3 1-1 1 0 1 2 1-2 1 0 1 0 1 0 1 0 1 0 1 1 1-1 1 0 1 0 1 0 1 3 1-3 1 0 1 2 1-2 1 0 1 1 1 0 1 2 1-3 1 1 1 1 1 0 1-2 1 2 1 0 1-2 1 0 1 1 1 1 1-2 1 0 1 2 1-2 1 0 1 0 1 1 1 1 1-1 1-1 1 0 1 0 1 0 1 1 1 0 1 0 1-1 1 0 1 1 1 0 1 1 1-1 1-1 1 2 1-1 1 2 1-3 1 1 1 3 1-3 1-1 1 1 1-1 1 1 1 0 1 0 1 0 1 2 1 0 1-2 1 0 1 0 1 1 1-1 1 1 1 0 1 0 1 1 1 0 1 1 1 1 1 1 1 0 1 2 1 1 1 2 1 2 1 0 1 1 1 3 1 5 1-4 1 6 1 15 1 11 1-30 1-4 1-1 1 4 1 2 1 5 1 8 1 11 1 5 1-28 1-3 1-4 1-2 1-2 1 1V0" fill="#0000ff" stroke="#00008b" stroke-width="0.85" vector-effect="non-scaling-stroke"/></g>
<path d="M259 1496.5H270.5M259 1635.5H270.5" fill="none" stroke="#333" stroke-width="1"/>
<path d="M270.5 1496.0V1636.0" stroke="#858575" stroke-width="1"/>
<text x="252.4" y="1499.3" class="ax">50</text>
<text x="252.4" y="1638.1" class="ax">0</text>
<text x="74" y="1571.7" class="nm">GSM5550308</text>
<g transform="translate(271.0 1789.0) scale(0.33333 -7.72222)"><path d="M0 0V0l1 1 1-1 1 0 1 0 1 0 1 1 1-1 1 0 1 0 1 1 1 0 1-1 1 1 1 1 1-1 1-1 1 0 1 2 1-2 1 2 1 0 1 0 1-2 1 0 1 2 1-1 1-1 1 0 1 0 1 1 1 1 1 0 1-2 1 0 1 0 1 1 1-1 1 0 1 1 1-1 1 0 1 2 1 0 1-2 1 1 1 1 1 0 1-2 1 0 1 2 1-1 1 0 1 1 1 0 1 0 1-2 1 0 1 0 1 1 1 0 1-1 1 3 1-3 1 0 1 2 1-1 1-1 1 0 1 0 1 0 1 0 1 0 1 0 1 0 1 1 1 1 1-1 1 1 1-2 1 2 1 0 1 0 1-2 1 2 1-1 1 0 1-1 1 0 1 0 1 1 1 1 1-2 1 0 1 2 1-2 1 2 1 0 1 0 1-1 1 0 1 1 1 0 1 1 1-3 1 0 1 0 1 1 1 0 1-1 1 0 1 2 1-2 1 1 1-1 1 0 1 0 1 0 1 1 1-1 1 2 1-1 1 0 1 1 1-2 1 1 1 1 1 0 1 0 1-2 1 0 1 2 1-2 1 0 1 0 1 0 1 0 1 1 1 0 1-1 1 2 1-1 1-1 1 1 1-1 1 1 1 2 1-2 1 0 1 0 1 1 1 0 1 0 1 0 1-2 1 2 1 0 1-2 1 2 1-2 1 1 1-1 1 0 1 2 1-2 1 4 1-2 1-1 1-1 1 0 1 0 1 0 1 1 1 0 1 0 1 1 1-2 1 1 1-1 1 0 1 0 1 2 1-2 1 0 1 2 1-2 1 1 1-1 1 0 1 1 1-1 1 4 1-4 1 0 1 2 1-2 1 1 1-1 1 0 1 2 1-1 1-1 1 0 1 2 1-2 1 0 1 0 1 0 1 0 1 1 1-1 1 1 1-1 1 1 1-1 1 0 1 0 1 1 1 0 1 0 1 1 1-2 1 1 1 0 1 1 1 0 1-2 1 1 1 0 1 0 1 0 1 3 1-4 1 1 1 0 1 1 1-1 1 1 1 0 1-1 1-1 1 0 1 2 1 0 1-1 1 1 1 0 1-1 1 0 1-1 1 3 1-1 1-2 1 1 1 0 1-1 1 0 1 2 1-1 1-1 1 0 1 1 1-1 1 0 1 0 1 2 1-1 1 1 1-1 1 0 1-1 1 1 1 1 1-2 1 0 1 1 1-1 1 0 1 2 1 0 1 0 1 0 1-1 1 0 1-1 1 0 1 1 1 0 1 0 1-1 1 2 1-1 1 1 1-1 1 1 1-1 1-1 1 1 1-1 1 2 1-1 1 1 1-1 1-1 1 0 1 0 1 2 1-1 1 1 1-2 1 0 1 0 1 0 1 2 1 0 1-1 1 1 1 0 1-2 1 0 1 0 1 0 1 0 1 1 1-1 1 1 1 1 1-2 1 1 1-1 1 0 1 1 1 1 1 0 1-2 1 2 1 0 1-2 1 0 1 2 1-1 1 1 1 0 1 0 1-1 1-1 1 2 1-2 1 0 1 1 1 1 1-2 1 1 1 1 1 0 1-2 1 2 1-2 1 2 1 0 1 0 1-1 1-1 1 0 1 2 1-2 1 2 1-2 1 1 1-1 1 0 1 1 1 1 1-2 1 2 1 0 1-1 1 1 1-2 1 0 1 0 1 0 1 1 1 1 1-2 1 2 1 0 1-2 1 1 1 0 1 1 1-2 1 0 1 0 1 1 1 1 1-2 1 0 1 2 1-1 1-1 1 0 1 5 1-3 1 0 1 0 1 0 1 0 1-2 1 2 1-1 1 0 1 1 1 0 1-1 1 1 1-2 1 2 1 0 1 0 1-1 1-1 1 0 1 1 1 1 1-2 1 1 1-1 1 0 1 0 1 2 1-2 1 2 1-2 1 2 1-2 1 0 1 0 1 1 1 0 1 0 1-1 1 0 1 0 1 2 1-1 1 0 1 0 1 0 1-1 1 1 1-1 1 2 1-2 1 1 1 1 1-2 1 2 1 0 1 0 1-2 1 1 1-1 1 0 1 2 1-2 1 0 1 1 1 0 1-1 1 1 1 1 1-1 1-1 1 1 1-1 1 2 1-2 1 0 1 2 1 0 1-2 1 2 1-2 1 2 1 0 1 0 1-2 1 1 1 0 1-1 1 2 1-2 1 1 1 1 1-1 1-1 1 0 1 2 1-2 1 2 1-2 1 0 1 5 1-3 1-1 1-1 1 1 1 0 1 1 1-1 1 0 1 0 1 0 1 1 1 0 1 1 1-2 1 0 1 0 1 0 1 0 1 0 1 1 1-1 1 0 1 1 1 0 1 0 1 0 1 0 1 0 1 0 1 0 1 0 1 0 1 0 1 1 1-1 1 1 1-1 1 0 1 1 1 2 1 2 1 2 1 3 1-1 1-3 1-2 1-1 1-1 1-2 1 0 1-1 1 0 1 1 1-1 1 0 1 0 1 0 1 1 1-1 1 0 1 1 1-2 1 1 1 1 1-1 1 1 1-1 1-1 1 2 1-1 1 1 1 0 1-1 1 0 1-1 1 2 1-2 1 0 1 0 1 1 1-1 1 1 1 1 1 0 1-1 1 1 1 0 1-2 1 2 1-2 1 1 1 0 1-1 1 0 1 2 1-2 1 2 1-2 1 2 1-2 1 1 1 0 1 1 1-1 1-1 1 1 1-1 1 0 1 2 1-2 1 0 1 1 1 1 1-2 1 2 1-2 1 1 1 0 1 1 1-1 1 0 1 0 1 2 1-1 1 0 1 0 1 0 1 2 1-2 1 0 1 3 1-4 1-1 1 0 1 1 1 0 1-1 1 0 1 1 1-1 1 1 1 0 1 0 1-1 1 1 1 0 1 0 1 0 1 1 1 0 1 0 1-1 1-1 1 0 1 2 1 2 1-4 1 1 1-1 1 2 1 0 1 1 1-2 1 1 1 0 1-2 1 2 1 0 1-1 1 0 1-1 1 2 1 2 1-3 1 2 1-3 1 0 1 0 1 1 1 1 1-1 1 1 1-1 1-1 1 0 1 1 1-1 1 2 1 0 1-2 1 2 1 0 1-1 1 0 1 1 1-2 1 0 1 2 1 0 1-2 1 1 1 0 1-1 1 1 1-1 1 1 1 1 1 0 1-2 1 0 1 0 1 2 1-2 1 0 1 1 1 0 1 1 1-2 1 2 1-2 1 0 1 0 1 2 1 0 1 0 1 0 1-1 1 0 1 1 1-1 1 0 1 1 1 0 1 0 1 0 1-1 1-1 1 1 1 1 1 0 1 0 1-2 1 0 1 0 1 0 1 2 1 0 1-2 1 2 1-2 1 0 1 0 1 0 1 2 1-2 1 0 1 0 1 0 1 2 1 0 1-1 1 0 1-1 1 2 1 0 1 0 1 0 1-2 1 4 1-2 1-1 1-1 1 0 1 1 1 0 1-1 1 0 1 0 1 0 1 0 1 2 1-2 1 2 1-1 1-1 1 0 1 3 1-3 1 1 1-1 1 1 1 0 1-1 1 2 1-2 1 2 1-2 1 1 1 1 1 0 1-2 1 0 1 0 1 2 1 1 1-2 1 4 1-4 1 0 1 0 1 0 1 0 1 1 1 0 1 1 1 0 1 1 1 0 1 2 1 1 1-2 1 0 1-1 1-1 1 0 1-1 1 0 1 0 1-1 1 0 1 1 1 0 1 0 1-2 1 0 1 3 1-3 1 1 1 1 1 1 1-1 1 0 1 0 1 2 1 0 1-2 1 0 1 2 1-2 1 0 1 0 1 0 1 1 1 1 1 1 1 2 1 4 1 1 1-3 1-2 1-1 1 1 1 4 1 2 1 2 1-6 1-3 1 0 1-1 1 0 1-2 1 0 1-1 1-1 1 1 1 0 1 0 1 2 1 1 1 1 1-2 1-1 1-1 1 0 1 0 1 0 1 0 1 0 1 2 1-2 1 0 1 0 1 1 1 1 1 2 1 3 1 1 1 3 1-5 1 0 1-2 1 0 1 2 1-3 1 1 1-3 1 0 1-1 1 2 1-2 1 0 1 0 1 2 1-2 1 0 1 4 1-4 1 0 1 2 1 0 1 0 1-2 1 0 1 0 1-1 1-1 1 0 1 1 1-1 1 1 1 0 1 0 1-1 1 1 1-1 1 2 1-2 1 0 1 0 1 0 1 0 1 0 1 0 1 0 1 2 1-2 1 1 1 1 1 0 1 0 1-2 1 2 1 0 1-2 1 0 1 1 1-1 1 0 1 1 1-1 1 1 1 0 1-1 1 0 1 0 1 2 1 0 1-2 1 0 1 0 1 0 1 1 1 1 1 0 1-1 1 0 1 0 1 0 1-1 1 0 1 0 1 1 1-1 1 2 1 0 1 0 1-2 1 0 1 0 1 0 1 0 1 0 1 0 1 0 1 1 1-1 1 0 1 0 1 0 1 2 1-1 1-1 1 1 1 1 1-2 1 2 1-2 1 0 1 1 1 0 1 1 1 0 1-2 1 2 1-2 1 2 1 0 1-2 1 0 1 1 1 1 1-2 1 2 1-2 1 4 1-3 1 0 1 4 1-4 1-1 1 0 1 0 1 2 1-2 1 2 1 0 1 0 1 0 1 2 1-4 1 5 1-5 1 0 1 0 1 0 1 0 1 2 1-1 1 0 1 1 1 0 1 0 1-1 1 3 1-3 1 0 1 1 1 0 1 0 1 0 1 0 1-2 1 0 1 1 1 1 1-1 1 1 1-1 1 1 1-1 1-1 1 1 1 0 1 0 1 1 1-1 1-1 1 0 1 3 1-2 1 1 1 0 1 0 1-2 1 0 1 1 1 0 1-1 1 1 1-1 1 1 1-1 1 0 1 1 1 1 1-2 1 2 1 0 1-2 1 2 1-1 1-1 1 0 1 1 1-1 1 0 1 1 1-1 1 0 1 1 1-1 1 0 1 2 1-1 1-1 1 4 1-3 1 1 1-2 1 0 1 0 1 2 1-1 1 0 1-1 1 1 1 0 1 1 1 0 1 0 1 0 1-2 1 0 1 0 1 0 1 2 1 0 1-2 1 1 1-1 1 0 1 0 1 2 1-2 1 0 1 1 1 0 1 1 1 0 1 2 1 2 1 0 1-3 1-1 1-1 1 1 1 0 1-2 1 0 1 0 1 2 1-1 1-1 1 0 1 2 1-2 1 4 1-4 1 1 1-1 1 3 1-3 1 1 1 0 1 0 1 1 1 0 1-2 1 2 1-2 1 0 1 1 1 1 1-1 1 0 1 3 1-2 1-2 1 1 1-1 1 2 1-2 1 0 1 0 1 2 1-2 1 2 1 0 1 0 1-1 1 1 1-1 1 1 1-1 1-1 1 0 1 2 1 0 1-2 1 2 1-2 1 1 1-1 1 1 1 1 1-1 1 1 1 0 1-2 1 0 1 0 1 0 1 0 1 2 1 0 1-2 1 0 1 0 1 2 1-1 1-1 1 1 1-1 1 0 1 1 1-1 1 2 1 0 1-1 1-1 1 0 1 0 1 1 1-1 1 0 1 1 1-1 1 0 1 1 1 3 1-4 1 1 1 0 1-1 1 0 1 0 1 0 1 0 1 1 1-1 1 0 1 1 1 0 1 0 1 1 1 0 1-2 1 0 1 0 1 2 1-2 1 1 1 0 1 0 1 1 1-1 1-1 1 0 1 2 1 0 1 0 1-2 1 2 1 1 1-2 1 0 1-1 1 3 1-2 1 1 1-1 1-1 1 0 1 0 1 0 1 0 1 1 1-1 1 1 1 1 1-2 1 0 1 4 1-4 1 1 1-1 1 0 1 2 1-2 1 0 1 2 1 0 1-1 1 1 1 0 1 0 1 0 1-2 1 0 1 0 1 1 1-1 1 2 1-1 1 1 1 0 1-1 1 0 1 1 1-1 1 1 1 0 1-1 1 0 1-1 1 1 1-1 1 1 1-1 1 0 1 2 1 0 1-1 1-1 1 0 1 2 1-1 1 1 1-1 1 0 1 2 1-2 1 0 1 1 1-1 1 3 1-2 1 0 1-1 1 1 1 0 1 0 1 0 1 0 1 1 1-1 1 0 1 0 1 1 1-1 1 2 1-1 1 0 1 1 1 1 1 0 1 0 1 1 1-1 1 0 1 1 1 0 1 1 1 2 1 1 1 2 1 6 1-4 1-2 1-3 1-3 1 0 1-2 1 0 1 1 1-1 1 0 1-1 1 0 1 1 1-1 1 0 1 0 1 0 1 1 1-2 1 0 1 2 1 0 1-2 1 0 1 1 1-1 1-1 1 1 1 4 1-2 1 0 1-2 1 2 1 0 1 0 1 1 1 1 1 3 1 2 1-3 1 0 1-2 1-1 1-2 1 3 1-1 1-1 1-3 1 2 1-1 1 0 1-1 1-1 1 0 1 0 1 1 1 1 1-2 1 1 1-1 1 1 1 1 1 0 1-2 1 1 1-1 1 0 1 1 1-1 1 0 1 2 1-2 1 4 1-4 1 0 1 0 1 0 1 0 1 0 1 1 1-1 1 2 1-1 1 1 1-2 1 0 1 0 1 0 1 1 1-1 1 2 1-2 1 0 1 2 1-2 1 0 1 1 1-1 1 0 1 0 1 2 1 0 1-2 1 2 1-1 1-1 1 0 1 0 1 0 1 2 1-2 1 2 1-2 1 0 1 3 1-3 1 0 1 0 1 0 1 0 1 0 1 0 1 0 1 0 1 0 1 1 1-1 1 1 1-1 1 0 1 2 1-2 1 1 1 0 1-1 1 1 1-1 1 0 1 0 1 0 1 1 1-1 1 2 1-2 1 0 1 0 1 0 1 0 1 0 1 0 1 2 1-1 1-1 1 0 1 1 1-1 1 0 1 0 1 0 1 0 1 2 1-2 1 4 1-4 1 0 1 0 1 2 1-2 1 1 1 1 1-2 1 0 1 2 1-2 1 1 1 0 1-1 1 0 1 1 1 1 1-1 1 0 1-1 1 4 1-3 1 0 1-1 1 2 1-2 1 0 1 0 1 1 1-1 1 2 1-2 1 0 1 1 1 1 1 1 1-1 1 0 1-2 1 1 1 1 1-2 1 0 1 1 1 1 1-2 1 0 1 0 1 1 1-1 1 0 1 1 1-1 1 1 1-1 1 1 1 1 1-2 1 2 1-2 1 0 1 3 1-3 1 1 1-1 1 0 1 1 1-1 1 0 1 0 1 0 1 2 1-1 1-1 1 1 1-1 1 2 1 0 1-2 1 2 1-2 1 3 1-3 1 0 1 0 1 0 1 0 1 1 1 1 1-1 1-1 1 2 1-2 1 0 1 1 1 0 1-1 1 0 1 0 1 0 1 0 1 0 1 0 1 2 1-2 1 0 1 1 1 1 1 0 1-1 1 0 1 0 1-1 1 1 1-1 1 2 1 2 1-2 1-2 1 0 1 2 1 0 1-2 1 0 1 0 1 2 1-1 1 0 1 0 1 1 1 0 1-1 1-1 1 0 1 2 1-2 1 2 1-2 1 0 1 0 1 1 1 0 1 0 1-1 1 0 1 0 1 0 1 0 1 2 1 0 1-1 1 4 1-5 1 1 1-1 1 0 1 0 1 0 1 0 1 1 1 1 1-2 1 2 1-2 1 0 1 0 1 0 1 1 1-1 1 2 1-2 1 2 1 0 1-2 1 1 1-1 1 1 1-1 1 0 1 0 1 2 1-2 1 1 1-1 1 1 1 0 1 0 1-1 1 0 1 1 1-1 1 2 1-1 1-1 1 2 1-2 1 2 1-2 1 0 1 0 1 0 1 0 1 1 1-1 1 0 1 1 1 0 1 1 1-1 1-1 1 1 1-1 1 0 1 2 1-2 1 2 1-2 1 1 1 0 1-1 1 1 1-1 1 1 1 0 1-1 1 2 1-2 1 0 1 2 1-1 1 0 1 0 1-1 1 2 1 1 1-1 1-2 1 0 1 0 1 2 1-1 1 0 1 0 1 1 1-2 1 0 1 0 1 0 1 0 1 0 1 0 1 0 1 0 1 0 1 0 1 3 1-3 1 0 1 2 1-2 1 0 1 0 1 0 1 1 1 0 1 0 1 1 1-2 1 0 1 0 1 0 1 0 1 0 1 0 1 2 1-1 1-1 1 0 1 0 1 0 1 0 1 0 1 0 1 0 1 2 1 0 1-1 1-1 1 0 1 1 1-1 1 0 1 0 1 1 1-1 1 2 1 0 1-2 1 0 1 0 1 0 1 2 1-2 1 1 1 1 1 0 1-2 1 0 1 1 1-1 1 1 1-1 1 0 1 0 1 0 1 0 1 1 1-1 1 0 1 0 1 2 1-1 1-1 1 1 1-1 1 0 1 1 1 0 1-1 1 0 1 0 1 0 1 0 1 0 1 0 1 0 1 0 1 1 1 0 1 0 1-1 1 0 1 2 1-2 1 0 1 0 1 0 1 0 1 2 1 0 1-1 1-1 1 0 1 0 1 0 1 0 1 0 1 2 1-2 1 1 1-1 1 0 1 1 1-1 1 0 1 2 1-2 1 0 1 2 1 0 1-1 1 0 1 0 1-1 1 0 1 0 1 0 1 0 1 0 1 1 1-1 1 0 1 0 1 0 1 0 1 2 1-2 1 0 1 0 1 0 1 0 1 2 1-2 1 0 1 2 1-2 1 0 1 0 1 0 1 1 1-1 1 0 1 0 1 1 1 1 1-1 1-1 1 0 1 2 1-2 1 0 1 1 1-1 1 1 1 1 1 0 1-1 1-1 1 6 1-5 1-1 1 0 1 0 1 2 1-1 1-1 1 0 1 1 1-1 1 0 1 0 1 0 1 0 1 0 1 1 1 1 1-2 1 0 1 0 1 0 1 0 1 0 1 4 1-4 1 0 1 0 1 0 1 0 1 0 1 1 1 0 1 1 1 0 1 0 1-1 1-1 1 2 1 0 1-2 1 2 1 0 1-2 1 1 1-1 1 0 1 0 1 1 1-1 1 0 1 0 1 0 1 0 1 1 1 1 1-1 1 2 1-3 1 0 1 2 1-2 1 0 1 1 1 1 1-2 1 0 1 2 1-1 1 1 1-2 1 0 1 0 1 0 1 1 1-1 1 0 1 0 1 0 1 1 1 0 1 1 1-1 1 0 1-1 1 1 1-1 1 0 1 0 1 0 1 1 1-1 1 2 1-2 1 0 1 0 1 2 1 0 1-2 1 4 1-3 1-1 1 2 1-1 1-1 1 0 1 0 1 0 1 1 1-1 1 0 1 0 1 0 1 1 1-1 1 2 1-2 1 1 1 0 1-1 1 1 1-1 1 0 1 0 1 0 1 0 1 2 1-2 1 2 1-2 1 0 1 0 1 0 1 0 1 1 1-1 1 1 1 0 1-1 1 1 1 1 1-2 1 2 1-2 1 0 1 0 1 2 1-2 1 0 1 1 1 1 1-1 1 0 1-1 1 0 1 0 1 0 1 0 1 2 1-2 1 2 1 0 1-2 1 3 1-1 1 0 1 1 1-3 1 0 1 0 1 1 1 1 1 0 1-1 1 1 1-2 1 0 1 0 1 0 1 0 1 0 1 0 1 0 1 0 1 1 1-1 1 0 1 0 1 1 1-1 1 0 1 2 1-1 1-1 1 1 1 1 1-2 1 2 1-2 1 0 1 2 1-1 1-1 1 0 1 0 1 4 1-3 1-1 1 1 1 1 1-1 1-1 1 0 1 1 1-1 1 1 1 0 1-1 1 0 1 0 1 0 1 0 1 1 1-1 1 0 1 3 1-3 1 0 1 0 1 0 1 1 1-1 1 0 1 2 1 0 1-2 1 0 1 0 1 0 1 2 1-2 1 1 1-1 1 0 1 0 1 1 1-1 1 0 1 1 1 0 1-1 1 0 1 0 1 0 1 0 1 1 1-1 1 2 1 0 1-2 1 4 1-3 1 1 1-1 1-1 1 0 1 0 1 4 1-3 1-1 1 2 1-2 1 0 1 1 1 1 1-1 1-1 1 1 1-1 1 2 1-1 1 0 1-1 1 0 1 1 1-1 1 0 1 1 1-1 1 0 1 0 1 0 1 0 1 0 1 0 1 0 1 0 1 1 1-1 1 1 1 0 1 0 1-1 1 0 1 0 1 2 1 0 1-2 1 2 1-2 1 0 1 1 1 0 1-1 1 1 1 1 1-1 1 1 1-1 1 0 1 0 1-1 1 2 1-2 1 0 1 2 1-2 1 0 1 0 1 0 1 0 1 0 1 1 1-1 1 2 1-2 1 0 1 1 1-1 1 0 1 0 1 0 1 0 1 0 1 1 1 0 1 0 1 0 1 1 1-2 1 1 1 0 1 0 1-1 1 1 1-1 1 0 1 0 1 1 1 2 1-3 1 0 1 2 1-2 1 0 1 0 1 1 1 1 1 0 1-2 1 2 1-1 1 0 1-1 1 0 1 1 1 1 1 0 1-2 1 0 1 2 1-1 1 1 1-2 1 0 1 0 1 1 1 1 1-2 1 2 1-2 1 0 1 0 1 0 1 0 1 0 1 0 1 1 1-1 1 0 1 1 1-1 1 2 1-2 1 0 1 1 1 0 1-1 1 2 1-1 1-1 1 0 1 2 1-2 1 2 1-1 1-1 1 1 1-1 1 2 1-2 1 0 1 0 1 0 1 0 1 0 1 1 1-1 1 1 1-1 1 0 1 0 1 1 1-1 1 0 1 0 1 1 1-1 1 0 1 2 1-2 1 0 1 0 1 0 1 1 1 1 1-2 1 2 1-2 1 1 1 1 1-1 1 1 1-1 1-1 1 0 1 1 1 1 1-2 1 0 1 1 1-1 1 0 1 0 1 0 1 0 1 1 1-1 1 0 1 2 1-2 1 2 1-1 1-1 1 0 1 1 1 1 1 0 1-2 1 1 1-1 1 0 1 0 1 1 1-1 1 0 1 1 1 1 1-2 1 2 1 0 1-2 1 0 1 4 1-4 1 0 1 0 1 1 1 0 1-1 1 2 1-2 1 2 1-2 1 0 1 0 1 0 1 0 1 0 1 0 1 1 1-1 1 2 1-1 1 1 1-2 1 0 1 1 1-1 1 1 1 0 1 0 1-1 1 2 1-2 1 1 1-1 1 2 1-2 1 1 1 0 1 1 1-2 1 1 1 0 1 1 1-1 1-1 1 1 1 1 1 0 1-2 1 1 1-1 1 0 1 0 1 0 1 1 1 0 1 1 1 0 1-1 1-1 1 0 1 2 1 0 1 0 1-1 1 1 1 0 1-1 1-1 1 0 1 1 1-1 1 2 1-1 1 0 1 1 1 1 1-2 1 0 1 4 1-3 1-2 1 2 1-1 1 0 1 1 1-1 1-1 1 4 1-4 1 0 1 2 1-2 1 2 1 0 1 0 1-2 1 1 1 0 1 0 1 0 1 1 1 0 1-1 1 1 1-2 1 2 1 0 1-2 1 2 1-1 1-1 1 2 1 0 1 0 1 0 1-2 1 0 1 0 1 1 1 1 1 0 1-2 1 2 1-1 1 0 1-1 1 3 1-2 1-1 1 2 1 0 1-1 1-1 1 2 1 0 1 0 1 2 1-4 1 1 1 2 1 0 1-2 1 0 1-1 1 1 1 0 1 1 1-2 1 1 1-1 1 1 1-1 1 0 1 1 1-1 1 0 1 1 1 0 1 1 1-2 1 1 1 0 1 0 1-1 1 2 1-1 1 1 1-1 1 1 1 0 1 0 1-1 1 3 1-3 1 0 1-1 1 2 1-2 1 1 1 0 1-1 1 0 1 2 1-2 1 0 1 2 1-2 1 1 1-1 1 0 1 2 1-1 1-1 1 0 1 2 1-1 1 1 1-2 1 0 1 2 1-2 1 0 1 0 1 1 1-1 1 2 1 3 1-3 1-2 1 2 1-2 1 0 1 0 1 1 1 1 1-1 1-1 1 0 1 2 1-2 1 0 1 0 1 1 1-1 1 1 1 0 1-1 1 0 1 2 1-2 1 0 1 0 1 1 1 0 1-1 1 0 1 0 1 3 1-3 1 2 1 0 1-2 1 0 1 0 1 0 1 2 1-2 1 0 1 0 1 1 1-1 1 0 1 0 1 0 1 0 1 2 1 0 1-2 1 2 1-2 1 2 1-2 1 0 1 2 1-1 1 1 1 0 1 0 1-2 1 0 1 1 1 0 1 0 1 1 1-1 1 1 1 0 1-1 1-1 1 0 1 0 1 2 1-1 1-1 1 1 1 1 1 0 1-2 1 0 1 0 1 1 1-1 1 0 1 1 1-1 1 1 1 1 1-2 1 1 1-1 1 0 1 0 1 1 1-1 1 0 1 0 1 0 1 0 1 1 1-1 1 1 1-1 1 1 1-1 1 0 1 0 1 0 1 1 1 0 1 1 1-1 1 1 1-2 1 0 1 1 1-1 1 1 1 1 1-2 1 1 1 0 1 1 1-2 1 2 1-2 1 2 1-2 1 0 1 2 1-2 1 0 1 0 1 1 1 2 1-3 1 1 1-1 1 1 1-1 1 0 1 2 1 0 1-1 1-1 1 1 1-1 1 1 1-1 1 0 1 0 1 2 1-2 1 1 1 1 1-2 1 1 1-1 1 0 1 0 1 0 1 0 1 1 1 0 1 1 1 0 1 0 1 0 1-1 1-1 1 0 1 0 1 0 1 2 1-2 1 0 1 2 1-2 1 0 1 0 1 1 1-1 1 2 1-2 1 0 1 0 1 0 1 1 1 0 1-1 1 0 1 2 1 1 1-1 1 1 1-1 1-2 1 2 1-1 1-1 1 2 1-2 1 4 1-2 1 0 1-1 1 0 1 0 1 1 1-2 1 0 1 0 1 2 1 2 1 0 1-4 1 2 1 0 1 0 1 2 1-2 1-1 1 0 1-1 1 1 1-1 1 2 1 0 1 1 1-3 1 0 1 0 1 3 1-2 1-1 1 0 1 2 1-2 1 2 1-2 1 2 1-2 1 1 1 0 1-1 1 0 1 1 1 1 1 0 1-1 1 1 1 0 1-2 1 0 1 0 1 1 1 1 1-2 1 1 1-1 1 0 1 1 1 0 1 1 1-2 1 0 1 0 1 2 1 0 1-1 1 0 1-1 1 2 1 0 1-2 1 0 1 0 1 0 1 0 1 2 1 0 1 0 1-2 1 1 1 0 1-1 1 1 1 2 1-1 1-2 1 0 1 0 1 2 1 2 1-3 1 1 1-2 1 2 1-2 1 2 1 0 1 0 1-2 1 1 1 1 1 0 1 0 1-1 1-1 1 0 1 0 1 0 1 0 1 1 1-1 1 3 1-3 1 1 1 1 1-2 1 2 1 0 1 0 1 0 1-1 1 1 1-2 1 1 1-1 1 2 1-2 1 2 1-1 1 0 1 1 1-1 1 1 1 0 1-2 1 1 1 1 1 0 1 0 1-1 1-1 1 0 1 0 1 0 1 2 1-2 1 1 1 0 1 2 1 0 1-1 1-1 1 1 1 0 1-1 1 3 1-2 1 0 1-2 1 1 1 3 1-2 1-2 1 1 1 1 1 0 1-2 1 2 1-1 1 0 1 1 1 3 1 1 1-3 1-1 1-1 1 0 1 1 1 0 1-2 1 0 1 3 1-1 1 0 1-1 1-1 1 2 1 0 1-1 1-1 1 2 1-1 1 0 1-1 1 2 1-1 1 1 1 0 1-1 1-1 1 2 1 0 1-2 1 0 1 2 1 0 1-2 1 0 1 1 1 1 1-1 1 1 1-2 1 1 1 1 1-2 1 2 1 0 1-1 1-1 1 1 1 1 1 0 1-2 1 2 1 0 1-2 1 0 1 2 1 0 1-2 1 0 1 0 1 0 1 0 1 1 1 0 1 1 1-1 1 0 1-1 1 2 1-1 1-1 1 2 1 0 1-1 1 0 1-1 1 4 1-2 1-2 1 2 1-2 1 1 1-1 1 0 1 0 1 0 1 0 1 0 1 0 1 0 1 2 1-2 1 0 1 5 1-5 1 0 1 0 1 2 1 0 1 0 1-2 1 0 1 1 1-1 1 0 1 1 1-1 1 1 1-1 1 0 1 1 1-1 1 2 1-2 1 1 1-1 1 0 1 0 1 0 1 1 1 0 1 0 1 3 1-3 1-1 1 0 1 2 1-1 1 0 1-1 1 2 1 1 1-1 1-2 1 1 1 1 1-1 1 0 1 1 1-2 1 0 1 0 1 0 1 2 1-1 1 1 1 0 1 1 1-3 1 0 1 2 1-1 1 0 1 0 1-1 1 0 1 1 1-1 1 0 1 1 1 1 1-2 1 1 1-1 1 2 1-1 1-1 1 0 1 0 1 0 1 2 1-2 1 4 1-4 1 2 1-2 1 1 1 0 1 1 1 0 1-2 1 0 1 2 1-2 1 0 1 0 1 1 1 1 1-2 1 0 1 1 1-1 1 0 1 0 1 0 1 0 1 1 1-1 1 2 1-1 1-1 1 0 1 0 1 1 1-1 1 1 1-1 1 0 1 0 1 0 1 0 1 0 1 1 1 0 1-1 1 0 1 1 1-1 1 0 1 0 1 0 1 2 1-2 1 0 1 2 1-2 1 0 1 0 1 0 1 0 1 0 1 0 1 0 1 1 1-1 1 0 1 2 1-2 1 1 1-1 1 0 1 2 1-2 1 2 1-1 1 1 1-2 1 0 1 1 1 0 1 1 1 0 1 0 1-2 1 0 1 1 1 1 1 0 1-2 1 0 1 0 1 0 1 1 1-1 1 0 1 2 1-1 1 0 1 1 1-2 1 0 1 0 1 2 1-2 1 1 1-1 1 2 1-2 1 1 1-1 1 2 1-2 1 1 1-1 1 0 1 0 1 0 1 0 1 0 1 0 1 2 1-2 1 0 1 0 1 0 1 2 1-2 1 1 1-1 1 2 1-1 1-1 1 0 1 0 1 0 1 0 1 2 1-1 1 0 1-1 1 1 1 1 1-2 1 0 1 1 1-1 1 0 1 0 1 0 1 0 1 2 1-1 1 0 1 0 1 1 1 0 1-1 1 1 1 2 1 2 1-3 1-2 1 0 1 1 1-1 1 1 1-1 1-1 1 1 1 1 1-1 1-1 1 0 1 1 1-1 1 0 1 2 1-2 1 0 1 1 1 1 1-2 1 0 1 2 1-2 1 0 1 0 1 0 1 0 1 0 1 0 1 0 1 0 1 2 1 0 1-1 1 1 1-2 1 1 1-1 1 1 1-1 1 0 1 1 1 0 1 0 1 0 1 0 1 0 1 1 1 0 1 0 1 0 1 1 1 1 1 0 1 1 1 1 1 0 1 1 1 5 1 5 1-6 1-4 1-1 1-2 1 1 1 0 1 3 1 4 1 3 1-5 1-4 1-1 1-2 1 0 1-1V0" fill="#0000ff" stroke="#00008b" stroke-width="0.85" vector-effect="non-scaling-stroke"/></g>
<path d="M259 1650.5H270.5M259 1789.5H270.5" fill="none" stroke="#333" stroke-width="1"/>
<path d="M270.5 1650.0V1790.0" stroke="#858575" stroke-width="1"/>
<text x="252.4" y="1653.3" class="ax">18</text>
<text x="252.4" y="1792.1" class="ax">0</text>
<text x="74" y="1725.7" class="nm">GSM5550307</text>
<g transform="translate(271.0 1943.0) scale(0.33333 -11.58333)"><path d="M0 0V0l1 1 1 0 1 0 1 0 1 3 1-2 1 1 1-3 1 0 1 3 1-2 1 1 1 1 1-2 1 0 1 2 1 0 1-1 1 0 1 2 1-1 1-1 1 2 1-4 1 1 1-1 1 2 1 1 1-2 1 2 1-3 1 1 1 2 1 0 1-2 1-1 1 1 1 3 1-3 1 1 1 3 1-4 1 0 1 2 1-2 1 3 1-1 1-3 1 2 1 0 1-1 1 0 1 0 1 1 1 1 1-1 1-1 1 1 1 1 1-3 1 1 1 2 1-2 1 2 1-3 1 3 1 0 1-3 1 0 1 1 1 2 1-3 1 3 1-1 1-2 1 2 1-1 1 2 1-3 1 3 1-2 1 1 1 0 1-1 1 1 1 1 1-2 1 2 1-1 1 0 1-1 1 1 1 0 1 0 1-2 1 1 1 1 1 1 1-3 1 1 1 2 1-1 1-2 1 2 1-2 1 1 1 1 1 0 1-1 1 2 1-2 1 1 1-1 1 3 1 0 1-1 1 0 1-3 1 3 1-1 1 1 1-3 1 0 1 0 1 0 1 0 1 2 1-1 1-1 1 0 1 1 1 2 1-1 1 2 1-4 1 2 1-1 1 1 1-1 1 1 1-2 1 0 1 1 1 1 1-1 1 3 1 0 1-1 1-1 1 2 1-2 1-1 1 0 1 0 1 1 1 2 1-3 1 1 1 3 1-4 1 1 1 0 1-1 1-1 1 0 1 0 1 0 1 1 1 0 1 0 1 0 1 0 1 1 1 0 1-1 1 2 1 0 1-2 1-1 1 4 1-3 1 1 1-1 1 3 1-2 1 0 1 1 1-2 1 0 1-1 1 2 1-1 1 1 1 1 1 1 1-4 1 2 1-2 1 3 1 1 1-3 1 1 1 3 1-2 1-2 1-1 1 1 1-1 1 0 1 0 1 2 1 4 1-4 1 0 1 2 1-4 1 1 1 4 1-4 1 2 1-2 1 3 1-3 1 1 1-2 1 1 1 0 1 0 1 0 1 0 1 1 1 1 1-2 1-1 1 1 1 0 1 0 1-1 1 1 1 3 1-1 1-3 1 1 1 1 1-2 1 1 1 0 1 2 1-2 1 2 1-2 1 0 1 1 1 0 1 1 1-1 1-1 1-1 1 1 1 0 1 2 1 0 1-2 1 0 1 0 1-1 1 3 1-3 1 1 1-1 1 1 1 3 1-4 1 3 1-1 1-2 1 1 1 3 1-3 1 1 1 1 1 0 1 0 1 0 1-1 1 1 1-3 1 2 1-1 1 1 1 2 1-3 1-1 1 4 1 0 1-3 1 1 1-2 1 2 1-2 1 3 1-3 1 6 1-4 1 1 1 2 1-2 1-3 1 0 1 1 1 0 1 0 1 1 1 2 1 1 1-4 1 0 1 0 1 5 1-2 1-4 1 2 1-1 1 2 1 0 1 0 1-1 1-1 1 0 1 0 1 2 1 0 1-2 1-1 1 3 1 1 1 0 1-1 1 0 1 1 1-4 1 2 1-2 1 0 1 0 1 2 1 3 1-1 1-2 1 0 1-1 1 0 1 1 1-1 1 3 1-3 1-1 1 5 1-5 1 3 1 0 1-3 1 2 1-2 1 3 1-2 1-1 1 1 1 0 1 3 1-4 1 3 1-3 1 1 1 0 1 1 1-1 1-1 1 0 1 0 1 0 1 3 1-2 1 0 1 1 1 0 1 0 1 0 1-1 1-1 1 3 1-1 1 0 1-1 1 0 1 0 1 0 1 1 1 0 1-2 1 0 1 1 1 0 1 1 1 2 1-4 1 3 1 1 1 0 1-4 1 0 1 1 1 3 1-3 1 4 1-5 1 0 1 2 1 1 1-2 1 1 1 0 1-1 1 1 1-1 1-1 1 3 1 0 1 1 1-1 1-2 1-1 1 0 1 2 1-1 1-1 1 2 1 2 1-2 1-2 1 0 1 3 1-2 1 2 1-2 1 0 1 0 1 3 1-2 1 0 1 0 1-2 1 0 1 0 1 0 1 0 1 0 1 3 1-1 1-1 1-1 1 2 1-1 1 0 1 3 1 1 1-5 1 0 1 1 1 2 1-2 1 1 1-2 1 2 1-1 1 0 1 0 1 2 1 2 1-3 1 1 1-1 1-2 1 2 1-1 1 1 1-1 1 2 1 0 1-1 1 1 1-2 1 0 1 3 1-3 1-1 1 0 1 3 1 0 1 1 1-3 1 0 1 2 1-2 1 2 1-2 1 2 1-2 1 3 1-1 1 0 1 0 1 1 1 2 1 1 1-3 1-1 1 3 1-5 1 0 1 2 1 0 1 0 1-2 1 0 1 1 1-2 1 2 1-2 1 0 1 4 1-3 1 2 1-3 1 0 1 1 1 2 1-3 1 2 1-1 1 0 1 1 1 1 1-1 1 1 1-2 1 1 1 3 1-2 1-2 1 2 1-3 1 2 1 0 1 0 1-2 1 5 1-1 1-2 1 1 1-3 1 0 1 1 1-1 1 2 1 3 1-3 1 0 1 1 1-3 1 1 1 1 1-1 1 0 1 0 1 3 1-2 1 1 1-1 1-1 1 0 1 0 1 1 1 1 1-1 1-2 1 2 1 2 1-1 1-2 1-1 1 2 1 0 1-2 1 0 1 3 1-2 1 0 1 1 1 0 1-2 1 5 1-4 1 2 1-1 1 0 1 0 1 4 1-4 1-2 1 0 1 2 1 1 1-2 1 4 1-4 1 0 1 2 1 3 1-4 1 1 1 0 1 0 1-2 1 0 1-1 1 1 1-1 1 3 1-1 1 0 1-1 1 0 1 3 1-1 1-1 1 2 1-1 1-3 1 7 1-6 1-1 1 4 1 0 1-2 1-1 1 0 1 0 1-1 1 1 1 2 1 0 1-2 1 2 1-2 1 0 1 0 1 1 1 1 1-1 1 2 1-4 1 1 1 2 1 1 1-2 1 0 1 0 1-2 1 0 1 3 1-2 1 1 1 0 1 1 1-1 1 1 1 2 1 2 1-2 1-2 1-1 1 1 1-2 1 0 1 3 1-3 1 2 1-1 1 2 1 1 1-2 1 2 1-4 1 1 1-1 1 1 1 2 1-4 1 1 1 2 1 0 1-2 1-1 1 4 1-3 1 1 1-1 1 3 1-3 1 0 1 0 1 0 1 0 1 2 1-2 1 0 1-1 1 1 1-1 1 3 1-2 1 1 1-1 1-1 1 2 1-2 1 0 1 2 1-2 1 2 1 1 1-2 1 0 1 1 1-1 1 4 1-4 1 3 1 0 1-2 1 0 1-1 1 0 1-1 1 1 1-1 1 5 1-4 1 0 1 2 1-2 1 3 1-3 1 0 1 0 1 1 1-1 1-1 1 1 1 0 1 1 1 2 1-2 1 2 1-3 1 0 1 0 1 2 1 0 1-2 1 0 1 1 1-2 1 2 1-1 1 4 1-5 1 1 1 0 1 0 1 0 1 2 1-1 1-1 1 1 1-1 1 0 1 3 1-2 1-1 1 0 1 2 1-2 1 2 1-3 1 1 1 2 1-1 1-1 1 1 1-1 1 1 1 2 1 2 1-1 1-1 1-2 1 0 1-1 1 2 1-1 1-2 1 2 1-2 1 2 1-2 1 4 1-4 1 0 1 2 1-1 1 1 1-2 1 3 1-3 1 1 1 1 1 0 1-1 1 1 1-1 1 3 1 3 1-7 1 0 1 2 1 0 1-1 1 2 1-2 1 1 1 0 1 1 1-2 1 2 1 0 1-2 1 1 1-2 1 3 1 6 1-5 1-1 1 1 1-1 1 0 1 0 1 1 1-2 1-1 1 0 1 2 1 1 1 0 1 2 1 3 1 1 1-3 1-2 1-1 1-1 1-1 1 1 1 0 1-1 1-1 1-1 1 6 1-5 1 1 1-2 1 2 1 0 1 0 1 0 1 0 1 0 1 0 1 1 1 0 1-2 1 2 1 0 1 1 1 4 1 1 1-4 1-1 1-1 1 1 1 3 1 2 1-3 1-2 1-2 1 0 1 2 1 1 1 0 1 0 1-1 1-2 1 0 1-2 1 3 1-2 1 1 1 3 1-2 1 1 1-4 1 5 1-4 1 1 1 0 1-2 1 3 1-2 1 1 1 1 1-1 1 1 1 1 1 2 1 2 1-4 1-1 1 0 1-1 1-1 1 0 1 0 1 0 1 2 1 2 1-4 1 1 1 1 1 0 1-2 1-1 1 2 1 0 1-1 1 0 1 0 1 0 1-1 1 1 1-1 1 5 1-1 1-2 1 2 1-3 1 3 1-1 1-2 1 2 1-2 1 1 1 1 1-3 1 1 1 0 1-1 1 0 1 2 1 1 1-1 1 0 1 0 1 0 1-1 1 0 1 0 1 0 1 1 1 1 1 0 1-3 1 3 1-1 1-2 1 2 1 1 1-3 1 0 1 3 1-3 1 2 1-1 1 1 1-1 1 0 1 0 1-1 1 0 1 0 1 0 1 0 1 1 1 0 1 0 1-1 1 6 1-6 1 1 1-1 1 1 1-1 1 3 1 1 1-1 1-2 1 2 1-2 1 0 1-1 1 2 1 0 1-2 1 3 1-2 1 0 1 0 1 1 1 0 1 0 1 1 1 1 1 2 1 1 1-3 1-1 1-1 1-1 1 1 1-1 1 2 1-1 1-1 1 2 1-2 1 0 1-1 1 1 1 1 1 0 1 0 1-2 1 1 1 0 1 0 1 1 1-1 1 0 1 1 1 3 1-3 1 3 1-5 1 1 1 1 1 0 1 0 1-1 1 1 1-1 1 0 1-1 1 3 1-3 1 2 1-1 1 3 1-4 1 2 1-2 1 1 1 0 1 3 1-1 1 0 1-1 1-1 1-1 1 1 1 3 1-3 1 2 1-2 1 2 1-2 1 1 1 1 1-2 1 3 1-2 1-2 1 2 1 1 1-1 1 0 1-1 1 0 1 2 1-2 1 0 1 4 1-3 1 0 1 0 1-1 1 2 1 0 1 1 1-3 1 0 1 3 1-3 1 1 1 3 1-1 1-3 1 1 1-1 1 0 1 1 1-1 1 0 1 1 1-2 1 2 1 0 1-2 1 2 1-1 1 3 1 1 1-4 1 1 1-1 1 0 1-1 1 1 1 2 1-2 1-1 1 4 1-2 1-1 1 2 1-3 1 4 1-1 1-3 1 3 1-1 1-1 1 1 1-1 1 0 1 0 1 0 1 0 1 0 1 0 1 1 1-1 1 2 1 0 1-1 1-2 1 2 1 0 1-1 1 1 1-2 1 1 1 0 1 1 1 0 1 0 1-1 1 2 1-1 1-1 1 0 1 2 1 2 1-2 1-3 1 2 1-1 1 0 1-1 1 0 1 3 1-1 1 1 1-2 1 1 1-2 1 3 1-3 1 0 1 2 1 1 1-2 1-1 1 2 1 1 1-1 1 0 1-1 1 2 1-1 1 0 1 2 1-3 1 0 1 2 1 0 1-1 1 0 1 2 1-3 1 1 1 0 1-1 1 0 1 2 1-2 1 2 1-1 1-1 1-1 1 3 1-3 1 2 1-1 1 1 1-2 1 3 1-2 1 2 1-2 1 0 1 1 1 0 1-1 1 0 1 1 1-1 1 4 1-4 1-1 1 2 1-2 1 0 1 3 1-2 1 1 1 0 1-1 1 3 1-2 1-1 1 1 1 0 1-1 1 1 1-1 1 1 1 1 1-1 1 3 1 0 1-4 1 2 1-3 1 0 1 2 1 1 1-2 1 1 1 1 1-2 1 1 1-2 1 2 1-1 1 4 1-5 1 4 1-4 1 3 1-3 1 4 1-2 1 0 1-1 1 1 1-1 1 2 1-1 1 0 1 0 1-1 1-1 1 3 1 0 1-2 1 0 1 0 1-1 1 1 1 1 1-2 1 1 1 0 1 1 1-1 1 1 1-2 1 0 1 1 1 3 1-1 1-1 1 0 1 1 1 0 1-1 1-1 1 1 1-1 1 0 1 2 1 1 1-1 1-3 1 1 1 2 1-1 1-2 1 0 1 4 1-1 1-1 1 0 1-1 1 2 1 0 1-1 1-1 1 0 1 2 1-1 1-1 1-1 1 2 1 0 1-1 1 1 1 1 1 0 1 2 1 2 1 2 1-3 1-2 1-1 1 0 1-1 1-1 1 6 1-5 1 1 1-2 1 0 1 1 1 4 1-2 1 0 1-3 1 0 1 2 1-1 1-2 1 5 1-2 1-2 1 0 1 2 1 1 1 0 1 2 1 2 1-2 1-2 1-1 1 3 1-2 1 2 1-3 1 0 1-2 1 1 1 3 1-3 1 0 1-2 1 1 1 0 1 2 1 1 1-1 1-1 1 1 1 0 1 0 1 1 1-4 1 4 1 1 1-3 1 0 1 0 1 0 1-1 1 0 1-1 1 2 1 0 1 0 1 0 1-2 1 2 1 2 1-2 1 0 1-1 1 0 1 3 1-4 1 0 1 0 1 4 1-4 1 2 1 0 1-1 1 0 1 1 1-2 1 0 1 0 1 2 1-1 1-1 1 4 1-3 1 0 1 2 1 0 1-3 1 0 1 0 1 1 1 0 1 0 1-1 1 0 1 1 1 0 1 1 1-2 1 1 1 6 1-6 1 0 1 1 1 0 1-1 1-1 1 3 1-3 1 0 1 1 1 0 1 2 1-2 1 0 1 0 1-1 1 0 1 3 1-1 1 0 1-2 1 1 1 1 1-1 1-1 1 1 1 0 1-1 1 2 1 0 1 0 1-2 1 2 1 1 1-2 1 1 1 0 1-1 1 0 1 2 1-3 1 1 1-1 1 0 1 2 1 2 1-4 1 0 1 1 1-1 1 2 1-1 1 2 1-2 1 1 1 0 1 3 1-5 1 0 1 0 1 2 1-1 1-1 1 1 1 1 1-2 1 1 1 1 1-1 1 0 1-1 1 4 1 0 1-4 1 0 1 1 1 0 1-1 1 3 1 3 1-6 1 0 1 1 1-1 1 1 1 0 1 0 1 0 1 1 1-2 1 0 1 0 1 0 1 2 1 0 1-2 1 1 1-1 1 3 1 0 1-1 1-1 1-1 1 0 1 0 1 0 1 2 1 0 1 2 1-3 1-1 1 1 1 0 1-1 1 2 1-1 1 1 1 2 1-4 1 1 1 0 1 0 1 1 1-1 1 2 1-2 1 2 1-2 1 1 1-1 1 1 1 0 1-1 1 1 1-1 1 3 1-4 1 1 1-1 1 2 1 0 1 1 1-2 1 1 1-1 1 0 1 0 1 6 1-2 1-4 1 0 1-1 1 1 1 0 1 1 1 2 1-4 1 0 1 4 1-3 1 0 1 1 1 2 1-1 1-2 1 0 1 2 1-2 1 1 1-1 1 1 1 2 1-3 1-1 1 1 1 1 1 2 1-3 1-1 1 3 1-2 1 0 1 2 1-1 1 0 1 2 1-1 1-1 1-1 1-1 1 1 1-1 1 2 1-2 1 1 1 1 1-1 1 0 1 0 1 2 1-2 1 0 1 2 1-2 1 2 1-1 1 1 1-3 1 3 1-2 1 1 1 0 1-2 1 2 1 0 1-2 1 1 1 1 1-2 1 0 1 1 1 0 1 1 1 0 1-2 1 0 1 3 1-2 1 0 1 0 1 0 1 2 1-2 1-1 1 1 1-1 1 0 1 0 1 1 1 1 1 1 1-1 1 0 1-2 1 1 1 2 1-3 1 1 1 1 1 0 1-1 1 0 1 5 1-3 1 0 1 0 1 1 1 0 1-2 1-1 1 0 1-1 1 2 1-2 1 2 1 1 1 1 1-3 1-1 1 1 1 2 1-2 1 1 1-1 1 2 1-2 1 0 1 1 1 0 1-2 1 1 1 2 1-1 1-2 1 0 1 2 1-1 1-1 1 2 1-1 1-1 1 0 1 2 1 0 1-1 1-1 1 3 1-3 1 2 1 1 1-2 1 2 1-1 1-1 1 4 1-5 1 5 1-4 1 1 1 1 1-1 1 1 1 0 1-2 1 1 1-2 1 1 1-1 1 1 1-1 1 2 1 1 1-2 1 1 1 2 1-1 1 1 1-1 1-1 1-1 1 1 1 2 1-3 1 3 1-2 1-2 1 4 1-3 1-1 1 0 1 1 1-1 1 1 1 1 1 0 1 0 1-1 1 1 1-2 1 1 1 1 1 0 1-1 1 0 1 0 1 0 1-1 1 1 1 0 1 0 1 1 1 0 1 0 1-1 1 0 1 0 1 1 1-2 1 3 1-3 1 0 1 0 1 0 1 2 1-2 1 2 1-2 1 0 1 0 1 1 1-1 1 2 1 0 1-1 1 0 1 0 1 0 1 0 1 0 1 1 1 0 1-1 1-1 1 2 1-1 1 0 1 1 1-1 1 1 1 0 1 0 1 0 1-2 1 1 1 2 1-3 1 1 1-1 1 1 1 0 1-1 1 0 1 1 1 0 1-1 1 0 1 0 1 0 1 1 1-1 1 0 1 0 1 1 1-1 1 0 1 0 1 0 1 1 1-1 1 0 1 1 1-1 1 0 1 0 1 0 1 0 1 3 1-2 1 0 1 0 1-1 1 1 1-1 1 0 1 0 1 0 1 0 1 0 1 0 1 0 1 0 1 1 1-1 1 0 1 6 1-6 1 0 1 1 1 0 1 0 1 0 1-1 1 0 1 0 1 0 1 1 1-1 1 0 1 0 1 2 1-1 1-1 1 2 1 4 1-4 1-2 1 0 1 1 1 2 1 1 1-3 1 2 1-2 1 0 1 0 1 2 1-2 1 1 1-2 1 0 1 2 1 0 1 0 1-2 1 1 1 2 1-1 1-2 1 3 1-3 1 1 1-1 1 2 1 0 1-1 1 0 1 1 1 2 1-3 1 0 1 1 1-2 1 2 1-1 1 0 1 1 1-2 1 1 1-1 1 3 1-1 1 3 1-1 1-1 1-3 1 0 1 3 1-2 1 0 1-1 1 1 1 1 1-1 1 0 1 1 1 0 1-2 1 3 1-3 1 4 1 0 1-4 1 3 1-1 1-2 1 0 1 2 1-2 1 1 1 2 1 0 1-1 1-2 1 1 1 0 1 1 1 0 1-2 1 2 1 2 1-2 1 1 1-1 1-2 1 1 1-1 1 3 1 0 1-2 1 0 1-1 1 1 1 3 1-3 1 1 1 0 1-2 1 1 1 2 1-2 1-1 1 3 1-1 1-1 1-1 1 1 1 1 1-2 1 0 1 0 1 2 1 0 1-2 1 0 1 1 1 1 1 3 1-4 1 1 1-1 1 0 1 1 1-1 1 1 1-2 1 3 1 0 1-2 1 2 1 0 1 1 1 4 1-3 1-2 1-1 1-1 1 1 1-2 1 0 1 0 1 2 1-1 1-1 1 2 1 0 1-2 1 3 1-1 1 1 1-3 1 0 1 1 1 0 1 0 1-1 1 1 1 1 1 0 1-2 1 0 1 0 1 3 1-3 1 0 1 1 1 0 1 1 1-2 1 0 1 4 1-2 1-2 1 4 1-3 1-1 1 1 1 1 1 0 1 1 1-1 1 0 1-1 1 0 1 0 1 0 1-1 1 0 1 1 1 0 1 1 1-1 1-1 1 4 1-3 1-1 1 1 1 2 1-2 1 2 1-2 1 2 1-2 1 0 1 2 1-2 1 0 1 1 1 3 1-2 1-1 1 1 1-2 1 3 1-3 1-1 1 2 1-2 1 0 1 2 1 0 1-1 1 1 1 2 1-1 1-1 1 0 1 0 1-1 1 1 1-1 1-1 1 1 1 0 1 0 1 1 1-1 1 1 1 0 1-1 1-1 1 1 1 0 1 0 1 1 1-1 1 2 1 6 1-8 1 0 1 0 1 1 1-2 1 1 1 0 1 2 1-3 1 3 1-2 1 1 1-2 1 1 1 0 1 2 1-2 1-1 1 1 1 4 1-4 1-1 1 1 1 1 1-2 1 2 1-1 1 2 1-2 1 0 1 1 1-2 1 1 1 1 1 2 1-2 1-1 1-1 1 3 1-3 1 2 1-2 1 0 1 2 1-1 1 0 1-1 1 0 1 4 1-1 1 0 1-3 1 2 1-2 1 1 1 0 1 5 1-3 1-2 1 1 1-2 1 0 1 1 1 0 1-1 1 1 1-1 1 1 1 0 1-1 1 1 1-1 1 1 1 1 1-1 1 1 1 2 1-4 1 2 1 1 1-3 1 1 1 0 1 1 1-1 1 1 1-1 1 0 1 1 1-1 1 3 1-1 1-2 1-1 1 1 1 1 1 0 1-1 1-1 1 0 1 0 1 1 1 1 1 0 1 0 1 0 1-2 1 1 1 0 1 2 1-1 1 1 1-3 1 1 1 0 1 2 1 4 1-6 1-1 1 0 1 2 1 0 1-1 1 0 1-1 1 1 1 0 1-1 1 2 1 1 1-3 1 1 1-1 1 0 1 3 1-2 1 4 1-3 1-1 1-1 1 1 1 1 1 1 1-2 1 1 1-1 1 0 1 0 1 0 1 1 1 0 1-1 1 0 1-1 1 1 1-1 1 5 1-4 1 1 1 0 1-2 1 2 1 1 1-1 1-1 1 0 1 0 1 0 1 0 1-1 1 1 1 0 1 1 1-1 1-1 1 0 1 1 1 0 1-1 1 1 1 0 1 0 1 1 1-1 1-1 1 0 1 2 1-1 1 0 1 5 1-4 1 0 1 2 1-1 1-1 1 0 1-1 1 1 1 2 1-2 1-1 1 1 1 0 1 0 1-2 1 2 1 0 1 0 1 5 1-7 1 0 1 1 1-1 1 2 1-2 1 2 1 1 1-2 1 1 1-1 1 0 1 0 1 0 1 0 1 2 1 0 1-1 1-2 1 0 1 1 1 0 1 1 1 0 1-1 1-1 1 0 1 1 1 0 1 0 1 2 1-3 1 1 1-1 1 0 1 3 1-3 1 1 1 0 1 1 1 3 1-2 1 0 1 0 1-3 1 1 1-1 1 1 1 0 1 4 1-5 1 2 1-1 1 0 1-1 1 2 1-2 1 0 1 0 1 0 1 2 1-2 1 0 1 4 1-3 1 0 1 1 1 1 1-2 1 1 1 1 1-3 1 4 1-4 1 0 1 1 1 1 1 0 1-1 1-1 1 0 1 0 1 4 1-3 1 0 1 1 1-2 1 1 1-1 1 0 1 1 1 0 1 0 1 0 1-1 1 0 1 2 1 2 1-3 1-1 1 0 1 0 1 1 1 1 1-1 1 1 1-2 1 2 1-2 1 1 1 0 1 4 1-5 1 0 1 2 1 1 1-1 1 0 1 0 1 0 1-2 1 1 1-1 1 0 1 1 1-1 1 0 1 2 1-1 1 0 1 2 1 0 1-2 1-1 1 0 1 1 1-1 1 0 1 0 1 1 1 1 1-1 1 0 1-1 1 0 1 0 1 1 1-1 1 1 1 1 1-1 1 0 1 1 1-1 1 0 1 2 1-3 1 0 1 1 1 0 1 3 1-2 1 1 1-1 1-2 1 1 1 1 1-1 1 1 1-2 1 2 1-1 1-1 1 1 1 3 1-3 1 2 1-2 1 3 1-4 1 1 1 1 1-1 1-1 1 2 1 0 1 1 1-2 1-1 1 0 1 2 1-1 1 1 1-2 1 1 1 0 1 2 1 0 1 1 1-3 1 0 1 0 1 0 1 1 1-1 1 1 1-2 1 2 1-2 1 1 1 0 1-1 1 3 1 0 1 0 1-3 1 3 1-2 1 2 1-3 1 0 1 2 1-1 1-1 1 0 1 1 1-1 1 3 1-1 1-2 1 1 1-1 1 2 1-2 1 0 1 0 1 1 1 1 1 0 1-1 1 1 1 1 1 1 1 3 1-4 1 0 1-1 1 4 1-5 1 1 1-2 1 3 1-1 1 2 1-3 1 1 1 0 1-2 1 2 1 2 1 1 1-4 1 0 1 0 1 0 1 0 1-1 1 2 1 2 1-1 1 1 1-1 1-2 1 0 1 1 1 1 1-2 1-1 1 1 1 0 1 0 1 2 1-2 1-1 1 2 1 0 1-1 1 0 1 0 1 0 1 2 1-1 1 0 1 3 1-5 1 2 1-1 1 0 1 5 1-6 1 1 1 2 1-2 1 0 1 1 1-1 1 0 1 1 1-2 1 1 1 2 1-3 1 2 1 0 1 0 1 1 1 0 1 4 1-2 1-2 1-1 1-1 1 1 1-1 1 1 1-2 1 1 1 1 1 1 1-2 1 0 1 0 1 1 1 0 1-1 1 0 1 1 1-1 1 0 1 0 1 1 1-1 1-1 1 2 1 0 1-1 1 1 1-2 1 2 1-1 1 1 1-2 1 1 1-1 1 0 1 1 1 3 1-3 1 0 1 0 1 1 1-1 1 0 1 1 1-1 1-1 1 0 1 3 1-1 1-2 1 0 1 3 1-1 1 1 1-2 1 0 1 0 1 2 1-2 1 1 1-2 1 2 1 2 1-3 1-1 1 2 1-1 1 0 1 0 1 0 1-1 1 2 1 0 1-1 1-1 1 1 1 2 1-2 1-1 1 5 1-5 1 3 1-2 1 0 1 0 1-1 1 0 1 1 1 5 1-4 1-2 1 1 1 0 1 1 1 1 1-1 1 0 1 0 1-1 1-1 1 0 1 1 1 1 1 1 1-2 1 2 1-2 1 0 1 1 1 1 1-3 1 3 1-1 1-2 1 1 1 0 1-1 1 0 1 2 1-1 1 0 1 1 1 0 1-1 1 1 1-2 1 5 1-4 1 1 1 0 1 3 1-3 1-1 1-1 1 1 1-1 1 0 1 2 1-2 1 2 1-1 1-1 1 2 1 0 1-1 1 1 1-1 1 0 1-1 1 1 1-1 1 1 1 0 1 0 1 1 1-1 1 1 1 0 1 0 1-1 1-1 1 0 1 5 1-1 1-4 1 3 1-3 1 0 1 1 1 0 1 2 1-2 1 0 1 1 1 0 1 2 1-1 1-3 1 2 1 0 1-2 1 1 1-1 1 1 1 1 1 0 1-2 1 1 1-1 1 0 1 2 1-2 1 2 1-1 1 0 1 0 1-1 1 0 1 1 1-1 1 0 1 1 1-1 1 0 1 0 1 2 1-1 1 0 1 3 1-2 1 0 1-1 1 0 1 2 1-3 1 2 1-1 1 0 1 6 1-4 1-3 1 1 1-1 1 5 1-3 1-1 1 0 1 0 1 2 1 2 1-3 1 1 1 0 1 0 1-3 1 1 1 2 1-2 1 0 1-1 1 2 1 0 1-1 1 1 1-2 1 2 1-1 1 1 1 0 1-2 1 2 1-1 1-1 1 4 1-4 1 3 1-2 1 1 1-1 1-1 1 1 1-1 1 1 1-1 1 1 1-1 1 0 1 7 1-7 1 5 1-5 1 0 1 2 1-2 1 1 1 0 1 0 1-1 1 5 1-5 1 2 1-1 1 2 1-2 1 2 1-1 1 1 1-1 1-2 1 1 1 0 1 0 1 0 1-1 1 1 1 1 1 0 1-1 1 1 1 0 1 0 1 0 1-2 1 1 1 0 1 0 1-1 1 2 1 0 1 0 1-1 1 1 1-1 1 0 1 5 1-6 1 2 1 0 1-1 1-1 1 1 1-1 1 1 1 0 1-1 1 0 1 0 1 1 1 0 1 0 1-1 1 2 1-1 1-1 1 2 1 0 1-1 1-1 1 3 1-3 1 0 1 3 1-2 1-1 1 1 1 0 1 2 1-1 1-1 1-1 1 2 1-2 1 3 1-2 1-1 1 0 1 0 1 2 1 0 1 2 1-2 1-2 1 0 1 1 1 0 1 0 1 0 1 0 1 0 1 1 1 1 1-2 1 0 1 1 1-1 1 0 1-1 1 1 1-1 1 3 1-2 1-1 1 2 1 0 1-1 1-1 1 1 1-1 1 2 1-2 1 1 1 1 1-2 1 2 1 0 1 1 1-1 1-1 1 1 1-1 1 5 1-5 1-1 1 1 1-1 1 2 1-1 1 1 1 0 1 0 1-1 1-1 1 1 1-1 1 1 1 0 1 0 1 1 1-2 1 3 1-1 1-1 1 0 1 1 1-2 1 0 1 2 1-1 1 0 1 0 1 1 1 0 1-1 1 1 1 1 1 4 1-5 1-1 1-1 1 0 1 1 1 1 1 1 1-3 1 0 1 2 1 0 1-1 1 0 1-1 1 3 1-2 1 0 1 0 1 2 1-3 1 0 1 2 1-2 1 2 1-1 1 0 1 1 1-1 1-1 1 1 1 1 1-2 1 1 1 6 1-6 1 0 1 0 1 1 1-1 1 0 1 0 1 1 1-2 1 7 1-5 1 0 1-1 1-1 1 5 1-4 1-1 1 1 1 0 1-1 1 1 1-1 1 2 1 2 1-2 1-1 1 0 1 0 1 1 1-2 1 2 1 2 1 1 1-4 1 0 1 0 1 2 1-3 1 2 1 1 1-2 1 1 1 3 1-5 1 2 1-1 1 0 1 0 1-1 1 3 1-3 1 2 1-2 1 2 1 0 1-2 1 1 1 0 1 1 1-1 1 0 1 1 1 0 1 0 1 1 1 2 1 2 1-3 1-2 1-1 1 0 1 0 1 1 1-1 1-1 1 0 1 0 1 3 1-1 1-2 1 0 1 0 1 0 1 0 1 3 1-2 1 2 1-2 1 0 1 0 1 0 1 1 1 0 1 0 1 0 1-1 1-1 1 1 1-1 1 1 1 0 1 0 1-1 1 1 1 1 1 0 1-1 1 0 1 0 1 1 1-1 1-1 1 0 1 4 1-3 1 0 1 0 1 0 1 0 1-1 1 1 1 1 1-1 1 0 1 2 1-1 1 1 1-3 1 2 1-2 1 0 1 2 1-2 1 0 1 3 1-1 1-1 1 0 1 2 1-1 1-1 1 0 1 1 1 0 1 0 1 0 1-2 1 1 1 1 1-2 1 0 1 0 1 2 1 2 1-4 1 1 1 1 1-1 1-1 1 0 1 1 1 1 1-1 1-1 1 1 1 0 1-1 1 2 1-2 1 1 1 1 1-2 1 0 1 0 1 0 1 0 1 2 1-2 1 1 1 1 1 0 1 0 1-1 1 1 1-1 1 0 1 2 1-3 1 2 1 1 1 0 1-2 1 2 1-2 1 1 1-2 1 1 1 0 1-1 1 1 1 1 1-2 1 1 1 1 1-2 1 3 1-1 1 0 1-1 1-1 1 2 1-2 1 4 1-4 1 2 1 1 1 0 1 0 1-2 1 0 1 0 1 1 1 0 1 0 1-1 1 0 1 2 1 0 1 0 1 1 1 1 1 2 1 3 1 2 1-3 1-2 1-2 1 0 1-3 1 0V0" fill="#0000ff" stroke="#00008b" stroke-width="0.85" vector-effect="non-scaling-stroke"/></g>
<path d="M259 1804.5H270.5M259 1943.5H270.5" fill="none" stroke="#333" stroke-width="1"/>
<path d="M270.5 1804.0V1944.0" stroke="#858575" stroke-width="1"/>
<text x="252.4" y="1807.3" class="ax">12</text>
<text x="252.4" y="1946.1" class="ax">0</text>
<text x="74" y="1879.7" class="nm">GSM5550306</text>
<g transform="translate(271.0 2097.0) scale(0.33333 -8.17647)"><path d="M0 0V1l1-1 1 1 1 1 1-2 1 2 1-2 1 0 1 0 1 1 1-1 1 0 1 0 1 3 1-1 1-2 1 1 1 0 1-1 1 1 1 0 1 0 1 0 1 2 1-3 1 0 1 1 1 2 1 1 1-3 1-1 1 1 1 1 1-2 1 1 1 1 1-2 1 0 1 0 1 0 1 2 1-2 1 0 1 0 1 0 1 1 1-1 1 0 1 0 1 0 1 0 1 0 1 0 1 0 1 0 1 1 1-1 1 1 1 2 1-3 1 0 1 1 1 0 1 1 1-1 1 0 1 0 1-1 1 0 1 0 1 1 1-1 1 4 1-4 1 1 1 1 1-2 1 4 1-4 1 1 1 0 1-1 1 0 1 2 1 1 1-3 1 0 1 0 1 0 1 0 1 0 1 1 1-1 1 0 1 1 1 0 1 0 1 2 1 1 1-2 1 2 1 2 1 1 1-3 1-2 1 0 1-1 1 0 1 0 1 0 1 3 1-3 1 2 1-3 1 1 1-1 1 0 1 0 1 0 1 1 1-1 1 0 1 0 1 0 1 1 1-1 1 1 1-1 1 1 1 0 1-1 1 0 1 0 1 0 1 0 1 1 1 0 1 1 1-1 1 0 1-1 1 0 1 2 1 0 1-2 1 2 1-2 1 1 1-1 1 0 1 0 1 0 1 0 1 0 1 0 1 0 1 0 1 1 1 0 1 2 1-3 1 0 1 0 1 1 1-1 1 1 1 2 1-1 1-1 1-1 1 4 1-4 1 0 1 0 1 3 1-2 1 0 1-1 1 0 1 0 1 0 1 3 1 1 1-3 1 1 1-1 1 2 1-1 1-1 1 1 1-2 1 1 1 1 1 1 1-1 1 1 1-1 1 2 1-3 1 0 1-1 1 2 1-1 1-1 1 0 1 2 1-2 1 0 1 0 1 0 1 1 1-1 1 4 1-3 1 0 1-1 1 4 1-4 1 4 1-3 1 2 1-2 1-1 1 1 1-1 1 0 1 2 1-1 1 1 1-2 1 0 1 3 1 0 1-3 1 1 1-1 1 0 1 0 1 1 1 0 1-1 1 1 1 0 1 0 1 1 1 0 1 0 1-2 1 1 1 2 1 0 1-1 1-1 1-1 1 2 1 1 1-2 1 0 1 0 1-1 1 0 1 0 1 0 1 0 1 1 1 0 1 1 1 1 1-3 1 0 1 1 1-1 1 0 1 0 1 0 1 0 1 1 1-1 1 0 1 0 1 2 1 0 1-2 1 3 1-3 1 0 1 1 1 1 1 0 1-1 1-1 1 7 1-6 1 2 1-2 1 0 1-1 1 0 1 0 1 0 1 1 1-1 1 0 1 4 1-4 1 0 1 0 1 0 1 2 1 2 1-3 1-1 1 0 1 0 1 2 1 0 1 1 1-1 1-2 1 0 1 1 1 2 1-3 1 0 1 0 1 0 1 0 1 1 1-1 1 3 1-2 1 2 1-2 1 1 1 0 1-1 1-1 1 3 1 0 1-1 1 0 1-2 1 2 1-2 1 0 1 0 1 0 1 1 1-1 1 1 1 0 1 1 1-1 1-1 1 2 1-2 1 2 1-2 1 2 1 0 1 0 1-1 1-1 1 0 1 0 1 1 1-1 1 1 1-1 1 0 1 0 1 0 1 0 1 2 1 0 1 0 1-2 1 0 1 0 1 1 1 2 1-3 1 1 1 0 1 1 1 1 1-2 1 3 1-2 1-2 1 0 1 1 1 2 1-3 1 0 1 4 1-3 1 1 1-1 1 0 1 1 1-1 1 0 1 0 1-1 1 2 1-1 1 3 1-4 1 1 1 1 1-2 1 0 1 0 1 0 1 1 1 0 1 0 1 1 1 2 1 2 1 3 1-1 1-3 1-2 1-1 1-1 1 2 1-2 1 1 1-2 1 0 1 0 1 0 1 0 1 0 1 2 1-2 1 0 1 0 1 5 1-5 1 1 1 1 1-2 1 1 1 1 1-1 1-1 1 1 1-1 1 0 1 0 1 2 1-1 1 0 1-1 1 1 1-1 1 1 1-1 1 1 1 0 1 0 1 0 1 1 1-1 1 0 1 0 1 0 1 0 1 0 1-1 1 0 1 0 1 0 1 0 1 0 1 1 1 0 1 1 1-1 1 1 1-1 1 0 1 0 1 1 1 0 1 2 1-3 1 0 1 0 1 0 1 2 1-2 1 2 1 0 1-2 1-1 1 2 1-1 1 2 1-1 1-1 1-1 1 0 1 2 1-2 1 0 1 1 1-1 1 1 1-1 1 1 1 1 1-1 1 4 1-4 1-1 1 1 1 1 1-1 1 1 1-1 1-1 1 0 1 0 1 0 1 2 1-2 1 0 1 0 1 2 1-1 1 0 1 0 1 1 1 0 1 1 1 1 1 3 1 1 1-2 1-2 1-1 1-1 1 0 1-1 1 1 1-1 1-1 1 3 1-1 1-2 1 1 1-1 1 1 1-1 1 0 1 2 1-1 1 3 1-1 1 0 1 1 1-3 1 1 1-1 1 1 1 1 1-2 1-1 1 3 1 0 1-2 1 1 1-2 1 0 1 1 1-1 1 2 1-2 1 5 1-4 1 0 1 0 1-1 1 1 1 0 1 2 1-3 1 4 1-3 1 0 1 0 1-1 1 0 1 0 1 1 1-1 1 0 1 1 1 2 1 1 1-3 1 3 1-3 1 1 1 0 1 0 1 1 1-1 1-1 1 3 1-4 1 6 1-5 1 0 1-1 1 0 1 4 1-2 1 0 1-1 1 2 1 4 1-5 1-2 1 0 1 0 1 1 1 1 1-1 1 0 1 1 1 0 1 1 1-2 1 0 1-1 1 1 1 0 1 1 1-2 1 3 1-2 1-1 1 1 1 3 1-3 1 1 1-1 1 1 1 1 1 0 1 1 1-3 1 3 1-1 1 0 1-1 1 0 1-1 1-1 1 2 1 1 1 0 1-2 1 3 1 0 1-2 1 0 1-2 1 1 1 0 1 0 1-1 1 0 1 0 1 1 1 0 1 5 1-5 1 0 1-1 1 7 1-6 1 3 1 0 1-2 1-1 1 0 1-1 1 0 1 0 1 0 1 0 1 0 1 1 1 1 1-2 1 2 1 0 1-2 1 2 1 0 1-1 1 2 1-3 1 1 1-1 1 6 1-5 1 0 1 3 1 0 1 0 1-4 1 2 1 3 1-3 1-1 1 0 1-1 1 0 1 0 1 4 1-3 1 1 1-2 1 2 1-1 1-1 1 1 1-1 1 4 1-2 1-2 1 4 1-3 1-1 1 3 1-2 1 0 1 0 1-1 1 3 1-2 1 0 1-1 1 1 1 1 1 0 1 0 1-2 1 2 1-1 1 1 1-2 1 0 1 1 1-1 1 0 1 0 1 0 1 2 1 1 1-2 1 0 1 0 1-1 1 0 1 0 1 1 1 0 1-1 1 3 1-3 1 2 1-2 1 0 1 0 1 0 1 0 1 1 1 0 1 0 1 3 1-2 1 2 1-3 1-1 1 0 1 0 1 0 1 0 1 4 1-3 1 1 1-2 1 1 1 0 1 3 1-1 1-1 1 2 1-3 1-1 1 1 1 0 1 2 1-2 1 1 1 0 1-2 1 0 1 1 1-1 1 0 1 0 1 2 1-1 1 1 1 0 1-1 1 0 1 2 1-2 1 2 1-1 1-1 1 5 1-4 1-2 1 2 1 6 1-4 1-3 1 0 1 3 1 3 1-5 1-1 1 0 1 3 1-4 1 2 1 1 1-2 1 1 1 0 1-1 1 0 1 7 1-4 1-2 1 0 1 2 1-3 1 2 1 0 1 0 1 0 1 4 1-3 1-2 1 1 1 1 1 2 1 0 1 5 1-5 1-2 1-1 1-1 1 4 1-4 1 0 1 0 1 3 1-1 1-2 1-1 1 3 1 0 1-4 1 2 1 1 1-1 1-2 1 4 1-2 1-1 1 1 1 1 1-2 1 1 1 0 1 1 1 5 1-2 1 2 1 3 1-5 1-1 1 1 1-3 1-1 1 1 1-1 1 3 1-3 1-1 1 5 1-1 1-1 1 0 1-3 1 3 1-3 1 1 1-1 1 0 1-1 1 0 1 0 1 5 1-3 1 0 1-1 1-1 1 1 1 0 1 0 1-1 1 2 1 0 1-1 1 0 1-1 1 1 1-1 1 1 1 0 1 0 1-1 1 0 1 0 1 0 1 0 1 5 1-4 1 2 1-2 1-1 1 0 1 1 1 2 1-3 1 2 1-2 1 3 1-3 1 3 1-1 1 0 1-2 1 1 1-1 1 0 1 1 1-1 1 0 1 2 1-1 1 2 1-3 1 0 1 0 1 0 1 0 1 0 1 0 1 0 1 1 1 0 1-1 1 3 1-2 1 2 1-2 1-1 1 2 1-2 1 0 1 0 1 0 1 1 1 0 1-1 1 1 1 1 1 1 1-1 1-2 1 2 1 1 1-2 1-1 1 3 1-1 1-1 1-1 1 1 1-1 1 4 1-4 1 0 1 4 1-2 1-1 1-1 1 0 1 2 1 0 1 0 1-2 1 2 1-1 1 1 1-1 1 0 1-1 1 1 1-1 1 2 1-2 1 1 1-1 1 0 1 0 1 2 1-1 1-1 1 0 1 0 1 2 1-1 1 0 1 0 1-1 1 0 1 1 1-1 1 1 1-1 1 1 1 0 1 0 1-1 1 2 1-2 1 4 1-2 1 0 1 0 1 1 1-2 1 0 1-1 1 3 1-3 1 0 1 0 1 0 1 0 1 2 1-2 1 0 1 4 1-3 1 1 1 0 1-1 1 0 1 1 1-1 1 1 1 2 1-3 1-1 1 0 1 1 1 0 1-1 1 0 1 0 1 0 1 1 1-1 1 0 1 0 1 1 1 0 1 2 1-3 1 0 1 3 1 2 1-1 1 0 1-2 1-1 1-1 1 0 1 0 1 1 1 0 1 0 1 1 1-2 1 1 1-1 1 0 1 1 1 1 1-2 1 3 1-2 1-1 1 1 1 0 1-1 1 1 1-1 1 0 1 0 1 2 1 0 1-1 1-1 1 0 1 1 1-1 1 0 1 0 1 1 1-1 1 1 1-1 1 0 1 1 1-1 1 3 1-2 1-1 1 4 1 2 1-1 1 3 1-8 1 0 1 1 1-1 1 2 1-1 1 1 1-1 1 0 1 1 1-1 1 2 1-3 1 0 1 0 1 1 1 2 1-1 1-1 1-1 1 2 1 0 1-1 1-1 1 1 1-1 1 1 1 2 1-1 1-2 1 0 1 0 1 1 1 2 1-3 1 1 1-1 1 3 1-1 1-1 1 1 1 1 1-2 1 0 1 0 1 0 1-1 1 1 1 0 1 0 1-1 1 1 1-1 1 0 1 2 1-1 1-1 1 1 1-1 1 0 1 0 1 1 1 1 1 0 1-2 1 0 1 1 1-1 1 0 1 3 1-2 1-1 1 0 1 2 1-1 1-1 1 0 1 2 1-1 1-1 1 0 1 1 1-1 1 1 1 5 1-5 1 0 1 1 1 0 1 1 1-1 1-1 1 2 1-1 1 2 1-2 1-1 1 5 1-1 1-2 1 0 1-1 1-2 1 1 1 0 1 0 1 0 1 3 1-4 1 1 1 0 1 1 1-2 1 0 1 3 1 1 1-2 1-1 1 2 1-3 1 0 1 0 1 0 1 1 1 0 1 0 1-1 1 0 1 0 1 0 1 3 1 0 1-3 1 0 1 2 1-2 1 0 1 0 1 0 1 1 1-1 1 0 1 0 1 0 1 0 1 0 1 1 1-1 1 2 1 0 1 1 1-2 1-1 1 1 1 5 1-5 1-1 1 0 1 0 1 2 1-2 1 0 1 0 1 0 1 1 1 1 1-1 1 0 1 3 1-1 1-2 1-1 1 2 1 3 1-4 1 2 1-3 1 0 1 1 1 0 1-1 1 0 1 0 1 1 1-1 1 0 1 1 1 1 1-2 1 0 1 0 1 1 1-1 1 0 1 0 1 0 1 1 1-1 1 0 1 0 1 0 1 1 1 0 1-1 1 1 1 0 1 0 1 0 1 1 1 0 1 0 1-1 1-1 1 2 1 0 1-2 1 4 1 0 1 1 1-2 1-1 1 5 1-4 1-1 1 1 1-1 1 0 1 1 1 0 1 2 1 1 1 3 1 2 1 1 1 5 1-5 1-3 1-4 1-1 1 0 1 0 1-1 1 1 1 0 1-3 1 1 1 1 1-2 1 7 1-1 1-5 1 0 1-1 1 1 1 1 1 0 1 2 1 1 1 5 1 0 1-3 1 1 1-3 1 0 1 0 1 0 1-4 1 2 1-3 1 5 1-1 1-3 1 1 1 2 1 0 1 0 1-3 1 1 1-3 1 0 1 0 1 0 1 0 1 4 1-1 1-2 1 0 1 0 1-1 1 0 1 0 1 0 1 0 1 0 1 1 1 0 1-1 1 1 1-1 1 0 1 1 1 1 1-2 1 1 1 1 1 0 1-2 1 5 1-3 1-1 1 0 1-1 1 0 1 3 1-1 1-1 1 3 1-3 1-1 1 3 1-2 1 0 1 0 1 0 1 0 1 1 1-1 1 3 1-1 1-1 1 0 1-1 1 0 1 2 1-2 1 2 1-3 1 0 1 1 1 0 1 0 1 0 1 1 1 0 1 1 1 2 1 1 1-1 1-2 1-1 1 0 1-1 1 1 1-1 1-1 1 1 1 0 1 1 1-2 1 0 1 1 1-1 1 1 1-1 1 3 1 0 1 2 1-5 1 0 1 0 1 1 1 1 1-1 1 0 1-1 1 1 1-1 1 0 1 2 1-2 1 0 1 0 1 0 1 0 1 2 1-1 1 3 1-4 1 1 1 0 1 0 1-1 1 1 1-1 1 0 1 1 1-1 1 0 1 0 1 2 1-1 1 1 1-1 1 3 1-1 1-2 1 2 1 0 1-2 1-1 1 1 1 0 1 0 1-1 1 3 1 1 1-4 1 0 1 0 1 0 1 1 1 0 1-1 1 0 1 0 1 0 1 1 1-1 1 0 1 1 1 0 1-1 1 1 1-1 1 0 1 3 1-3 1 1 1 0 1 0 1-1 1 3 1-2 1 0 1 6 1-5 1-1 1 1 1 2 1-3 1 0 1 2 1 0 1 1 1-4 1 1 1-1 1 0 1 1 1-1 1 0 1 0 1 1 1 2 1 0 1-1 1-1 1 0 1-1 1 0 1 0 1 2 1 0 1-1 1 0 1-1 1 1 1 3 1-2 1-1 1 1 1-2 1 0 1 1 1 0 1 0 1 1 1-2 1 1 1 1 1-2 1 0 1 0 1 3 1-2 1-1 1 0 1 4 1-4 1 1 1-1 1 0 1 0 1 2 1-1 1-1 1 2 1 0 1 2 1-1 1 1 1-2 1-2 1 0 1 0 1 1 1-1 1 0 1 0 1 0 1 1 1-1 1 1 1-1 1 1 1 0 1 2 1-3 1 0 1 2 1 4 1-5 1 1 1-1 1 0 1-1 1 1 1 0 1-1 1 1 1 1 1 0 1-2 1 0 1 2 1 0 1 0 1-1 1-1 1 1 1-1 1 2 1-1 1 2 1-3 1 1 1-1 1 1 1-1 1 0 1 1 1-1 1 1 1-1 1 2 1-2 1 0 1 0 1 0 1 0 1 0 1 1 1 1 1-2 1 0 1 0 1 0 1 1 1-1 1 2 1-1 1 0 1 0 1 1 1-1 1-1 1 1 1 0 1 2 1 0 1-2 1 1 1 0 1-1 1 0 1 0 1 1 1 0 1-1 1-1 1 3 1-3 1 1 1-1 1 0 1 2 1-2 1 0 1 0 1 1 1-1 1 0 1 0 1 0 1 1 1 3 1 0 1-3 1 1 1-2 1 2 1 0 1 3 1-5 1 1 1 0 1 1 1-1 1-1 1 0 1 0 1 0 1 1 1 1 1-2 1 4 1-4 1 0 1 0 1 0 1 0 1 0 1 2 1-1 1 0 1 1 1 3 1-5 1 2 1-1 1 3 1-4 1 2 1-2 1 1 1 2 1-3 1 4 1-4 1 0 1 1 1-1 1 1 1-1 1 0 1 0 1 1 1 1 1-1 1-1 1 0 1 1 1 1 1 0 1-1 1 0 1 3 1-4 1 0 1 0 1 0 1 2 1-2 1 1 1-1 1 0 1 1 1-1 1 1 1-1 1 0 1 0 1 0 1 1 1 2 1-3 1 1 1 1 1-2 1 1 1-1 1 1 1 0 1-1 1 0 1 1 1 0 1 0 1-1 1 1 1 3 1-3 1 1 1 0 1 0 1 0 1 2 1-2 1-2 1 2 1-1 1 0 1-1 1 2 1 0 1-2 1 2 1-1 1 0 1-1 1 0 1 2 1-2 1 0 1 4 1-2 1-1 1-1 1 0 1 3 1-2 1 0 1 1 1 1 1-1 1 0 1-2 1 3 1-1 1-2 1 0 1 0 1 1 1 2 1-3 1 0 1 0 1 0 1 1 1 0 1 1 1-2 1 0 1 0 1 1 1 0 1 0 1 0 1-1 1 0 1 1 1 0 1-1 1 0 1 1 1 0 1-1 1 1 1 4 1-4 1 0 1-1 1 1 1 2 1-3 1 2 1-2 1 1 1-1 1 2 1-2 1 0 1 0 1 3 1-1 1-1 1 0 1 0 1 0 1 1 1 0 1-2 1 0 1 1 1 0 1 1 1-2 1 2 1-1 1 0 1 1 1-2 1 0 1 0 1 1 1 0 1 1 1-2 1 0 1 0 1 0 1 1 1-1 1 1 1 0 1-1 1 1 1 0 1-1 1 1 1 2 1-2 1 1 1-1 1 1 1 0 1-1 1-1 1 2 1-1 1 1 1-1 1 0 1 0 1 1 1-2 1 1 1-1 1 3 1-2 1 1 1-2 1 0 1 2 1 0 1-2 1 0 1 0 1 3 1-1 1-2 1 0 1 0 1 0 1 1 1 1 1-1 1-1 1 1 1-1 1 0 1 0 1 0 1 0 1 0 1 2 1-2 1 0 1 0 1 0 1 0 1 0 1 5 1-3 1 2 1-2 1-1 1 0 1-1 1 2 1 2 1-3 1 1 1 0 1 1 1-2 1 0 1-1 1 1 1 1 1 0 1-2 1 4 1-2 1-2 1 2 1 0 1 0 1-1 1 0 1 1 1 0 1 0 1 1 1-1 1 0 1-2 1 0 1 5 1-5 1 4 1-2 1 1 1-3 1 0 1 0 1 0 1 1 1 0 1 2 1-1 1 0 1-2 1 4 1-4 1 2 1-2 1 2 1-1 1 1 1-1 1 0 1 1 1 1 1-3 1 1 1 0 1 0 1-1 1 0 1 1 1 0 1-1 1 1 1-1 1 2 1 3 1-3 1-1 1 1 1-1 1 1 1-1 1 0 1 0 1 1 1-2 1 1 1 1 1-2 1 3 1 1 1-4 1 0 1 0 1 0 1 2 1-2 1 0 1 1 1 1 1-1 1 0 1-1 1 1 1 0 1 1 1-2 1 0 1 0 1 2 1 0 1-2 1 1 1-1 1 1 1 0 1 0 1-1 1 0 1 0 1 0 1 1 1-1 1 2 1 0 1-1 1 0 1-1 1 1 1 2 1-2 1 3 1-4 1 0 1 5 1-3 1-2 1 2 1-2 1 2 1-2 1 0 1 0 1 0 1 0 1 1 1 0 1-1 1 0 1 1 1 0 1 1 1-1 1 2 1-1 1-2 1 0 1 0 1 0 1 2 1-1 1-1 1 0 1 1 1 0 1 2 1-2 1-1 1 1 1 0 1-1 1 2 1-1 1 0 1 1 1 0 1 0 1-1 1 3 1-3 1 0 1-1 1 1 1-1 1 1 1 1 1 1 1 0 1-2 1-1 1 4 1-1 1-3 1 0 1 0 1 0 1 1 1 3 1-3 1 3 1-4 1 1 1 3 1-4 1 2 1 0 1-1 1 5 1-6 1 0 1 1 1 0 1 0 1 1 1-1 1-1 1 0 1 0 1 1 1 0 1-1 1 3 1-1 1 1 1 1 1-4 1 2 1 0 1-1 1-1 1 0 1 0 1 0 1 1 1 0 1 1 1 0 1 1 1 4 1 1 1-3 1-2 1-1 1-1 1 1 1 0 1 1 1-2 1 4 1-4 1 2 1-3 1 2 1 0 1 3 1-3 1-1 1-1 1 4 1-4 1 5 1-5 1 1 1-1 1 2 1 0 1 0 1-1 1-1 1 0 1 2 1 2 1 0 1-3 1-1 1 6 1-5 1 0 1 0 1-1 1 2 1-2 1 0 1 0 1 1 1-1 1 0 1 2 1-2 1 1 1 0 1 0 1 0 1 0 1 1 1-1 1 1 1-2 1 3 1-3 1 0 1 1 1-1 1 0 1 3 1-3 1 3 1-3 1 0 1 0 1 1 1 0 1 0 1-1 1 0 1 1 1 0 1-1 1 0 1 0 1 1 1 1 1-1 1-1 1 0 1 0 1 3 1-3 1 1 1-1 1 1 1 0 1 1 1 1 1-2 1-1 1 1 1 1 1 1 1-1 1-2 1 1 1 1 1-1 1 0 1-1 1 2 1-1 1 0 1 0 1 0 1 1 1 0 1-2 1 1 1 0 1-1 1 6 1-6 1 1 1-1 1 0 1 0 1 1 1-1 1 0 1 0 1 1 1-1 1 0 1 0 1 0 1 1 1-1 1 2 1-2 1 2 1-2 1 0 1 0 1 1 1-1 1 1 1-1 1 1 1 3 1-2 1-1 1 4 1-5 1 0 1 3 1-2 1 2 1-2 1 1 1-1 1 0 1 0 1-1 1 1 1 3 1-3 1 0 1 1 1-1 1-1 1 0 1 0 1 0 1 1 1-1 1 1 1-1 1 1 1 1 1-2 1 0 1 0 1 1 1-1 1 0 1 0 1 0 1 1 1 0 1-1 1 0 1 1 1-1 1 0 1 1 1-1 1 0 1 0 1 2 1 1 1-2 1 0 1 0 1 2 1-1 1-2 1 2 1 0 1-1 1 3 1-2 1 4 1-6 1 3 1-3 1 3 1-1 1-1 1 5 1-2 1-2 1 0 1-2 1 2 1-2 1 0 1 1 1-1 1 4 1-2 1-2 1 1 1-1 1 0 1 2 1-1 1 0 1 3 1-1 1-1 1-2 1 0 1 0 1 0 1 1 1 0 1-1 1 1 1 0 1 0 1-1 1 1 1 2 1-2 1 0 1 0 1 0 1-1 1 2 1-1 1-1 1 1 1 0 1 4 1-3 1 0 1 0 1 2 1-4 1 3 1-1 1 1 1-2 1-1 1 1 1 1 1-2 1 0 1 1 1 1 1-2 1 0 1 0 1 0 1 1 1-1 1 1 1-1 1 1 1-1 1 0 1 0 1 0 1 0 1 1 1 2 1-2 1 2 1-2 1 0 1-1 1 0 1 1 1 0 1-1 1 0 1 0 1 0 1 1 1 0 1 3 1-4 1 0 1 1 1 2 1-2 1 0 1-1 1 1 1 2 1-3 1 0 1 1 1 0 1-1 1 0 1 1 1 0 1 0 1 0 1 0 1-1 1 0 1 0 1 0 1 0 1 1 1-1 1 1 1 0 1-1 1 0 1 0 1 0 1 0 1 2 1-1 1 4 1-4 1-1 1 0 1 1 1 0 1 0 1 0 1 1 1-1 1-1 1 1 1-1 1 0 1 0 1 0 1 2 1 3 1-2 1 0 1-2 1 1 1-2 1 3 1-2 1 4 1-4 1 1 1 0 1 0 1-1 1-1 1 0 1 2 1-1 1 4 1-3 1-1 1 0 1 1 1-1 1-1 1 0 1 1 1 0 1-1 1 1 1 0 1 0 1 0 1 0 1 0 1-1 1 0 1 2 1 1 1-1 1-2 1 3 1-3 1 6 1-6 1 0 1 0 1 0 1 0 1 0 1 0 1 0 1 0 1 0 1 1 1 0 1-1 1 0 1 0 1 0 1 2 1 0 1-1 1 2 1-3 1 1 1-1 1 0 1 0 1 2 1-2 1 2 1 0 1 0 1 1 1-3 1 0 1 2 1-1 1 0 1-1 1 2 1 0 1 0 1-2 1 1 1-1 1 1 1-1 1 0 1 1 1-1 1 0 1 0 1 0 1 0 1 1 1 0 1-1 1 0 1 3 1-1 1-1 1 2 1-3 1 0 1 2 1-1 1 0 1 1 1 1 1-2 1 1 1 3 1-5 1 2 1 2 1-3 1-1 1 0 1 1 1-1 1 1 1 0 1-1 1 2 1-1 1-1 1 1 1-1 1 2 1 0 1-1 1-1 1 0 1 2 1 0 1-2 1 3 1-1 1 1 1-1 1-1 1 0 1-1 1 0 1 1 1-1 1 6 1-6 1 4 1-4 1 0 1 2 1-2 1 0 1 0 1 0 1 0 1 0 1 0 1 0 1 0 1 0 1 1 1-1 1 0 1 2 1 1 1-1 1 0 1-2 1 2 1 0 1 3 1-4 1-1 1 2 1 0 1 0 1-2 1 2 1-2 1 1 1-1 1 0 1 1 1 0 1-1 1 0 1 1 1-1 1 1 1-1 1 0 1 0 1 2 1-2 1 1 1 3 1-3 1 0 1 0 1 1 1-2 1 1 1 0 1-1 1 3 1 1 1-2 1-1 1 2 1-3 1 2 1-1 1-1 1 0 1 1 1 0 1 2 1-2 1-1 1 0 1 0 1 0 1 0 1 1 1 2 1 0 1-1 1 0 1-2 1 2 1-2 1 1 1 0 1 5 1-4 1-2 1 0 1 1 1-1 1 1 1 0 1 0 1-1 1 0 1 4 1-2 1-1 1 2 1-1 1 4 1-4 1-1 1 0 1-1 1 0 1 4 1 1 1-5 1 0 1 1 1 0 1 3 1-1 1-2 1-1 1 0 1 0 1 2 1-1 1 0 1-1 1 1 1-1 1 1 1 3 1 0 1-4 1 0 1 1 1 0 1-1 1 1 1-1 1 4 1-3 1-1 1 2 1 2 1-1 1-2 1 1 1 3 1-2 1-2 1 1 1-1 1 1 1 2 1-3 1 0 1-1 1 0 1 2 1-2 1 0 1 1 1 0 1-1 1 0 1 1 1 1 1-1 1 3 1-2 1 0 1-2 1 0 1 2 1 3 1-5 1 1 1-1 1 2 1 0 1-1 1-1 1 2 1-2 1 4 1-4 1 0 1 1 1-1 1 1 1-1 1 2 1-1 1 0 1-1 1 0 1 2 1-1 1-1 1 0 1 0 1 1 1 2 1 0 1-1 1 1 1-1 1 0 1-2 1 1 1 1 1-1 1-1 1 0 1 0 1 2 1-1 1 1 1-1 1 4 1-5 1 1 1 0 1 4 1-5 1 0 1 0 1 2 1-2 1 3 1-1 1-1 1 0 1 1 1-2 1 0 1 0 1 0 1 1 1-1 1 0 1 2 1 1 1-2 1-1 1 1 1-1 1 0 1 1 1 2 1-2 1-1 1 0 1 0 1 1 1 0 1 0 1 0 1-1 1 1 1-1 1 1 1-1 1 1 1 0 1-1 1 2 1-2 1 3 1-3 1 1 1 3 1-2 1-2 1 1 1 1 1-2 1 3 1-1 1 1 1 1 1-2 1-1 1-1 1 2 1-2 1 0 1 1 1 1 1 1 1-2 1 0 1 2 1-1 1 1 1 0 1-3 1 0 1 0 1 1 1 1 1 1 1-1 1 0 1 0 1-1 1 2 1-1 1-1 1 0 1 0 1-1 1 4 1-3 1 2 1-3 1 0 1 1 1-1 1 0 1 2 1-1 1 2 1-2 1-1 1 0 1 1 1 1 1-2 1 1 1 0 1 0 1 0 1-1 1 1 1-1 1 0 1 0 1 0 1 1 1 0 1 2 1-1 1-1 1 0 1-1 1 0 1 0 1 0 1 0 1 0 1 0 1 0 1 0 1 0 1 1 1 0 1-1 1 1 1-1 1 2 1 4 1-6 1 2 1-2 1 0 1 0 1 0 1 1 1 0 1-1 1 1 1-1 1 1 1-1 1 2 1 1 1-3 1 1 1 0 1-1 1 1 1-1 1 2 1-2 1 1 1 0 1 1 1 2 1-3 1-1 1 0 1 0 1 0 1 1 1 0 1-1 1 0 1 0 1 0 1 0 1 1 1-1 1 0 1 2 1-1 1-1 1 1 1-1 1 1 1 0 1 1 1-2 1 0 1 0 1 0 1 1 1-1 1 0 1 0 1 0 1 1 1 0 1 1 1-1 1 0 1 0 1 0 1 0 1 0 1 0 1 3 1-3 1-1 1 1 1 0 1 1 1 0 1 0 1-2 1 0 1 0 1 0 1 1 1-1 1 4 1-2 1 0 1-1 1 1 1-1 1 1 1 0 1-1 1-1 1 1 1 0 1 0 1-1 1 0 1 0 1 1 1 0 1 0 1 2 1-1 1-2 1 2 1-2 1 0 1 0 1 1 1-1 1 2 1-2 1 0 1 0 1 0 1 1 1 0 1-1 1 5 1-4 1 0 1-1 1 1 1-1 1 2 1-1 1-1 1 0 1 0 1 1 1-1 1 0 1 0 1 1 1 0 1 0 1 1 1 0 1-1 1 0 1 0 1 0 1 2 1-2 1 2 1-2 1-1 1 1 1 0 1 0 1 2 1-1 1 1 1-1 1-2 1 1 1 3 1-3 1 0 1-1 1 1 1 0 1 0 1 0 1 1 1 0 1 2 1-4 1 1 1-1 1 0 1 0 1 1 1 0 1-1 1 0 1 2 1 0 1-2 1 2 1 2 1-2 1 0 1 1 1-1 1-2 1 1 1-1 1 3 1 0 1-1 1-2 1 1 1 0 1-1 1 2 1-2 1 1 1-1 1 0 1 3 1-2 1-1 1 1 1-1 1 0 1 0 1 2 1-2 1 0 1 0 1 2 1 0 1-2 1 0 1 0 1 0 1 0 1 0 1 0 1 0 1 0 1 0 1 0 1 0 1 0 1 1 1-1 1 2 1 1 1-3 1 0 1 2 1-2 1 1 1 0 1-1 1 1 1 1 1-1 1-1 1 0 1 1 1 0 1 1 1-2 1 1 1-1 1 2 1-1 1-1 1 1 1-1 1 0 1 1 1 0 1 0 1-1 1 3 1-2 1 1 1-2 1 3 1-1 1-1 1 0 1 3 1-3 1 0 1 2 1-3 1 1 1-1 1 0 1 1 1-1 1 2 1 0 1-2 1 1 1 0 1-1 1 1 1 1 1 0 1-1 1 0 1 1 1-1 1 1 1 0 1 0 1 1 1 2 1 1 1 0 1 3 1 0 1 2 1 5 1-4 1 0 1-3 1-3 1 0 1-1V0" fill="#0000ff" stroke="#00008b" stroke-width="0.85" vector-effect="non-scaling-stroke"/></g>
<path d="M259 1958.5H270.5M259 2097.5H270.5" fill="none" stroke="#333" stroke-width="1"/>
<path d="M270.5 1958.0V2098.0" stroke="#858575" stroke-width="1"/>
<text x="252.4" y="1961.3" class="ax">17</text>
<text x="252.4" y="2100.1" class="ax">0</text>
<text x="74" y="2033.7" class="nm">GSM5550305</text>
<g transform="translate(271.0 2251.0) scale(0.33333 -12.63636)"><path d="M0 0V1l1 0 1 0 1 0 1 5 1-5 1-1 1 2 1 0 1 0 1-1 1-1 1 1 1 0 1-1 1 1 1-1 1 0 1 3 1-1 1 0 1-1 1 2 1-2 1 2 1-1 1-2 1 0 1 1 1 1 1-2 1 2 1-1 1 2 1-2 1 1 1 0 1-1 1 1 1-2 1 1 1 4 1-5 1 1 1 1 1 0 1-1 1 3 1-3 1 1 1-1 1 2 1-2 1-1 1 1 1 0 1 0 1 1 1 4 1-5 1-1 1 0 1 2 1-1 1-1 1 1 1-1 1 0 1 1 1 0 1-1 1 1 1 0 1 0 1-1 1 0 1 1 1 0 1-1 1 0 1 3 1 0 1-3 1 0 1 2 1 1 1 3 1-5 1 2 1-2 1 0 1 0 1 1 1-2 1 1 1 0 1 2 1-2 1-1 1 0 1 0 1 3 1-1 1-2 1 0 1 1 1-1 1 2 1-2 1 0 1 2 1-1 1 0 1 0 1 0 1 0 1 2 1-2 1-1 1 1 1-1 1 0 1 0 1 0 1 2 1-2 1 0 1 0 1 3 1-2 1 0 1 1 1-1 1-1 1 1 1 0 1 0 1 0 1 1 1-2 1 0 1 0 1 0 1 2 1-2 1 1 1-1 1 1 1 2 1 0 1 3 1-6 1 2 1-1 1 2 1-2 1-1 1 1 1 0 1-1 1 3 1-3 1 3 1-1 1 0 1 2 1-2 1 0 1-2 1 2 1-1 1 1 1-1 1 0 1-1 1 1 1 1 1-1 1-1 1 1 1 0 1 0 1 0 1 0 1 1 1-2 1 1 1 0 1 0 1 1 1 4 1-5 1 0 1 1 1 0 1-1 1-1 1 2 1-2 1 3 1-3 1 1 1 0 1 0 1 5 1-5 1 0 1 0 1 2 1 1 1-3 1-1 1 1 1 1 1 0 1 2 1-1 1 0 1-2 1 0 1 0 1-1 1 0 1 1 1 1 1-2 1 0 1 2 1 1 1-3 1 1 1 0 1 0 1 0 1-1 1 0 1 2 1-2 1 0 1 0 1 1 1 3 1 1 1-2 1-1 1 0 1 0 1-1 1 1 1-2 1 1 1-1 1 1 1 0 1-1 1 1 1 4 1-4 1-1 1 0 1 2 1-1 1 0 1 2 1-3 1 2 1-1 1-1 1 1 1 1 1 0 1-1 1-1 1 0 1 1 1 1 1-1 1 2 1-2 1 3 1-4 1 0 1 0 1 1 1 1 1-2 1 0 1 1 1 0 1-1 1 1 1 2 1-3 1 3 1-1 1 1 1-1 1-1 1 2 1 0 1-1 1-1 1 1 1-2 1 1 1-1 1 3 1-2 1 6 1-7 1 1 1-1 1 1 1-1 1 0 1 0 1 1 1 2 1-3 1 0 1 2 1 3 1-1 1 2 1-5 1 0 1-1 1 4 1 0 1-2 1 1 1-3 1 0 1 4 1-3 1 1 1-2 1 1 1-1 1 5 1-4 1 0 1 0 1 0 1 0 1-1 1 1 1 4 1-5 1 0 1 2 1-2 1 5 1-3 1-1 1 0 1 0 1 1 1-2 1 1 1 0 1 0 1 0 1 0 1-1 1 4 1-3 1 0 1-1 1 4 1-4 1 1 1 0 1 0 1 0 1 0 1 1 1 1 1-1 1 0 1 2 1-2 1-2 1 1 1 0 1 1 1 0 1 2 1 2 1 2 1-4 1-1 1-1 1 0 1-1 1 1 1 0 1-2 1 3 1-1 1 2 1-3 1 0 1-1 1 2 1 0 1-1 1-1 1 0 1 2 1 2 1-3 1 1 1-2 1 0 1 1 1 1 1 0 1-2 1 0 1 3 1-1 1-1 1 2 1 0 1-2 1 1 1 3 1-4 1 1 1-1 1-1 1 0 1 3 1-2 1 1 1-1 1 0 1 0 1-1 1 1 1 0 1 0 1-1 1 1 1 0 1 0 1-1 1 0 1 0 1 1 1 2 1-2 1-1 1 2 1-2 1 0 1 1 1 1 1 0 1-2 1 3 1 0 1 0 1-2 1 1 1-1 1 2 1-3 1 3 1 1 1-3 1 0 1 1 1-1 1 0 1 1 1-2 1 0 1 0 1 0 1 1 1 1 1-2 1 3 1-1 1-1 1 0 1 0 1-1 1 3 1 0 1-2 1-1 1 1 1 1 1 0 1-1 1 0 1 0 1 1 1-1 1 1 1-2 1 0 1 1 1 1 1 2 1-4 1 2 1 0 1-2 1 1 1 1 1 0 1 7 1-9 1 2 1-2 1 0 1 0 1 1 1 1 1 1 1-2 1 1 1 1 1-1 1-2 1 0 1 3 1-3 1 1 1-1 1 2 1 1 1 0 1-1 1 7 1-7 1 0 1 2 1 1 1 3 1-3 1-2 1-1 1-1 1 0 1 7 1-7 1 2 1-3 1 4 1-3 1 0 1-1 1 2 1-1 1 2 1-2 1 0 1 2 1-3 1 1 1 1 1-1 1 1 1 1 1 0 1-2 1 0 1-1 1 3 1 1 1-4 1 2 1 1 1-2 1 1 1-1 1 0 1 0 1-1 1 0 1 1 1 0 1-1 1 1 1 0 1-1 1 1 1-1 1 3 1-2 1 0 1 0 1 1 1-1 1 1 1-1 1 3 1-1 1 1 1-4 1 3 1-2 1 0 1-1 1 1 1-1 1 0 1 1 1 0 1-1 1 0 1 1 1 0 1 0 1 2 1-2 1 2 1-2 1-1 1 0 1 1 1-1 1 0 1 0 1 1 1 0 1 0 1 1 1-1 1 1 1-2 1 0 1 0 1 0 1 2 1-2 1 0 1 1 1-1 1 0 1 3 1 1 1-4 1 0 1 0 1 5 1-3 1 0 1 0 1 0 1-1 1-1 1 4 1-1 1 1 1 0 1-2 1 0 1-1 1-1 1 2 1-1 1 3 1 0 1-3 1-1 1 0 1 1 1 0 1 0 1 1 1-2 1 3 1-3 1 2 1 0 1 1 1-3 1 4 1-3 1-1 1 2 1-1 1 3 1 0 1-4 1 1 1-1 1 0 1 2 1-2 1 3 1-3 1 3 1 5 1-8 1 0 1 3 1-1 1-2 1 0 1 2 1 1 1-2 1 1 1 2 1-4 1 1 1 1 1-2 1 1 1 3 1-2 1 1 1-1 1 0 1 0 1 2 1-3 1 0 1 0 1 0 1 0 1 1 1 0 1 0 1-2 1 1 1 0 1-1 1 2 1-2 1 5 1-1 1-3 1-1 1 0 1 1 1 2 1 2 1-1 1-3 1-1 1 1 1 0 1 0 1 4 1-5 1 1 1-1 1 1 1 1 1-1 1 0 1 0 1 0 1 4 1-4 1-1 1 0 1 1 1 0 1-1 1 2 1-2 1 1 1-1 1 3 1-2 1-1 1 0 1 2 1 4 1-5 1 0 1 1 1-1 1 1 1 2 1-3 1 0 1 0 1 0 1 0 1 0 1-1 1 4 1-2 1 0 1 0 1-2 1 1 1 2 1-2 1 0 1 0 1 2 1-2 1-1 1 1 1 0 1 2 1-2 1-1 1 2 1-2 1 3 1-2 1-1 1 1 1-1 1 1 1 0 1 0 1-1 1 0 1 0 1 0 1 0 1 2 1-2 1 0 1 2 1-1 1-1 1 2 1 1 1-2 1-1 1 5 1-5 1 0 1 3 1-1 1 0 1-2 1 1 1 1 1 0 1-1 1 0 1-1 1 3 1 0 1-1 1 2 1-3 1 0 1-1 1 0 1 3 1-2 1 2 1 0 1 5 1-7 1 2 1 0 1 0 1-3 1 1 1 1 1-1 1 1 1 1 1 0 1 3 1 2 1 0 1-5 1 0 1 0 1-1 1 1 1 1 1 0 1-1 1 0 1-1 1 1 1-2 1 0 1 0 1 0 1-1 1 1 1 0 1 1 1-2 1 2 1 0 1-1 1 0 1 2 1 0 1 2 1 3 1 0 1 3 1-4 1-3 1 0 1-1 1-1 1-1 1 1 1 5 1-4 1-2 1 0 1-1 1 1 1-1 1 5 1-5 1 1 1-1 1 0 1 1 1-1 1 3 1-3 1 4 1 2 1-4 1 0 1 2 1-3 1 2 1-3 1 3 1-3 1 1 1 1 1-1 1 4 1-3 1 1 1-2 1 2 1-3 1 3 1-2 1 1 1-1 1-1 1 0 1 0 1 1 1-1 1 0 1 1 1-1 1 0 1 2 1-2 1 0 1 1 1-1 1 1 1 0 1 4 1-3 1 0 1 1 1-2 1 1 1-2 1 2 1-1 1-1 1 0 1 1 1 1 1-2 1 0 1 1 1 3 1-3 1 0 1 0 1 0 1 0 1 0 1 1 1-1 1 1 1 1 1-2 1 0 1 0 1 2 1-3 1 0 1 2 1 1 1-2 1 0 1-1 1 1 1 1 1-1 1 0 1 1 1-1 1 0 1-1 1 0 1 2 1-1 1-1 1 0 1 1 1 2 1-1 1 3 1-3 1 0 1-1 1 3 1 0 1-4 1 2 1-1 1 0 1-1 1 0 1 1 1-1 1 1 1-1 1 2 1-2 1 1 1-1 1 1 1 1 1-2 1 1 1-1 1 0 1 8 1-8 1 2 1-1 1-1 1 1 1-1 1 2 1-2 1 1 1-1 1 0 1 1 1-1 1 0 1 3 1-3 1 0 1 2 1 0 1 1 1-2 1 1 1-1 1 1 1-1 1 0 1 1 1 0 1-1 1-1 1 0 1 0 1 0 1 1 1-1 1 0 1 7 1-5 1-2 1 5 1-2 1-3 1 1 1 0 1 0 1-1 1 0 1 1 1 0 1 2 1-3 1 0 1 0 1 0 1 0 1 9 1-9 1 3 1-2 1 0 1 0 1 1 1 1 1 2 1 2 1-1 1-2 1-2 1 0 1-1 1 0 1 0 1 1 1-2 1 0 1 2 1 0 1 0 1-2 1 1 1-1 1 0 1 1 1 1 1 0 1 1 1-2 1-1 1 0 1 1 1-1 1 1 1 2 1-1 1 0 1-2 1 0 1 0 1 3 1-1 1-1 1 1 1-1 1 0 1-1 1 1 1-1 1 0 1 0 1 0 1 0 1 2 1-1 1 0 1 0 1 0 1 1 1-2 1 3 1-3 1 2 1-2 1 0 1 3 1 0 1-3 1 1 1-1 1 1 1 0 1 0 1-1 1 0 1 0 1 0 1 0 1 0 1 1 1-1 1 0 1 0 1 1 1 1 1-1 1-1 1 3 1 0 1-2 1 0 1 0 1-1 1 0 1 0 1 3 1-3 1 2 1-2 1 1 1-1 1 1 1-1 1 1 1 0 1-1 1 0 1 1 1 1 1 4 1-6 1 0 1 2 1-1 1 0 1 0 1 1 1-2 1 1 1 0 1 0 1 1 1-2 1 1 1-1 1 2 1-2 1 0 1 1 1 0 1 0 1 1 1-2 1 5 1-4 1-1 1 1 1-1 1 0 1 2 1 0 1-1 1 0 1 0 1 1 1-1 1 2 1-2 1 2 1 0 1-2 1 0 1 0 1-1 1 0 1 0 1 4 1-2 1 0 1 1 1-1 1-2 1 0 1 1 1 0 1-1 1 0 1 2 1 1 1-3 1 1 1 0 1 2 1-3 1 3 1-2 1 2 1-3 1 0 1 2 1 0 1-1 1 1 1-1 1 0 1-1 1 2 1 0 1-1 1 4 1-5 1 1 1 4 1-2 1-3 1 1 1 2 1-1 1-1 1 1 1 0 1-1 1 1 1 1 1-2 1 3 1-4 1 2 1 1 1 0 1 1 1-2 1-1 1 1 1-1 1 2 1 1 1 2 1 1 1-3 1-2 1 0 1 0 1 0 1 0 1 1 1-2 1 0 1 0 1 1 1-2 1 1 1-1 1 1 1 0 1 0 1-1 1 1 1 0 1 2 1-3 1 1 1 0 1-1 1 0 1 3 1-3 1 3 1-1 1 1 1-1 1 0 1 1 1-3 1 2 1-1 1-1 1 1 1 2 1-2 1 2 1-1 1-1 1 1 1-1 1-1 1 2 1-1 1 0 1 0 1 1 1-1 1 1 1 0 1 0 1 2 1 1 1 2 1-3 1-1 1-1 1 1 1-2 1 0 1 1 1 0 1-1 1 2 1-1 1-1 1-1 1 2 1 4 1 1 1-3 1-2 1-2 1 2 1 2 1-2 1 1 1 1 1-2 1 0 1 1 1-2 1 2 1-3 1 2 1 0 1 0 1 1 1 1 1-4 1 0 1 3 1 0 1 0 1 0 1-2 1 0 1 1 1 2 1-3 1 1 1 0 1 1 1 0 1 0 1-1 1 0 1-1 1-1 1 1 1 4 1-3 1-1 1 1 1 1 1 2 1-1 1-3 1 6 1-5 1 0 1-1 1 0 1-1 1 1 1-1 1 0 1 1 1-1 1 1 1 1 1-2 1 3 1-3 1 2 1 2 1-3 1 0 1 0 1 3 1-3 1 0 1 0 1 0 1-1 1 1 1-1 1 0 1 1 1 1 1-1 1 0 1 0 1-1 1 1 1-1 1 3 1 1 1-3 1 1 1-1 1 0 1-1 1 3 1-1 1 3 1-4 1-1 1 1 1 1 1 0 1-2 1 0 1 0 1 0 1 1 1 1 1 2 1-2 1 3 1-4 1 0 1-1 1 2 1 0 1-1 1 0 1 0 1 1 1-2 1 2 1-2 1 2 1-2 1 4 1-2 1-2 1 0 1 0 1 2 1 1 1-3 1 2 1 0 1-2 1 6 1-4 1 2 1-3 1 4 1-3 1 2 1 0 1-4 1 3 1-2 1 1 1-2 1 1 1 2 1-3 1 4 1-2 1 1 1-3 1 0 1 3 1-1 1 0 1-2 1 1 1 0 1-1 1 1 1 1 1 0 1 0 1-1 1 0 1 2 1 0 1-3 1 2 1-2 1 0 1 1 1 0 1-1 1 0 1 1 1-1 1 1 1-1 1 0 1 1 1-1 1 2 1-1 1-1 1 1 1 0 1 0 1 0 1-1 1 3 1-2 1 0 1 0 1 4 1-3 1-1 1-1 1 1 1 4 1-4 1 0 1 1 1-1 1 0 1 1 1-2 1 0 1 1 1 0 1-1 1 1 1-1 1 1 1 1 1 0 1 0 1-1 1 3 1 1 1-4 1 0 1 1 1-2 1 1 1-1 1 3 1 0 1-2 1 3 1-1 1-3 1 2 1-2 1 3 1-2 1 3 1-4 1 2 1-1 1-1 1 2 1-2 1 3 1 0 1-3 1 1 1-1 1 1 1-1 1 0 1 2 1-2 1 1 1 0 1 0 1 0 1 1 1 2 1 0 1-2 1-2 1 4 1-3 1 2 1-1 1-2 1 1 1-1 1 4 1-4 1 3 1-2 1 2 1-1 1 2 1-4 1 1 1 5 1-5 1 0 1 4 1-5 1 1 1 0 1-1 1 0 1 1 1 0 1-1 1 1 1-1 1 1 1 1 1 0 1-1 1 0 1 1 1 0 1 0 1-2 1 1 1 0 1 2 1-1 1 0 1-1 1 2 1-1 1-1 1 0 1-1 1 0 1 0 1 0 1 1 1-1 1 0 1 0 1 0 1 1 1-1 1 0 1 1 1-1 1 3 1-1 1 2 1-3 1 2 1 1 1-4 1 4 1-4 1 1 1-1 1 4 1-3 1 2 1-2 1-1 1 2 1 1 1-1 1-2 1 5 1-5 1 1 1-1 1 0 1 2 1 0 1 0 1-2 1 2 1-1 1 0 1 1 1-1 1 0 1-1 1 3 1-2 1 1 1 0 1-1 1 3 1-2 1-2 1 3 1 1 1-2 1 2 1-3 1 0 1 2 1-1 1-1 1-1 1 1 1 0 1 0 1 0 1 1 1-1 1-1 1 1 1 1 1-1 1 0 1 1 1-2 1 0 1 4 1-3 1 2 1-3 1 0 1 1 1-1 1 0 1 0 1 0 1 1 1-1 1 0 1 0 1 0 1 1 1-1 1 1 1 1 1-1 1-1 1 1 1 3 1-2 1-1 1 2 1-1 1-2 1 0 1 1 1 0 1-1 1 1 1 1 1-1 1-1 1 2 1-1 1-1 1 1 1 0 1 1 1-2 1 4 1-4 1 1 1-1 1 0 1 0 1 1 1-1 1 0 1 0 1 0 1 2 1 0 1-2 1 2 1-2 1 2 1 0 1 1 1-3 1 1 1 1 1 0 1 1 1-2 1-1 1 0 1 2 1 0 1-2 1 3 1-2 1 2 1-3 1 3 1-3 1 2 1-2 1 0 1 2 1-1 1 3 1-3 1 0 1 0 1 1 1 0 1 2 1 1 1 4 1-3 1-2 1-2 1 2 1-3 1 0 1 0 1 3 1-2 1 2 1-4 1 1 1 1 1 0 1-1 1 0 1 0 1 1 1-2 1 0 1 0 1 2 1 1 1-2 1 1 1-2 1 0 1 2 1-2 1 0 1 1 1 1 1 1 1-2 1-1 1 1 1-1 1 1 1 0 1 0 1 1 1 1 1-2 1 0 1 1 1-1 1 1 1-1 1 0 1 1 1-2 1 1 1-1 1 3 1-2 1 0 1 1 1 0 1-1 1-1 1 0 1 0 1 2 1-2 1 1 1 1 1-1 1 1 1 0 1 1 1 3 1-4 1-1 1-1 1 2 1 0 1-1 1 0 1 0 1 1 1 1 1-1 1-2 1 2 1 0 1-2 1 0 1 3 1-3 1 1 1 1 1-2 1 3 1-2 1 1 1-2 1 0 1 0 1 1 1 0 1-1 1 1 1 0 1 2 1-2 1 1 1-1 1-1 1 0 1 2 1 0 1-2 1 2 1-2 1 1 1-1 1 0 1 0 1 3 1-3 1 2 1-2 1 5 1-4 1 1 1-2 1 3 1-1 1-1 1 0 1 0 1 2 1-2 1 2 1-2 1 4 1-4 1 2 1-3 1 1 1-1 1 1 1-1 1 0 1 0 1 1 1-1 1 1 1-1 1 0 1 0 1 1 1-1 1 0 1 1 1 1 1-2 1 1 1-1 1 3 1-2 1-1 1 1 1 0 1 1 1-1 1-1 1 0 1 2 1-1 1-1 1 1 1 2 1-2 1 0 1 0 1 0 1 0 1 0 1 1 1-2 1 2 1-1 1-1 1 2 1-2 1 2 1 0 1 2 1-3 1 1 1-1 1 1 1 0 1-1 1 0 1 1 1 1 1 1 1-3 1-1 1 1 1 0 1 0 1-1 1 1 1 0 1-1 1 0 1 0 1 1 1 0 1 2 1 0 1-3 1 2 1-2 1 0 1 1 1-1 1 0 1 2 1-1 1-1 1 1 1 0 1 1 1 0 1 1 1-2 1 1 1 0 1 2 1-2 1 0 1 0 1-2 1 0 1 4 1-2 1-1 1 0 1-1 1 2 1-1 1 2 1-3 1 0 1 0 1 0 1 0 1 1 1-1 1 0 1 1 1 2 1-2 1 0 1 4 1-5 1 1 1 0 1-1 1 0 1 0 1 0 1 1 1 1 1 0 1 1 1-3 1 2 1-1 1 0 1-1 1 1 1-1 1 8 1-8 1 0 1 1 1 1 1-2 1 2 1 0 1-1 1 0 1 0 1 2 1-1 1 2 1-4 1 2 1-2 1 0 1 9 1-6 1-3 1 2 1-2 1 6 1-5 1 0 1-1 1 1 1 0 1 3 1-3 1 0 1 0 1 2 1-2 1-1 1 3 1-3 1 2 1-1 1-1 1 1 1-1 1 1 1 0 1 0 1-1 1 2 1 1 1-3 1 3 1-1 1-2 1 0 1 1 1 0 1 0 1 0 1-1 1 1 1 1 1-2 1 1 1-1 1 3 1-3 1 2 1-1 1 2 1-3 1 2 1-1 1 0 1-1 1 1 1-1 1 1 1-1 1 0 1 0 1 3 1-2 1 1 1-1 1 0 1-1 1 0 1 0 1 0 1 0 1 0 1 0 1 0 1 0 1 0 1 1 1-1 1 0 1 1 1 2 1-1 1-1 1 1 1-1 1-1 1 1 1 1 1-2 1 1 1 0 1 2 1-1 1 0 1-2 1 1 1-1 1 1 1 2 1-2 1-1 1 0 1 0 1 1 1-1 1 1 1 3 1-2 1-1 1 1 1 0 1-2 1 3 1-3 1 2 1-1 1 0 1 0 1 0 1 0 1 0 1 0 1 0 1-1 1 1 1-1 1 2 1 0 1 0 1 3 1-4 1 1 1-1 1-1 1 2 1-2 1 0 1 0 1 2 1 0 1-1 1 1 1 0 1 2 1-4 1 3 1-3 1 1 1 1 1 1 1 0 1-3 1 2 1-1 1 1 1-1 1 2 1-3 1 1 1-1 1 1 1 0 1-1 1 3 1-2 1 0 1 0 1 1 1 1 1 1 1 2 1 3 1-1 1-3 1-2 1-1 1-1 1 1 1-1 1 0 1 0 1 1 1-1 1 1 1-1 1-1 1 0 1 0 1 2 1 1 1-1 1 0 1 0 1 1 1 1 1-2 1 1 1 1 1-3 1 0 1-1 1 1 1-1 1 0 1 2 1-2 1 1 1-1 1 2 1-2 1 0 1 0 1 1 1-1 1 2 1-2 1 0 1 1 1-1 1 0 1 0 1 0 1 0 1 1 1 1 1-2 1 0 1 0 1 0 1 1 1-1 1 0 1 1 1-1 1 1 1 1 1-1 1 1 1 1 1-1 1 0 1-1 1 1 1-1 1 1 1 1 1 3 1-5 1 0 1 1 1 0 1-2 1 2 1-1 1-1 1 0 1 0 1 2 1 1 1 0 1 5 1-8 1 0 1 2 1-1 1-1 1 1 1-1 1 1 1 0 1 0 1-1 1 2 1 4 1-6 1 0 1 2 1 1 1-2 1-1 1 0 1 0 1 1 1 2 1-3 1 1 1-1 1 0 1 2 1-2 1 1 1-1 1 0 1 1 1-1 1 0 1 5 1-4 1 1 1-1 1 0 1 1 1-2 1 0 1 0 1 1 1 1 1 0 1-2 1 0 1 2 1-1 1-1 1 1 1 0 1-1 1 2 1-2 1 0 1 1 1-1 1 3 1 2 1-2 1-2 1 2 1-3 1 3 1-2 1 0 1 0 1 1 1 0 1-1 1 3 1-4 1 1 1 0 1 2 1 0 1-3 1 0 1 1 1-1 1 0 1 1 1 0 1 0 1 1 1-1 1 1 1-2 1 1 1 0 1-1 1 1 1 0 1-1 1 0 1 1 1 0 1-1 1 1 1 2 1-2 1-1 1 2 1-2 1 2 1-2 1 1 1 0 1 1 1-1 1 0 1-1 1 5 1-4 1 0 1-1 1 1 1-1 1 1 1 0 1-1 1 3 1-3 1 1 1-1 1 1 1 0 1 1 1-1 1 0 1 1 1-2 1 2 1-1 1-1 1 1 1 0 1 1 1-2 1 1 1 0 1 0 1 0 1 2 1-1 1 0 1-2 1 0 1 1 1 1 1 1 1-2 1 0 1 2 1-1 1-1 1 2 1-3 1 1 1 1 1-1 1 2 1-3 1 6 1-6 1 0 1 1 1 0 1-1 1 1 1-1 1 2 1 1 1-3 1 2 1-1 1 3 1-4 1 2 1-1 1 0 1 0 1-1 1 0 1 0 1 1 1 0 1-1 1 0 1 0 1 1 1 2 1 0 1-2 1 0 1 1 1-1 1-1 1 2 1 1 1-2 1 0 1 0 1 1 1-1 1-1 1 0 1 0 1 1 1 0 1-1 1 1 1-1 1 0 1 1 1 0 1 0 1 6 1-5 1-2 1 0 1 3 1-2 1 3 1-2 1-1 1 0 1 2 1-1 1-1 1 0 1 0 1 1 1-1 1 0 1 0 1 0 1 0 1 3 1-2 1 0 1-2 1 0 1 2 1-2 1 0 1 1 1 1 1-1 1-1 1 3 1-1 1 1 1-1 1-2 1 0 1 2 1 0 1-2 1 0 1 2 1-1 1 1 1 1 1 1 1-1 1-1 1-2 1 1 1 2 1-1 1-1 1 1 1-1 1 2 1-1 1-1 1 0 1 0 1 1 1-1 1 2 1-3 1 2 1-1 1 1 1-2 1 0 1 2 1-2 1 0 1 1 1-1 1 0 1 4 1-3 1 1 1 0 1-2 1 3 1-2 1-1 1 1 1 0 1-1 1 3 1-3 1 1 1 0 1 0 1-1 1 0 1 0 1 0 1 2 1 2 1-4 1 2 1-2 1 1 1 0 1 0 1 3 1-1 1 1 1 2 1 1 1-2 1-2 1-1 1-1 1 0 1 0 1-1 1 2 1 0 1 0 1-2 1 0 1 1 1 0 1-1 1 2 1 0 1 0 1-1 1 0 1-1 1 0 1 1 1-1 1 0 1 2 1-1 1-1 1 1 1 1 1 1 1-2 1 0 1 0 1 0 1 1 1 0 1-2 1 1 1-1 1 0 1 0 1 0 1 2 1 1 1-1 1-1 1 1 1-1 1 3 1-3 1 2 1-1 1 0 1-2 1 2 1-1 1 3 1-2 1-1 1 0 1 0 1 0 1 0 1-1 1 1 1 1 1 0 1-2 1 1 1 1 1-2 1 1 1 0 1 1 1 1 1-3 1 2 1-2 1 0 1 1 1 1 1-1 1 0 1 2 1 2 1-4 1 0 1 0 1 0 1 0 1 2 1-2 1 0 1 0 1 0 1-1 1 1 1 0 1 2 1 0 1-1 1-1 1 1 1 5 1-6 1 1 1 1 1-1 1 0 1 2 1-1 1-2 1 0 1 0 1 5 1-6 1 6 1-5 1 2 1-2 1 1 1-1 1-1 1 0 1 2 1-2 1 2 1-1 1-1 1 0 1 1 1 1 1-2 1 1 1-1 1 1 1 0 1-1 1 0 1 2 1-1 1-1 1 3 1 0 1-2 1-1 1 0 1 4 1-4 1 1 1-1 1 0 1 1 1 0 1-1 1 0 1 2 1 0 1 6 1-6 1-1 1 0 1 0 1 1 1 1 1-2 1 0 1 1 1 0 1-1 1 0 1 0 1-1 1 2 1 0 1-2 1 1 1-1 1 1 1 0 1 0 1 0 1 1 1-2 1 0 1 2 1 3 1-5 1 1 1-1 1 0 1 2 1 0 1-1 1 3 1-2 1 2 1-2 1-1 1 1 1-1 1 1 1 1 1-2 1 1 1-2 1 2 1-1 1-1 1 0 1 2 1-1 1 2 1-2 1 0 1 1 1 0 1-1 1-1 1 1 1-1 1 0 1 3 1 0 1-2 1 1 1-2 1 0 1 0 1 1 1 0 1 0 1 1 1-1 1 0 1 3 1-2 1-2 1 2 1-1 1 0 1-1 1 1 1 0 1-1 1 1 1-1 1 1 1-1 1 0 1 1 1-1 1 1 1-1 1 0 1 0 1 0 1 0 1 1 1 0 1-1 1 1 1 0 1 2 1 2 1-5 1 2 1-1 1 3 1-1 1 0 1 0 1-1 1-2 1 2 1 2 1 0 1-3 1 0 1-1 1 1 1-1 1 4 1-4 1 1 1 1 1 1 1 0 1-3 1 1 1 0 1-1 1 4 1-1 1-2 1 1 1-2 1 0 1 3 1 1 1-2 1-1 1 1 1-1 1-1 1 4 1-2 1-2 1 4 1-4 1 1 1 0 1 1 1-2 1 1 1 0 1 2 1-2 1 2 1 0 1-1 1-2 1 0 1 3 1-2 1 0 1 0 1-1 1 0 1 1 1 2 1 0 1-2 1-1 1 2 1 4 1-3 1-2 1 1 1-2 1 3 1-2 1-1 1 1 1 2 1-2 1 0 1-1 1 0 1 0 1 0 1 1 1 0 1 0 1 0 1 0 1 0 1-1 1 1 1 5 1-4 1-1 1 1 1-2 1 1 1-1 1 2 1 0 1-1 1 2 1-3 1 0 1 2 1-1 1 0 1-1 1 1 1 1 1-2 1 2 1-2 1 0 1 1 1 3 1-1 1-2 1 1 1-2 1 2 1-1 1 0 1 2 1-3 1 0 1 0 1 0 1 0 1 0 1 4 1-1 1 0 1-2 1 0 1 2 1 5 1-5 1-3 1 2 1 0 1-2 1 0 1 0 1 5 1-4 1 1 1 1 1-1 1 0 1-2 1 0 1 0 1 2 1-2 1 1 1-1 1 2 1 7 1-6 1-1 1 1 1-2 1 2 1-2 1-1 1 1 1 0 1 1 1-1 1 3 1-2 1 0 1-1 1 1 1 4 1-4 1-1 1 3 1-3 1-1 1 0 1 2 1-2 1 3 1-2 1 2 1-1 1 0 1 0 1-2 1 3 1-1 1-2 1 0 1 1 1 2 1-1 1-1 1 0 1-1 1 2 1-1 1 0 1 0 1 0 1 1 1-1 1 0 1 0 1-1 1 1 1 1 1-2 1 3 1-3 1 2 1 1 1-2 1 1 1-2 1 0 1 1 1-1 1 0 1 2 1-1 1 2 1 0 1-2 1 0 1-1 1 1 1-1 1 0 1 1 1 1 1 0 1 2 1-1 1-2 1-1 1 1 1 0 1-1 1 0 1 2 1-2 1 0 1 3 1-1 1-1 1-1 1 2 1 0 1-1 1 0 1 1 1 0 1-1 1 4 1-3 1-2 1 0 1 1 1-1 1 1 1 1 1-1 1 1 1-1 1 3 1 0 1 1 1-2 1-3 1 3 1-2 1-1 1 3 1-1 1-1 1 0 1 0 1 3 1 0 1-2 1-1 1 0 1 1 1 2 1-1 1-3 1 0 1 1 1 2 1-1 1-2 1 1 1 0 1-1 1 0 1 3 1-2 1 4 1-2 1-1 1 0 1-1 1 0 1 0 1-1 1 0 1 0 1 2 1 0 1-1 1-1 1 0 1 0 1 0 1 0 1 0 1 2 1-2 1 1 1 0 1 0 1 1 1-1 1 0 1-1 1 1 1-1 1 0 1 6 1-5 1 3 1-4 1 2 1 2 1-2 1 2 1-2 1 1 1-2 1 4 1-5 1 1 1-1 1 3 1-2 1 2 1-2 1 2 1 0 1-3 1 0 1 6 1-6 1 2 1-2 1 1 1-1 1 1 1 1 1-1 1 3 1-2 1-1 1 1 1 2 1 1 1-4 1-1 1 0 1 0 1 0 1 2 1-2 1 1 1 0 1-1 1 1 1 1 1-2 1 2 1-1 1 2 1 0 1-2 1 1 1 0 1 1 1 0 1 2 1 0 1 2 1-1 1-2 1-1 1 0 1 0 1-1 1 0 1 1 1-2 1 0 1 0 1 0 1 1 1 0 1 1 1-2V0" fill="#0000ff" stroke="#00008b" stroke-width="0.85" vector-effect="non-scaling-stroke"/></g>
<path d="M259 2112.5H270.5M259 2251.5H270.5" fill="none" stroke="#333" stroke-width="1"/>
<path d="M270.5 2112.0V2252.0" stroke="#858575" stroke-width="1"/>
<text x="252.4" y="2115.3" class="ax">11</text>
<text x="252.4" y="2254.1" class="ax">0</text>
<text x="74" y="2187.7" class="nm">GSM5550304</text>
<g transform="translate(271.0 2405.0) scale(0.33333 -10.69231)"><path d="M0 0V1l1 1 1-1 1 0 1-1 1 0 1 1 1 2 1-1 1 3 1-4 1 1 1 1 1 2 1 2 1-2 1-2 1-1 1-1 1 0 1 0 1 1 1 2 1-4 1 1 1-1 1 1 1 1 1 1 1-2 1-1 1 1 1-1 1 0 1 2 1-1 1 1 1-2 1 4 1-3 1 0 1 0 1 1 1-1 1 2 1 0 1 0 1-2 1 1 1-2 1 0 1 1 1 0 1 1 1-2 1 0 1 1 1 0 1 2 1-1 1 2 1-4 1 1 1 0 1 0 1 1 1-1 1 0 1-1 1 1 1 0 1 0 1 2 1-3 1 0 1 0 1 1 1-1 1 2 1-2 1 0 1 0 1 0 1 1 1 1 1-1 1-1 1 0 1 1 1 4 1-5 1 0 1 1 1-1 1 0 1 0 1 0 1 2 1 1 1-2 1 1 1-1 1 2 1-3 1 2 1 0 1-2 1 2 1-1 1 0 1-1 1 0 1 0 1 0 1 0 1 0 1 1 1-1 1 0 1 0 1 0 1 0 1 1 1 0 1 0 1-1 1 0 1 0 1 1 1-1 1 2 1-1 1 4 1-2 1-1 1-2 1 0 1 1 1 0 1-1 1 0 1 1 1-1 1 0 1 1 1 2 1-1 1 1 1-3 1 0 1 1 1-1 1 0 1 5 1-5 1 1 1-1 1 1 1 0 1 1 1-1 1-1 1 0 1 1 1-1 1 0 1 0 1 0 1 0 1 0 1 0 1 1 1 0 1-1 1 0 1 0 1 0 1 1 1-1 1 1 1-1 1 0 1 1 1-1 1 0 1 0 1 2 1-2 1 1 1-1 1 2 1-2 1 0 1 1 1-1 1 0 1 0 1 0 1 0 1 0 1 0 1 1 1 0 1-1 1 0 1 0 1 1 1 0 1 0 1 3 1-3 1 3 1-4 1 0 1 3 1-3 1 0 1 1 1 1 1-1 1 4 1-1 1 0 1-3 1 0 1 1 1-1 1-1 1 2 1-1 1-1 1 2 1-1 1-1 1 0 1 1 1 0 1 0 1 1 1-2 1 2 1 1 1-1 1 0 1 0 1-1 1 0 1-1 1 0 1 1 1-1 1 1 1 2 1-3 1 1 1-1 1 1 1-1 1 0 1 1 1-1 1 3 1-2 1 2 1 0 1 2 1-3 1-1 1 0 1-1 1 0 1 0 1 0 1 0 1 1 1-1 1 0 1 4 1-4 1 1 1-1 1 0 1 3 1-3 1 0 1 2 1-1 1 2 1-2 1 0 1-1 1 2 1-1 1 0 1 3 1-3 1 0 1-1 1 0 1 1 1 1 1-1 1-1 1 0 1 5 1-5 1 0 1 0 1 0 1 1 1 0 1 0 1 0 1-1 1 0 1 0 1 0 1 1 1 0 1 2 1-1 1 1 1-2 1 1 1-1 1 1 1-1 1 0 1 0 1 2 1-3 1 0 1 0 1 2 1-2 1 0 1 2 1-1 1 0 1 0 1 0 1 0 1-1 1 1 1-1 1 1 1 1 1 1 1-2 1 1 1-2 1 1 1 1 1-2 1 1 1 0 1 2 1-2 1 1 1 2 1-4 1 1 1-1 1 0 1 0 1 0 1 1 1 0 1-1 1 0 1 1 1 1 1-2 1 0 1 1 1-1 1 0 1 0 1 0 1 1 1 0 1 1 1-2 1 0 1 0 1 1 1-1 1 3 1-3 1 2 1-2 1 1 1-1 1 3 1-3 1 1 1 1 1-2 1 0 1 0 1 1 1-1 1 2 1 2 1-4 1 2 1-2 1 0 1 1 1-1 1 2 1 2 1-3 1 3 1-3 1 2 1 1 1-4 1 0 1 0 1 0 1 1 1 2 1-2 1-1 1 0 1 0 1 1 1-1 1 2 1 0 1-1 1 0 1 1 1-2 1 0 1 4 1-3 1-1 1 1 1 1 1-1 1 0 1 0 1-1 1 0 1 4 1-4 1 0 1 0 1 5 1-3 1-2 1 0 1 2 1 0 1 0 1-1 1 0 1 0 1 0 1-1 1 1 1-1 1 1 1-1 1 1 1 0 1 0 1 0 1-1 1 0 1 2 1-2 1 1 1 3 1-2 1-2 1 0 1 2 1-2 1 0 1 1 1-1 1 0 1 0 1 0 1 0 1 1 1-1 1 0 1 1 1-1 1 2 1-1 1-1 1 0 1 2 1-2 1 0 1 2 1-1 1 2 1-3 1 0 1 0 1 2 1 2 1-3 1 0 1 0 1 0 1 1 1 0 1-1 1 0 1 0 1 0 1 0 1 0 1 1 1-1 1 0 1 1 1-1 1 0 1 0 1 1 1 0 1 3 1-3 1 0 1 0 1 0 1 0 1 0 1 0 1 1 1 0 1 0 1 1 1 2 1 1 1 3 1-2 1-3 1-1 1-1 1 0 1 0 1 0 1 0 1-1 1 0 1 0 1 0 1-1 1 0 1 1 1-1 1 0 1 2 1-2 1 0 1 0 1 1 1-1 1 1 1-1 1 0 1 0 1 0 1 0 1 0 1 1 1-2 1 1 1-1 1 1 1 1 1 0 1 0 1-2 1 0 1 0 1 0 1 0 1 0 1 0 1 0 1 0 1 0 1 0 1 0 1 0 1 1 1-1 1 1 1 0 1-1 1 1 1-1 1 0 1 2 1 1 1-1 1 0 1 0 1 3 1-2 1-2 1 0 1 0 1 1 1-2 1 1 1-1 1 0 1 0 1 5 1-4 1 1 1-1 1-1 1 1 1-1 1 0 1 0 1 0 1 5 1-4 1-1 1 0 1 2 1 2 1-4 1 1 1 0 1-1 1 1 1 0 1-1 1 0 1 1 1-1 1 0 1 0 1 3 1-2 1 1 1-2 1 2 1-1 1 1 1-1 1 3 1-4 1 2 1 2 1-1 1 2 1-3 1-2 1 2 1 0 1-2 1 1 1-1 1 1 1 0 1 2 1 0 1 1 1-4 1 4 1-4 1 0 1 2 1-2 1 3 1-3 1 2 1-1 1 0 1 1 1 0 1-1 1 1 1 0 1 0 1-1 1-1 1 0 1 0 1 0 1 0 1 0 1 0 1 1 1 0 1 0 1-1 1 0 1 2 1-2 1 2 1-2 1 2 1 0 1-1 1 2 1-2 1 1 1 3 1-3 1-2 1 2 1-1 1-1 1 2 1-2 1 0 1 1 1-1 1 3 1 0 1-1 1-1 1 0 1 0 1 1 1-1 1-1 1 0 1 5 1-5 1 2 1-1 1-1 1 0 1 1 1 0 1 0 1-1 1 1 1-1 1 2 1 0 1 2 1-3 1 1 1 3 1-4 1 0 1-1 1 2 1-1 1 2 1-3 1 1 1 0 1 1 1-1 1 0 1 0 1 0 1 0 1-1 1 1 1 2 1-2 1 1 1 1 1-2 1 0 1 2 1-3 1 3 1-2 1 0 1 2 1-3 1 4 1-4 1 0 1 0 1 2 1 0 1 0 1-1 1-1 1 0 1 1 1 0 1 0 1 4 1-5 1 0 1 0 1 0 1 0 1 1 1 1 1-2 1 0 1 1 1 0 1 0 1 1 1-2 1 1 1 2 1-2 1-1 1 1 1 2 1-1 1 0 1 1 1 2 1 2 1 1 1-3 1 0 1-2 1-1 1-1 1 5 1-5 1 3 1-3 1 0 1-1 1 0 1 1 1 0 1 1 1 1 1-1 1-2 1 0 1 3 1-2 1 1 1 0 1-1 1 0 1 1 1-2 1 1 1 1 1-2 1 0 1 2 1 0 1-1 1 4 1-4 1 1 1 1 1 0 1 3 1 4 1-4 1-1 1 4 1 2 1 1 1-4 1-2 1-2 1 2 1-4 1 1 1-2 1 1 1 1 1-2 1 0 1-1 1 0 1 1 1 0 1 0 1 0 1 1 1 1 1 2 1-3 1 4 1-2 1 0 1-1 1 0 1-1 1 0 1 0 1 1 1 0 1 3 1 2 1-3 1 3 1 5 1-2 1-5 1-1 1-1 1-2 1 1 1-2 1 0 1 1 1-2 1 0 1 2 1 0 1-1 1 0 1-1 1 1 1 1 1 1 1-3 1 2 1-2 1 2 1-1 1-1 1 5 1-3 1-1 1-1 1 2 1-2 1 0 1 2 1-2 1 0 1 1 1 0 1-1 1 0 1 0 1 1 1 1 1-2 1 2 1-1 1 0 1 0 1 0 1 0 1-1 1 0 1 0 1 0 1 0 1 3 1-3 1 0 1 1 1-1 1 1 1 2 1-3 1 1 1 3 1-4 1 1 1 0 1 0 1 1 1-2 1 0 1 2 1-1 1-1 1 0 1 0 1 0 1 3 1-3 1 1 1 1 1-1 1-1 1 0 1 1 1-1 1 0 1 1 1-1 1 2 1-2 1 0 1 0 1 1 1 0 1-1 1 1 1-1 1 1 1 0 1 1 1-2 1 1 1 1 1-1 1-1 1 1 1 2 1-3 1 0 1 0 1 1 1 1 1-2 1 0 1 1 1-1 1 1 1 2 1-2 1 0 1 1 1-2 1 0 1 4 1-1 1-1 1-1 1 0 1 0 1-1 1 0 1 0 1 1 1 0 1-1 1 2 1 0 1-2 1 1 1 2 1-3 1 0 1 1 1-1 1 0 1 1 1-1 1 1 1 3 1-2 1-1 1 1 1 0 1-1 1 2 1 1 1-3 1 0 1 0 1 2 1 0 1-3 1 0 1 0 1 0 1 0 1 3 1-3 1 1 1 0 1 0 1-1 1 0 1 0 1 1 1-1 1 1 1 1 1-2 1 0 1 0 1 1 1-1 1 1 1 0 1 0 1-1 1 0 1 1 1 0 1 3 1-2 1-1 1 3 1-4 1 0 1 2 1-1 1 0 1-1 1 0 1 1 1 3 1-3 1 1 1 2 1-2 1-2 1 0 1 0 1 1 1-1 1 1 1-1 1 0 1 0 1 1 1 0 1-1 1 1 1-1 1 2 1-1 1 0 1 0 1 3 1-4 1 2 1-1 1-1 1 1 1-1 1 0 1 3 1-3 1 0 1 0 1 0 1 0 1 1 1-1 1 0 1 1 1-1 1 1 1 0 1 0 1 0 1 2 1-2 1 0 1 3 1-4 1 1 1 0 1 0 1 0 1 1 1-1 1 1 1-1 1 4 1-3 1 2 1-3 1 1 1 1 1-2 1-1 1 1 1 1 1-1 1 0 1-1 1 1 1 4 1-5 1 2 1-2 1 1 1 0 1 3 1-3 1 0 1 3 1-4 1 2 1-2 1 2 1 0 1-1 1 1 1-2 1 4 1-1 1-1 1 0 1 4 1-5 1-1 1 0 1 1 1 1 1-1 1 0 1 0 1 0 1 0 1-1 1 1 1 0 1 2 1-2 1 3 1-2 1-1 1 1 1-1 1 0 1 4 1-4 1-1 1 0 1 0 1 1 1 1 1-2 1 1 1 1 1-1 1-1 1 0 1 1 1 0 1 0 1-1 1 2 1 0 1 0 1 1 1-1 1-1 1 5 1-5 1 0 1 0 1 0 1-1 1 6 1-6 1 2 1 4 1-3 1-3 1 2 1-1 1 0 1 0 1 1 1-1 1 0 1-1 1 1 1-1 1 1 1 1 1-2 1 2 1-1 1-1 1 0 1 3 1-1 1 0 1-2 1 1 1 0 1 0 1-1 1 1 1 3 1-1 1-2 1 0 1-1 1 1 1-1 1 2 1-1 1 1 1-1 1 1 1 2 1-2 1 0 1-2 1 3 1-2 1 0 1-1 1 0 1 1 1 0 1-1 1 1 1-1 1 1 1 0 1 3 1-2 1-2 1 5 1-5 1 1 1 1 1 0 1 0 1-1 1 2 1-2 1-1 1 0 1 0 1 0 1 0 1 2 1-1 1 2 1-3 1 0 1 0 1 1 1-1 1 0 1 0 1 0 1 1 1 0 1-1 1 3 1-1 1-2 1 0 1 1 1-1 1 1 1 0 1-1 1 1 1-1 1 2 1 0 1 0 1-2 1 0 1 0 1 1 1-1 1 1 1-1 1 1 1-1 1 1 1 1 1 0 1-2 1 2 1-1 1 2 1-1 1-2 1 1 1-1 1 5 1 0 1-2 1-1 1 0 1 0 1 6 1-3 1 0 1 1 1 2 1-2 1-2 1 0 1-1 1-1 1 1 1-1 1-1 1 0 1-1 1 2 1 0 1 2 1-2 1-1 1-1 1 0 1 3 1 0 1 2 1-2 1 1 1 0 1-2 1 1 1 1 1 2 1-4 1 0 1-1 1 0 1 1 1 5 1-4 1 2 1 0 1 4 1-1 1-2 1-2 1-1 1 2 1-2 1-1 1 3 1 0 1-4 1 0 1-1 1 1 1-1 1 0 1 0 1 0 1 1 1 1 1-2 1 1 1 0 1 0 1 1 1-1 1 0 1 4 1-4 1 1 1-2 1 1 1 1 1-2 1 1 1 1 1 0 1-1 1-1 1 2 1-1 1-1 1 0 1 2 1 0 1 0 1-2 1 0 1 1 1 2 1-3 1 3 1-2 1 1 1 0 1 1 1-2 1-1 1 5 1-3 1-2 1 3 1-3 1 2 1 0 1 1 1-2 1-1 1 0 1 0 1 0 1 0 1 1 1 1 1 0 1 0 1-2 1 0 1 2 1-2 1 0 1 3 1-2 1-1 1 0 1 1 1 0 1 3 1-3 1 0 1-1 1 0 1 4 1-2 1 2 1-4 1 0 1 1 1-1 1 4 1-2 1-2 1 2 1 0 1-2 1 0 1 3 1-2 1 1 1-1 1-1 1 2 1-2 1 1 1 0 1-1 1 1 1 0 1-1 1 2 1-1 1-1 1 2 1-2 1 0 1 5 1-2 1-2 1 1 1-1 1 1 1-1 1-1 1 0 1 0 1 0 1 1 1-1 1 1 1 1 1 1 1-2 1-1 1 0 1 1 1 0 1 0 1-1 1 2 1-1 1-1 1 0 1 0 1 0 1 2 1 0 1 1 1-2 1-1 1 2 1 1 1-3 1 1 1-1 1 2 1 1 1-2 1-1 1 0 1 2 1 0 1-1 1 2 1-2 1 3 1-1 1 1 1-3 1 0 1 3 1-3 1-1 1 1 1 2 1 0 1-1 1-1 1 4 1-5 1 1 1 1 1-1 1 0 1 1 1 0 1-1 1 0 1 2 1-2 1 4 1-1 1-1 1-2 1-1 1 0 1 3 1 0 1-1 1-1 1 1 1-1 1 0 1 0 1 0 1 0 1 1 1-1 1 0 1 1 1-1 1 3 1-2 1-1 1 1 1-2 1 0 1 3 1-2 1 0 1 0 1 0 1-1 1 0 1 0 1 0 1 0 1 0 1 0 1 0 1 0 1 1 1-1 1 2 1-2 1 1 1-1 1 0 1 3 1-3 1 1 1-1 1 3 1-3 1 2 1 0 1-1 1-1 1 0 1 0 1 0 1 3 1-2 1-1 1 1 1 0 1 0 1 0 1-1 1 0 1 4 1-3 1 0 1 0 1 0 1 2 1-2 1 0 1 0 1 0 1 0 1 0 1 0 1-1 1 2 1-2 1 2 1-2 1 2 1-1 1 1 1-2 1 3 1-2 1-1 1 3 1-3 1 0 1 2 1-2 1 0 1 0 1 0 1 2 1-1 1 1 1 1 1-2 1 2 1 0 1 0 1 1 1-4 1 0 1 1 1-1 1 1 1 1 1-2 1 0 1 1 1 2 1-3 1 2 1-2 1 3 1 1 1-3 1 0 1-1 1 2 1 2 1-2 1 0 1 0 1-2 1 3 1 0 1-1 1 0 1-1 1 1 1-2 1 1 1 1 1 0 1 2 1-2 1-1 1 3 1 2 1-5 1 0 1 3 1-1 1-3 1 0 1 0 1 0 1 0 1 0 1 0 1 0 1 0 1 0 1 1 1 0 1 0 1-1 1 1 1-1 1 2 1-1 1-1 1 3 1-1 1-1 1 0 1-1 1 0 1 0 1 2 1-1 1 0 1 0 1 0 1-1 1 1 1-1 1 0 1 2 1-2 1 0 1 0 1 1 1 0 1 1 1-1 1-1 1 3 1-3 1 1 1-1 1 1 1 0 1 2 1-3 1 3 1-1 1 0 1 0 1 4 1-5 1-1 1 0 1 4 1-4 1 1 1 0 1 0 1 1 1-2 1 1 1 1 1 1 1-3 1 1 1-1 1 0 1 0 1 1 1-1 1 1 1 4 1-5 1 1 1 1 1-1 1 0 1 1 1 1 1-2 1 0 1 0 1 0 1 0 1 1 1 0 1 0 1 0 1-2 1 1 1-1 1 1 1-1 1 1 1-1 1 3 1-3 1 1 1-1 1 0 1 2 1-2 1 0 1 0 1 0 1 1 1-1 1 0 1 1 1-1 1 1 1-1 1 0 1 0 1 0 1 0 1 1 1 1 1-1 1-1 1 0 1 1 1-1 1 0 1 3 1-2 1 0 1 0 1 2 1-2 1 0 1-1 1 1 1 2 1-2 1-1 1 1 1-1 1 0 1 0 1 0 1 2 1-1 1-1 1 0 1 1 1-1 1 0 1 0 1 1 1 0 1 0 1 1 1 0 1-1 1 0 1 2 1-2 1 0 1-1 1 0 1 0 1 1 1 0 1-1 1 0 1 0 1 0 1 1 1 0 1 2 1-3 1 1 1 0 1-1 1 0 1 1 1-1 1 0 1 0 1 2 1-2 1 0 1 3 1-3 1 1 1-1 1 0 1 2 1-2 1 0 1 1 1 2 1-3 1 0 1 2 1-1 1-1 1 1 1 0 1 0 1-1 1 4 1-3 1 1 1 0 1-2 1 2 1 0 1-2 1 0 1 0 1 1 1 1 1-1 1-1 1 6 1-4 1-2 1 1 1 4 1-1 1-4 1 1 1 0 1 1 1-2 1 0 1 0 1 0 1 1 1-1 1 1 1 0 1 0 1 3 1-3 1-1 1 1 1 1 1-1 1 0 1-1 1 0 1 1 1-1 1 0 1 1 1-1 1 0 1 2 1 0 1 0 1-1 1 0 1 0 1 0 1 2 1 1 1-3 1 0 1-1 1 0 1 0 1 0 1 0 1 0 1 2 1-2 1 1 1 0 1 1 1-1 1 0 1 0 1-1 1 0 1 2 1-1 1 0 1-1 1 2 1-2 1 2 1-1 1-1 1 1 1 0 1 3 1-3 1 1 1-1 1 1 1-1 1 0 1 0 1-1 1 1 1 1 1 2 1-3 1 3 1-3 1-1 1 0 1 0 1 0 1 0 1 1 1 0 1 3 1-3 1 0 1 0 1 1 1-1 1-1 1 0 1 2 1 0 1 0 1 0 1 0 1 0 1-2 1 2 1-1 1-1 1 0 1 1 1-1 1 3 1-2 1-1 1 0 1 0 1 0 1 2 1 1 1-1 1 0 1 0 1-2 1 2 1 3 1-3 1-1 1 0 1 0 1 0 1-1 1 0 1 2 1-2 1 1 1 0 1 0 1-1 1 2 1-1 1 1 1-1 1-1 1 1 1-1 1 0 1 2 1 0 1 0 1-1 1-1 1 1 1-1 1 0 1 0 1 1 1 0 1 0 1 3 1-3 1-1 1 0 1 2 1-2 1 0 1 3 1-3 1 4 1-3 1-1 1 2 1 0 1 0 1 0 1-2 1 1 1-1 1 1 1-1 1 0 1 1 1-1 1 0 1 0 1 0 1 0 1 1 1 0 1 1 1-1 1-1 1 1 1 0 1 2 1-1 1-2 1 1 1-1 1 1 1-1 1 1 1-1 1 0 1 0 1 0 1 1 1 1 1-1 1-1 1 1 1-1 1 3 1-3 1 1 1-1 1 1 1 4 1-4 1 0 1 1 1-1 1 1 1 0 1 0 1-1 1 0 1 1 1-1 1 0 1 2 1-3 1 1 1 2 1-2 1-1 1 0 1 1 1 0 1 0 1 4 1-4 1 0 1 0 1-1 1 1 1 1 1-2 1 1 1 2 1-3 1 1 1-1 1 0 1 2 1-1 1 1 1-2 1 1 1 3 1-4 1 1 1-1 1 1 1 0 1-1 1 1 1-1 1 1 1-1 1 2 1 1 1-2 1 0 1 0 1-1 1 1 1-1 1 2 1-1 1 1 1-1 1-1 1 2 1 0 1-2 1 2 1-2 1 0 1 1 1 0 1 0 1 0 1 1 1-1 1 1 1 1 1-2 1-1 1 3 1-2 1 1 1-1 1 2 1-2 1 3 1-4 1 5 1-5 1 2 1 0 1 0 1-2 1 0 1 2 1-2 1 2 1-1 1 1 1 0 1-2 1 0 1 2 1-1 1-1 1 1 1 0 1-1 1 0 1 1 1-1 1 0 1 2 1-2 1 0 1 0 1 1 1 3 1-2 1-2 1 1 1 0 1 0 1-1 1 0 1 0 1 1 1 0 1-1 1 0 1 0 1 0 1 0 1 1 1 0 1 0 1 0 1 2 1-2 1 0 1-1 1 2 1-2 1 0 1 0 1 1 1 0 1 1 1 2 1-2 1 0 1 3 1-3 1-2 1 0 1 1 1 2 1-3 1 1 1-1 1 3 1-1 1-2 1 1 1-1 1 0 1 1 1 1 1-2 1 2 1 5 1-4 1-1 1 0 1-1 1 2 1-1 1 1 1-2 1 1 1 0 1 0 1 0 1-2 1 3 1-3 1 0 1 1 1 0 1-1 1 1 1-1 1 1 1 0 1 0 1-1 1 3 1-2 1 0 1-1 1 0 1 0 1 0 1 1 1 0 1-1 1 1 1 1 1 1 1-3 1 0 1 1 1 0 1 1 1-1 1 0 1 2 1-1 1-1 1 4 1-4 1 0 1 1 1 1 1-2 1-1 1 2 1 0 1-1 1 0 1-1 1 1 1 2 1-3 1 1 1-1 1 0 1 2 1-1 1 2 1 1 1-1 1-3 1 1 1-1 1 1 1 4 1-4 1 0 1 0 1 0 1-1 1 0 1 0 1 0 1 0 1 1 1-1 1 0 1 0 1 0 1 0 1 1 1 0 1 0 1 3 1-3 1-1 1 1 1-1 1 0 1 1 1 2 1-3 1 2 1-2 1 1 1-1 1 0 1 2 1-2 1 2 1-1 1-1 1 0 1 0 1 0 1 0 1 0 1 0 1 2 1-2 1 2 1-2 1 2 1-2 1 1 1 0 1-1 1 1 1-1 1 1 1 0 1 1 1-2 1 3 1-3 1 0 1 0 1 0 1 0 1 4 1-3 1 0 1 0 1-1 1 0 1 1 1 0 1-1 1 1 1 0 1 0 1 1 1-2 1 0 1 0 1 0 1 2 1-2 1 0 1 1 1-1 1 1 1 0 1 1 1-1 1 1 1-1 1 0 1-1 1 0 1 0 1 1 1 0 1 5 1-5 1 0 1-1 1 0 1 3 1-3 1 3 1 1 1-2 1-1 1 3 1-2 1-2 1 2 1 0 1-2 1 0 1 0 1 1 1 0 1 3 1-4 1 1 1-1 1 0 1 1 1-1 1 0 1 0 1 1 1-1 1 1 1 0 1-1 1 1 1 0 1 1 1-1 1-1 1 1 1-1 1 0 1 1 1-1 1 2 1-1 1 2 1 0 1-2 1 0 1 1 1 0 1 0 1 3 1-4 1 0 1 1 1 0 1-1 1-1 1 1 1 2 1-2 1 0 1-1 1 2 1 1 1-2 1 0 1-1 1 1 1 0 1-1 1 1 1 1 1 2 1-4 1 0 1 3 1 0 1-2 1 3 1-4 1 0 1 2 1-2 1 1 1-1 1 1 1 1 1-1 1 0 1 1 1 0 1 0 1 1 1 1 1-3 1 3 1-1 1-2 1-1 1 1 1-1 1 0 1 1 1 2 1-3 1 3 1-1 1 0 1-2 1 0 1 0 1 0 1 1 1-1 1 0 1 1 1-1 1 0 1 0 1 1 1 0 1-1 1 1 1-1 1 1 1 0 1 0 1 2 1-3 1 5 1-5 1 0 1 2 1 0 1-2 1 3 1-2 1 1 1-1 1-1 1 1 1 2 1-3 1 0 1 1 1-1 1 1 1 0 1 0 1-1 1 2 1-1 1 1 1-1 1-1 1 1 1 0 1 0 1 2 1 0 1-1 1 0 1 0 1-1 1-1 1 2 1-2 1 0 1 0 1 0 1 0 1 1 1-1 1 1 1 2 1-1 1-2 1 2 1-2 1 0 1 0 1 0 1 0 1 0 1 1 1-1 1 0 1 1 1-1 1 4 1-4 1 3 1-3 1 0 1 1 1-1 1 0 1 0 1 0 1 0 1 0 1 1 1 0 1 1 1 0 1-2 1 1 1 0 1 1 1-2 1 0 1 1 1 0 1 2 1-3 1 3 1-3 1 1 1 3 1-4 1 2 1-1 1 2 1 0 1-1 1-1 1 1 1-2 1 1 1 0 1 0 1-1 1 0 1 0 1 0 1 0 1 0 1 1 1 0 1-1 1 1 1 0 1 1 1-1 1-1 1 0 1 1 1-1 1 0 1 1 1 0 1-1 1 3 1-1 1-2 1 1 1 2 1-3 1 0 1 2 1-2 1 1 1-1 1 2 1 0 1-2 1 2 1 1 1-2 1-1 1 0 1 0 1 2 1-1 1-1 1 0 1 1 1-1 1 0 1 1 1 0 1 1 1-1 1-1 1 0 1 1 1-1 1 0 1 2 1-2 1 1 1 1 1 2 1-4 1 4 1-1 1-2 1 0 1 0 1 0 1 1 1-2 1 0 1 0 1 0 1 0 1 0 1 1 1-1 1 3 1-2 1 0 1 0 1 1 1 0 1 1 1-2 1 2 1-3 1 1 1 0 1-1 1 1 1-1 1 0 1 1 1-1 1 2 1 1 1-1 1-1 1-1 1 1 1 2 1 0 1-2 1 0 1 0 1 0 1-1 1 0 1 0 1 0 1 0 1 2 1-2 1 0 1 0 1 0 1 0 1 0 1 1 1-1 1 1 1 1 1 2 1-4 1 0 1 0 1 1 1 1 1-1 1 0 1 0 1 1 1 0 1 1 1-2 1 2 1-2 1 0 1 1 1-2 1 0 1 0 1 0 1 0 1 0 1 0 1 0 1 2 1-2 1 0 1 1 1 0 1 3 1-2 1 0 1-2 1 0 1 0 1 2 1-2 1 1 1 0 1 0 1-1 1 0 1 0 1 0 1 2 1-1 1 0 1-1 1 0 1 1 1 2 1-3 1 1 1-1 1 1 1 0 1 0 1-1 1 0 1 0 1 0 1 2 1-1 1 0 1 0 1-1 1 2 1 1 1-2 1-1 1 2 1-2 1 2 1 3 1-3 1-2 1 1 1 0 1-1 1 0 1 1 1-1 1 7 1-7 1 1 1-1 1 1 1 1 1 0 1 0 1-1 1 0 1-1 1 1 1 1 1 1 1-2 1-1 1 2 1-2 1 0 1 1 1-1 1 2 1-2 1 0 1 0 1 0 1 1 1 0 1-1 1 1 1-1 1 0 1 1 1 0 1 1 1 0 1 1 1-2 1 1 1 0 1 2 1-2 1 1 1-1 1-2 1 0 1 0 1 1 1 1 1-1 1 0 1 0 1 0 1 1 1-1 1 0 1 0 1-1 1 1 1 1 1 0 1 1 1 2 1-1 1-1 1-1 1-2 1 0 1 0 1 2 1-2 1 0 1 0 1 0 1 0 1 0 1 2 1-2 1 0 1 0 1 0 1 0 1 1 1 0 1 0 1-1 1 0 1 1 1 2 1-3 1 2 1 3 1-3 1-2 1 1 1 0 1 1 1 1 1-2 1 0 1-1 1 3 1-2 1-1 1 0 1 4 1-3 1-1 1 1 1 0 1 5 1-6 1 6 1-5 1 1 1-2 1 0 1 0 1 2 1-1 1-1 1 3 1 0 1 0 1-2 1 0 1-1 1 0 1 1 1 0 1-1 1 2 1-2 1 1 1 0 1-1 1 3 1-3 1 0 1 0 1 1 1-1 1 0 1 0 1 2 1-1 1-1 1 0 1 0 1 0 1 1 1 0 1 1 1 0 1-2 1 1 1-1 1 2 1 1 1-2 1 6 1-6 1-1 1 2 1-2 1 1 1 0 1-1 1 2 1 4 1-5 1 1 1-2 1 0 1 1 1-1 1 0 1 2 1 0 1-2 1 0 1 0 1 0 1 1 1-1 1 0 1 0 1 1 1-1 1 0 1 0 1 0 1 0 1 0 1 1 1 2 1-2 1 0 1 1 1 2 1-3 1 1 1-2 1 0 1 1 1 0 1 1 1-2 1 4 1-3 1 3 1-1 1-2 1-1 1 1 1-1 1 2 1-1 1 0 1-1 1 2 1 0 1-2 1 2 1-2 1 1 1 1 1-2 1 1 1 0 1-1 1 0 1 1 1 1 1-2 1 1 1 2 1-2 1 3 1 1 1-2 1-2 1 4 1-3 1-2 1 3 1-3 1 0 1 0 1 4 1 1 1-4 1 5 1-5 1-1 1 1 1 0 1-1 1 3 1-3 1 1 1 2 1-1 1 0 1-1 1 1 1 2 1-3 1-1 1 0 1 0 1 1 1 1 1-1 1-1 1 1 1 0 1-1 1 0 1 0 1 6 1-5 1 1 1-1 1 0 1 1 1 0 1 2 1 0 1-3 1 1 1-1 1 0 1-1 1 0 1 0 1 1 1 1 1-2 1 0 1 0 1 0 1 1 1-1 1 2 1-1 1-1 1 0 1 0 1 1 1-1 1 0 1 1 1 1 1-2 1 0 1 0 1 0 1 0 1 0 1 3 1-1 1-2 1 0 1 1 1-1 1 1 1 1 1-1 1-1 1 1 1 1 1 1 1-2 1 1 1-2 1 0 1 0 1 0 1 0 1 2 1-2 1 1 1 0 1-1 1 0 1 0 1 0 1 1 1-1 1 0 1 0 1 2 1-1 1-1 1 0 1 1 1 0 1-1 1 0 1 2 1 1 1-2 1-1 1 0 1 3 1-2 1 0 1 0 1-1 1 2 1 0 1-2 1 0 1 4 1-4 1 0 1 1 1 2 1 0 1 0 1-2 1 2 1 0 1-3 1 0 1 1 1-1 1 1 1 0 1 0 1 0 1 1 1-2 1 2 1-2 1 1 1-1 1 2 1-2 1 2 1 3 1-1 1-1 1-1 1-1 1 0 1 1 1-1 1 0 1 1 1 0 1 1 1-2 1-1 1 1 1-1 1 1 1 0 1 0 1 0 1 0 1 0 1 1 1 1 1-1 1 1 1 1 1 1 1 2 1 2 1-1 1-3 1 0 1-1 1-1 1-1 1 0 1-1 1 0 1 0 1 0 1 2 1-1 1-1 1 0 1 0V0" fill="#0000ff" stroke="#00008b" stroke-width="0.85" vector-effect="non-scaling-stroke"/></g>
<path d="M259 2266.5H270.5M259 2405.5H270.5" fill="none" stroke="#333" stroke-width="1"/>
<path d="M270.5 2266.0V2406.0" stroke="#858575" stroke-width="1"/>
<text x="252.4" y="2269.3" class="ax">13</text>
<text x="252.4" y="2408.1" class="ax">0</text>
<text x="74" y="2341.7" class="nm">GSM5550303</text>
<g transform="translate(271.0 2559.0) scale(0.33333 -9.92857)"><path d="M0 0V0l1 0 1 0 1 4 1-2 1 3 1-3 1-1 1-1 1 3 1 0 1 1 1-4 1 1 1 0 1 0 1 2 1-3 1 1 1-1 1 1 1 1 1 0 1-2 1 0 1 2 1-2 1 1 1 0 1 2 1-3 1 1 1 3 1-2 1-1 1 5 1-5 1 1 1-2 1 1 1-1 1 0 1 0 1 1 1 1 1-2 1 1 1 0 1 4 1-2 1-2 1 0 1 0 1-1 1 2 1 0 1 1 1-1 1-2 1 1 1-1 1 3 1-1 1 2 1 0 1-2 1-1 1-1 1 1 1-1 1 1 1-1 1 1 1 0 1 0 1-1 1 1 1 2 1-2 1-1 1 3 1-3 1 0 1 1 1-1 1 0 1 2 1 1 1 2 1-4 1 2 1-2 1 1 1-2 1 6 1-6 1 2 1-1 1-1 1 0 1 0 1 0 1 0 1 0 1 0 1 0 1 2 1-1 1 1 1 0 1-2 1 0 1 1 1-1 1 0 1 1 1 3 1 1 1-4 1 1 1-2 1 0 1 1 1 0 1-1 1 2 1-1 1 2 1 0 1-3 1 1 1 0 1 0 1 0 1 0 1 0 1 2 1-2 1 1 1 2 1 2 1 0 1-3 1-1 1 0 1-1 1 4 1-4 1 0 1 0 1-1 1 2 1 0 1-1 1 0 1 3 1-3 1 4 1-5 1 2 1 0 1 1 1-1 1-2 1 1 1 5 1-6 1 0 1 0 1 0 1 2 1 0 1-1 1-1 1 0 1 1 1 1 1 4 1-4 1 0 1 2 1 0 1 0 1 3 1-3 1-1 1-1 1-1 1 1 1 0 1 0 1-1 1-1 1 1 1 1 1-1 1 1 1 0 1 0 1 1 1 0 1-2 1 1 1 0 1-2 1 1 1 0 1 1 1-1 1 0 1 0 1 0 1-1 1 3 1-1 1-2 1 1 1-1 1 2 1-2 1 1 1 1 1-2 1 1 1-1 1 0 1 1 1-1 1 3 1-3 1 1 1-1 1 2 1-1 1-1 1 1 1 3 1-1 1-2 1-1 1 1 1 1 1-1 1-1 1 0 1 0 1 0 1 1 1 1 1-2 1 0 1 0 1 0 1 5 1-5 1 0 1 0 1 0 1 0 1 0 1 1 1-1 1 0 1 1 1-1 1 0 1 2 1-1 1-1 1 0 1 2 1-2 1 1 1 1 1-1 1 0 1-1 1 1 1 1 1 0 1-2 1 1 1 0 1 2 1-2 1 1 1-2 1 2 1-1 1 0 1 0 1 1 1 0 1-1 1 2 1-3 1 4 1-2 1-1 1 0 1-1 1 3 1-3 1 3 1-2 1 0 1 1 1-2 1 0 1 1 1-1 1 2 1-1 1 2 1-2 1 1 1 3 1-5 1 4 1-3 1 2 1-1 1 0 1 2 1-3 1-1 1 3 1-2 1 0 1 1 1-1 1 1 1-2 1 0 1 0 1 0 1 0 1 0 1 1 1 0 1-1 1 1 1-1 1 2 1-2 1 3 1-2 1 0 1 1 1-2 1 0 1 0 1 2 1-1 1 0 1 1 1-1 1 0 1 1 1-1 1-1 1 0 1 4 1-4 1 1 1 0 1-1 1 1 1 1 1-1 1 0 1-1 1 1 1 2 1 0 1-1 1 0 1 1 1-2 1-1 1 0 1 4 1-4 1 1 1-1 1 1 1 0 1-1 1 0 1 0 1 0 1 2 1-1 1-1 1 0 1 0 1 3 1-1 1 0 1 0 1 0 1 1 1 1 1 2 1-6 1 2 1 2 1-3 1 1 1-1 1-1 1 1 1-1 1 3 1-2 1 3 1-4 1 1 1 0 1 0 1 0 1 1 1-1 1 1 1-2 1 1 1-1 1 0 1 0 1 0 1 0 1 1 1 0 1-1 1 1 1 1 1-1 1 0 1-1 1 1 1 2 1-3 1 1 1 2 1-1 1 1 1 2 1 1 1-3 1 0 1-1 1-1 1 1 1-2 1 0 1 2 1 0 1-1 1-1 1 1 1-1 1 0 1 1 1-1 1 0 1 0 1 1 1 0 1 0 1 0 1 2 1 2 1-1 1-3 1 1 1-1 1 2 1-1 1-1 1-1 1 1 1 0 1-1 1 1 1 0 1 5 1-2 1-3 1 1 1-1 1 0 1-1 1 2 1-1 1 2 1-1 1 2 1 2 1-1 1-2 1-1 1 0 1 0 1-1 1 0 1-1 1 2 1-2 1 1 1-1 1 4 1 0 1-1 1-2 1 0 1-1 1 0 1 0 1 0 1 2 1-1 1 3 1-1 1-1 1 1 1-1 1-1 1 2 1 1 1-1 1-2 1-1 1 0 1 1 1-1 1 1 1 0 1 0 1 1 1 1 1 2 1 2 1-3 1-2 1 0 1-1 1 0 1-1 1 0 1 0 1 2 1-1 1 0 1 0 1 0 1 1 1 2 1-3 1 2 1 0 1 1 1 1 1-4 1 0 1 2 1-2 1 0 1 1 1 0 1 0 1-2 1 0 1 1 1-1 1 1 1 0 1 1 1-2 1 1 1 1 1-2 1 1 1 1 1-1 1 3 1-4 1 0 1 0 1 5 1-4 1 1 1-2 1 2 1 0 1-1 1 2 1-3 1 1 1 0 1 0 1-1 1 2 1 1 1 0 1 2 1-5 1 0 1 0 1 2 1-1 1 0 1 0 1 1 1 0 1 0 1-2 1 1 1-1 1 3 1-2 1-1 1 1 1 0 1-1 1 0 1 0 1 2 1-1 1 0 1 1 1 0 1-1 1-1 1 0 1 0 1 0 1 4 1-4 1 1 1 1 1-1 1-1 1 2 1-2 1 2 1 1 1-2 1 5 1-5 1 2 1-1 1 0 1-2 1 1 1 0 1 4 1-4 1-1 1 0 1 1 1-1 1 1 1 0 1 5 1-1 1-3 1-1 1 1 1-2 1 2 1-1 1 2 1-3 1 0 1 1 1-1 1 1 1 1 1-2 1 0 1 0 1 0 1 1 1-1 1 0 1 1 1 1 1 2 1-4 1 0 1 1 1 1 1 0 1 1 1-3 1 5 1-1 1-2 1-1 1 0 1 2 1-3 1 1 1-1 1 1 1 1 1-2 1 2 1-2 1 2 1-2 1 2 1 0 1 0 1-2 1 0 1 0 1 0 1 0 1 1 1 1 1 1 1-1 1 5 1-6 1-1 1 0 1 0 1 3 1-1 1-2 1 2 1-2 1 0 1 0 1 0 1 4 1-3 1-1 1 0 1 1 1 0 1 0 1-1 1 0 1 0 1 0 1 1 1-1 1 0 1 1 1 0 1 0 1 3 1-3 1 1 1 0 1-1 1 1 1 2 1-3 1 0 1 0 1-1 1 2 1 0 1-1 1 1 1-2 1 1 1 0 1 0 1-1 1 1 1-1 1 4 1-3 1-1 1 1 1 0 1 1 1-2 1 2 1-1 1 0 1-1 1 0 1 1 1 0 1-1 1 0 1 0 1 0 1 0 1 1 1 0 1-1 1 1 1 3 1-3 1 2 1-2 1 1 1 1 1 1 1 4 1-2 1-3 1-1 1-1 1 0 1 0 1 0 1-1 1 3 1 0 1-2 1 2 1-2 1 0 1 1 1 2 1-2 1 1 1 1 1 1 1 3 1 1 1-2 1-2 1-2 1-1 1 0 1-1 1 1 1-1 1 2 1-3 1 1 1-1 1 3 1-2 1 4 1-3 1-2 1 1 1 4 1-4 1 0 1 0 1 1 1 0 1 6 1-2 1 1 1-3 1 0 1 4 1 0 1-4 1 0 1-3 1 0 1 0 1 0 1 0 1 1 1 0 1 2 1 3 1 1 1-3 1-2 1 0 1-2 1 0 1 2 1 1 1-1 1-3 1 2 1 1 1 3 1-2 1-2 1 0 1-1 1-1 1 1 1 4 1 0 1-3 1 0 1 0 1-1 1 0 1 2 1 0 1 2 1-2 1 1 1 3 1 2 1 4 1-3 1-2 1-2 1-1 1-1 1-1 1-1 1-1 1 2 1-2 1 0 1 2 1-2 1 0 1 1 1-1 1 0 1 0 1 0 1 2 1 1 1-4 1 5 1-4 1 2 1 2 1-4 1-1 1 2 1-1 1-1 1 1 1 1 1-1 1 1 1-1 1 0 1-1 1 1 1 0 1 0 1-1 1 1 1-1 1 0 1 0 1 2 1-2 1 0 1 0 1 1 1 0 1 1 1 2 1-2 1-2 1 2 1 1 1-1 1-2 1 3 1 3 1-3 1-2 1 0 1-1 1 1 1 0 1 0 1-1 1 2 1-1 1 1 1-1 1 1 1-2 1 0 1 0 1 1 1 1 1 0 1-1 1 1 1 1 1 1 1-1 1 0 1-2 1-1 1 0 1 1 1 1 1-1 1 0 1 0 1 1 1 4 1-6 1 0 1 3 1-1 1-2 1 0 1 0 1 1 1-1 1 0 1 0 1 0 1 0 1 0 1 0 1 2 1 2 1-3 1 1 1 0 1 2 1-2 1 0 1-1 1 1 1 0 1-1 1 0 1 2 1 1 1-1 1-2 1-1 1 2 1-2 1 0 1 0 1 0 1 1 1-1 1 3 1 2 1-2 1-2 1 0 1-1 1 1 1 0 1 0 1 1 1-1 1 0 1 0 1-1 1 0 1 1 1 0 1 1 1-1 1 0 1 0 1 1 1-1 1-1 1 0 1 0 1 2 1-1 1 0 1 1 1-1 1-1 1 1 1 0 1-1 1 0 1 0 1 1 1 2 1-1 1-2 1 1 1 1 1 0 1 0 1 1 1-1 1-2 1 1 1 1 1-2 1 0 1 0 1 1 1 0 1 1 1 1 1 4 1-6 1 3 1-3 1 0 1-1 1 1 1-1 1 0 1 3 1-3 1 1 1 3 1-3 1 0 1 0 1 0 1-1 1 4 1-3 1 0 1 0 1-1 1 1 1-1 1 1 1 0 1 0 1-1 1 1 1 0 1-1 1 2 1-2 1 0 1 0 1 5 1-5 1 1 1 0 1 0 1-1 1 1 1 0 1 1 1-2 1 3 1 0 1-3 1 1 1 2 1 0 1 1 1-4 1 1 1 0 1 0 1 1 1-2 1 1 1 0 1 2 1-1 1-1 1 0 1 0 1 1 1-2 1 1 1-1 1 0 1 0 1 0 1 0 1 0 1 2 1 0 1 1 1-1 1-2 1 0 1 0 1 0 1 0 1 1 1 1 1-1 1 0 1 0 1 1 1-1 1-1 1 0 1 2 1-1 1 3 1-2 1-1 1 0 1-1 1 1 1 0 1 0 1-1 1 0 1 2 1-1 1 1 1 1 1-3 1 1 1 3 1-3 1 1 1-1 1 0 1 1 1-1 1-1 1 1 1-1 1 4 1-4 1 1 1 2 1-3 1 1 1 0 1 1 1 5 1-6 1-1 1 1 1 0 1 3 1-3 1-1 1 0 1 4 1-3 1 0 1 0 1-1 1 0 1 3 1-2 1 1 1 0 1-2 1 1 1-1 1 0 1 4 1-1 1-2 1 0 1 0 1-1 1 3 1-1 1 0 1-1 1 1 1 1 1-1 1-1 1 1 1-1 1 0 1 3 1-4 1 3 1-3 1 0 1 0 1 0 1 0 1 0 1 0 1 0 1 0 1 2 1-1 1 1 1-2 1 1 1-1 1 1 1-1 1 0 1 0 1 2 1-2 1 3 1-2 1-1 1 3 1-2 1-1 1 0 1 1 1 0 1 0 1-1 1 1 1 1 1 0 1-1 1 0 1-1 1 1 1 1 1-2 1 3 1 0 1-2 1 3 1-4 1 1 1-1 1 0 1 0 1 0 1 0 1 1 1-1 1 1 1-1 1 1 1-1 1 3 1-3 1 0 1 2 1-2 1 0 1 0 1 0 1 1 1 0 1-1 1 4 1-4 1 1 1 1 1-1 1 2 1-3 1 1 1 1 1 1 1-1 1-1 1 1 1 2 1-2 1 1 1-2 1 1 1 1 1-1 1 2 1-1 1-1 1 4 1-4 1 1 1-1 1 2 1-3 1 0 1 0 1 0 1 2 1 1 1-2 1-1 1 0 1 1 1 0 1 0 1 4 1-2 1 1 1 2 1 3 1 3 1-5 1-1 1-2 1-1 1 2 1-1 1-3 1-1 1 0 1 0 1 1 1-2 1 2 1 0 1 0 1 2 1-1 1-2 1 0 1 0 1 0 1 0 1 1 1 1 1 1 1-4 1 2 1 0 1-2 1 0 1 0 1 0 1 0 1 0 1 0 1 7 1-6 1-1 1 1 1 1 1-2 1 3 1 1 1-3 1 0 1 0 1 1 1 1 1 1 1 2 1 1 1-2 1-2 1-1 1 0 1 0 1-1 1 3 1 3 1-6 1 0 1 0 1 1 1 0 1 5 1-6 1-1 1 7 1-6 1 0 1 0 1-1 1 4 1-4 1 2 1-2 1 0 1 0 1 5 1-4 1-1 1 3 1-1 1-1 1 1 1 0 1 0 1 1 1-3 1 2 1-1 1 0 1-1 1 2 1-2 1 1 1 0 1 1 1 4 1-4 1 2 1-3 1 1 1-2 1 2 1 0 1-2 1 2 1-2 1 0 1 0 1 0 1 0 1 2 1-1 1 0 1 0 1 0 1 0 1-1 1 2 1-2 1 3 1-2 1 0 1 3 1-4 1 0 1 3 1-2 1 1 1 0 1 1 1-2 1-1 1 1 1 0 1 1 1-2 1 0 1 1 1-1 1 1 1 1 1-2 1 0 1 2 1 0 1-1 1-1 1 2 1-2 1 2 1-2 1 2 1 1 1-3 1 0 1 0 1 0 1 0 1 1 1 0 1 0 1 0 1-1 1 2 1 2 1-3 1 1 1 0 1 0 1-1 1 0 1 0 1-1 1 1 1 0 1 0 1-1 1 1 1 0 1 1 1-2 1 1 1-1 1 0 1 0 1 2 1 1 1-2 1-1 1 0 1 0 1 1 1 2 1 0 1-2 1 1 1-2 1 0 1 0 1 3 1-3 1 0 1 0 1 2 1 4 1-6 1 3 1-2 1-1 1 1 1 4 1-4 1 0 1 2 1-3 1 0 1 2 1-2 1 2 1 0 1 0 1-1 1 0 1-1 1 0 1 1 1 0 1 1 1-1 1 0 1 0 1 0 1 0 1 0 1 2 1-3 1 2 1 0 1-2 1 3 1-3 1 0 1 0 1 2 1-1 1 1 1 1 1-2 1 0 1-1 1 1 1 0 1-1 1 0 1 0 1 2 1-2 1 0 1 1 1 0 1 2 1-3 1 3 1-2 1-1 1 1 1-1 1 0 1 0 1 0 1 0 1 0 1 0 1 7 1-7 1 2 1-2 1 0 1 0 1 0 1 1 1 1 1-1 1-1 1 1 1 2 1-1 1-1 1 4 1-3 1-1 1 0 1 0 1 1 1-1 1 0 1 3 1-4 1 2 1 2 1-3 1 1 1 1 1 1 1-4 1 4 1 0 1 2 1-6 1 3 1-3 1 4 1-3 1 2 1-3 1 1 1 1 1 0 1 0 1-1 1 0 1 0 1 0 1 1 1-1 1 0 1-1 1 0 1 0 1 0 1 0 1 0 1 1 1 1 1 0 1 1 1-3 1 5 1 1 1-4 1 0 1 0 1 0 1 4 1-4 1 0 1-2 1 3 1-1 1-2 1 1 1 0 1 0 1 1 1 0 1-1 1-1 1 0 1 0 1 1 1-1 1 4 1-2 1-2 1 3 1-3 1 1 1 0 1-1 1 0 1 0 1 0 1 2 1-2 1 0 1 0 1 0 1 0 1 6 1-6 1 1 1-1 1 1 1-1 1 0 1 0 1 0 1 1 1-1 1 1 1-1 1 0 1 1 1-1 1 0 1 0 1 4 1-3 1 1 1-2 1 2 1 2 1-3 1 0 1 0 1 0 1 0 1 1 1-1 1 2 1-3 1 0 1 0 1 1 1 0 1 2 1 1 1-2 1 0 1 1 1-1 1-1 1 1 1 0 1-1 1 0 1-1 1 2 1-1 1-1 1 0 1 2 1 1 1-2 1 1 1 0 1 0 1-2 1 1 1 1 1-1 1 1 1-1 1 2 1-3 1 1 1 0 1 0 1 0 1-1 1 1 1-1 1 1 1-1 1 2 1 1 1-2 1-1 1 1 1-1 1 2 1-1 1-1 1 3 1-1 1-1 1 0 1 1 1-1 1 0 1-1 1 3 1 0 1 1 1-2 1-1 1 0 1 0 1-1 1 2 1 2 1-4 1 2 1-2 1 1 1 2 1-3 1 3 1 1 1 1 1-5 1 0 1 1 1 0 1 0 1 0 1 0 1 1 1-1 1 0 1 2 1 0 1-3 1 2 1 2 1-1 1-2 1 0 1 1 1-1 1 0 1-1 1 3 1-3 1 1 1-1 1 2 1-1 1-1 1 0 1 0 1 1 1-1 1 2 1-2 1 0 1 1 1-1 1 1 1 3 1-3 1 0 1 0 1 2 1-2 1 2 1 0 1 0 1-2 1-1 1 2 1 0 1 3 1-2 1 0 1 1 1-4 1 4 1-3 1 1 1-2 1 1 1-1 1 0 1 2 1-2 1 1 1-1 1 1 1-1 1 4 1-4 1 1 1 2 1-3 1 0 1 2 1 1 1-3 1 0 1 3 1-2 1-1 1 2 1 0 1 2 1-2 1 0 1 2 1-1 1-1 1 0 1-1 1-1 1 2 1 0 1-2 1 1 1-1 1 2 1-2 1 2 1-2 1 0 1 0 1 0 1 2 1-2 1 1 1 1 1-2 1 1 1 0 1 1 1-2 1 0 1 0 1 0 1 1 1 0 1 1 1-1 1 4 1-3 1 0 1-2 1 2 1 1 1-1 1-1 1 1 1 0 1 0 1-2 1 3 1-3 1 2 1 0 1 1 1-1 1-1 1 0 1-1 1 0 1 0 1 1 1 0 1-1 1 2 1-1 1 0 1-1 1 2 1 0 1-2 1 1 1-1 1 2 1-2 1 1 1 0 1 2 1-2 1-1 1 3 1 0 1-2 1 6 1-5 1-1 1 1 1-2 1 2 1 0 1 0 1-1 1-1 1 0 1 1 1 2 1-2 1 1 1-1 1 1 1-1 1 1 1-1 1 1 1-1 1-1 1 0 1 1 1 0 1 2 1-1 1 0 1-1 1 1 1-1 1-1 1 0 1 0 1 1 1-1 1 1 1-1 1 4 1-4 1 1 1 1 1-1 1-1 1 0 1 1 1 2 1-2 1 0 1 1 1 0 1 1 1 2 1 0 1-4 1 0 1 0 1 0 1 0 1 0 1 0 1-1 1 5 1-4 1 2 1-2 1 4 1-3 1-1 1-1 1 1 1 0 1-1 1 1 1-1 1 2 1 0 1 0 1 2 1-3 1 0 1 3 1-4 1 1 1 0 1-1 1 2 1-2 1 0 1 0 1 0 1 0 1 1 1-1 1 0 1 0 1 1 1 0 1-1 1 2 1-1 1 1 1 3 1-4 1 4 1-4 1-1 1 1 1-1 1 1 1 1 1-2 1 1 1 1 1-2 1 0 1 0 1 0 1 1 1-1 1 0 1 0 1 0 1 1 1-1 1 0 1 0 1 4 1 2 1-5 1 0 1-1 1 0 1 1 1-1 1 2 1 1 1-2 1-1 1 3 1-1 1 0 1 0 1-2 1 0 1 0 1 1 1 0 1 2 1-3 1 1 1 0 1-1 1 1 1 0 1 0 1 0 1-1 1 2 1-2 1 4 1-4 1 1 1 1 1-1 1-1 1 1 1 1 1 1 1-3 1 0 1 4 1-2 1-1 1 0 1-1 1 0 1 0 1 0 1 0 1 0 1 2 1-2 1 0 1 1 1 1 1 1 1 0 1-2 1 2 1 0 1 0 1-2 1 0 1 0 1 0 1 0 1 0 1-1 1 0 1 0 1 0 1 1 1 0 1 0 1 0 1-1 1 1 1 6 1-2 1-4 1 0 1 2 1-1 1-2 1 0 1 1 1-1 1 1 1 1 1-2 1 0 1 0 1 0 1 0 1 0 1 0 1 0 1 0 1 2 1-1 1 0 1 3 1-2 1-1 1-1 1 1 1-1 1 1 1 1 1-1 1 0 1 0 1 0 1 0 1 0 1 0 1 1 1 2 1 2 1-4 1 2 1-4 1 1 1-1 1 3 1-1 1 0 1 2 1-2 1-2 1 2 1 0 1-2 1 3 1 0 1 1 1-1 1 0 1 0 1-3 1 2 1 0 1-1 1 1 1 1 1-2 1 3 1-4 1 4 1-4 1 2 1-1 1-1 1 1 1-1 1 1 1-1 1 1 1-1 1 0 1 1 1 2 1-3 1 1 1 1 1-1 1-1 1 2 1 0 1-2 1 1 1 0 1 4 1-4 1-1 1 0 1 0 1 1 1 0 1 1 1-2 1 1 1 1 1 0 1-2 1 1 1 2 1-2 1-1 1 1 1 0 1-1 1 1 1 0 1-1 1 3 1-3 1 1 1-1 1 0 1 0 1 0 1 0 1 0 1 3 1-1 1-1 1 0 1 0 1-1 1 0 1 0 1 0 1 1 1-1 1 0 1 1 1 2 1-2 1 0 1 0 1 1 1 0 1-1 1 2 1-3 1 0 1 2 1-1 1 1 1 1 1-3 1 0 1 0 1 0 1 2 1-1 1-1 1 0 1 0 1 0 1 3 1 0 1-3 1 1 1 0 1-1 1 0 1 0 1 1 1 2 1 3 1-5 1 1 1-2 1 0 1 0 1 1 1-1 1 0 1 2 1-1 1 0 1 4 1-5 1 0 1 0 1 0 1 1 1-1 1 2 1-2 1 2 1-2 1 1 1-1 1 0 1 1 1 0 1 0 1-1 1 1 1 0 1-1 1 2 1 0 1 1 1-2 1 0 1 1 1-2 1 0 1 0 1 0 1 0 1 0 1 1 1 4 1-5 1 0 1 0 1 0 1 1 1 1 1-2 1 1 1 0 1 1 1-2 1 0 1 1 1 0 1 2 1 0 1-3 1 0 1 1 1 2 1-3 1 0 1 0 1 0 1 1 1 1 1 0 1 2 1-1 1 0 1-1 1 1 1-3 1 2 1-1 1-1 1 0 1 2 1-2 1 6 1-5 1 0 1-1 1 0 1 0 1 3 1-1 1 0 1 0 1 1 1 1 1-3 1 0 1 1 1-1 1-1 1 0 1 1 1 0 1-1 1 1 1-1 1 2 1-2 1 0 1 0 1 4 1-1 1-3 1 2 1-1 1 0 1-1 1 0 1 0 1 0 1 3 1-2 1 0 1 1 1 0 1-2 1 0 1 0 1 0 1 1 1 1 1 0 1 1 1-2 1 4 1-4 1-1 1 2 1-1 1 0 1 0 1 0 1 3 1-4 1 2 1 1 1-2 1 0 1-1 1 1 1 0 1-1 1 1 1-1 1 1 1 2 1-3 1 0 1 1 1 1 1 0 1-2 1 1 1 1 1 0 1 1 1-2 1-1 1 1 1 0 1 0 1 0 1 0 1-1 1 1 1 0 1-1 1 1 1 2 1-3 1 3 1-3 1 4 1-4 1 1 1-1 1 1 1-1 1 0 1 2 1-1 1 0 1 2 1 1 1-1 1-1 1 1 1-1 1-1 1-1 1 0 1 1 1-1 1 0 1 0 1 2 1 0 1 0 1-2 1 2 1-1 1 0 1-1 1 0 1 0 1 0 1 1 1 0 1 1 1 3 1-5 1 1 1 0 1 2 1-3 1 1 1-1 1 1 1 0 1-1 1 3 1-1 1-1 1 1 1 0 1-2 1 2 1-1 1-1 1 0 1 2 1-1 1 0 1 0 1 0 1 1 1 0 1 2 1-2 1-1 1 2 1-1 1 1 1 2 1-2 1-2 1 2 1 1 1 2 1-4 1-1 1-1 1 1 1-1 1 0 1 0 1 2 1-1 1 0 1 2 1 1 1-3 1 0 1 2 1-1 1 1 1-2 1 1 1 0 1 4 1-4 1 4 1-5 1 4 1-3 1 2 1-3 1 0 1 3 1-4 1 2 1 0 1 3 1-4 1 1 1 0 1 3 1-3 1-2 1 2 1 1 1-2 1 1 1-1 1 2 1-3 1 1 1 0 1 1 1 1 1 0 1 0 1-1 1 0 1-1 1 1 1-2 1 0 1 0 1 0 1 0 1 2 1-2 1 0 1 0 1 0 1 1 1 1 1-1 1-1 1 1 1 1 1 1 1-3 1 0 1 0 1 1 1 1 1-1 1-1 1 0 1 3 1-2 1 2 1-3 1 1 1-1 1 2 1 0 1 0 1 0 1 1 1-2 1 1 1 0 1-1 1-1 1 1 1 0 1 0 1-1 1 0 1 0 1 3 1-2 1 3 1-3 1-1 1 1 1-1 1 6 1-4 1-2 1 1 1 2 1 3 1 0 1-3 1 2 1-4 1 1 1 0 1 1 1-3 1 2 1 0 1 0 1 0 1-1 1 1 1-1 1 1 1 1 1-1 1 3 1-3 1 1 1-3 1 0 1 0 1 1 1-1 1 2 1-1 1 0 1-1 1 0 1 1 1-1 1 2 1 0 1-1 1-1 1 1 1 0 1-1 1 0 1 0 1 1 1 0 1-1 1 0 1 0 1 0 1 1 1-1 1 1 1-1 1 3 1 0 1 0 1 1 1-3 1 1 1 1 1-3 1 1 1 0 1 3 1-2 1 1 1-1 1-1 1 0 1-1 1 2 1 0 1-2 1 0 1 1 1 0 1 0 1 0 1-1 1 2 1 0 1 0 1-2 1 0 1 4 1-4 1 2 1-1 1-1 1 1 1 0 1 0 1 0 1-1 1 1 1-1 1 0 1 0 1 1 1 0 1-1 1 2 1 0 1-2 1 2 1 0 1-1 1 0 1 0 1 0 1 0 1-1 1 1 1 0 1 0 1 0 1 0 1-1 1 1 1 0 1 1 1-2 1 3 1-3 1 1 1-1 1 0 1 0 1 5 1-3 1-1 1-1 1 0 1 0 1 1 1-1 1 0 1 1 1-1 1 0 1 0 1 0 1 4 1-4 1 2 1-1 1 0 1 0 1 0 1 1 1 0 1-1 1 0 1-1 1 1 1 0 1 2 1 0 1-3 1 2 1 0 1-2 1 3 1 0 1 0 1 0 1 0 1-1 1 0 1-1 1 0 1 4 1-3 1-2 1 0 1 0 1 0 1 0 1 0 1 2 1 0 1-2 1 0 1 1 1 1 1 5 1-2 1-4 1-1 1 2 1-2 1 2 1-2 1 2 1 0 1 1 1-3 1 2 1 1 1-3 1 1 1 0 1 0 1 2 1-3 1 1 1-1 1 0 1 0 1 0 1 1 1-1 1 0 1 0 1 2 1-1 1 0 1 0 1 1 1 4 1-4 1 0 1 1 1-1 1 1 1-1 1-2 1 2 1-1 1 0 1-1 1 2 1-2 1 4 1-3 1 0 1 1 1 0 1 0 1-1 1 5 1-5 1 1 1 0 1-2 1 2 1-1 1 1 1-2 1 0 1 1 1-1 1 0 1 2 1-1 1 1 1 1 1-3 1 1 1 0 1-1 1 0 1 0 1 3 1-3 1 6 1-6 1 2 1 0 1 0 1-1 1-1 1 1 1-1 1 3 1-2 1 1 1 1 1-2 1-1 1 1 1 0 1 1 1-1 1 0 1 0 1 0 1 1 1-2 1 2 1-1 1 3 1-2 1-1 1 1 1-2 1 1 1 0 1 2 1-3 1 0 1 1 1-1 1 0 1 1 1-1 1 2 1 0 1-2 1 0 1 1 1 0 1-1 1 2 1 0 1-1 1 0 1-1 1 2 1-2 1 0 1 0 1 0 1 0 1 1 1-1 1 0 1 2 1 2 1-2 1-1 1 1 1-2 1 1 1 0 1 0 1-1 1 1 1 0 1-1 1 0 1 0 1 1 1-1 1 0 1 0 1 1 1 2 1-2 1-1 1 0 1 0 1 0 1 0 1 2 1 0 1-1 1 0 1 4 1-5 1 3 1-3 1 2 1-2 1 2 1-2 1 1 1 0 1-1 1 0 1 0 1 1 1 0 1-1 1 0 1 0 1 7 1-6 1 1 1-1 1 0 1-1 1 0 1 0 1 0 1 0 1 0 1 1 1 2 1-2 1-1 1 0 1 2 1 1 1-2 1 2 1-3 1 1 1 0 1-1 1 0 1 1 1 0 1-1 1 2 1-2 1 1 1 2 1-1 1-1 1 0 1 0 1 0 1-1 1 0 1 2 1 0 1-2 1 2 1-1 1-1 1 2 1 0 1-1 1-1 1 1 1 4 1-1 1-2 1 1 1-2 1 2 1 1 1 2 1-3 1-2 1 3 1-3 1 4 1-5 1 2 1-1 1 0 1 0 1-1 1 0 1 1 1-1 1 1 1 2 1-1 1-1 1-1 1 1 1 1 1 1 1-2 1 0 1 2 1-2 1 0 1 0 1 1 1-1 1-1 1 1 1 4 1-4 1 0 1 0 1-1 1 1 1 2 1-1 1 1 1-2 1 0 1 1 1 0 1 1 1-2 1 0 1 0 1-1 1 1 1 3 1-3 1-1 1 2 1 0 1-2 1 5 1-4 1-1 1 0 1 1 1-1 1 0 1 2 1 0 1-2 1 0 1 1 1 0 1 2 1 2 1-3 1-1 1 0 1-1 1 0 1 1 1-1 1 0 1 0 1 0 1 1 1 1 1-1 1 1 1-2 1 1 1 1 1-1 1 0 1-1 1 0 1 1 1 0 1-1 1 1 1-1 1 2 1-1 1 1 1 0 1 2 1-3 1-1 1 0 1 2 1-1 1 0 1-1 1 1 1 1 1-2 1 3 1-3 1 0 1 1 1-1 1 0 1 0 1 1 1 2 1-2 1 1 1 0 1-1 1 0 1-1 1 2 1 1 1-2 1 0 1 0 1 3 1-3 1 1 1-1 1-1 1 1 1-1 1 0 1 2 1-2 1 2 1 0 1-2 1 6 1-2 1-4 1 1 1-1 1 0 1 0 1 0 1 2 1-2 1 1 1-1 1 2 1-2 1 1 1-1 1 0 1 1 1-1 1 2 1 0 1-2 1 1 1-1 1 1 1 0 1 0 1 3 1-3 1 0 1-1 1 3 1-1 1-2 1 1 1 0 1 3 1-4 1 2 1 1 1-3 1 2 1-2 1 2 1 0 1-1 1 0 1 1 1 0 1 0 1 0 1 1 1-2 1 0 1 0 1 0 1 0 1 1 1 0 1 1 1 4 1-2 1 2 1 1 1 1 1 3 1 2 1-6 1-1 1-1 1 0 1-1 1-1V0" fill="#0000ff" stroke="#00008b" stroke-width="0.85" vector-effect="non-scaling-stroke"/></g>
<path d="M259 2420.5H270.5M259 2559.5H270.5" fill="none" stroke="#333" stroke-width="1"/>
<path d="M270.5 2420.0V2560.0" stroke="#858575" stroke-width="1"/>
<text x="252.4" y="2423.3" class="ax">14</text>
<text x="252.4" y="2562.1" class="ax">0</text>
<text x="74" y="2495.7" class="nm">GSM5550302</text>
<g transform="translate(271.0 2713.0) scale(0.33333 -8.17647)"><path d="M0 0V3l1 0 1-2 1 1 1-2 1 2 1 0 1-2 1 0 1 0 1 1 1 0 1 0 1 0 1 0 1 0 1 1 1-1 1 0 1-1 1 3 1-3 1 0 1 1 1 0 1 0 1 0 1-1 1 1 1 1 1 0 1 1 1 1 1-3 1 3 1-2 1-2 1 2 1-1 1 1 1-2 1 0 1 0 1 0 1 1 1-1 1 1 1 0 1 1 1-2 1 1 1 2 1-2 1 1 1 0 1 0 1-1 1 0 1-1 1 2 1 0 1 0 1 0 1 1 1 2 1-3 1-1 1-1 1 5 1-1 1-1 1-3 1 1 1 5 1-5 1 0 1-1 1 0 1 2 1-1 1 1 1-2 1 0 1 1 1 0 1 4 1 1 1-6 1 2 1-2 1 0 1 1 1 0 1 1 1-1 1-1 1 3 1-2 1 0 1 0 1 0 1-1 1 2 1 0 1 0 1-1 1 1 1-1 1-1 1 2 1-1 1-1 1 0 1 0 1 0 1 1 1-1 1 1 1-1 1 1 1 0 1 0 1 0 1 0 1-1 1 0 1 0 1 0 1 2 1-2 1 2 1 1 1-2 1 1 1-2 1 3 1-3 1 4 1-4 1 2 1 3 1-3 1 1 1 0 1 1 1-2 1 0 1 2 1 1 1-5 1 2 1 1 1-2 1 1 1 2 1 1 1-2 1-2 1 1 1 0 1-1 1-1 1 0 1 0 1 1 1-1 1 1 1-1 1 1 1-1 1 2 1-1 1 0 1 2 1-2 1 0 1 1 1-2 1 3 1-3 1 0 1 0 1 2 1 0 1-2 1 0 1 0 1 0 1 2 1-1 1-1 1 3 1-3 1 1 1-1 1 1 1 0 1-1 1 0 1 3 1 1 1-4 1 2 1-2 1 2 1-2 1 0 1 0 1 0 1 2 1-1 1 0 1 0 1-1 1 1 1 0 1-1 1 0 1 1 1 1 1-2 1 1 1-1 1 1 1-1 1 1 1-1 1 1 1-1 1 1 1-1 1 1 1-1 1 0 1 1 1 4 1-4 1 1 1 0 1 0 1-2 1 1 1-1 1 0 1 3 1-1 1-1 1 6 1-5 1 0 1-2 1 1 1 0 1 1 1-1 1 0 1 0 1-1 1 2 1-2 1 1 1 2 1-2 1-1 1 1 1-1 1 0 1 0 1 0 1 1 1 1 1-1 1 0 1-1 1 2 1-2 1 0 1 0 1 0 1 0 1 2 1-1 1-1 1 3 1-2 1-1 1 0 1 1 1-1 1 0 1 1 1 1 1-2 1 2 1 1 1 2 1-3 1-1 1 2 1-1 1-2 1 4 1-3 1 0 1 0 1 3 1-3 1 0 1 0 1 1 1-2 1 3 1-2 1 0 1-1 1 3 1 0 1-3 1 0 1 0 1 0 1 0 1 6 1-5 1 0 1 0 1 1 1-2 1 4 1 1 1-2 1-2 1 0 1-1 1 1 1 0 1 1 1-2 1 1 1 0 1 2 1-3 1 1 1-1 1 1 1 0 1-1 1 0 1 0 1 0 1 7 1-5 1-2 1 1 1-1 1 2 1-1 1-1 1 1 1 0 1 0 1 2 1 1 1-4 1 5 1-3 1-1 1 0 1 1 1 0 1 1 1 2 1-2 1 6 1-8 1 2 1 0 1 1 1-4 1 2 1-1 1 0 1-1 1 1 1 1 1 0 1 1 1-1 1 4 1-4 1-1 1 0 1 5 1-3 1-2 1 1 1-1 1 1 1 0 1-1 1 1 1-1 1 1 1-2 1 0 1 1 1 0 1 1 1 3 1-2 1 2 1 2 1-3 1-2 1 0 1-1 1 0 1 0 1 0 1-1 1 1 1 0 1-1 1 3 1 2 1-1 1-1 1-1 1 1 1 0 1-1 1-1 1 0 1 0 1-1 1 0 1 1 1-1 1 2 1-1 1 0 1 0 1 1 1-2 1 1 1 0 1-1 1 0 1 1 1 0 1 0 1 4 1-3 1-2 1 2 1 2 1-1 1 1 1-1 1 0 1 1 1-1 1-3 1 1 1 0 1 4 1-4 1 1 1-1 1-1 1 2 1 1 1-2 1 0 1 1 1-1 1 0 1-1 1 2 1-1 1 0 1 1 1 1 1 1 1-1 1-2 1 5 1-2 1-3 1 2 1-3 1 1 1 1 1-1 1 0 1 1 1-1 1 1 1-1 1 0 1 4 1-5 1 0 1 1 1 1 1 0 1-2 1 1 1 0 1-1 1 0 1 1 1 0 1 0 1 0 1-1 1 2 1-1 1 1 1 1 1-2 1 1 1 0 1-2 1 1 1 2 1-3 1 0 1 2 1-2 1 0 1 1 1 3 1-4 1 0 1 1 1 0 1 0 1 1 1 0 1 1 1 1 1 1 1 2 1-3 1-1 1 0 1 3 1-4 1-1 1 0 1 0 1 0 1 0 1-1 1 1 1-1 1 1 1 0 1-1 1 0 1 0 1 0 1 0 1 0 1 0 1 1 1 2 1-3 1 0 1 0 1 1 1 0 1 0 1-1 1 0 1 0 1 1 1-1 1 0 1 3 1-1 1-1 1-1 1 0 1 1 1-1 1 0 1 1 1 2 1-2 1 1 1 1 1-1 1-1 1 3 1-1 1 0 1-1 1 0 1 0 1-1 1 0 1-1 1 0 1 0 1 0 1 1 1-1 1 1 1 0 1-1 1 0 1 4 1-1 1-3 1 1 1-1 1 0 1 0 1 0 1 0 1 1 1 1 1-2 1 0 1 0 1 0 1 1 1-1 1 1 1-1 1 0 1 1 1 0 1 2 1-1 1 3 1-5 1 1 1 0 1 1 1 2 1-1 1-2 1 0 1 1 1 0 1-2 1 2 1 0 1-1 1 0 1 1 1-1 1 0 1 0 1 0 1-1 1 2 1 0 1 0 1-2 1 2 1-2 1 3 1-2 1 2 1-3 1 0 1 1 1 3 1-2 1 0 1-1 1 0 1-1 1 1 1 3 1-1 1-1 1 0 1-2 1 4 1 0 1-4 1 4 1-4 1 1 1-1 1 3 1 0 1-2 1 2 1-2 1 2 1-3 1 0 1 1 1 2 1 1 1-3 1 1 1-1 1 0 1 0 1 0 1 0 1 3 1-2 1-1 1 0 1 1 1-2 1 0 1 1 1 1 1 2 1-4 1 1 1 1 1-1 1-1 1 0 1 0 1 1 1-1 1 0 1 1 1 0 1-1 1 0 1 2 1-2 1 1 1-1 1 2 1 0 1-2 1 5 1-3 1 0 1 0 1-1 1 0 1-1 1 1 1 0 1-1 1 1 1-1 1 3 1-1 1-1 1-1 1 2 1-1 1-1 1 1 1 0 1-1 1 2 1-2 1 0 1 0 1 6 1-6 1 1 1 0 1-1 1 0 1 0 1 0 1 0 1 0 1 3 1-1 1-1 1 2 1-1 1-1 1-1 1 0 1 1 1-1 1 1 1-1 1 0 1 1 1 1 1-1 1 1 1-1 1 0 1 1 1-1 1 5 1-5 1 1 1-1 1 0 1 0 1 0 1 0 1-1 1 0 1 1 1 1 1-2 1 2 1-2 1 1 1-1 1 4 1 1 1-3 1 0 1-2 1 0 1 0 1 0 1 0 1 2 1 1 1-1 1 0 1-1 1-1 1 0 1 0 1 1 1-1 1 1 1-1 1 2 1 1 1-3 1 1 1-1 1 2 1-2 1 2 1-2 1 1 1-1 1 0 1 1 1-1 1 0 1 1 1 1 1 1 1-1 1-1 1 3 1-1 1-2 1 0 1 1 1 1 1 1 1 1 1-1 1 2 1 2 1 2 1 7 1 0 1-5 1-3 1-2 1-1 1-2 1-1 1-1 1 0 1-1 1 1 1-1 1 2 1 0 1-2 1 1 1 0 1 1 1-1 1-1 1 2 1 0 1 0 1 0 1-3 1 4 1-2 1 1 1-2 1 1 1 2 1-1 1 1 1 1 1 0 1 4 1 3 1-5 1 0 1-1 1-3 1 1 1 0 1 0 1-3 1 0 1 0 1 0 1 0 1 3 1 1 1-5 1 0 1 2 1 0 1-1 1 1 1-2 1 1 1-1 1 0 1 0 1 2 1-2 1 1 1-1 1 0 1 1 1 0 1-1 1 0 1 3 1 0 1 1 1-4 1 0 1 2 1 0 1-2 1 0 1 0 1 2 1-2 1 2 1-1 1-1 1 0 1 0 1 0 1 1 1 0 1-1 1 2 1 0 1 0 1-2 1 1 1 0 1 4 1-5 1 0 1 4 1 1 1 0 1 1 1-5 1 1 1-2 1 3 1-3 1 1 1 2 1-1 1-2 1 0 1 1 1 0 1 0 1 1 1-2 1 1 1-1 1 1 1 2 1-1 1-2 1 2 1 2 1 0 1-3 1 0 1-1 1 1 1-1 1 0 1 1 1 1 1 0 1 3 1-1 1-1 1 0 1-1 1 0 1-1 1 1 1-2 1 1 1-1 1 2 1 0 1-1 1 3 1 0 1 0 1-2 1-2 1 0 1 0 1 1 1-1 1 0 1 1 1-1 1 0 1 0 1 0 1 2 1 1 1-2 1 0 1 0 1-1 1 2 1-2 1 1 1-1 1 1 1-1 1 0 1 0 1 0 1 1 1-1 1 2 1-1 1-1 1 2 1-1 1 0 1 0 1 0 1 5 1-6 1 1 1 3 1-3 1-1 1 0 1 0 1 0 1 2 1-2 1 0 1 1 1-1 1 1 1 2 1-2 1 1 1 1 1-2 1 0 1 1 1-1 1 0 1 0 1-1 1 2 1 2 1-2 1-2 1 5 1-3 1-2 1 2 1 1 1-1 1 0 1-1 1 1 1 0 1-1 1 0 1-1 1 4 1-3 1 0 1-1 1 3 1 0 1 1 1 1 1-3 1-2 1 1 1 1 1 0 1-2 1 2 1 4 1-1 1-3 1-2 1 6 1-2 1-1 1 4 1-5 1 0 1 1 1-1 1 0 1 0 1-1 1 3 1 0 1-1 1-1 1-2 1 0 1 1 1-1 1 2 1-1 1 1 1 0 1-1 1 0 1 1 1-1 1 0 1-1 1 1 1 0 1 0 1 0 1 0 1 0 1 1 1 3 1-4 1 0 1 0 1 0 1-1 1 4 1 0 1 1 1-5 1 2 1 1 1 1 1-2 1-1 1 0 1-1 1 1 1-1 1 1 1 1 1-2 1 1 1 1 1-1 1 0 1-1 1 1 1 1 1-2 1 1 1 0 1 0 1-1 1 2 1-2 1 0 1 1 1 0 1 0 1-1 1 1 1 0 1-1 1 1 1 0 1 0 1 2 1-3 1 1 1-1 1 1 1 1 1-1 1 4 1-3 1-1 1 3 1-1 1 0 1 1 1-3 1 0 1 0 1 1 1 1 1-2 1 0 1 1 1 2 1-3 1-1 1 3 1-2 1 1 1 2 1-4 1 4 1-2 1 4 1-4 1 3 1-2 1-1 1-1 1 0 1 2 1-2 1 2 1-3 1 1 1-1 1 2 1-1 1-1 1 6 1-5 1-1 1 0 1 3 1-2 1 0 1 3 1 0 1-2 1-1 1-1 1 5 1 0 1-4 1-1 1 0 1 0 1 1 1 4 1-3 1-1 1 0 1 1 1-1 1 0 1-1 1 0 1 0 1 2 1-1 1-1 1 0 1 2 1-2 1 2 1-2 1 0 1 2 1-1 1-1 1 1 1 3 1-1 1 3 1-5 1 0 1-1 1 1 1-1 1 0 1 0 1 0 1 1 1-1 1 0 1 2 1-2 1 1 1 1 1-2 1 0 1 3 1 2 1-4 1 1 1-2 1 1 1 3 1 0 1-4 1 0 1 0 1 1 1 0 1 1 1-1 1 0 1 2 1 4 1-6 1 0 1 0 1 2 1-2 1 2 1 0 1 3 1-5 1 0 1-1 1 0 1 0 1 3 1-3 1 1 1-1 1 1 1-1 1 1 1-1 1 0 1 0 1 2 1-1 1 0 1 1 1-1 1 0 1 2 1 1 1-2 1 1 1-3 1 2 1-1 1 2 1-1 1 0 1 1 1 1 1 0 1 2 1 2 1 2 1-2 1-2 1-2 1 0 1-2 1 0 1-1 1 3 1-2 1-2 1 5 1 0 1-5 1 1 1 2 1 3 1-1 1-4 1 0 1-1 1 2 1 3 1-5 1 3 1 0 1 0 1 3 1-5 1 1 1 2 1-2 1 3 1-5 1 2 1 1 1-2 1 1 1 0 1-2 1 0 1 2 1-1 1 0 1 1 1 1 1 0 1-1 1 2 1-2 1 1 1 1 1 0 1 1 1 3 1 3 1-3 1-1 1-2 1-2 1 0 1-1 1 0 1-1 1 1 1 1 1 3 1-4 1-2 1 1 1-1 1 2 1 2 1-3 1 0 1-1 1 1 1 3 1-4 1 1 1-1 1 0 1 1 1 2 1-3 1 0 1 0 1 0 1 2 1 4 1-6 1 0 1 1 1 2 1-2 1-1 1 1 1 0 1 3 1-1 1-1 1 0 1 0 1 2 1-3 1 1 1-1 1 1 1-2 1 6 1-2 1-3 1 1 1-2 1 0 1 1 1 0 1 0 1 0 1-1 1 1 1 0 1 1 1-2 1 1 1 1 1-2 1 1 1 1 1 0 1 0 1-1 1 1 1-1 1-1 1 6 1-5 1 0 1 1 1-1 1-1 1 1 1 2 1-2 1-1 1 1 1 0 1 3 1 1 1-2 1 2 1-2 1 0 1-2 1-1 1 1 1-1 1 0 1 1 1-1 1 2 1-1 1 2 1-2 1 0 1-1 1 1 1 1 1-1 1 0 1 1 1 1 1-3 1 1 1 0 1 2 1 0 1-2 1 2 1-1 1 2 1-1 1-2 1 0 1 0 1 4 1-3 1-1 1-1 1 5 1-5 1 0 1 0 1 1 1 0 1-1 1 1 1 0 1 0 1-1 1 1 1 2 1-3 1 3 1 0 1-2 1 2 1-3 1 1 1-1 1 1 1-1 1 0 1 1 1-1 1 0 1 0 1 0 1 0 1 0 1 0 1 3 1 0 1-1 1-1 1 1 1 1 1-3 1 1 1 0 1-1 1 0 1 0 1 2 1-1 1 0 1-1 1 1 1 2 1-2 1-1 1 0 1 0 1 0 1 1 1 2 1-3 1 3 1-3 1 1 1 1 1 2 1-2 1 0 1 3 1-3 1-2 1 3 1-1 1-2 1 0 1 0 1 0 1 3 1-3 1 3 1-3 1 4 1-2 1-1 1-1 1 0 1 1 1 1 1-2 1 2 1-1 1 1 1-1 1 0 1 0 1-1 1 1 1 1 1 0 1 2 1-3 1 0 1-1 1 0 1 1 1 1 1-1 1-1 1 0 1 2 1-1 1 0 1-1 1 0 1 0 1 2 1-2 1 2 1 1 1-3 1 1 1 1 1-1 1-1 1 3 1-3 1 0 1 1 1-1 1 2 1-1 1 2 1 1 1-4 1 5 1-2 1 3 1-3 1-1 1-1 1-1 1 2 1 0 1-1 1 2 1-1 1 1 1-2 1 3 1-3 1 0 1 0 1 2 1-2 1 0 1 0 1 0 1 0 1 0 1-1 1 3 1-2 1-1 1 1 1-1 1 3 1 1 1-4 1 3 1 2 1-5 1 1 1 2 1-1 1-1 1-1 1 0 1 0 1 1 1 1 1 1 1-1 1-2 1 1 1-1 1 3 1-1 1-1 1 2 1 1 1-3 1 2 1-2 1-1 1 3 1-2 1 1 1-2 1 1 1 0 1 0 1-1 1 0 1 1 1 4 1-5 1 1 1 0 1 1 1-2 1 0 1 3 1-1 1 0 1-1 1 2 1-2 1-1 1 3 1-1 1 0 1-1 1-1 1 1 1 1 1-1 1 1 1 1 1-1 1-1 1-1 1 1 1 2 1-1 1 0 1-1 1 0 1-1 1 1 1 1 1-1 1 0 1-1 1 0 1 1 1-1 1 2 1 0 1 0 1-2 1 3 1-2 1 0 1 0 1-1 1 3 1 0 1 1 1-3 1 0 1 0 1 1 1-2 1 2 1-2 1 5 1-2 1-2 1-1 1 1 1-1 1 0 1 2 1-2 1 1 1 1 1-2 1 0 1 4 1-2 1-2 1 0 1 0 1 1 1-1 1 0 1 0 1 1 1-1 1 2 1 1 1-1 1-1 1 1 1-1 1 1 1-2 1 2 1 1 1 1 1 0 1-4 1 2 1 0 1-2 1 0 1 2 1-1 1 0 1 1 1-2 1 1 1 1 1-2 1 1 1 0 1-1 1 0 1 1 1-1 1 1 1 0 1 0 1 0 1 1 1 1 1 0 1-3 1 2 1-1 1 2 1-1 1 2 1-3 1 2 1 0 1 1 1-4 1 3 1-3 1 1 1 2 1-2 1-1 1 0 1 4 1-1 1-2 1-1 1 2 1-2 1 0 1 0 1 0 1 0 1 0 1 0 1 0 1 1 1-1 1 3 1-2 1-1 1 0 1 0 1 1 1 0 1 1 1-2 1 1 1-1 1 0 1 1 1 1 1 0 1 2 1-3 1 1 1-2 1 0 1 1 1-1 1 1 1 2 1-1 1-2 1 2 1-2 1 1 1 1 1-1 1 0 1-1 1 0 1 0 1 1 1-1 1 1 1-1 1 0 1 2 1 1 1 0 1-3 1 0 1 4 1 0 1-2 1-1 1 0 1 0 1 4 1-3 1 0 1-2 1 2 1 2 1-4 1 4 1-4 1 1 1 0 1 0 1 0 1 0 1-1 1 1 1 1 1-1 1 1 1-1 1 1 1 3 1-4 1-1 1 2 1-1 1-1 1 0 1 2 1-2 1 0 1 0 1 1 1-1 1 0 1 0 1 0 1 0 1 4 1-2 1-2 1 3 1-3 1 1 1 0 1-1 1 0 1 1 1 1 1-2 1 0 1 2 1-1 1 1 1-1 1-1 1 4 1-2 1-1 1 0 1 1 1-1 1 0 1 1 1-1 1 4 1-5 1 1 1 0 1 1 1-1 1 1 1-1 1 0 1 0 1 2 1-1 1-1 1-1 1 0 1 0 1 0 1 1 1 0 1-1 1 0 1 0 1 0 1 1 1 0 1 5 1-6 1 0 1 0 1 0 1 0 1 1 1 0 1-1 1 0 1 1 1 3 1-2 1 1 1-2 1 2 1-2 1 0 1-1 1 0 1 0 1 0 1 0 1 0 1 1 1-1 1 0 1 0 1 2 1 0 1-1 1-1 1 1 1-1 1 1 1 0 1-1 1 1 1 0 1 1 1 0 1 0 1 2 1-1 1-1 1-1 1 0 1 1 1-2 1 0 1 2 1-1 1 0 1-1 1 4 1-4 1 0 1 3 1-2 1 3 1-3 1 2 1 3 1-5 1 2 1-2 1 0 1-1 1 4 1 0 1-3 1 1 1 3 1-2 1-2 1 1 1 3 1-4 1 1 1 3 1-4 1 0 1 1 1-1 1-1 1 0 1 1 1 1 1 0 1 0 1-2 1 3 1 0 1 2 1-3 1-2 1 6 1-5 1 5 1-4 1 0 1-1 1 1 1-2 1 0 1 0 1 0 1 0 1 1 1 2 1 2 1-5 1 3 1-3 1 1 1 2 1-2 1 1 1 3 1-1 1-4 1 1 1 0 1-1 1 1 1-1 1 0 1 0 1 1 1 2 1-1 1 2 1-4 1 2 1-2 1 0 1 0 1 0 1 1 1-1 1 0 1 0 1 1 1 1 1 3 1-5 1 1 1-1 1 1 1-1 1 0 1 0 1 1 1-1 1 0 1 0 1 0 1 2 1-2 1 0 1 0 1 0 1 1 1-1 1 0 1 0 1 0 1 0 1 0 1 2 1 2 1 3 1-6 1 3 1-1 1-2 1-1 1 1 1-1 1 0 1 0 1 0 1 0 1 1 1 1 1-1 1 2 1 0 1 0 1 0 1-2 1-1 1 2 1-2 1 1 1-1 1 5 1-2 1 2 1-2 1-1 1 5 1-6 1 2 1-1 1-1 1 1 1 0 1 0 1 0 1-1 1 1 1 1 1 1 1-3 1-1 1 2 1 2 1 2 1-5 1 5 1-4 1-1 1 1 1 0 1-1 1 1 1-1 1-1 1 1 1 0 1 0 1 3 1-3 1 3 1-3 1-1 1 0 1 0 1 1 1 0 1 0 1 0 1 0 1 0 1 0 1-1 1 2 1-1 1 4 1-1 1-3 1 1 1 0 1-2 1 3 1 2 1 0 1-5 1 2 1 1 1-3 1 0 1 3 1-2 1-1 1 3 1 0 1-1 1-1 1-1 1 2 1-2 1 2 1 2 1-2 1 0 1-1 1 4 1-4 1 0 1 0 1 0 1 4 1-4 1 1 1 0 1-1 1 3 1-4 1 0 1 0 1 0 1 0 1 0 1 0 1 1 1-1 1 2 1 0 1-2 1 2 1-1 1-1 1 0 1 0 1 1 1 1 1 3 1-2 1-1 1-2 1 0 1 0 1 1 1 1 1 0 1-1 1 1 1-1 1 0 1 0 1 0 1 1 1-2 1 2 1-1 1 0 1 0 1 0 1 1 1-2 1 6 1-2 1-4 1 1 1-1 1 0 1 0 1 0 1 0 1 0 1 2 1-1 1-1 1 2 1 0 1 0 1-1 1 1 1 0 1 0 1-2 1 1 1 0 1 2 1 1 1-3 1 2 1-3 1 1 1 2 1-1 1-2 1 1 1 0 1-1 1 2 1 0 1-1 1 1 1-1 1 0 1-1 1 1 1 0 1-1 1 2 1-2 1 1 1 1 1-2 1 1 1 0 1 1 1-2 1 2 1-2 1 2 1-1 1 0 1-1 1 0 1 0 1 0 1 0 1 0 1 1 1-1 1 0 1 1 1 0 1 1 1-2 1 2 1 0 1-2 1 2 1 1 1 0 1-1 1-2 1 1 1-1 1 2 1-1 1 0 1-1 1 1 1 1 1 0 1-1 1 2 1-1 1 2 1-3 1-1 1 1 1-1 1 0 1 2 1 1 1 0 1-1 1-1 1 1 1-1 1-1 1 2 1-2 1 0 1 1 1 0 1 1 1-1 1-1 1 2 1 2 1-3 1 2 1-2 1 2 1 0 1-3 1 0 1 0 1 0 1 1 1-1 1 1 1-1 1 0 1 0 1 1 1-1 1 2 1 4 1-3 1 0 1-1 1 0 1-2 1 1 1 0 1 2 1-1 1-2 1 1 1 1 1 0 1-1 1 0 1-1 1 4 1-3 1 0 1-1 1 1 1 1 1 1 1 3 1 1 1-6 1 1 1 0 1 4 1-3 1-3 1 3 1-3 1 1 1 0 1-1 1 0 1 1 1 2 1 0 1-2 1 0 1-1 1 0 1 1 1-1 1 1 1 2 1-2 1 0 1 1 1-1 1-1 1 1 1-1 1 0 1 0 1 2 1 0 1-2 1 0 1 0 1 2 1 0 1-2 1 3 1 0 1 0 1-1 1-1 1 0 1 0 1 0 1 1 1-1 1-1 1 2 1-2 1 2 1-1 1 1 1-1 1 0 1 0 1 3 1-4 1 2 1 1 1 3 1-4 1 0 1 0 1 1 1-1 1 1 1 1 1-1 1 0 1-1 1 3 1-1 1 1 1-1 1 0 1 3 1-4 1 2 1-3 1 3 1-2 1 0 1-2 1 3 1-1 1-2 1 3 1-4 1 0 1 1 1 2 1 0 1-2 1 0 1-1 1 0 1 0 1 2 1 0 1 0 1 0 1-2 1 0 1 0 1 0 1 1 1 1 1-1 1 2 1-3 1 1 1-1 1 1 1 1 1-1 1 3 1-2 1-1 1 1 1-1 1 1 1 0 1 0 1-1 1 0 1 0 1 0 1 2 1-3 1 1 1-1 1 1 1-1 1 0 1 1 1 0 1 0 1 3 1-3 1 3 1-2 1-1 1 1 1-1 1-1 1 0 1 1 1 2 1 0 1-1 1-1 1-1 1 0 1 0 1 0 1 0 1 3 1-3 1 0 1 0 1 1 1-1 1 0 1 2 1-2 1 1 1 0 1-1 1 0 1 0 1 0 1 0 1 0 1 0 1 3 1-1 1-1 1-1 1 2 1 2 1 0 1-4 1 1 1 0 1-1 1 0 1 0 1 3 1-1 1-1 1 0 1 0 1 2 1 3 1-6 1 3 1-2 1-1 1 2 1-2 1 0 1 2 1 0 1 1 1 2 1-3 1-1 1-1 1 0 1 1 1 0 1 1 1-2 1 0 1 0 1 0 1 0 1 2 1-1 1 0 1-1 1 0 1 0 1 1 1 0 1 0 1 0 1 0 1-1 1 0 1 1 1-1 1 0 1 1 1 0 1 0 1 0 1 0 1 0 1-1 1 1 1 0 1 0 1-1 1 0 1 1 1-1 1 0 1 1 1 0 1 0 1-1 1 2 1 0 1-2 1 0 1 0 1 0 1 0 1 2 1 0 1-1 1 4 1 0 1-5 1 7 1-7 1 1 1 2 1-1 1 1 1-3 1 1 1-1 1 1 1 0 1 3 1-4 1 0 1 0 1 2 1-2 1 0 1 3 1-1 1 2 1-4 1 1 1 0 1 1 1-1 1 1 1-2 1 1 1 1 1-1 1 0 1-1 1 0 1 0 1 0 1 2 1 0 1-1 1-1 1 1 1-1 1 1 1-1 1 1 1-1 1 1 1 1 1-2 1 2 1 0 1-2 1 0 1 2 1 1 1 1 1-3 1 1 1 2 1-4 1 4 1-2 1 0 1-1 1 0 1-1 1 2 1-2 1 2 1-2 1 0 1 1 1 0 1 0 1-1 1 0 1 0 1 2 1-2 1 2 1-2 1 0 1 0 1 0 1 0 1 0 1 2 1-2 1 4 1-4 1 2 1 1 1-3 1 2 1 3 1-3 1-1 1 0 1 1 1-1 1 0 1 0 1 0 1-1 1 0 1 1 1-1 1 2 1-1 1 0 1 1 1-1 1 0 1 2 1-3 1 0 1 3 1-3 1 2 1-2 1 2 1 2 1-2 1-2 1 0 1 0 1 0 1 2 1 0 1-2 1 3 1-2 1-1 1 0 1 0 1 0 1 2 1 0 1 0 1 0 1 0 1 0 1 3 1-4 1 2 1-2 1 0 1 3 1-2 1 1 1-2 1 1 1 0 1 1 1-3 1 0 1 1 1 0 1-1 1 2 1 0 1-1 1-1 1 2 1-2 1 2 1-2 1 0 1 1 1-1 1 2 1 0 1-2 1 1 1 3 1-3 1-1 1 1 1 1 1-2 1 1 1-1 1 2 1 0 1-1 1 1 1 1 1 0 1-1 1 1 1-3 1 1 1 0 1 1 1-2 1 0 1 0 1 1 1 0 1-1 1 0 1 1 1-1 1 0 1 0 1 2 1-2 1 1 1 0 1-1 1 0 1 1 1 3 1-3 1 0 1 0 1-1 1 2 1 1 1 0 1-3 1 1 1 1 1 0 1 0 1 3 1-2 1 1 1-3 1 1 1 0 1-1 1-1 1 0 1 0 1 0 1 1 1 2 1-2 1-1 1 0 1 0 1 1 1 0 1 0 1-1 1 1 1 0 1 3 1-1 1 0 1-2 1-1 1 3 1-3 1 1 1-1 1 0 1 0 1 0 1 0 1 1 1 0 1 2 1-3 1 1 1 0 1-1 1 1 1 0 1 1 1 2 1-3 1 0 1 1 1-1 1 1 1 3 1-2 1-1 1 0 1 0 1-2 1 5 1-5 1 1 1-1 1 1 1-1 1 0 1 2 1-1 1-1 1 1 1-1 1 0 1 1 1 2 1 2 1 0 1-4 1-1 1 0 1 3 1 0 1-2 1 0 1 2 1-2 1 1 1-2 1 1 1-1 1 3 1-1 1 0 1-2 1 0 1 0 1 1 1-1 1 0 1 2 1-2 1 0 1 0 1 1 1 0 1 0 1 2 1-2 1 2 1-2 1-1 1 2 1 0 1 1 1-2 1 4 1-3 1 1 1 0 1 1 1-2 1 0 1 1 1-1 1 1 1-2 1 2 1-3 1 0 1 0 1 1 1 0 1-1 1 0 1 0 1 0 1 0 1 1 1 1 1-1 1 0 1 3 1-2 1-2 1 0 1 1 1 1 1 1 1-1 1-2 1 1 1-1 1 0 1 0 1 3 1-2 1-1 1 0 1 0 1 0 1 1 1 4 1-5 1 1 1 1 1 5 1-3 1-2 1 1 1-2 1 0 1 0 1 3 1-4 1 0 1 2 1-1 1 0 1-1 1 0 1 7 1-6 1 0 1-1 1 2 1-2 1 0 1 1 1 0 1 2 1 0 1-2 1 0 1 0 1 0 1-1 1 0 1 0 1 0 1 0 1 0 1 1 1 1 1-2 1 1 1-1 1 4 1 0 1-4 1 2 1-2 1 0 1 0 1 0 1 1 1-1 1 0 1 0 1 0 1 2 1-1 1-1 1 0 1 4 1-4 1 1 1 0 1 0 1-1 1 1 1-1 1 1 1 1 1-2 1 2 1-1 1 2 1-1 1-2 1 0 1 0 1 1 1 1 1-2 1 0 1 1 1-1 1 0 1 0 1 1 1 0 1 1 1-1 1 0 1 0 1 0 1-1 1 1 1 1 1-1 1-1 1 2 1 1 1-3 1 4 1-4 1 3 1-3 1 1 1-1 1 0 1 3 1-1 1-2 1 4 1-3 1-1 1 2 1 1 1 0 1 0 1 0 1-2 1-1 1 0 1 0 1 1 1 0 1 0 1-1 1 3 1 1 1-1 1-2 1 0 1 3 1-3 1 1 1-2 1 0 1 1 1 0 1 2 1-3 1 4 1-2 1 0 1-1 1 0 1-1 1 3 1 1 1-1 1-1 1 2 1-1 1 0 1 0 1 0 1-2 1 2 1-3 1 0 1 5 1-4 1 0 1 0 1 0 1 0 1 0 1 0 1-1 1 0 1 3 1-3 1 0 1 2 1-1 1 0 1 0 1 1 1-2 1 0 1 0 1 0 1 3 1-2 1 4 1-3 1-1 1 0 1 0 1-1 1 1 1 1 1-2 1 1 1 1 1-1 1 3 1-3 1 3 1-2 1-1 1 3 1-2 1-1 1-1 1 2 1-1 1-1 1 4 1-4 1 1 1-1 1 0 1 3 1-3 1 3 1-2 1 2 1 0 1 1 1-3 1-1 1 0 1 1 1 1 1-2 1 1 1 0 1 0 1 0 1 1 1 0 1 1 1 0 1 0 1 2 1 2 1 2 1 1 1-4 1-1 1-1 1-1 1 0 1 0 1-1 1 0 1 2 1-3V0" fill="#0000ff" stroke="#00008b" stroke-width="0.85" vector-effect="non-scaling-stroke"/></g>
<path d="M259 2574.5H270.5M259 2713.5H270.5" fill="none" stroke="#333" stroke-width="1"/>
<path d="M270.5 2574.0V2714.0" stroke="#858575" stroke-width="1"/>
<text x="252.4" y="2577.3" class="ax">17</text>
<text x="252.4" y="2716.1" class="ax">0</text>
<text x="74" y="2649.7" class="nm">GSM5550301</text>
<g transform="translate(271.0 2867.0) scale(0.33333 -15.44444)"><path d="M0 0V2l1-1 1 1 1-1 1-1 1 1 1 0 1 1 1-1 1 1 1-1 1 0 1 0 1 0 1 0 1 0 1-1 1 1 1-1 1 0 1 1 1 0 1-1 1 1 1 0 1-1 1 0 1 2 1-2 1 0 1 0 1 1 1-1 1 0 1 0 1 2 1-2 1 3 1-2 1 1 1-1 1 1 1-1 1-1 1 0 1 1 1 0 1 0 1 0 1-1 1 1 1-1 1 1 1-1 1 1 1 0 1 0 1 0 1-1 1 1 1 1 1 0 1 0 1-1 1-1 1 2 1-1 1 2 1-2 1 0 1 0 1 0 1 1 1-1 1 0 1 0 1 0 1 0 1 1 1 0 1-2 1 2 1 0 1-1 1-1 1 1 1 0 1 0 1 0 1-1 1 0 1 1 1-1 1 0 1 0 1 0 1 0 1 1 1-1 1 0 1 0 1 1 1-1 1 0 1 1 1 0 1 0 1 1 1-2 1 2 1-1 1 1 1 0 1 1 1-1 1 0 1 0 1-1 1-1 1 1 1-1 1 0 1 1 1-1 1 2 1-1 1 0 1-1 1 1 1 0 1-1 1 0 1 1 1 0 1 0 1 0 1 0 1-1 1 0 1 1 1 0 1 0 1-1 1 0 1 0 1 0 1 0 1 1 1-1 1 0 1 0 1 0 1 0 1 0 1 0 1 0 1 2 1-1 1 0 1-1 1 1 1 1 1-1 1-1 1 2 1 0 1-1 1-1 1 0 1 1 1 1 1-2 1 1 1-1 1 1 1 1 1-1 1-1 1 1 1 0 1-1 1 0 1 0 1 1 1-1 1 2 1-1 1 0 1 0 1 1 1-1 1 1 1 0 1-1 1 0 1-1 1 2 1 0 1 0 1 0 1 0 1-2 1 0 1 1 1 1 1-2 1 0 1 0 1 0 1 1 1-1 1 0 1 0 1 0 1 0 1 1 1 0 1-1 1 0 1 0 1 0 1 1 1 0 1 1 1-1 1 1 1-1 1-1 1 1 1-1 1 0 1 0 1 0 1 1 1-1 1 0 1 1 1-1 1 0 1 0 1 1 1-1 1 0 1 1 1-1 1 2 1-1 1 1 1-1 1-1 1 1 1-1 1 1 1 2 1-1 1 0 1 0 1-2 1 0 1 1 1-1 1 0 1 1 1 1 1-1 1 0 1 1 1 0 1-1 1 1 1-1 1 0 1-1 1 1 1 0 1-1 1 1 1 0 1-1 1 1 1 0 1 1 1 1 1 1 1 1 1-3 1 0 1 0 1-1 1 0 1-1 1 1 1-1 1 0 1 1 1-1 1 1 1-1 1 1 1-1 1 1 1 2 1-2 1 1 1-2 1 0 1 0 1 1 1 0 1-1 1 1 1 0 1-1 1 2 1 1 1-3 1 2 1 0 1 0 1-1 1-1 1 0 1 2 1-2 1 1 1 0 1-1 1 1 1 0 1-1 1 0 1 0 1 0 1 0 1 2 1-1 1-1 1 2 1 0 1 0 1-1 1 1 1-1 1 1 1 0 1 0 1 0 1 0 1 0 1 1 1-2 1 0 1 0 1 0 1 0 1-1 1 0 1 0 1 1 1 1 1-1 1-1 1 2 1-1 1 1 1 0 1 0 1 0 1 0 1-2 1 0 1 1 1-1 1 0 1 0 1 1 1-1 1 1 1 0 1 1 1-1 1 0 1 0 1 0 1 1 1 1 1-2 1 0 1 0 1 1 1 0 1 0 1 0 1 0 1-1 1 0 1 1 1 0 1-1 1-1 1 0 1 0 1 0 1 0 1 0 1 0 1 2 1-1 1 1 1-1 1 0 1 1 1-1 1 1 1 0 1-2 1 2 1-1 1-1 1 0 1 0 1 1 1 0 1 0 1 1 1 0 1-2 1 1 1-1 1 1 1 0 1 0 1 0 1-1 1 0 1 1 1 0 1 0 1-1 1 0 1 2 1-2 1 1 1-1 1 0 1 0 1 0 1 0 1 0 1 0 1 0 1 1 1-1 1 0 1 0 1 1 1 2 1-3 1 2 1-2 1 1 1-1 1 0 1 0 1 0 1 1 1 1 1 0 1 0 1-2 1 2 1-2 1 0 1 2 1-2 1 3 1 3 1-5 1-1 1 1 1 0 1 0 1 0 1-1 1 0 1 0 1 0 1 0 1 0 1 0 1 0 1 0 1 1 1-1 1 0 1 0 1 0 1 0 1 0 1 2 1-2 1 1 1 0 1 0 1-1 1 2 1-1 1-1 1 2 1-1 1 0 1 0 1 0 1 0 1 0 1-1 1 0 1 1 1-1 1 2 1-1 1 0 1-1 1 1 1 0 1 0 1 0 1 0 1 0 1 0 1-1 1 0 1 0 1 2 1-2 1 0 1 0 1 2 1-2 1 0 1 1 1-1 1 1 1 0 1 0 1 1 1 1 1 1 1 2 1 0 1-3 1-1 1 0 1-1 1 0 1 0 1 0 1 1 1-2 1 0 1 0 1 1 1 1 1-1 1 0 1 0 1-1 1 1 1 0 1 0 1-1 1 0 1 2 1-1 1 0 1 0 1 0 1-1 1 1 1 0 1 0 1-1 1 1 1 1 1 0 1-1 1-1 1 1 1 0 1-1 1 1 1-1 1 1 1-1 1 1 1-1 1 0 1 0 1 0 1 0 1 0 1 1 1 0 1 1 1 1 1 1 1 1 1-2 1-1 1-1 1 0 1-1 1 0 1 0 1 0 1 1 1 0 1 1 1 0 1-1 1 0 1 0 1-1 1 0 1 0 1 1 1-1 1 1 1 0 1 0 1-1 1 0 1 1 1 0 1-1 1 2 1-2 1 1 1-1 1 0 1 0 1 0 1 0 1 2 1 0 1 1 1-1 1 0 1 0 1-1 1-1 1 1 1 0 1 0 1-1 1 1 1 1 1-1 1-1 1 0 1 1 1 0 1-1 1 1 1 0 1-1 1 1 1 0 1 0 1-1 1 1 1 1 1-1 1-1 1 2 1-1 1 0 1 2 1-2 1 0 1-1 1 1 1-1 1 1 1 0 1 0 1-1 1 1 1-1 1 0 1 0 1 1 1 1 1 0 1-1 1 0 1-1 1 1 1-1 1 0 1 0 1 0 1 1 1-1 1 1 1 1 1 0 1-2 1 0 1 2 1-1 1 0 1 0 1 0 1-1 1 0 1 2 1-1 1 0 1-1 1 1 1 0 1 0 1-1 1 0 1 0 1 0 1 0 1 0 1 1 1-1 1 0 1 2 1 0 1 1 1 0 1-2 1 0 1 0 1-1 1 0 1 0 1 0 1 0 1 0 1 0 1 1 1 1 1-1 1 0 1 2 1-1 1 0 1 0 1-1 1 1 1-1 1 0 1 0 1-1 1 1 1 1 1-1 1 0 1 0 1 0 1 0 1-1 1 0 1 1 1 0 1 0 1-1 1 1 1 0 1 0 1-1 1 0 1 0 1 1 1-1 1 0 1 1 1 0 1 0 1 1 1-1 1 0 1-1 1 1 1-1 1 1 1-1 1 0 1 1 1 1 1-1 1 0 1-1 1 0 1 0 1 0 1 0 1 1 1-1 1 2 1-1 1 0 1 0 1 0 1-1 1 0 1 1 1 0 1 1 1 0 1 0 1 3 1-3 1-1 1 0 1-1 1 1 1 0 1 0 1 0 1-1 1 0 1 0 1 1 1 0 1-1 1 0 1 1 1-1 1 1 1 0 1 0 1-1 1 0 1 2 1-2 1 2 1-1 1 0 1 0 1 0 1 0 1-1 1 0 1 1 1 0 1-1 1 0 1 2 1-1 1 0 1 1 1-2 1 1 1 0 1 0 1 0 1-1 1 2 1-1 1 1 1-1 1 1 1-1 1-1 1 0 1 0 1 0 1 0 1 0 1 1 1-1 1 2 1-1 1-1 1 2 1-1 1 2 1-2 1 1 1-2 1 1 1-1 1 0 1 0 1 1 1 1 1-1 1 1 1 1 1 2 1 2 1-4 1-1 1-1 1 0 1 1 1 1 1 1 1 2 1 1 1-3 1-1 1-1 1-1 1 0 1 1 1-1 1 1 1-1 1-1 1 0 1 1 1-1 1 1 1 0 1 0 1 0 1-1 1 0 1 0 1 1 1-1 1 1 1-1 1 1 1 0 1 0 1 0 1 1 1 1 1-1 1 0 1 0 1-1 1 0 1 0 1-1 1 2 1 0 1-1 1 0 1 0 1-1 1 0 1 0 1 1 1 1 1 0 1 0 1 0 1-1 1 1 1-2 1 1 1-1 1 0 1 1 1-1 1 2 1-1 1 1 1 0 1 0 1-2 1 0 1 2 1-1 1-1 1 0 1 1 1-1 1 1 1 0 1 0 1 0 1-1 1 0 1 0 1 1 1-1 1 1 1 0 1-1 1 0 1 1 1-1 1 1 1 0 1 0 1 1 1-1 1 0 1 0 1 0 1 0 1 0 1 1 1-1 1 1 1 0 1-2 1 0 1 1 1 1 1 0 1 0 1-1 1 0 1-1 1 0 1 2 1-1 1-1 1 0 1 0 1 0 1 0 1 0 1 0 1 1 1 0 1-1 1 2 1 2 1-4 1 0 1 0 1 0 1 2 1-2 1 0 1 0 1 1 1-1 1 0 1 0 1 0 1 1 1 0 1-1 1 0 1 1 1 0 1-1 1 0 1 0 1 1 1-1 1 1 1 1 1-2 1 0 1 0 1 0 1 1 1 1 1-1 1 0 1-1 1 0 1 2 1-1 1 0 1 1 1-1 1 1 1-1 1-1 1 0 1 1 1 1 1 0 1 0 1 0 1 1 1-1 1-2 1 3 1-2 1 1 1-2 1 0 1 0 1 0 1 0 1 3 1-3 1 0 1 0 1 1 1 0 1 0 1-1 1 1 1 0 1 0 1-1 1 0 1 0 1 0 1 1 1 0 1 1 1 0 1-1 1 1 1 0 1-1 1 1 1-1 1 0 1-1 1 1 1 0 1 0 1 1 1 0 1-1 1 0 1 2 1-1 1 0 1 2 1-3 1-1 1 1 1-1 1 1 1-1 1 0 1 0 1 0 1 0 1 0 1 0 1 4 1-4 1 0 1 2 1-2 1 0 1 2 1 0 1 0 1-1 1-1 1 1 1 0 1 1 1 0 1 0 1-1 1-1 1 0 1 5 1-5 1 0 1 0 1 1 1 1 1 0 1-1 1-1 1 1 1 1 1-1 1-1 1 1 1 1 1-1 1-1 1 0 1 0 1 1 1 0 1-1 1 0 1 0 1 2 1-1 1-1 1 1 1 0 1 0 1 1 1-1 1 0 1 0 1 0 1 1 1 0 1-2 1 0 1 0 1 2 1-1 1 0 1 0 1 0 1-1 1 0 1 0 1 0 1 1 1-1 1 0 1 0 1 0 1 1 1-1 1 2 1-2 1 1 1 1 1-1 1 0 1 1 1 0 1-1 1 1 1 0 1 1 1-2 1 1 1-1 1 1 1 0 1 0 1-2 1 0 1 2 1-2 1 0 1 1 1-1 1 0 1 1 1 0 1-1 1 0 1 0 1 6 1-6 1 0 1 1 1 0 1 1 1-1 1 0 1 0 1 0 1-1 1 0 1 2 1-1 1 0 1-1 1 1 1-1 1 0 1 1 1 0 1 0 1 1 1-1 1 0 1 0 1 1 1-2 1 0 1 0 1 0 1 1 1 0 1-1 1 1 1-1 1 1 1-1 1 1 1-1 1 1 1 0 1-1 1 1 1 1 1-1 1 0 1 1 1 0 1-1 1 0 1 1 1-1 1 0 1 0 1-1 1 0 1 1 1 0 1-1 1 1 1-1 1 0 1 0 1 1 1-1 1 0 1 1 1 0 1-1 1 2 1-1 1 2 1-1 1 1 1-1 1 0 1-2 1 2 1-2 1 0 1 0 1 1 1 0 1 0 1 1 1 2 1 0 1-2 1 0 1-1 1 0 1 0 1-1 1 0 1 0 1 0 1 0 1 0 1 1 1-1 1 0 1 2 1-2 1 1 1-1 1 1 1-1 1 1 1-1 1 0 1 0 1 0 1 1 1 1 1 0 1 1 1-2 1 0 1 1 1 0 1-1 1-1 1 1 1 0 1-1 1 0 1 1 1 0 1 0 1 0 1 1 1-2 1 0 1 1 1 0 1 0 1 0 1 1 1 1 1 1 1 2 1 2 1-4 1 0 1-1 1-1 1-1 1 1 1 0 1 0 1 4 1-1 1-2 1-1 1 0 1-1 1 0 1 0 1-1 1 2 1 0 1-1 1 0 1-1 1 0 1 1 1 3 1-2 1 0 1 0 1-2 1 0 1 1 1 0 1-1 1 1 1 0 1-1 1 1 1 0 1-1 1 2 1-2 1 1 1-1 1 1 1-1 1 2 1-2 1 0 1 0 1 0 1 1 1 0 1 0 1 0 1-1 1 0 1 0 1 1 1 0 1 0 1-1 1 0 1 1 1-1 1 1 1 0 1 0 1-1 1 1 1 1 1-2 1 1 1 0 1 1 1-1 1 0 1 0 1 1 1-1 1 1 1-2 1 1 1-1 1 0 1 0 1 1 1 0 1-1 1 1 1 0 1 1 1 0 1-1 1 0 1 1 1 0 1-1 1 1 1 0 1-1 1 0 1 0 1 0 1 0 1 0 1 1 1 0 1-1 1-1 1 0 1 0 1 0 1 2 1-1 1 1 1-2 1 0 1 2 1-1 1 1 1 0 1 1 1-2 1 0 1-1 1 1 1-1 1 0 1 0 1 0 1 0 1 0 1 0 1 0 1 0 1 1 1 0 1-1 1 0 1 2 1-1 1 0 1 0 1-1 1 1 1 0 1 0 1 0 1 0 1 0 1-1 1 2 1-2 1 0 1 1 1 0 1 0 1-1 1 2 1-1 1 1 1-1 1 0 1 1 1-1 1 0 1 0 1-1 1 1 1-1 1 0 1 0 1 0 1 0 1 0 1 0 1 0 1 0 1 5 1-5 1 0 1 0 1 0 1 0 1 1 1-1 1 1 1 0 1 0 1-1 1 1 1 0 1 1 1-2 1 2 1 0 1-2 1 2 1-1 1-1 1 2 1-1 1 1 1-2 1 0 1 1 1 0 1 0 1 0 1-1 1 1 1-1 1 1 1 0 1 1 1 0 1-1 1-1 1 0 1 0 1 0 1 1 1-1 1 0 1 1 1 0 1-1 1 0 1 0 1 0 1 1 1-1 1 1 1-1 1 1 1-1 1 0 1 0 1 0 1 0 1 1 1 0 1 0 1 0 1 1 1-1 1-1 1 0 1 2 1 0 1 1 1-2 1-1 1 2 1-1 1 0 1 0 1-1 1 1 1 1 1-2 1 1 1 0 1-1 1 4 1-4 1 1 1-1 1 0 1 0 1 1 1 1 1-2 1 0 1 0 1 0 1 0 1 1 1-1 1 0 1 1 1 0 1 0 1 1 1 0 1 2 1 2 1-3 1-1 1-1 1 0 1 0 1-1 1 1 1 1 1-1 1 0 1 1 1 0 1-2 1 0 1 1 1 0 1 0 1-1 1 3 1-2 1-1 1 1 1 0 1-1 1 1 1 0 1-1 1 0 1 1 1-1 1 2 1 0 1-2 1 0 1 1 1 0 1-1 1 1 1 3 1-3 1 0 1 1 1 0 1-1 1-1 1 2 1-1 1-1 1 0 1 0 1 1 1 0 1 0 1 0 1 0 1 1 1 0 1-1 1 0 1 0 1 1 1 0 1-1 1-1 1 0 1 0 1 1 1-1 1 0 1 0 1 0 1 1 1 0 1 1 1-2 1 2 1 0 1-2 1 3 1 2 1-3 1-2 1 1 1 0 1-1 1 1 1 0 1-1 1 0 1 1 1 0 1-1 1 0 1 0 1 1 1-1 1 1 1-1 1 0 1 0 1 0 1 0 1 0 1 0 1 0 1 1 1-1 1 0 1 1 1 0 1-1 1 1 1-1 1 1 1 0 1 0 1 1 1-2 1 1 1 1 1-1 1-1 1 0 1 2 1 1 1-3 1 2 1 0 1-1 1 0 1 0 1 0 1 0 1-1 1 1 1-1 1 0 1 0 1 0 1 1 1-1 1 0 1 0 1 0 1 1 1-1 1 0 1 0 1 1 1-1 1 1 1 0 1 0 1-1 1 0 1 1 1 0 1-1 1 1 1-1 1 1 1-1 1 1 1 0 1 0 1 0 1 0 1 0 1 0 1-1 1 0 1 0 1 0 1 0 1 1 1 0 1-1 1 1 1 1 1 0 1-1 1 0 1 0 1 0 1 0 1 1 1 0 1-1 1 1 1-2 1 1 1 1 1-1 1 1 1 1 1-1 1 0 1-1 1-1 1 0 1 1 1 0 1-1 1 2 1-1 1-1 1 2 1-1 1-1 1 1 1 0 1 1 1-1 1-1 1 0 1 0 1 0 1 0 1 1 1-1 1 0 1 0 1 0 1 0 1 0 1 1 1-1 1 1 1-1 1 2 1-1 1-1 1 0 1 0 1 0 1 0 1 0 1 0 1 0 1 0 1 0 1 0 1 1 1-1 1 2 1-2 1 1 1 0 1 1 1-1 1 0 1-1 1 0 1 0 1 1 1 0 1 2 1-1 1-1 1-1 1 2 1-1 1-1 1 1 1-1 1 2 1-1 1 0 1-1 1 0 1 4 1-3 1 1 1-2 1 1 1 0 1 0 1 0 1 0 1 0 1-1 1 0 1 0 1 0 1 1 1-1 1 0 1 1 1-1 1 0 1 0 1 0 1 0 1 0 1 0 1 0 1 1 1-1 1 2 1-1 1 0 1 0 1 0 1 0 1-1 1 0 1 0 1 1 1 0 1 0 1 0 1 0 1 1 1-1 1-1 1 1 1-1 1 0 1 1 1-1 1 0 1 0 1 0 1 1 1-1 1 1 1-1 1 0 1 0 1 1 1 0 1 0 1-1 1 1 1 0 1 0 1-1 1 6 1-5 1-1 1 1 1-1 1 0 1 0 1 2 1-2 1 1 1 0 1 1 1 0 1-2 1 1 1 0 1 0 1 1 1-2 1 0 1 0 1 0 1 0 1 0 1 0 1 0 1 1 1 0 1 1 1 0 1-1 1 0 1 1 1-1 1 0 1 0 1 0 1-1 1 1 1-1 1 0 1 0 1 1 1 2 1-1 1-1 1-1 1 0 1 0 1 2 1-2 1 0 1 0 1 0 1 1 1-1 1 1 1-1 1 1 1-1 1 2 1-1 1 0 1 0 1 0 1 0 1 0 1 0 1 0 1 0 1 0 1-1 1 0 1 0 1 0 1 0 1 0 1 0 1 1 1-1 1 0 1 1 1 1 1-2 1 0 1 2 1-1 1 0 1-1 1 1 1 1 1 0 1-1 1 0 1 0 1 0 1-1 1 1 1 0 1 0 1-1 1 1 1 0 1 1 1-1 1-1 1 2 1 0 1-1 1 0 1 1 1 0 1 0 1-1 1-1 1 0 1 0 1 1 1 0 1-1 1 0 1 0 1 0 1 1 1-1 1 0 1 0 1 0 1 0 1 1 1-1 1 0 1 0 1 0 1 0 1 0 1 0 1 0 1 2 1-2 1 1 1 0 1 0 1-1 1 3 1-2 1-1 1 1 1-1 1 0 1 1 1 0 1-1 1 1 1-1 1 1 1-1 1 0 1 1 1-1 1 1 1-1 1 1 1-1 1 1 1 0 1 1 1-1 1-1 1 1 1-1 1 1 1 0 1 1 1-1 1 1 1-2 1 1 1-1 1 0 1 1 1 0 1-1 1 0 1 1 1-1 1 1 1 0 1 0 1-1 1 0 1 0 1 1 1 1 1 0 1 1 1-2 1 1 1-2 1 0 1 2 1 0 1-1 1-1 1 0 1 0 1 2 1-1 1 1 1-1 1 0 1 4 1-5 1 0 1 0 1 0 1 0 1 1 1 0 1 1 1 1 1-2 1 2 1-2 1-1 1 0 1 0 1 0 1 0 1 0 1 1 1 1 1 3 1-3 1-1 1 0 1 0 1 0 1 1 1-1 1 0 1-1 1 1 1-1 1 0 1 0 1 1 1 0 1 1 1-2 1 0 1 0 1 0 1 0 1 0 1 0 1 0 1 0 1 0 1 1 1-1 1 1 1 0 1 0 1 1 1-1 1-1 1 1 1-1 1 0 1 1 1-1 1 1 1-1 1 1 1-1 1 0 1 0 1 0 1 0 1 1 1 0 1 1 1 0 1-1 1-1 1 1 1 1 1-1 1-1 1 1 1 2 1-2 1-1 1 1 1-1 1 0 1 2 1-1 1-1 1 1 1-1 1 1 1-1 1 0 1 0 1 0 1 0 1 0 1 1 1 0 1-1 1 0 1 1 1-1 1 0 1 0 1 0 1 1 1-1 1 1 1 0 1-1 1 1 1 0 1 0 1 0 1 1 1 0 1-1 1-1 1 0 1 1 1 1 1 0 1-1 1 0 1 0 1 0 1 1 1 3 1-3 1-1 1 1 1 0 1 0 1-1 1-1 1 0 1 1 1 1 1-2 1 0 1 1 1 0 1-1 1 1 1-1 1 2 1-1 1 0 1 0 1 1 1 0 1-2 1 1 1-1 1 0 1 0 1 0 1 1 1-1 1 0 1 0 1 2 1-1 1-1 1 0 1 0 1 0 1 0 1 0 1 0 1 0 1 1 1 0 1 1 1-1 1-1 1 0 1 0 1 1 1 0 1-1 1 1 1 0 1 0 1 0 1 1 1-1 1 0 1-1 1 1 1 0 1 0 1-1 1 0 1 0 1 0 1 0 1 0 1 0 1 0 1 1 1-1 1 1 1 1 1-1 1 0 1-1 1 1 1 0 1-1 1 1 1-1 1 0 1 1 1-1 1 1 1-1 1 0 1 5 1-2 1-1 1-1 1 1 1 3 1-4 1-1 1 1 1-1 1 0 1 1 1-1 1 1 1 0 1 0 1 0 1 0 1 1 1 0 1-1 1-1 1 2 1-2 1 0 1 0 1 0 1 1 1-1 1 2 1 0 1-2 1 0 1 1 1-1 1 0 1 1 1-1 1 1 1-1 1 1 1-1 1 1 1 1 1-2 1 0 1 0 1 0 1 2 1-1 1 0 1-1 1 2 1-1 1-1 1 2 1-2 1 1 1-1 1 0 1 0 1 1 1-1 1 0 1 0 1 0 1 1 1 0 1 0 1-1 1 2 1-2 1 1 1-1 1 0 1 1 1 1 1-1 1-1 1 1 1 0 1 0 1 0 1-1 1 0 1 1 1-1 1 0 1 1 1-1 1 0 1 1 1-1 1 1 1 0 1 3 1-1 1-1 1 0 1 0 1 0 1 0 1 1 1-1 1 1 1-1 1 4 1-4 1 2 1-2 1-1 1-1 1 0 1 0 1 0 1 0 1 0 1 1 1-1 1 1 1 0 1-1 1 0 1 1 1 1 1-2 1 0 1 1 1-1 1 1 1-1 1 0 1 1 1 1 1-2 1 0 1 0 1 0 1 0 1 0 1 0 1 0 1 0 1 0 1 0 1 1 1-1 1 0 1 1 1 0 1-1 1 1 1-1 1 0 1 1 1 0 1-1 1 2 1-2 1 1 1 0 1 1 1-2 1 0 1 1 1 1 1 0 1-2 1 1 1 0 1-1 1 0 1 1 1 0 1 0 1-1 1 0 1 0 1 1 1-1 1 1 1 0 1 0 1-1 1 0 1 2 1-2 1 1 1-1 1 0 1 0 1 0 1 0 1 0 1 0 1 0 1 1 1-1 1 0 1 0 1 0 1 1 1 0 1-1 1 1 1-1 1 0 1 0 1 2 1 0 1-2 1 1 1 1 1-1 1 0 1-1 1 1 1-1 1 2 1-1 1 1 1 0 1-1 1-1 1 0 1 0 1 0 1 0 1 1 1-1 1 2 1-1 1 1 1 2 1-3 1 1 1-1 1 0 1-1 1 1 1 0 1 0 1 1 1 0 1-2 1 1 1 0 1 0 1 1 1 1 1 1 1 1 1-2 1-1 1-1 1 0 1 0 1 1 1-1 1-1 1 0 1 0 1 2 1-1 1 0 1-1 1 1 1 1 1-1 1 1 1 0 1-1 1 0 1 0 1-1 1 1 1-1 1 1 1 1 1-2 1 0 1 1 1 0 1 0 1-1 1 1 1 1 1-2 1 0 1 2 1-1 1 1 1-1 1 0 1-1 1 0 1 0 1 0 1 0 1 0 1 0 1 1 1-1 1 0 1 0 1 0 1 1 1 0 1 0 1-1 1 1 1-1 1 0 1 0 1 1 1 0 1 0 1 0 1 4 1-3 1 0 1-1 1-1 1 1 1-1 1 3 1-2 1 1 1-1 1 0 1 0 1-1 1 0 1 1 1 0 1 0 1 0 1 0 1 1 1-1 1 1 1-1 1-1 1 0 1 1 1 0 1 0 1-1 1 0 1 1 1 1 1-1 1 0 1-1 1 1 1-1 1 0 1 0 1 1 1-1 1 1 1-1 1 2 1 0 1-2 1 1 1-1 1 1 1 1 1-2 1 1 1 1 1 0 1-1 1 1 1 0 1 0 1 0 1 0 1 0 1-2 1 0 1 0 1 2 1 0 1-1 1-1 1 0 1 0 1 0 1 1 1-1 1 1 1-1 1 1 1-1 1 1 1-1 1 1 1 0 1-1 1 0 1 1 1 0 1 0 1 0 1-1 1 0 1 1 1-1 1 0 1 1 1-1 1 0 1 0 1 1 1 1 1-2 1 0 1 1 1 0 1-1 1 2 1-2 1 0 1 1 1-1 1 1 1 0 1 0 1 1 1-1 1 1 1-1 1 1 1 0 1-2 1 1 1-1 1 2 1-1 1 0 1 0 1 0 1 1 1-2 1 1 1-1 1 0 1 0 1 1 1 1 1 0 1 0 1-2 1 1 1-1 1 1 1-1 1 5 1-5 1 0 1 0 1 0 1 1 1-1 1 1 1 0 1 1 1-1 1 1 1-1 1-1 1 1 1-1 1 0 1 0 1 1 1 0 1 0 1 3 1-4 1 2 1-1 1-1 1 0 1 0 1 2 1 0 1-2 1 1 1-1 1 0 1 1 1-1 1 0 1 1 1-1 1 2 1-2 1 2 1-2 1 1 1 0 1 2 1-2 1 0 1 4 1-4 1 0 1 1 1-1 1 0 1 0 1 0 1 1 1-2 1 1 1 0 1-1 1 0 1 0 1 2 1-2 1 0 1 0 1 1 1 1 1-1 1 1 1-1 1-1 1 0 1 0 1 1 1 0 1 1 1-1 1-1 1 2 1-1 1 0 1 0 1 0 1-1 1 0 1 1 1 0 1-1 1 2 1-1 1 1 1 0 1 0 1-1 1 1 1 1 1 0 1-3 1 2 1-2 1 1 1-1 1 0 1 1 1 0 1 0 1-1 1 0 1 0 1 0 1 1 1-1 1 1 1 0 1 0 1 0 1 0 1 0 1 1 1-2 1 1 1-1 1 2 1-2 1 0 1 0 1 1 1-1 1 2 1-1 1 0 1 0 1 1 1-1 1 0 1 1 1-2 1 1 1-1 1 2 1-1 1-1 1 1 1-1 1 1 1 1 1-1 1-1 1 2 1-1 1-1 1 0 1 0 1 0 1 0 1 1 1 0 1 0 1 1 1-1 1 1 1-1 1 0 1-1 1 0 1 1 1-1 1 1 1 0 1-1 1 1 1 1 1 0 1-1 1 0 1 1 1-1 1 1 1-1 1 0 1-1 1 0 1 0 1 1 1-1 1 0 1 1 1-1 1 2 1-1 1 1 1-1 1 1 1 0 1 0 1-1 1 0 1 0 1 1 1 0 1-1 1-1 1 2 1-2 1 2 1-1 1 0 1 2 1-1 1 0 1-1 1 2 1-1 1-2 1 1 1-1 1 0 1 5 1-5 1 0 1 0 1 0 1 0 1 0 1 1 1 0 1-1 1 2 1-2 1 5 1-4 1-1 1 0 1 0 1 0 1 1 1 0 1-1 1 1 1-1 1 1 1 0 1-1 1 1 1 0 1 0 1 0 1 1 1-1 1 1 1-1 1 0 1 0 1 1 1 0 1-1 1 1 1 0 1 0 1-1 1-1 1 1 1 0 1 1 1-1 1 1 1-1 1 0 1 0 1 0 1 0 1 0 1 0 1 0 1 0 1 0 1-1 1 0 1 2 1-1 1 0 1-1 1 0 1 0 1 2 1 0 1 0 1-1 1 0 1-1 1 0 1 0 1 0 1 0 1 0 1 1 1 0 1-1 1 0 1 0 1 1 1-1 1 0 1 0 1 2 1 2 1-4 1 1 1 1 1-1 1 0 1-1 1 1 1 0 1 0 1-1 1 0 1 0 1 1 1-1 1 1 1 1 1 0 1 0 1-2 1 1 1-1 1 0 1 1 1 0 1-1 1 1 1-1 1 0 1 0 1 1 1-1 1 0 1 0 1 0 1 0 1 0 1 0 1 0 1 1 1-1 1 1 1 0 1-1 1 0 1 0 1 0 1 1 1 1 1 0 1-2 1 0 1 0 1 0 1 1 1-1 1 0 1 0 1 1 1 1 1-1 1 0 1 1 1 0 1-1 1-1 1 0 1 1 1-1 1 0 1 1 1 3 1-4 1 0 1 1 1-1 1 0 1 0 1 0 1 1 1-1 1 1 1 0 1-1 1 1 1-1 1 0 1 0 1 1 1 0 1-1 1 0 1 1 1-1 1 0 1 5 1-4 1 0 1 0 1-1 1 0 1 0 1 0 1 1 1-1 1 0 1 0 1 0 1 0 1 0 1 0 1 0 1 0 1 0 1 0 1 1 1 0 1 0 1 0 1 2 1-3 1 0 1 1 1 1 1-2 1 0 1 0 1 0 1 0 1 1 1-1 1 1 1 0 1 0 1 2 1-3 1 0 1 0 1 0 1 0 1 1 1-1 1 1 1 2 1-2 1 0 1-1 1 1 1 1 1 0 1 0 1 0 1 0 1-2 1 1 1 2 1-1 1-2 1 1 1-1 1 0 1 0 1 0 1 0 1 0 1 0 1 0 1 1 1-1 1 0 1 1 1 0 1 0 1-1 1 1 1-1 1 0 1 1 1 0 1-1 1 1 1 0 1 0 1-1 1 0 1 0 1 0 1 0 1 0 1 0 1 2 1-2 1 1 1-1 1 1 1-1 1 1 1 0 1 0 1 0 1 0 1 1 1 0 1-2 1 1 1-1 1 1 1 0 1 1 1-1 1-1 1 0 1 1 1 0 1 0 1 0 1 1 1 0 1 2 1 1 1 1 1-2 1-1 1 0 1 2 1 1 1 3 1-2 1-2 1-1 1-1 1-1 1 0 1-1 1 0 1 3 1-3 1 0 1 1 1-1 1 1 1-2 1 1 1 0 1 0 1-1 1 0V0" fill="#0000ff" stroke="#00008b" stroke-width="0.85" vector-effect="non-scaling-stroke"/></g>
<path d="M259 2728.5H270.5M259 2867.5H270.5" fill="none" stroke="#333" stroke-width="1"/>
<path d="M270.5 2728.0V2868.0" stroke="#858575" stroke-width="1"/>
<text x="252.4" y="2731.3" class="ax">9</text>
<text x="252.4" y="2870.1" class="ax">0</text>
<text x="74" y="2803.7" class="nm">GSM5550300</text>
<g transform="translate(271.0 3021.0) scale(0.33333 -13.90000)"><path d="M0 0V0l1 0 1 1 1-1 1 1 1 0 1-1 1 0 1 1 1 0 1 0 1 0 1-1 1 0 1 0 1 0 1 2 1-2 1 0 1 0 1 0 1 0 1 0 1 0 1 0 1 0 1 1 1-1 1 2 1-1 1-1 1 0 1 1 1 1 1-2 1 0 1 1 1-1 1 0 1 1 1-1 1 2 1-1 1 1 1-1 1 1 1-1 1 1 1-2 1 1 1-1 1 0 1 0 1 0 1 0 1 0 1 2 1-1 1 1 1-2 1 3 1-2 1 1 1-2 1 1 1 0 1 0 1-1 1 2 1-2 1 0 1 1 1 0 1-1 1 0 1 0 1 1 1 2 1-3 1 0 1 0 1 0 1 0 1 1 1-1 1 0 1 0 1 0 1 0 1 0 1 0 1 0 1 0 1 1 1 0 1-1 1 1 1-1 1 2 1-2 1 0 1 0 1 2 1-2 1 1 1 0 1-1 1 0 1 1 1 0 1 0 1 2 1-2 1 0 1 0 1-1 1 0 1 0 1 0 1 0 1 2 1-2 1 1 1 0 1-1 1 0 1 2 1 0 1 1 1 0 1 3 1 2 1-5 1-1 1-1 1 0 1-1 1 1 1 0 1 0 1 0 1 1 1-2 1 0 1 0 1 0 1 0 1 0 1 0 1 0 1 0 1 0 1 1 1-1 1 1 1-1 1 0 1 0 1 0 1 1 1-1 1 0 1 0 1 0 1 2 1-1 1 0 1-1 1 0 1 3 1 1 1-1 1-2 1-1 1 1 1 0 1-1 1 2 1 3 1-5 1 2 1-2 1 0 1 3 1-3 1 2 1-2 1 0 1 0 1 2 1-1 1 0 1 0 1 0 1 2 1-3 1 4 1-3 1 0 1-1 1 1 1-1 1 2 1-2 1 0 1 0 1 0 1 0 1 2 1 0 1-1 1 1 1-2 1 0 1 0 1 0 1 0 1 0 1 0 1 0 1 0 1 0 1 0 1 2 1-2 1 1 1 0 1 0 1 2 1-3 1 0 1 0 1 0 1 1 1 0 1-1 1 0 1 0 1 0 1 3 1-2 1 0 1 3 1-4 1 0 1 1 1-1 1 0 1 1 1 0 1 2 1-3 1 2 1-2 1 0 1 0 1 2 1-1 1-1 1 0 1 1 1 0 1-1 1 0 1 0 1 1 1 2 1-3 1 1 1 1 1-1 1-1 1 2 1-1 1-1 1 0 1 0 1 0 1 2 1-2 1 2 1 1 1-2 1 3 1-3 1-1 1 0 1 0 1 0 1 0 1 2 1 0 1-2 1 2 1 0 1-2 1 0 1 1 1-1 1 0 1 1 1 0 1-1 1 1 1 1 1-2 1 1 1 2 1-1 1-1 1 1 1-1 1 1 1-2 1 1 1 0 1 1 1-2 1 2 1-1 1 3 1-4 1 2 1-1 1 0 1-1 1 0 1 1 1 0 1-1 1 0 1 0 1 0 1 0 1 1 1-1 1 0 1 0 1 0 1 0 1 0 1 0 1 0 1 0 1 1 1-1 1 0 1 0 1 0 1 0 1 0 1 0 1 0 1 1 1-1 1 1 1-1 1 1 1-1 1 1 1 0 1 2 1 1 1-1 1-1 1-2 1 1 1-1 1 0 1 0 1 0 1 1 1 0 1-1 1 1 1-1 1 1 1-1 1 0 1 0 1 0 1 0 1 0 1 1 1 0 1-1 1 1 1 0 1 1 1-1 1-1 1 0 1 0 1 3 1-1 1 0 1-2 1 1 1 0 1 0 1 1 1-2 1 1 1-1 1 0 1 1 1 1 1-2 1 1 1-1 1 1 1-1 1 0 1 3 1-1 1-1 1-1 1 0 1 1 1 1 1-2 1 1 1 0 1-1 1 0 1 0 1 0 1 2 1-2 1 1 1-1 1 1 1-1 1 0 1 1 1 3 1-1 1-2 1 0 1-1 1 0 1 0 1 1 1-1 1 1 1-1 1 2 1-2 1 1 1-1 1 1 1 0 1 1 1 0 1-1 1 0 1-1 1 0 1 1 1 0 1 0 1-1 1 1 1 0 1-1 1 0 1 0 1 1 1-1 1 2 1-1 1 0 1-1 1 0 1 1 1 0 1-1 1 2 1-1 1 0 1-1 1 0 1 1 1 0 1 0 1 1 1 2 1-2 1 0 1 0 1-1 1-1 1 1 1-1 1 3 1-3 1 1 1-1 1 3 1 0 1-1 1-2 1 1 1-1 1 1 1 0 1 0 1-1 1 1 1 0 1 2 1-3 1 0 1 1 1-1 1 0 1 0 1 0 1 0 1 1 1-1 1 1 1 0 1 0 1-1 1 0 1 1 1 0 1 0 1 0 1 1 1-1 1-1 1 0 1 0 1 0 1 1 1-1 1 0 1 1 1-1 1 0 1 0 1 1 1-1 1 2 1-2 1 5 1-4 1 0 1 1 1 2 1 4 1-3 1-3 1 0 1-1 1 0 1-1 1 0 1 1 1 0 1 0 1 1 1-2 1 1 1-1 1 0 1 0 1 1 1 1 1-2 1 0 1 0 1 1 1-1 1 3 1-2 1-1 1 0 1 0 1 2 1-2 1 0 1 1 1-1 1 0 1 0 1 0 1 0 1 2 1-1 1 2 1-2 1 0 1-1 1 0 1 0 1 0 1 0 1 2 1-1 1-1 1 1 1 0 1 3 1 0 1-3 1 0 1 1 1 0 1-1 1-1 1 0 1 2 1-2 1 0 1 1 1-1 1 0 1 2 1-2 1 0 1 1 1-1 1 1 1 1 1-2 1 1 1 0 1 0 1-1 1 1 1 0 1-1 1 0 1 0 1 4 1-3 1-1 1 0 1 0 1 1 1-1 1 0 1 1 1 0 1 0 1-1 1 0 1 0 1 1 1-1 1 1 1-1 1 0 1 0 1 2 1 2 1-3 1 1 1-2 1 1 1 0 1 0 1 0 1-1 1 1 1-1 1 0 1 0 1 0 1 1 1-1 1 5 1-5 1 0 1 0 1 3 1-3 1 1 1 0 1-1 1 1 1 2 1-3 1 1 1 0 1-1 1 1 1 0 1 1 1 0 1-2 1 0 1 0 1 0 1 0 1 0 1 0 1 0 1 0 1 1 1-1 1 1 1-1 1 1 1-1 1 1 1-1 1 2 1-2 1 1 1 0 1 0 1-1 1 3 1-1 1-2 1 1 1-1 1 0 1 0 1 1 1 0 1 0 1-1 1 0 1 0 1 1 1 3 1 0 1-4 1 0 1 0 1 0 1 0 1 0 1 0 1 3 1-3 1 1 1 0 1-1 1 4 1-3 1-1 1 3 1-3 1 0 1 0 1 0 1 0 1 1 1 1 1 0 1-1 1-1 1 0 1 0 1 0 1 1 1-1 1 0 1 0 1 1 1 0 1-1 1 1 1-1 1 3 1-1 1-1 1 0 1-1 1 0 1 0 1 0 1 2 1-1 1 1 1-1 1-1 1 2 1 0 1-2 1 1 1 2 1-2 1 0 1 0 1 0 1-1 1 0 1 0 1 2 1-2 1 0 1 1 1 1 1-2 1 0 1 1 1 0 1-1 1 0 1 0 1 2 1-2 1 0 1 0 1 0 1 0 1 1 1-1 1 2 1-2 1 0 1 0 1 0 1 0 1 0 1 0 1 0 1 0 1 0 1 0 1 0 1 2 1-2 1 1 1 0 1 0 1-1 1 0 1 0 1 0 1 0 1 1 1-1 1 2 1 5 1-2 1-5 1 1 1-1 1 0 1 1 1-1 1 1 1-1 1 1 1 0 1 0 1-1 1 0 1 2 1 0 1-2 1 4 1-3 1-1 1 1 1 0 1 0 1 0 1 1 1 1 1 1 1 3 1 0 1-2 1-2 1 0 1 0 1-1 1-1 1 1 1 1 1-1 1 2 1-2 1-1 1 1 1 4 1-5 1 3 1-3 1 1 1 0 1 1 1 2 1 2 1 2 1 1 1-3 1-2 1-1 1-1 1-1 1-1 1 0 1 3 1-3 1 0 1 1 1-1 1-1 1 1 1 2 1-3 1 1 1 0 1 0 1 0 1-1 1 1 1 0 1 3 1-3 1 1 1 0 1-2 1 1 1 1 1-1 1-1 1 1 1-1 1 0 1 0 1 0 1 1 1-1 1 0 1 0 1 2 1-2 1 0 1 1 1-1 1 2 1 0 1 0 1 1 1 1 1-4 1 0 1 0 1 0 1 1 1-1 1 0 1 0 1 0 1 1 1-1 1 0 1 0 1 4 1-4 1 1 1 0 1 1 1-1 1 0 1-1 1 5 1-2 1-1 1-2 1 1 1 0 1-1 1 0 1 1 1 0 1-1 1 1 1 0 1-1 1 0 1 0 1 0 1 0 1 0 1 0 1 5 1-5 1 1 1-1 1 0 1 1 1 0 1 0 1-1 1 1 1-1 1 1 1 1 1-2 1 2 1 0 1-2 1 0 1 0 1 0 1 0 1 0 1 1 1 2 1-3 1 0 1 1 1 1 1-1 1-1 1 0 1 0 1 0 1 1 1-1 1 2 1-2 1 0 1 1 1 0 1 0 1 1 1-1 1 1 1 0 1-2 1 0 1 1 1 0 1 0 1-1 1 1 1-1 1 1 1 0 1-1 1 1 1-1 1 1 1-1 1 0 1 3 1-2 1 1 1 0 1-1 1 0 1 0 1 0 1 1 1-2 1 3 1-2 1 0 1 1 1-2 1 1 1-1 1 0 1 0 1 0 1 1 1-1 1 0 1 1 1-1 1 0 1 1 1-1 1 1 1 1 1-2 1 0 1 0 1 0 1 1 1-1 1 0 1 0 1 0 1 0 1 1 1-1 1 1 1 0 1 2 1-3 1 2 1-1 1-1 1 0 1 1 1-1 1 0 1 0 1 0 1 0 1 1 1 4 1-4 1-1 1 2 1-1 1 0 1-1 1 0 1 0 1 0 1 0 1 0 1 1 1-1 1 0 1 0 1 0 1 0 1 1 1-1 1 0 1 0 1 1 1 0 1 1 1-1 1-1 1 0 1 3 1-1 1-2 1 1 1-1 1 2 1 2 1-3 1 1 1-2 1 0 1 1 1-1 1 0 1 0 1 0 1 0 1 1 1-1 1 1 1-1 1 0 1 1 1-1 1 0 1 1 1 0 1 0 1 0 1-1 1 0 1 1 1-1 1 1 1-1 1 1 1 2 1-2 1 0 1 0 1-1 1 1 1 0 1-1 1 0 1 0 1 1 1 1 1-2 1 1 1-1 1 0 1 0 1 2 1 2 1-1 1-2 1 1 1-2 1 0 1 0 1 0 1 0 1 1 1-1 1 0 1 0 1 3 1 0 1-2 1 0 1-1 1 0 1 0 1 1 1 4 1-5 1 2 1-1 1 0 1-1 1 0 1 1 1 0 1 2 1 0 1-1 1 1 1-2 1-1 1 0 1 1 1 0 1 0 1 1 1 1 1-1 1 2 1-3 1 1 1-1 1 1 1 0 1-1 1 1 1-2 1 2 1-2 1 1 1-1 1 0 1 0 1 1 1-1 1 1 1-1 1 1 1 0 1 0 1 3 1-2 1 1 1-1 1-2 1 0 1 0 1 0 1 1 1 1 1 1 1-2 1 1 1 0 1 0 1-2 1 0 1 1 1-1 1 3 1 0 1-2 1-1 1 0 1 3 1-3 1 0 1 2 1 0 1 0 1 1 1-1 1-2 1 1 1 1 1-1 1 2 1-1 1-1 1 0 1 3 1-4 1 1 1 0 1-1 1 2 1 2 1-3 1 0 1-1 1 1 1 2 1-2 1-1 1 1 1 1 1-2 1 0 1 1 1 2 1-3 1 1 1-1 1 0 1 1 1 0 1 0 1-1 1 1 1-1 1 0 1 1 1-1 1 1 1-1 1 1 1 1 1-1 1 2 1-1 1 1 1-2 1 0 1-1 1 3 1-3 1 0 1 0 1 1 1-1 1 3 1-2 1 0 1-1 1 0 1 1 1 0 1-1 1 1 1-1 1 0 1 1 1 1 1 0 1-1 1-1 1 2 1-2 1 0 1 0 1 1 1-1 1 1 1 0 1-1 1 0 1 0 1 0 1 2 1-1 1 2 1-2 1 1 1-1 1 0 1 0 1 1 1-2 1 0 1 0 1 0 1 0 1 0 1 0 1 0 1 1 1-1 1 2 1-1 1-1 1 0 1 1 1 3 1-4 1 2 1-1 1-1 1 0 1 1 1 0 1-1 1 1 1-1 1 1 1-1 1 1 1-1 1 1 1 0 1-1 1 0 1 0 1 1 1 0 1-1 1 0 1 0 1 1 1 0 1 0 1-1 1 3 1-2 1-1 1 0 1 1 1 1 1 0 1 0 1-1 1-1 1 1 1 4 1-4 1-1 1 0 1 1 1 0 1-1 1 0 1 2 1-2 1 0 1 0 1 0 1 2 1-2 1 1 1-1 1 0 1 0 1 0 1 0 1 0 1 1 1 1 1 0 1-1 1 0 1 2 1-2 1 0 1-1 1 0 1 0 1 0 1 0 1 3 1-3 1 0 1 1 1-1 1 0 1 0 1 0 1 0 1 1 1 3 1-4 1 0 1 0 1 2 1-2 1 0 1 4 1-3 1 0 1 2 1 1 1 3 1-3 1-2 1 0 1-1 1 0 1-1 1 0 1 0 1 0 1 0 1 0 1 0 1 0 1 0 1 2 1-1 1-1 1 0 1 0 1 2 1-2 1 0 1 1 1 0 1 0 1 1 1-2 1 1 1 0 1-1 1 1 1 0 1-1 1 0 1 2 1-2 1 2 1 0 1 1 1-3 1 2 1-2 1 2 1-2 1 0 1 1 1 1 1-2 1 0 1 1 1 1 1-2 1 0 1 1 1-1 1 0 1 0 1 1 1 0 1 0 1-1 1 1 1 0 1-1 1 0 1 1 1 1 1 0 1 1 1-3 1 0 1 0 1 4 1-4 1 2 1-2 1 0 1 0 1 3 1 0 1-1 1 1 1-2 1-1 1 0 1 4 1-3 1-1 1 0 1 0 1 0 1 1 1-1 1 0 1 0 1 0 1 0 1 1 1 1 1 0 1-2 1 2 1 0 1-2 1 2 1 0 1-2 1 1 1 2 1 0 1-3 1 0 1 5 1-5 1 1 1-1 1 0 1 0 1 0 1 0 1 1 1 0 1-1 1 0 1 0 1 0 1 0 1 1 1 2 1 1 1-4 1 1 1 0 1 1 1-1 1-1 1 0 1 0 1 1 1-1 1 0 1 1 1 0 1-1 1 1 1 0 1-1 1 1 1-1 1 0 1 0 1 0 1 0 1 0 1 0 1 0 1 0 1 0 1 1 1-1 1 1 1 0 1-1 1 0 1 0 1 0 1 4 1-4 1 0 1 0 1 1 1-1 1 1 1-1 1 0 1 0 1 0 1 0 1 1 1 0 1 0 1-1 1 0 1 4 1-4 1 0 1 1 1 0 1 0 1 1 1-2 1 2 1-1 1-1 1 1 1 0 1 2 1-1 1-2 1 0 1 0 1 0 1 0 1 0 1 0 1 0 1 0 1 0 1 1 1-1 1 0 1 1 1 1 1-2 1 0 1 0 1 0 1 1 1-1 1 0 1 5 1-5 1 0 1 1 1 1 1-2 1 1 1 1 1 0 1-1 1-1 1 0 1 5 1-5 1 1 1 0 1-1 1 0 1 0 1 1 1 2 1-3 1 0 1 0 1 0 1 0 1 0 1 0 1 0 1 0 1 1 1-1 1 0 1 3 1-3 1 0 1 0 1 1 1-1 1 1 1-1 1 0 1 0 1 0 1 0 1 0 1 1 1 3 1-4 1 1 1-1 1 0 1 0 1 0 1 0 1 0 1 2 1-2 1 0 1 1 1 3 1-4 1 0 1 1 1 0 1 1 1-2 1 0 1 0 1 0 1 1 1 4 1-4 1 4 1-5 1 2 1-1 1-1 1 1 1 2 1-1 1 1 1-1 1-2 1 1 1 0 1 1 1 1 1 0 1 0 1-2 1-1 1 2 1-2 1 2 1-1 1 0 1-1 1 0 1 0 1 0 1 0 1 2 1-2 1 0 1 1 1 0 1-1 1 0 1 0 1 2 1-2 1 1 1-1 1 2 1-2 1 1 1 0 1 1 1 2 1 2 1 2 1-4 1-2 1-1 1 0 1-1 1 1 1 0 1 1 1 0 1 0 1-2 1 0 1 0 1 1 1 0 1-1 1 0 1 2 1 0 1 0 1-2 1 0 1 1 1-1 1 1 1-1 1 0 1 1 1-1 1 0 1 1 1-1 1 0 1 0 1 0 1 0 1 0 1 2 1 1 1-3 1 2 1 2 1 0 1 1 1-3 1 0 1-2 1 2 1-2 1 0 1 0 1 1 1-1 1 0 1 0 1 1 1 1 1-1 1-1 1 1 1 0 1 2 1 2 1-3 1-1 1 0 1-1 1 0 1 1 1-1 1 1 1 0 1-1 1 0 1 0 1 0 1 0 1 0 1 0 1 0 1 0 1 0 1 0 1 2 1-2 1 1 1 0 1-1 1 0 1 2 1-2 1 0 1 0 1 1 1 2 1-1 1-2 1 1 1 2 1-1 1-2 1 0 1 0 1 4 1-2 1-2 1 0 1 0 1 1 1-1 1 1 1-1 1 3 1-2 1-1 1 0 1 0 1 2 1-1 1 1 1 0 1 2 1-4 1 1 1 0 1 0 1 2 1-3 1 2 1 1 1-2 1 3 1-2 1-2 1 1 1 0 1-1 1 0 1 0 1 0 1 0 1 0 1 0 1 0 1 1 1-1 1 2 1-2 1 0 1 0 1 0 1 0 1 0 1 0 1 1 1 0 1-1 1 1 1-1 1 2 1-2 1 0 1 0 1 0 1 2 1-1 1 0 1 2 1-1 1-1 1 2 1-1 1-2 1 0 1 1 1-1 1 1 1-1 1 1 1-1 1 2 1 0 1-1 1 2 1-2 1 1 1 0 1-1 1 0 1 0 1-1 1 1 1 0 1 0 1 0 1 0 1 0 1 1 1-2 1 1 1-1 1 2 1-2 1 2 1-1 1 1 1-2 1 0 1 0 1 3 1-3 1 0 1 1 1-1 1 0 1 1 1-1 1 0 1 1 1-1 1 0 1 1 1-1 1 0 1 0 1 1 1 1 1 0 1-2 1 0 1 5 1-5 1 0 1 0 1 1 1-1 1 0 1 0 1 0 1 3 1-2 1 2 1-1 1-1 1 0 1-1 1 1 1-1 1 0 1 1 1 2 1-3 1 0 1 0 1 1 1 0 1 1 1 3 1-5 1 0 1 1 1-1 1 0 1 0 1 0 1 0 1 1 1 0 1-1 1 0 1 1 1-1 1 1 1-1 1 2 1-2 1 1 1-1 1 1 1 0 1-1 1 0 1 1 1 1 1-2 1 0 1 2 1-1 1 1 1 0 1-2 1 0 1 0 1 1 1 0 1 2 1-3 1 0 1 1 1 2 1-3 1 0 1 0 1 0 1 1 1 0 1 1 1-2 1 0 1 0 1 0 1 0 1 0 1 3 1-3 1 0 1 0 1 0 1 0 1 0 1 0 1 1 1 0 1-1 1 2 1-2 1 1 1-1 1 0 1 0 1 1 1 2 1-1 1 0 1-1 1 2 1-1 1 1 1 2 1-4 1 2 1-2 1-1 1 0 1 2 1 0 1-1 1 0 1 0 1-1 1 1 1 0 1 0 1-1 1 2 1-2 1 1 1 1 1-2 1 1 1 0 1-1 1 1 1-1 1 1 1 0 1-1 1 0 1 3 1-1 1-2 1 2 1-1 1-1 1 1 1-1 1 0 1 2 1-1 1 0 1 4 1-5 1 1 1-1 1 3 1-2 1-1 1 0 1 1 1 0 1-1 1 0 1 0 1 1 1-1 1 0 1 3 1-3 1 1 1-1 1 0 1 0 1 3 1-1 1 0 1-1 1 0 1-1 1 2 1-2 1 1 1-1 1 1 1-1 1 2 1-2 1 0 1 1 1 0 1 0 1 1 1-2 1 1 1-1 1 0 1 0 1 0 1 0 1 2 1-1 1-1 1 0 1 0 1 3 1-1 1-2 1 0 1 0 1 1 1-1 1 0 1 0 1 0 1 1 1-1 1 0 1 0 1 2 1-1 1-1 1 0 1 1 1-1 1 1 1-1 1 2 1-1 1 0 1 0 1 3 1-2 1-2 1 0 1 0 1 1 1-1 1 2 1-2 1 0 1 1 1 0 1 0 1-1 1 0 1 5 1-4 1 0 1 1 1-1 1-1 1 0 1 1 1 0 1 0 1 1 1-2 1 0 1 1 1 1 1 1 1-2 1-1 1 2 1-1 1-1 1 0 1 4 1-4 1 0 1 3 1-2 1 0 1-1 1 1 1 0 1 0 1 0 1 1 1-1 1 0 1 1 1-1 1 2 1 0 1-3 1 1 1-1 1 1 1-1 1 1 1-1 1 0 1 0 1 2 1-2 1 0 1 0 1 0 1 0 1 0 1 2 1-2 1 0 1 0 1 1 1-1 1 0 1 0 1 3 1-2 1 2 1-3 1 1 1 1 1-2 1 0 1 1 1-1 1 1 1 0 1-1 1 1 1-1 1 1 1-1 1 1 1 0 1-1 1 0 1 1 1 0 1-1 1 1 1-1 1 0 1 0 1 1 1 2 1-2 1-1 1 0 1 0 1 0 1 0 1 0 1 0 1 0 1 0 1 1 1 0 1-1 1 1 1 0 1-1 1 0 1 0 1 3 1-1 1-1 1-1 1 0 1 1 1-1 1 0 1 0 1 0 1 0 1 0 1 2 1-2 1 0 1 1 1-1 1 5 1-3 1-1 1-1 1 3 1-2 1 0 1-1 1 1 1 0 1-1 1 1 1-1 1 2 1 0 1-1 1 4 1-5 1 0 1 1 1 0 1 0 1-1 1 0 1 1 1 2 1-1 1 0 1-2 1 1 1 0 1 0 1 1 1-1 1-1 1 1 1-1 1 0 1 1 1 0 1 1 1-2 1 0 1 2 1-1 1 1 1-1 1 0 1 0 1-1 1 0 1 0 1 1 1-1 1 0 1 0 1 0 1 0 1 1 1 0 1-1 1 0 1 0 1 0 1 0 1 0 1 0 1 0 1 0 1 1 1 0 1-1 1 0 1 1 1 0 1 1 1 2 1-3 1 0 1-1 1 1 1 1 1-2 1 0 1 0 1 0 1 0 1 0 1 0 1 0 1 0 1 1 1-1 1 2 1 0 1-2 1 1 1-1 1 0 1 1 1-1 1 2 1 0 1-1 1 3 1-4 1 1 1-1 1 3 1-2 1 1 1-1 1-1 1 0 1 0 1 1 1 0 1 0 1 0 1-1 1 0 1 0 1 0 1 0 1 1 1 1 1 0 1-2 1 1 1 1 1-2 1 0 1 1 1 0 1-1 1 1 1-1 1 0 1 0 1 0 1 0 1 0 1 0 1 1 1-1 1 0 1 1 1-1 1 0 1 0 1 0 1 2 1-2 1 3 1 0 1-3 1 0 1 0 1 0 1 1 1 0 1-1 1 0 1 0 1 2 1-1 1 1 1-2 1 3 1-3 1 0 1 1 1-1 1 1 1-1 1 1 1 1 1-2 1 1 1-1 1 0 1 0 1 0 1 0 1 0 1 1 1-1 1 2 1 1 1-2 1-1 1 1 1-1 1 0 1 0 1 2 1-1 1 1 1 1 1-2 1-1 1 0 1 0 1 0 1 0 1 0 1 0 1 0 1 5 1-4 1 0 1 0 1 0 1 1 1 1 1-1 1-2 1 2 1 1 1-1 1 0 1-1 1 0 1-1 1 0 1 0 1 1 1-1 1 2 1-1 1 0 1 2 1-1 1-1 1 1 1-2 1 0 1 0 1 0 1 3 1-1 1 0 1 0 1 0 1-2 1 2 1-1 1-1 1 0 1 2 1-1 1 0 1 1 1-2 1 0 1 0 1 2 1-2 1 0 1 0 1 1 1 0 1-1 1 1 1 1 1 0 1-1 1-1 1 3 1-2 1-1 1 0 1 1 1-1 1 1 1-1 1 2 1-2 1 1 1-1 1 0 1 0 1 1 1 0 1 0 1-1 1 2 1 1 1-3 1 2 1-1 1 3 1-4 1 0 1 0 1 0 1 2 1-1 1-1 1 1 1 2 1-2 1 2 1-2 1-1 1 1 1 1 1-1 1-1 1 0 1 0 1 0 1 1 1 0 1 0 1-1 1 0 1 0 1 1 1 0 1-1 1 0 1 0 1 0 1 0 1 1 1 1 1-2 1 0 1 1 1-1 1 0 1 0 1 0 1 1 1 0 1-1 1 1 1-1 1 4 1-3 1-1 1 0 1 0 1 0 1 0 1 1 1 0 1 0 1-1 1 1 1-1 1 0 1 0 1 1 1-1 1 0 1 0 1 2 1 0 1 0 1-2 1 2 1-1 1 3 1-2 1-2 1 1 1-1 1 0 1 2 1-1 1 1 1 0 1-2 1 1 1 1 1-1 1 1 1-2 1 0 1 1 1 0 1 0 1 2 1-3 1 0 1 1 1-1 1 1 1 0 1 0 1 0 1 2 1-2 1 0 1 0 1 0 1-1 1 1 1 0 1 1 1 0 1-2 1 0 1 1 1-1 1 1 1-1 1 1 1 0 1 1 1-1 1-1 1 1 1 0 1 0 1-1 1 0 1 0 1 1 1-1 1 0 1 1 1 1 1 0 1-2 1 0 1 1 1 1 1-2 1 5 1-4 1 0 1 0 1-1 1 1 1-1 1 0 1 0 1 0 1 0 1 1 1 1 1-2 1 2 1-2 1 1 1 0 1 0 1-1 1 1 1-1 1 2 1-2 1 0 1 1 1 1 1 0 1-2 1 1 1 0 1 0 1-1 1 0 1 0 1 2 1-2 1 0 1 0 1 0 1 0 1 0 1 2 1-1 1-1 1 0 1 0 1 0 1 1 1 2 1-1 1-2 1 1 1-1 1 0 1 0 1 2 1-2 1 0 1 0 1 0 1 2 1 1 1-3 1 0 1 0 1 3 1-3 1 1 1-1 1 0 1 1 1-1 1 1 1-1 1 1 1 1 1-1 1 0 1 0 1 1 1-2 1 0 1 0 1 1 1-1 1 1 1 0 1-1 1 0 1 0 1 0 1 2 1-1 1 0 1-1 1 0 1 1 1 1 1-2 1 0 1 1 1 0 1 2 1-2 1 0 1 2 1 0 1-2 1 0 1 1 1-1 1-1 1 2 1 0 1 0 1-1 1 0 1-1 1 1 1-1 1 3 1-2 1 2 1-3 1 1 1 0 1-1 1 0 1 0 1 0 1 2 1-1 1-1 1 1 1-1 1 1 1-1 1 0 1 0 1 1 1-1 1 1 1 0 1 0 1-1 1 0 1 0 1 2 1-2 1 0 1 0 1 1 1-1 1 1 1 0 1 1 1-2 1 3 1 0 1-3 1 1 1 0 1 2 1-2 1-1 1 1 1-1 1 1 1-1 1 1 1-1 1 0 1 0 1 0 1 0 1 0 1 0 1 0 1 1 1 0 1-1 1 0 1 0 1 0 1 0 1 0 1 0 1 0 1 2 1-2 1 2 1 0 1 0 1-1 1-1 1 1 1-1 1 0 1 0 1 1 1 0 1 0 1-1 1 2 1-1 1-1 1 0 1 1 1-1 1 2 1 1 1-3 1 0 1 1 1 2 1-2 1 0 1-1 1 3 1-3 1 1 1 0 1-1 1 0 1 1 1-1 1 1 1 1 1-1 1-1 1 0 1 1 1-1 1 1 1 0 1-1 1 0 1 0 1 1 1-1 1 1 1-1 1 0 1 1 1-1 1 0 1 3 1-2 1 0 1 1 1-1 1 0 1 0 1 1 1-1 1-1 1 0 1 1 1-1 1 1 1 1 1-2 1 1 1 0 1-1 1 0 1 0 1 0 1 0 1 0 1 0 1 2 1-1 1-1 1 1 1 0 1 2 1-3 1 3 1 0 1 0 1-2 1-1 1 1 1-1 1 1 1-1 1 1 1 0 1-1 1 1 1 0 1 0 1-1 1 0 1 3 1-2 1 0 1-1 1 2 1-2 1 2 1-2 1 1 1 2 1-2 1-1 1 0 1 0 1 1 1-1 1 0 1 1 1 0 1 0 1 0 1-1 1 0 1 2 1-1 1 3 1-3 1-1 1 2 1 0 1-2 1 0 1 0 1 0 1 1 1-1 1 0 1 0 1 0 1 0 1 0 1 0 1 0 1 1 1-1 1 1 1 2 1 0 1-3 1 0 1 0 1 1 1-1 1 1 1-1 1 0 1 1 1 1 1-2 1 1 1 1 1-2 1 0 1 1 1 0 1-1 1 0 1 1 1 0 1 1 1-2 1 0 1 0 1 1 1-1 1 2 1-2 1 0 1 0 1 1 1-1 1 2 1-1 1-1 1 1 1 0 1 2 1-1 1 1 1-2 1-1 1 0 1 1 1 0 1-1 1 0 1 0 1 0 1 0 1 2 1-1 1 0 1 0 1-1 1 2 1-1 1-1 1 1 1-1 1 1 1-1 1 1 1 0 1 0 1-1 1 1 1 1 1 0 1 2 1-3 1 0 1 0 1-1 1 0 1 0 1 1 1 2 1-2 1-1 1 2 1-2 1 0 1 2 1-2 1 0 1 0 1 0 1 0 1 3 1-1 1-1 1-1 1 1 1 2 1-3 1 1 1-1 1 1 1 0 1-1 1 0 1 0 1 0 1 1 1-1 1 0 1 0 1 0 1 0 1 0 1 0 1 1 1 1 1-1 1-1 1 2 1 0 1-1 1-1 1 0 1 2 1-1 1 1 1 0 1-1 1 2 1-2 1 0 1-1 1 0 1 0 1 1 1-1 1 0 1 0 1 0 1 0 1 0 1 0 1 0 1 0 1 2 1-1 1-1 1 2 1-1 1-1 1 0 1 1 1 1 1-2 1 2 1-1 1 1 1-1 1 1 1 0 1 0 1 0 1 0 1-2 1 1 1-1 1 0 1 1 1-1 1 0 1 1 1 0 1-1 1 0 1 1 1 0 1 2 1-1 1-1 1-1 1 4 1-3 1 0 1-1 1 0 1 0 1 0 1 1 1 0 1 1 1-2 1 1 1-1 1 2 1-1 1 0 1 0 1 1 1-2 1 2 1-2 1 1 1-1 1 0 1 0 1 0 1 1 1 0 1-1 1 5 1-4 1 0 1 1 1-2 1 0 1 1 1 2 1-3 1 0 1 1 1-1 1 1 1-1 1 0 1 2 1-1 1-1 1 0 1 0 1 1 1 3 1-3 1 0 1 0 1 1 1 0 1 0 1 0 1 1 1 1 1 0 1 3 1-1 1-1 1-1 1-1 1-1 1 0V0" fill="#0000ff" stroke="#00008b" stroke-width="0.85" vector-effect="non-scaling-stroke"/></g>
<path d="M259 2882.5H270.5M259 3021.5H270.5" fill="none" stroke="#333" stroke-width="1"/>
<path d="M270.5 2882.0V3022.0" stroke="#858575" stroke-width="1"/>
<text x="252.4" y="2885.3" class="ax">8</text>
<text x="252.4" y="3024.1" class="ax">0</text>
<text x="74" y="2957.7" class="nm">GSM5550299</text>
<g transform="translate(271.0 3175.0) scale(0.33333 -7.72222)"><path d="M0 0V9l1-6 1 2 1-1 1 2 1-5 1 3 1-3 1 11 1-3 1-4 1 5 1 3 1-5 1-6 1 0 1 3 1 7 1-4 1-2 1 2 1-5 1 3 1-1 1-2 1 3 1 4 1-6 1 1 1 0 1-3 1 2 1 0 1 1 1 0 1 0 1 0 1-2 1-1 1 6 1-5 1 2 1 0 1 3 1 2 1-5 1 3 1-8 1 11 1-8 1 0 1 1 1 10 1-9 1-3 1 1 1 3 1-3 1 3 1-1 1 2 1-2 1 5 1-7 1 8 1-7 1 1 1 0 1-1 1 2 1 2 1-4 1-1 1 3 1-2 1 0 1 0 1 3 1-1 1 3 1-7 1 4 1-1 1-1 1 0 1 7 1 3 1 4 1-11 1 0 1 0 1 0 1 2 1-4 1-1 1 1 1 5 1-7 1 7 1-5 1-2 1-1 1 1 1-1 1 10 1-8 1 3 1 2 1-4 1 2 1-1 1 3 1-7 1 1 1 6 1-6 1 3 1 2 1-3 1 0 1 0 1-2 1 5 1-6 1 1 1 6 1-1 1-4 1 0 1 2 1-1 1 0 1-3 1 6 1-6 1 7 1-5 1 8 1-8 1 3 1-1 1-1 1-1 1 0 1 2 1 0 1-3 1-1 1 4 1 0 1 3 1-6 1 3 1 2 1-5 1 3 1 2 1-4 1 4 1-2 1-2 1-3 1 6 1-4 1 0 1 8 1-8 1 7 1-2 1-1 1-5 1 1 1 1 1 1 1 3 1-2 1 1 1 0 1-3 1-1 1 3 1-1 1-2 1 1 1-2 1 5 1 4 1-8 1 4 1-1 1-2 1 4 1-2 1-2 1 0 1 7 1-4 1-3 1 0 1 4 1-6 1 3 1-1 1 6 1-3 1-2 1 1 1-3 1 4 1-2 1 0 1 1 1-1 1-1 1 2 1 2 1-4 1-2 1 9 1-2 1-5 1-4 1 4 1-1 1 2 1 2 1-1 1 0 1 0 1-3 1 3 1 0 1-1 1 2 1 0 1-2 1 0 1-2 1 6 1-7 1 0 1 1 1 1 1 7 1-9 1 1 1 4 1-2 1-2 1 0 1 6 1-2 1-2 1-4 1 0 1 2 1 3 1 0 1 3 1-6 1 1 1 2 1-1 1 1 1 3 1-4 1 2 1-5 1 4 1 5 1-5 1-3 1 4 1 0 1 2 1-2 1 7 1-7 1-1 1 0 1 0 1-2 1 7 1-4 1 0 1-2 1 0 1 7 1 1 1-5 1-5 1 6 1-7 1-1 1 4 1-3 1 1 1 1 1 3 1 0 1 1 1-4 1-2 1 3 1 1 1-2 1 7 1-4 1-3 1 1 1-1 1 2 1-4 1 2 1 2 1-1 1 2 1-1 1-2 1 3 1-2 1 0 1 1 1 3 1-6 1 1 1 1 1 3 1-5 1 2 1 3 1-1 1 1 1-6 1 4 1-3 1 2 1 2 1-3 1 3 1-3 1 3 1-3 1 0 1 14 1-15 1-2 1 9 1-6 1 4 1-3 1 2 1-1 1-3 1 6 1-2 1-3 1 3 1-6 1 2 1 2 1-3 1 5 1 0 1-1 1-2 1 5 1-3 1-1 1 1 1 4 1-5 1 0 1-1 1 0 1 1 1-1 1 2 1 3 1-7 1 1 1 1 1 4 1 2 1-4 1-1 1-2 1 10 1-1 1-2 1-7 1 5 1-5 1 0 1 6 1-4 1-4 1 6 1-4 1 4 1-4 1 3 1-1 1-2 1 2 1 1 1-5 1 5 1 2 1-1 1 5 1-10 1 6 1-2 1-3 1 2 1-3 1 2 1-1 1 6 1-5 1 8 1-10 1 6 1-3 1 3 1-2 1-3 1 0 1 4 1-3 1 2 1-4 1 2 1 4 1-3 1-2 1 4 1 1 1-3 1 5 1-8 1-2 1 9 1-3 1-3 1-1 1 6 1-3 1 3 1-2 1 0 1-4 1 4 1 6 1-5 1-3 1 2 1 4 1-5 1 2 1-1 1-1 1 1 1-2 1 2 1-4 1 4 1 0 1-1 1-1 1 6 1-2 1 1 1 2 1-6 1 7 1-9 1 4 1-7 1 2 1 1 1 0 1 2 1 0 1 1 1-2 1 6 1-8 1 1 1 6 1-4 1-3 1 6 1-5 1 5 1-6 1 2 1 4 1-1 1-2 1 6 1-6 1 0 1 5 1 4 1-6 1 0 1-2 1 3 1-6 1 10 1-6 1-3 1 0 1 1 1 0 1-4 1 4 1-2 1 8 1-1 1-5 1 1 1 1 1 2 1-7 1-1 1 6 1-2 1 6 1-7 1 0 1 1 1-1 1-4 1 9 1-4 1-2 1 1 1 0 1-1 1 1 1-1 1 4 1 1 1-1 1-1 1-3 1 2 1 5 1-7 1 0 1 3 1-3 1 2 1 4 1 1 1 1 1-1 1-10 1 6 1-3 1 4 1 3 1 3 1-8 1 0 1 1 1 4 1-1 1 0 1-5 1-3 1 3 1 1 1 1 1-3 1-1 1 1 1 6 1 0 1-4 1 4 1-2 1-1 1-5 1 3 1-2 1 0 1 4 1 2 1-1 1-4 1-3 1 8 1-5 1 5 1-3 1 4 1-4 1-1 1 1 1 0 1-2 1 0 1 6 1-5 1 1 1-2 1 3 1-1 1 1 1 3 1-8 1 3 1-1 1 2 1-3 1 1 1 5 1-3 1 4 1-5 1 4 1-2 1-2 1 2 1 0 1 0 1 0 1 1 1-1 1 0 1 2 1-3 1-2 1 0 1 5 1-6 1 2 1-2 1 1 1 2 1-3 1 5 1-7 1 3 1 0 1 6 1-2 1-5 1 0 1-1 1 5 1 1 1-4 1 5 1-2 1-3 1 1 1 2 1-2 1 5 1-5 1 1 1 11 1-11 1 0 1 1 1-4 1-1 1 2 1-1 1 3 1 0 1-2 1 3 1 3 1-8 1 2 1 1 1-3 1 6 1-4 1-1 1 9 1-7 1 2 1-4 1 7 1-9 1 4 1 3 1-3 1 1 1 2 1 3 1-1 1 2 1-9 1 10 1-9 1 3 1 2 1-5 1 4 1-3 1 2 1-4 1 2 1 0 1 1 1 0 1 2 1-5 1 4 1-2 1-2 1 0 1 0 1 3 1 8 1-5 1-4 1 0 1 3 1-4 1 4 1 2 1-7 1 0 1-1 1 2 1 1 1 1 1-4 1 0 1 3 1 3 1 5 1-2 1-4 1 9 1-8 1-1 1-1 1-2 1 2 1-1 1-3 1 7 1-2 1 1 1-6 1 4 1 0 1 4 1-2 1 1 1-2 1 1 1 2 1-7 1 0 1-1 1 2 1-1 1 1 1 5 1-1 1 5 1-3 1 0 1 0 1-1 1-3 1 5 1-5 1 2 1 3 1-5 1 4 1-2 1-3 1 3 1-1 1-2 1-2 1 5 1-1 1-3 1 1 1 5 1-5 1 5 1 2 1 1 1-6 1 0 1-1 1 2 1-4 1 2 1 0 1 3 1 1 1-5 1 1 1 1 1-1 1 4 1-4 1 5 1 2 1-10 1 3 1-2 1 0 1 2 1 2 1 2 1-4 1 0 1-1 1 6 1-5 1 6 1-2 1-3 1-2 1-2 1 7 1-1 1-5 1 2 1-1 1 0 1-1 1 2 1 5 1-6 1-3 1 8 1 0 1 2 1-6 1-3 1 4 1-2 1 3 1 4 1-3 1-3 1 8 1-8 1 0 1-1 1 3 1 4 1 1 1-6 1-3 1-3 1 6 1-6 1 7 1 0 1-4 1 1 1 0 1-1 1 2 1 1 1-1 1 5 1-8 1 0 1 2 1 2 1-2 1-1 1 5 1-4 1 5 1 0 1-5 1-1 1 1 1 4 1-3 1-5 1 13 1-5 1-6 1 1 1 7 1-3 1-4 1 3 1-2 1-2 1-1 1 5 1 5 1-5 1-3 1 1 1-2 1 3 1 1 1-2 1 0 1-2 1-1 1 7 1-6 1 1 1 2 1-5 1 6 1 1 1-2 1 1 1 1 1 6 1-9 1-1 1 1 1-2 1 2 1 3 1-2 1 0 1-1 1 3 1 3 1-3 1-7 1 3 1 2 1-5 1 4 1 2 1-1 1 2 1 2 1 2 1-5 1-5 1 1 1 3 1 5 1-5 1-1 1 7 1-8 1 1 1-3 1 3 1-4 1 2 1 4 1 1 1-2 1 3 1-1 1-2 1-2 1 5 1 1 1-5 1 2 1-3 1 1 1 1 1-1 1 3 1-1 1 2 1-4 1-2 1 5 1-2 1-2 1 1 1-1 1 5 1-4 1 3 1-5 1 1 1-2 1 7 1-5 1 0 1 4 1-3 1 3 1 3 1-4 1-5 1 3 1 3 1-5 1 1 1 4 1-3 1 3 1-4 1 0 1-2 1 5 1 2 1-6 1 3 1-1 1 1 1-1 1 1 1 2 1-4 1-1 1 6 1-2 1-3 1-1 1 4 1-3 1 3 1-2 1 0 1 6 1-9 1 2 1 6 1-5 1 2 1 0 1 1 1 0 1-2 1 3 1-4 1 2 1-1 1-4 1 4 1-3 1 2 1 4 1-6 1 2 1 2 1 6 1-2 1-4 1 4 1-2 1-4 1 4 1-3 1-1 1-1 1 3 1-1 1 0 1-2 1 10 1-4 1-5 1 2 1-1 1 0 1 1 1 0 1 2 1-6 1 3 1 1 1 3 1-8 1-1 1 3 1 3 1 1 1-2 1-2 1 4 1 0 1 7 1-8 1 2 1-2 1-1 1-2 1 3 1-4 1 5 1-5 1 0 1 2 1 6 1-4 1-2 1 5 1-6 1 3 1 0 1-1 1-2 1 1 1 4 1 2 1-1 1-2 1-6 1 9 1-3 1-3 1 5 1-5 1 5 1-7 1 4 1-2 1-1 1 2 1-1 1 1 1 2 1-3 1 0 1-2 1 3 1-2 1-1 1 1 1 2 1-2 1 2 1-3 1 0 1 3 1-1 1 2 1 5 1-2 1 0 1-5 1 2 1-2 1 6 1-1 1 8 1-11 1 1 1 1 1-6 1-1 1 2 1 4 1-3 1 3 1-1 1 1 1 4 1-4 1-1 1 5 1-9 1 1 1 7 1 0 1-4 1 4 1-2 1 1 1 0 1-4 1-2 1 2 1 0 1 1 1-3 1 0 1 1 1 6 1-5 1 1 1 4 1-6 1 0 1 1 1 3 1-3 1 3 1-2 1 3 1-6 1 5 1 5 1-9 1-1 1 0 1 3 1-3 1 7 1-4 1 4 1-5 1-1 1 2 1-6 1 4 1 2 1 1 1 0 1-2 1 3 1-1 1-3 1 2 1 3 1-4 1-3 1 2 1 0 1-2 1 2 1 5 1-2 1 0 1-4 1 0 1-1 1 2 1 5 1-3 1 0 1 1 1-4 1-2 1 5 1 0 1 0 1 2 1-6 1 2 1 0 1 4 1 3 1-3 1 0 1-3 1 3 1-6 1 4 1 1 1-4 1 1 1-2 1 2 1 3 1-1 1 7 1-10 1 4 1 0 1-5 1 5 1-4 1 1 1 3 1-1 1-1 1 4 1-3 1 1 1-4 1 7 1-5 1-1 1 2 1 3 1-4 1 1 1 4 1-8 1 0 1 2 1 0 1 0 1 0 1 8 1-9 1 3 1 0 1-3 1 4 1-1 1-5 1 4 1 0 1-2 1 1 1 5 1-8 1 4 1 4 1-5 1-4 1 3 1 5 1 1 1-3 1 5 1-7 1-4 1 9 1-5 1 4 1-3 1 1 1-3 1 5 1 2 1-5 1 2 1-5 1 1 1 1 1 1 1 3 1 0 1-6 1 3 1 8 1-12 1 3 1 2 1 1 1-4 1-1 1 1 1-2 1 3 1 6 1-3 1-1 1 0 1-5 1 1 1 3 1 5 1-2 1 2 1-8 1 4 1-4 1 5 1 5 1-8 1-2 1 4 1-1 1 11 1-12 1-2 1 3 1 0 1 0 1 0 1 2 1-1 1-2 1 3 1-4 1 3 1-2 1-1 1 2 1 1 1-2 1 3 1-5 1 1 1-3 1 8 1-1 1-4 1-3 1 3 1-1 1 3 1-2 1 4 1-6 1 6 1-5 1 3 1-3 1 4 1 1 1 1 1 2 1-2 1-4 1 0 1 4 1 4 1-10 1 1 1 4 1 1 1-5 1 1 1 0 1 2 1-4 1 5 1-2 1 3 1-3 1 0 1-3 1 1 1 5 1-6 1 4 1-3 1 5 1-3 1 0 1-1 1 6 1 1 1-7 1 2 1 6 1-2 1-6 1 4 1 5 1-7 1-2 1 2 1 3 1 0 1-3 1 1 1-4 1 7 1-5 1-1 1 1 1-4 1 3 1-3 1 8 1-2 1 2 1-3 1 2 1-4 1 4 1-2 1-2 1 2 1-2 1-1 1 1 1 2 1 4 1-2 1-3 1-1 1 4 1-3 1-2 1 5 1-3 1-1 1-1 1 2 1-3 1 0 1 3 1 1 1-1 1-3 1 8 1-6 1-1 1 3 1-1 1-2 1-1 1 2 1 5 1-2 1-2 1-5 1 10 1-6 1 0 1-2 1 3 1 1 1-2 1 3 1 4 1-10 1 5 1 2 1-3 1 3 1 1 1-3 1 4 1-5 1 1 1 0 1-2 1 2 1-3 1 6 1-4 1-2 1 0 1 9 1-8 1 3 1-3 1 1 1 1 1-4 1 4 1 2 1-5 1 4 1-1 1 1 1 0 1 1 1-5 1 4 1 1 1-1 1-2 1 4 1-3 1-2 1 2 1-1 1 3 1-1 1 1 1 1 1-7 1-1 1 3 1 0 1 1 1-3 1 8 1-5 1 0 1-1 1 4 1-5 1 1 1 1 1 5 1 3 1-3 1-4 1 4 1-8 1 2 1 1 1 2 1 0 1 0 1-4 1 1 1 0 1-1 1-1 1 1 1 5 1-5 1 2 1 4 1-3 1 2 1-3 1-1 1 1 1 1 1 1 1-2 1 4 1-3 1 2 1-2 1 0 1-1 1 1 1-5 1 6 1 3 1-6 1 3 1-1 1-1 1-3 1 3 1 0 1-3 1 2 1 3 1-6 1 8 1-5 1 2 1-3 1 3 1-1 1-4 1 5 1-1 1-1 1 10 1-5 1-6 1 4 1-5 1 2 1 3 1-2 1 0 1-1 1-2 1 0 1 5 1 2 1-4 1-1 1-1 1 2 1 6 1-10 1 4 1 0 1 0 1 3 1-2 1-4 1 2 1 0 1 14 1-11 1-5 1 0 1 1 1 3 1-4 1 0 1 5 1-2 1-2 1 8 1-2 1-4 1 3 1-2 1-2 1-1 1 4 1-3 1 1 1 4 1-2 1 1 1-6 1 5 1-2 1-1 1-2 1 0 1-1 1 0 1-1 1 8 1-4 1-1 1-2 1 5 1-5 1 6 1 1 1-4 1 1 1-4 1 4 1 2 1-1 1 1 1 0 1 1 1-5 1 2 1-2 1 2 1-2 1 0 1 9 1-3 1-4 1 8 1-11 1 3 1 3 1-6 1 0 1 4 1 0 1-2 1 4 1-5 1 2 1 1 1 1 1 0 1-6 1 5 1 2 1-7 1 6 1-1 1 1 1 0 1 0 1 2 1 4 1-11 1 6 1-3 1 1 1-2 1 3 1-2 1-2 1 0 1 2 1 1 1 0 1-3 1 5 1-4 1-1 1 0 1 1 1-1 1-2 1 2 1 0 1 6 1-2 1-3 1 0 1-2 1 7 1-1 1-5 1 3 1-1 1-2 1 2 1-1 1 4 1-2 1-3 1 1 1-4 1 7 1 5 1-8 1 4 1 0 1-2 1 2 1 3 1-3 1-6 1 0 1 5 1 0 1 0 1 1 1-1 1 2 1-5 1-1 1 3 1-3 1 5 1-4 1 8 1-1 1-2 1-2 1-1 1 0 1-5 1 4 1 1 1 2 1-5 1 0 1 4 1-5 1 6 1-3 1 1 1 1 1-2 1 5 1 1 1-6 1 6 1-9 1 3 1-3 1 4 1-3 1-2 1 1 1 2 1 2 1 3 1-3 1 2 1 0 1-6 1 2 1 4 1 2 1-1 1-2 1 0 1 3 1-5 1-1 1 1 1 0 1 6 1-11 1 8 1-2 1 0 1 2 1-2 1 1 1-5 1 2 1 7 1-2 1-4 1-2 1 0 1 2 1-2 1 1 1 2 1-1 1 1 1 0 1 1 1-5 1 5 1-5 1 2 1 0 1 0 1 3 1 0 1-2 1 3 1-6 1 2 1 5 1-3 1-1 1 2 1 0 1-5 1 3 1-4 1 3 1 0 1 6 1-4 1-4 1 0 1 5 1 0 1-3 1 3 1-4 1 2 1-3 1 7 1-4 1 1 1-5 1 0 1 3 1 1 1 1 1-3 1 5 1-3 1-1 1-1 1 2 1 1 1-1 1 1 1 3 1-4 1 0 1 0 1 2 1-4 1 2 1 5 1-4 1 1 1 2 1-4 1 1 1 1 1-1 1-4 1 0 1 1 1 10 1-10 1 6 1-3 1-2 1 7 1-4 1-3 1-3 1 10 1-6 1-2 1 2 1-1 1 3 1 3 1-8 1 4 1-4 1 0 1 2 1-2 1 2 1-2 1 4 1-3 1 5 1-5 1 4 1-4 1 2 1 0 1-3 1 2 1 9 1-9 1-1 1-3 1 4 1 2 1 0 1-2 1 2 1-2 1-3 1 0 1 3 1-1 1 6 1-3 1-1 1 5 1-2 1-3 1 0 1-3 1 3 1-2 1 1 1 1 1 0 1 1 1-2 1 5 1-2 1-5 1 5 1-3 1 1 1 4 1-3 1 4 1-5 1 0 1-2 1 11 1-7 1-2 1-1 1 3 1-2 1 3 1-3 1-4 1 5 1-3 1 3 1-3 1 3 1 2 1 0 1-2 1 5 1-5 1 3 1-6 1 4 1-4 1 3 1 3 1 5 1-10 1 0 1 3 1 1 1-1 1-1 1 0 1 0 1 3 1-5 1 2 1-2 1-2 1 7 1-6 1 0 1 0 1 0 1 3 1 0 1-5 1 5 1-4 1 2 1 0 1 0 1 2 1-1 1 2 1-1 1 1 1-6 1 3 1 3 1-3 1 2 1 2 1-1 1-2 1 0 1-2 1 2 1-1 1 0 1 1 1 3 1-6 1 2 1-3 1 7 1-4 1 1 1 1 1-2 1-2 1 3 1 1 1-4 1 5 1-6 1 4 1-1 1-3 1 1 1 1 1 3 1-1 1-2 1 2 1-2 1 1 1-3 1 4 1 1 1 3 1-3 1-1 1 1 1-3 1 5 1-4 1 5 1 2 1-2 1-7 1 1 1 4 1-1 1-1 1 2 1 0 1-3 1-2 1 0 1 2 1 9 1-11 1 2 1 1 1 0 1 3 1 3 1-3 1-5 1 6 1-4 1-1 1-1 1 4 1 5 1-3 1-6 1 4 1-3 1 0 1 3 1-4 1-1 1 5 1 0 1-1 1-2 1-3 1 2 1 2 1-4 1 3 1 2 1 3 1-1 1 0 1-5 1 6 1 3 1-9 1 0 1 4 1-4 1 8 1-6 1-1 1 6 1-4 1-5 1 5 1 1 1 2 1-3 1-1 1 1 1 0 1-1 1 1 1-2 1 3 1 0 1-6 1 7 1-3 1-2 1 1 1 1 1 2 1-2 1-1 1 1 1 6 1-6 1-2 1 2 1 3 1-1 1-3 1 2 1-1 1 6 1-8 1 3 1-2 1 0 1 4 1-5 1 10 1-12 1 8 1-5 1 2 1-3 1 4 1-1 1 2 1-3 1-1 1 1 1-2 1 0 1 2 1 1 1 1 1-5 1 2 1 0 1 3 1 6 1-7 1 2 1-5 1 5 1-1 1 10 1-9 1-4 1 0 1 2 1 4 1-4 1-2 1-1 1 0 1-3 1 6 1-2 1 0 1 1 1-1 1 2 1-2 1 1 1 1 1-2 1 5 1-5 1-4 1 6 1-5 1 3 1 2 1-2 1 1 1-1 1 2 1-3 1 4 1-3 1 2 1 1 1 1 1-1 1-3 1 2 1 0 1 1 1-4 1 2 1 1 1 0 1 0 1-2 1 7 1-7 1 2 1-2 1 0 1 1 1 2 1-1 1 0 1-3 1-2 1 5 1-1 1 2 1 1 1-3 1 1 1-1 1-1 1 4 1 10 1-11 1-4 1 0 1-2 1 3 1-1 1 1 1 1 1-1 1 4 1 0 1-5 1 10 1-5 1-1 1 0 1-4 1 1 1 2 1 0 1 2 1-2 1-2 1-3 1 6 1-3 1 7 1-4 1-1 1 3 1-4 1-3 1 4 1-4 1 2 1 4 1-2 1-3 1 1 1 4 1-4 1 3 1-6 1 2 1 0 1-1 1 4 1-1 1 3 1-5 1-1 1 1 1 2 1-2 1 0 1-3 1 10 1-7 1 0 1 3 1 3 1-8 1 4 1-1 1-1 1-2 1 4 1-1 1 7 1-3 1-3 1 0 1 2 1-3 1 4 1 1 1-3 1 3 1 0 1 2 1-6 1 0 1 0 1-3 1 0 1 3 1-1 1-1 1 5 1-1 1-1 1 2 1-5 1 3 1 1 1-5 1 5 1-2 1 1 1-5 1 3 1-1 1 4 1-2 1 3 1 1 1-2 1-4 1 4 1 1 1-6 1 1 1 3 1 1 1-4 1 1 1 8 1-8 1-1 1 7 1-5 1-1 1-1 1 0 1-1 1-2 1 5 1-2 1 1 1-2 1-1 1 2 1 2 1-1 1 3 1-3 1 4 1-1 1-2 1 4 1 1 1-4 1-4 1 3 1-3 1 3 1-5 1 5 1 6 1-3 1-6 1 3 1 2 1-7 1 1 1 5 1 1 1-1 1-1 1 4 1 0 1-5 1 0 1 1 1 1 1 1 1 0 1 0 1-1 1-1 1-2 1 2 1-4 1 4 1 7 1-6 1-1 1 2 1-4 1-2 1 2 1 1 1 1 1-1 1-1 1 2 1 5 1-6 1 2 1 1 1 1 1 0 1-3 1-2 1 3 1-5 1 7 1-3 1-1 1-4 1 6 1-2 1-1 1 0 1-1 1 3 1 1 1 3 1-3 1-1 1 2 1 2 1-6 1-1 1 2 1-3 1 4 1 5 1-7 1 0 1 2 1 4 1-4 1 4 1-8 1 1 1 3 1 6 1 0 1-3 1-1 1-3 1 0 1 4 1-6 1 0 1 2 1-2 1 0 1 3 1-2 1 4 1-1 1-5 1 4 1-2 1 1 1 3 1-2 1 0 1 0 1-3 1 5 1-3 1 2 1-3 1 1 1 0 1 0 1-2 1 0 1 8 1 1 1-3 1-5 1 0 1-1 1 1 1 1 1 2 1-3 1 1 1 5 1-5 1 0 1 0 1 8 1-7 1 5 1-2 1-1 1 6 1-10 1 2 1 0 1 2 1-1 1-2 1 6 1-4 1-2 1 2 1 0 1-3 1 1 1 4 1 2 1-5 1 2 1-1 1-1 1-2 1 2 1-1 1 2 1-3 1 7 1-5 1 0 1 1 1-1 1-2 1-2 1 5 1-5 1 6 1-5 1 5 1-1 1 1 1-1 1 4 1-3 1-6 1 3 1-4 1 2 1 1 1 1 1 1 1 0 1 6 1-5 1 1 1-7 1 6 1 5 1 0 1-7 1-2 1-1 1 6 1-3 1-1 1 1 1 1 1-4 1 3 1 2 1-1 1-2 1 6 1-2 1-1 1 5 1-7 1-2 1 2 1 4 1 2 1-8 1 2 1-2 1 3 1 1 1 0 1-1 1-1 1 8 1-7 1-1 1 2 1-4 1 2 1 1 1 2 1-3 1-1 1 4 1-3 1-3 1 5 1-3 1 3 1-5 1 3 1 1 1 2 1 5 1-9 1-2 1 3 1 3 1-5 1 7 1-5 1 3 1-2 1 1 1 2 1-2 1-3 1 2 1 0 1 1 1-1 1 4 1-2 1-1 1-1 1-4 1 1 1 1 1 2 1-2 1 4 1-4 1 1 1-3 1 8 1-6 1 4 1 3 1-4 1-2 1-3 1 7 1-3 1 0 1 1 1 5 1-9 1 1 1 0 1 0 1 2 1 1 1-4 1 5 1 2 1 0 1-2 1-3 1 2 1-2 1 1 1 2 1-3 1 3 1-1 1-3 1-1 1-1 1 6 1 0 1-2 1-1 1 2 1-4 1 0 1 4 1 0 1 0 1-1 1 1 1-3 1 1 1 2 1 0 1 0 1 1 1 1 1-2 1-5 1 4 1 0 1-2 1 1 1-1 1 1 1-2 1 4 1-2 1-2 1 3 1-1 1-1 1 1 1-3 1 3 1 9 1-8 1 1 1-2 1 1 1-3 1 7 1-4 1 0 1-1 1-1 1 3 1 1 1 0 1 0 1 2 1-4 1 5 1-3 1-1 1-5 1 3 1 0 1-2 1 2 1 4 1-4 1 3 1-4 1 2 1 0 1 2 1-4 1-1 1 3 1 1 1-4 1 5 1-1 1-2 1 7 1-9 1 4 1-1 1-2 1 3 1-3 1 6 1 1 1-5 1-2 1 2 1-4 1 3 1 5 1 2 1 4 1-11 1-1 1 2 1-3 1 2 1 2 1 5 1-4 1-2 1 3 1 1 1-1 1-2 1 0 1 2 1 0 1 0 1-3 1-1 1 3 1-4 1 4 1-2 1 0 1-4 1 4 1-4 1 4 1-3 1 1 1 1 1 1 1-1 1 2 1-1 1-1 1 3 1-2 1 0 1-2 1 6 1 1 1-5 1-2 1-3 1 8 1-3 1 3 1 2 1-7 1 9 1-4 1-3 1 4 1-5 1 4 1-4 1-2 1 3 1 2 1 3 1-7 1 1 1 3 1 0 1-4 1 6 1-1 1 0 1 1 1-8 1 1 1 4 1-1 1 4 1-6 1 0 1 1 1 0 1 4 1-4 1 4 1-6 1 4 1 10 1-13 1 3 1 2 1-5 1-1 1 9 1-8 1-1 1 0 1 1 1-1 1 1 1 7 1-1 1 0 1-4 1 0 1-1 1 2 1 3 1-4 1 0 1-2 1 1 1 0 1-2 1 13 1-7 1 2 1-8 1 6 1-1 1-3 1 2 1-4 1 8 1-9 1 9 1 0 1-1 1-2 1-5 1 1 1-1 1 3 1-3 1 3 1 2 1-4 1 3 1 3 1 3 1-11 1 1 1 3 1 0 1-2 1-1 1 10 1 0 1 0 1-5 1-5 1 7 1 5 1-13 1 4 1 3 1-3 1 1 1-1 1-2 1 2 1 0 1 1 1-3 1 1 1-1 1-2 1 7 1-3 1-4 1 1 1 5 1-4 1-1 1 2 1-3 1 6 1-6 1 5 1-1 1-5 1 8 1-1 1-4 1 2 1 3 1 1 1-6 1-1 1 7 1-6 1 3 1-5 1 4 1 0 1-2 1 2 1 2 1 0 1-4 1 2 1-2 1 3 1-5 1 7 1-2 1 2 1 1 1-1 1-5 1 5 1-4 1 1 1 0 1-4 1 6 1-4 1 7 1-1 1-6 1 0 1-1 1 2 1 3 1 4 1-1 1-7 1 4 1 0 1-3 1 9 1-9 1 3 1-3 1 1 1 7 1-10 1 0 1 0 1 2 1-1 1 4 1 0 1-3 1-2 1 1 1 3 1 4 1-9 1 7 1 4 1-6 1 1 1-4 1 2 1-2 1 1 1-1 1 5 1-4 1 3 1 2 1-5 1 1 1 0 1 3 1 2 1-7 1 0 1 2 1-3 1 1 1 5 1-2 1-3 1 5 1 2 1-5 1-2 1 5 1 1 1-6 1 3 1 0 1 3 1-3 1-1 1 3 1-4 1-1 1-1 1 2 1 6 1-4 1-1 1 0 1 2 1 2 1 1 1-5 1 4 1-5 1 3 1-4 1 4 1-5 1 3 1 2 1-2 1-2 1 1 1 4 1-6 1 6 1 0 1-4 1 2 1 1 1-3 1 1 1 1 1 2 1 1 1 1 1-3 1-1 1-2 1 1 1-1 1 2 1-3 1 1 1 2 1-1 1 0 1 5 1-6 1 2 1-2 1 8 1-12 1 3 1 1 1 8 1-3 1-4 1 5 1-3 1-3 1 5 1 1 1-6 1 3 1 3 1-7 1 5 1-3 1 4 1-4 1-4 1 9 1-5 1-1 1 4 1 0 1-4 1-1 1 8 1-1 1-4 1-1 1-2 1-1 1 1 1 3 1 0 1 1 1-1 1 0 1-2 1 1 1-2 1 3 1 2 1-5 1 3 1 0 1 1 1 3 1-7 1 8 1-4 1-5 1 7 1-4 1 5 1-6 1 1 1 1 1-2 1-1 1 0 1 6 1-8 1 3 1-1 1 3 1-1 1-1 1 9 1-12 1 1 1 3 1 1 1-1 1 0 1-1 1 1 1-3 1 7 1-6 1 1 1 2 1 1 1 2 1-5 1 2 1 3 1-2 1 1 1-4 1-2 1 2 1 5 1-3 1 2 1-2 1-1 1 0 1 0 1 3 1-1 1-3 1 3 1-3 1 0 1 1 1 2 1 3 1-4 1 0 1 0 1 1 1 0 1 4 1-5 1 2 1 0 1-7 1 2 1 0 1 0 1 2 1 0 1 5 1-3 1-4 1 2 1-2 1 3 1 0 1-3 1-1 1 7 1-2 1-4 1 0 1 3 1 0 1 3 1 3 1-8 1 0 1 2 1-2 1 0 1 2 1-4 1 4 1-1 1 0 1 4 1 0 1-3 1-1 1 2 1 0 1-4 1-1 1 3 1 1 1-1 1-2 1 4 1-5 1 8 1-3 1-5 1 0 1 4 1-2 1 0 1 4 1-6 1 7 1-1 1-5 1 5 1-6 1 2 1 6 1-9 1 6 1-1 1-5 1 7 1 0 1-2 1-1 1 4 1-3 1-2 1 5 1-5 1 3 1 1 1 0 1-6 1 6 1 0 1 1 1-3 1-2 1 5 1-5 1-1 1-1 1 0 1 3 1-2 1 1 1 0 1 0 1 2 1 0 1-1 1-1 1 6 1-6 1 2 1-3 1 2 1-1 1 3 1-4 1 4 1 1 1-2 1 1 1 4 1 3 1-11 1-1 1 1 1 1 1-4 1 4 1 5 1-6 1-1 1 7 1-2 1 0 1-3 1 1 1 3 1-2V0" fill="#0000ff" stroke="#00008b" stroke-width="0.85" vector-effect="non-scaling-stroke"/></g>
<path d="M259 3036.5H270.5M259 3175.5H270.5" fill="none" stroke="#333" stroke-width="1"/>
<path d="M270.5 3036.0V3176.0" stroke="#858575" stroke-width="1"/>
<text x="252.4" y="3039.3" class="ax">4</text>
<text x="252.4" y="3178.1" class="ax">0</text>
<text x="74" y="3111.7" class="nm">GSM5550298</text>
<g transform="translate(271.0 3329.0) scale(0.33333 -19.85714)"><path d="M0 0V0l1 1 1-1 1 1 1 1 1-1 1 0 1 0 1 1 1-1 1 0 1-1 1 1 1 0 1 0 1 0 1 0 1-1 1 2 1 0 1 1 1-2 1 2 1-1 1 0 1 0 1-1 1 1 1 0 1 0 1 0 1-2 1 0 1 0 1 1 1 0 1-1 1 1 1-1 1 1 1 0 1 0 1 0 1-1 1 0 1 0 1 0 1 0 1 1 1-1 1 0 1 0 1 0 1 0 1 3 1-3 1 0 1 0 1 0 1 0 1 1 1 0 1 1 1-2 1 0 1 1 1 0 1 1 1-1 1 0 1-1 1 1 1 0 1 0 1 0 1 0 1 1 1-2 1 0 1 1 1 0 1 0 1 1 1-1 1-1 1 3 1 1 1-3 1-1 1 2 1-1 1 0 1-1 1 1 1-1 1 0 1 1 1 0 1 0 1 0 1 0 1-1 1 0 1 1 1 1 1 0 1-2 1 0 1 1 1-1 1 1 1-1 1 0 1 2 1 0 1-2 1 0 1 1 1-1 1 1 1-1 1 1 1 1 1-1 1 0 1 2 1-2 1 0 1 0 1 2 1-1 1 0 1 0 1 0 1-1 1 1 1-2 1 2 1-1 1 1 1-1 1-1 1 2 1-1 1-1 1 1 1 1 1-1 1 2 1-1 1 2 1-3 1 1 1 0 1 0 1-1 1-1 1 0 1 1 1-1 1 0 1 1 1-1 1 0 1 0 1 2 1-1 1 0 1 1 1 1 1-2 1 0 1-1 1 1 1-1 1 1 1 0 1-1 1 1 1-1 1 1 1 2 1-3 1 0 1 0 1 0 1 1 1 3 1-3 1 1 1-1 1-1 1 1 1-1 1 0 1 0 1 2 1-1 1 0 1-1 1 1 1 0 1 1 1 0 1 0 1-1 1 1 1-1 1 0 1-1 1 0 1 1 1 1 1-1 1 0 1 1 1-1 1 4 1-4 1 0 1 0 1 1 1 0 1-1 1 0 1 2 1 1 1-2 1 0 1-1 1 1 1 0 1 0 1 0 1 2 1-2 1 0 1-1 1 1 1 0 1 0 1-1 1 2 1-2 1 0 1 2 1-1 1 1 1-2 1-1 1 1 1-1 1 0 1 1 1 0 1-1 1 1 1 0 1-1 1 1 1-1 1 0 1 0 1 0 1 2 1-2 1 0 1 0 1 1 1-1 1 2 1 0 1-1 1 0 1-1 1 1 1-1 1 1 1 0 1 0 1-1 1 0 1 0 1 0 1 0 1 1 1 0 1-1 1 1 1 0 1 2 1-2 1 1 1-1 1-1 1 2 1-1 1-1 1 0 1 0 1 1 1-1 1 0 1 0 1 0 1 0 1 0 1 0 1 0 1 1 1-1 1 0 1 0 1 3 1-2 1 1 1-1 1 1 1-2 1 2 1-1 1-1 1 1 1 0 1 0 1 0 1 0 1 0 1-1 1 1 1 0 1 1 1 0 1 0 1 0 1-1 1 0 1 1 1 2 1-1 1-1 1 0 1-1 1-1 1 0 1 0 1 0 1 0 1 0 1 0 1 0 1 0 1 0 1 0 1 2 1 0 1-1 1 1 1 0 1 0 1 0 1 0 1 1 1-2 1-1 1 0 1 0 1 2 1-1 1 0 1-1 1 1 1 0 1 1 1 0 1-1 1 2 1 0 1-2 1 0 1 2 1-1 1-1 1 2 1-1 1 1 1-2 1-1 1 2 1 0 1-1 1 0 1 1 1-2 1 2 1-2 1 0 1 2 1 0 1-2 1 2 1-1 1 1 1-1 1 1 1 0 1-2 1 0 1 1 1 0 1-1 1 0 1 0 1 0 1 0 1 0 1 0 1 0 1 0 1 1 1-1 1 0 1 0 1 1 1-1 1 0 1 0 1 1 1-1 1 0 1 2 1 0 1-1 1 0 1-1 1 0 1 2 1-2 1 2 1-1 1 1 1-1 1-1 1 2 1 0 1-2 1 1 1-1 1 0 1 0 1 0 1 2 1-1 1 0 1-1 1 0 1 1 1-1 1 2 1-2 1 2 1-1 1-1 1 2 1 0 1 0 1 0 1 0 1 0 1 1 1-2 1 1 1 0 1-1 1 1 1-1 1 1 1 0 1-1 1 1 1 0 1 0 1-1 1 1 1-2 1 1 1 1 1-2 1 0 1 1 1-1 1 2 1 1 1-1 1 0 1 0 1 0 1-1 1 2 1-1 1-2 1 1 1 3 1-4 1 0 1 1 1 0 1-1 1 1 1-1 1 0 1 1 1-1 1 0 1 1 1-1 1 0 1 1 1-1 1 0 1 1 1 0 1 1 1 1 1-2 1 1 1-1 1 0 1-1 1 0 1 0 1 0 1 1 1 1 1-1 1 0 1 0 1 0 1 0 1-1 1 0 1 2 1 0 1 0 1-1 1 0 1 1 1-1 1-1 1 0 1 1 1 0 1 0 1 1 1 1 1-3 1 4 1-3 1 1 1 0 1-1 1 1 1 0 1 0 1-2 1 1 1 0 1 1 1 0 1 0 1-1 1-1 1 0 1 1 1-1 1 1 1-1 1 0 1 0 1 1 1 0 1 2 1-2 1 2 1-1 1-1 1 2 1-2 1 0 1 0 1 0 1-1 1 0 1 1 1-1 1 0 1 1 1 0 1 1 1-1 1-1 1 0 1 1 1-1 1 0 1 0 1 1 1 0 1-1 1 0 1 0 1 0 1 2 1-1 1 1 1-2 1 2 1-1 1 0 1-1 1 1 1-1 1 1 1 0 1-1 1 1 1 1 1-2 1 3 1-3 1 1 1-1 1 0 1 0 1 0 1 0 1 0 1 0 1 0 1 0 1 0 1 1 1 0 1 0 1 1 1-1 1-1 1 2 1 0 1-2 1 0 1 2 1-1 1-1 1 0 1 1 1 1 1 0 1-1 1 1 1-2 1 0 1 2 1-2 1 1 1 0 1 0 1 0 1 0 1-1 1 2 1-1 1 1 1 3 1-5 1 2 1-1 1 0 1 1 1 0 1-2 1 1 1 1 1-1 1 1 1-1 1 1 1 0 1-1 1-1 1 1 1-1 1 0 1 0 1 2 1 0 1 0 1-2 1 0 1 1 1-1 1 1 1 0 1 0 1 0 1-1 1 0 1 1 1 1 1 0 1-1 1 0 1-1 1 1 1-1 1 1 1 0 1 1 1 0 1-1 1-1 1 2 1 2 1-4 1 1 1-1 1 0 1 0 1 0 1 1 1 0 1 0 1-1 1 0 1 3 1-2 1 1 1-1 1 0 1 1 1-1 1 1 1-1 1-1 1 1 1 0 1 0 1-1 1 2 1-1 1 1 1-2 1 0 1 1 1-1 1 0 1 1 1 0 1 1 1-1 1 0 1 1 1-1 1 0 1-1 1 0 1 0 1 0 1 0 1 0 1 0 1 0 1 0 1 2 1-1 1-1 1 0 1 0 1 3 1-2 1 0 1-1 1 3 1-2 1 1 1-1 1 0 1-1 1 0 1 0 1 0 1 0 1 1 1 0 1 0 1 0 1-1 1 1 1 1 1 0 1 0 1 0 1-1 1 0 1 3 1-2 1-1 1 3 1-2 1-2 1 0 1 2 1-1 1-1 1 1 1 0 1 0 1-1 1 0 1 0 1 2 1 0 1 2 1-3 1 0 1-1 1 0 1 0 1 1 1 0 1-1 1 2 1-2 1 1 1 1 1 0 1 0 1-2 1 0 1 1 1-1 1 0 1 0 1 0 1 0 1 2 1-2 1 0 1 2 1-2 1 1 1 0 1 1 1-2 1 2 1 0 1-1 1-1 1 1 1 1 1 1 1-2 1-1 1 1 1 0 1 0 1 0 1-1 1 1 1 0 1 0 1 2 1-3 1 0 1 0 1 0 1 1 1-1 1 1 1-1 1 0 1 1 1-1 1 1 1-1 1 1 1 1 1-2 1 2 1-2 1 0 1 0 1 3 1-1 1 0 1 0 1-1 1 1 1 0 1-2 1 1 1-1 1 1 1 0 1 0 1-1 1 2 1 0 1 2 1-3 1-1 1 2 1 0 1 0 1-1 1 0 1-1 1 1 1 0 1 1 1 0 1-2 1 0 1 0 1 1 1 0 1 0 1-1 1 1 1-1 1 0 1 1 1 0 1-1 1 1 1 0 1 1 1-1 1-1 1 1 1-1 1 1 1-1 1 1 1 0 1 0 1 3 1 0 1-2 1-1 1 1 1-1 1-1 1 1 1-1 1 1 1 0 1-1 1 0 1 1 1-1 1 4 1-3 1 1 1 0 1-1 1-1 1 0 1 1 1 0 1-1 1 0 1 1 1-1 1 0 1 1 1 0 1-1 1 1 1-1 1 1 1 0 1-1 1 3 1-3 1 0 1 0 1 0 1 1 1 1 1-2 1 2 1-2 1 0 1 1 1 1 1-2 1 2 1 0 1-2 1 2 1-1 1 0 1-1 1 0 1 1 1 0 1-1 1 1 1 0 1-1 1 1 1 1 1-2 1 0 1 0 1 0 1 1 1-1 1 0 1 0 1 2 1-2 1 0 1 2 1-1 1 0 1-1 1 0 1 0 1 0 1 0 1 0 1 0 1 0 1 0 1 0 1 1 1 0 1 0 1-1 1 1 1 1 1-2 1 0 1 1 1 0 1-1 1 0 1 0 1 0 1 0 1 0 1 0 1 0 1 1 1-1 1 0 1 1 1-1 1 0 1 0 1 1 1-1 1 1 1 1 1-2 1 1 1 0 1 1 1 0 1 1 1-2 1 1 1-1 1 1 1-1 1 0 1-1 1 1 1 1 1 0 1 0 1 0 1 0 1 0 1 0 1-1 1 1 1 0 1 0 1 2 1-2 1 0 1-2 1 0 1 1 1 0 1-1 1 1 1-1 1 0 1 0 1 0 1 3 1-3 1 0 1 0 1 0 1 0 1 0 1 2 1 3 1-3 1-1 1 1 1 0 1-1 1 1 1-1 1 0 1 1 1-1 1 2 1-2 1 0 1-1 1 0 1 1 1 0 1 1 1-1 1 1 1-1 1 1 1-1 1 1 1-1 1 0 1 0 1 1 1 0 1-1 1-1 1 1 1 0 1 0 1 1 1 1 1 0 1-2 1 0 1-1 1 0 1 2 1-1 1-1 1 1 1-1 1 1 1 0 1-1 1 1 1-1 1 1 1-1 1 1 1 0 1 0 1 0 1-1 1 1 1-1 1 1 1 1 1 2 1-3 1 0 1-1 1 1 1-1 1 0 1 0 1 1 1 0 1 3 1-2 1-1 1-1 1 5 1-5 1 1 1 0 1-1 1 0 1 2 1-2 1 1 1 0 1-1 1 0 1 0 1 0 1 0 1 0 1 0 1 1 1 1 1 0 1 0 1 0 1-1 1-1 1 1 1 0 1-1 1 1 1 1 1-2 1 1 1 0 1-1 1 2 1 0 1-1 1-1 1 0 1 0 1 1 1 0 1 0 1-1 1 0 1 1 1-1 1 0 1 0 1 1 1-1 1 1 1 0 1-1 1 0 1 1 1-1 1 3 1-2 1-1 1 1 1 1 1-2 1 2 1 0 1 0 1 0 1-1 1-1 1 1 1 2 1-2 1 1 1 0 1 0 1-1 1-1 1 0 1 0 1 0 1 0 1 0 1 0 1 0 1 0 1 1 1-1 1 0 1 0 1 0 1 2 1-1 1 0 1 1 1 1 1-1 1-2 1 2 1-1 1 1 1-1 1 0 1 0 1 0 1 1 1-1 1 1 1-1 1 0 1 0 1 0 1 0 1 1 1-2 1 0 1 0 1 2 1-1 1-1 1 0 1 0 1 0 1 0 1 0 1 0 1 0 1 0 1 1 1-1 1 0 1 0 1 2 1-1 1 0 1 1 1-2 1 0 1 2 1 1 1-2 1 0 1 0 1 0 1 0 1 1 1-2 1 0 1 1 1-1 1 0 1 0 1 0 1 1 1-1 1 1 1 1 1-1 1 0 1-1 1 0 1 2 1-1 1 0 1-1 1 0 1 0 1 1 1-1 1 1 1 0 1 0 1 0 1 0 1 1 1-2 1 2 1-2 1 0 1 0 1 2 1-2 1 2 1 2 1-2 1-1 1 0 1 1 1-1 1-1 1 1 1-1 1 2 1 0 1-1 1 1 1 0 1-1 1 0 1 2 1-3 1 1 1 0 1-1 1 0 1 0 1 0 1 2 1-2 1 0 1 0 1 0 1 0 1 1 1-1 1 1 1 0 1-1 1 1 1 0 1-1 1 0 1 0 1 1 1 0 1 0 1 1 1 0 1 0 1 1 1-2 1 1 1 0 1-1 1 1 1 0 1-1 1 2 1-1 1 0 1 0 1-1 1-1 1 0 1 2 1-2 1 2 1-2 1 2 1 0 1-2 1 1 1-1 1 1 1-1 1 0 1 0 1 0 1 0 1 1 1 3 1-4 1 0 1 0 1 0 1 0 1 0 1 2 1 0 1-2 1 0 1 0 1 0 1 0 1 2 1-1 1 1 1-1 1 0 1 0 1 1 1 1 1-1 1-1 1 0 1-1 1 1 1 0 1 0 1 1 1 0 1-1 1 0 1 1 1-2 1 0 1 0 1 0 1 1 1 0 1 0 1-1 1 0 1 1 1 0 1 1 1-2 1 2 1-2 1 0 1 2 1-1 1 0 1 0 1-1 1 0 1 2 1-2 1 0 1 2 1 0 1-1 1 2 1-2 1 1 1-2 1 2 1 0 1-1 1-1 1 2 1 0 1-2 1 2 1 1 1-2 1 1 1-2 1 0 1 0 1 1 1 0 1-1 1 2 1-1 1 0 1 1 1-1 1 0 1-1 1 0 1 2 1 0 1-1 1-1 1 0 1 1 1 1 1-1 1-1 1 0 1 0 1 2 1-2 1 1 1-1 1 0 1 1 1 1 1 0 1 0 1 0 1-1 1 1 1 0 1-1 1 0 1 0 1 0 1 1 1-2 1 0 1 1 1 1 1-2 1 2 1-2 1 1 1-1 1 1 1-1 1 1 1-1 1 0 1 1 1-1 1 2 1 0 1 1 1-1 1 0 1-1 1 1 1-1 1-1 1 1 1 1 1-2 1 2 1-2 1 0 1 0 1 1 1 0 1 0 1-1 1 0 1 1 1 4 1-5 1 0 1 0 1 1 1 0 1-1 1 1 1 0 1-1 1 1 1-1 1 0 1 1 1 0 1 0 1-1 1 2 1 0 1-1 1 2 1-3 1 0 1 0 1 0 1 1 1-1 1 0 1 1 1-1 1 1 1-1 1 0 1 1 1-1 1 0 1 0 1 0 1 0 1 0 1 0 1 1 1 0 1-1 1 0 1 2 1 1 1-1 1-2 1 0 1 0 1 3 1-2 1 0 1 0 1-1 1 1 1 0 1 0 1-1 1 0 1 2 1-2 1 1 1 0 1 0 1-1 1 0 1 0 1 0 1 2 1 0 1 0 1 0 1-1 1-1 1 0 1 0 1 1 1-1 1 1 1 0 1 0 1 0 1 1 1-1 1 0 1 2 1-1 1 0 1 0 1-1 1 1 1-1 1 0 1 0 1 0 1 0 1-1 1 0 1 0 1 1 1 1 1 2 1-3 1 0 1 0 1 0 1-1 1 1 1 0 1-1 1 0 1 0 1 0 1 0 1 0 1 2 1-1 1 0 1-1 1 0 1 1 1 0 1-1 1 3 1-2 1-1 1 4 1-2 1-2 1 0 1 1 1-1 1 0 1 0 1 3 1-1 1 0 1-1 1 0 1-1 1 0 1 1 1 0 1-1 1 1 1 0 1 0 1 0 1 0 1 1 1-1 1 0 1-1 1 0 1 0 1 1 1 0 1 0 1-1 1 1 1 0 1 1 1 0 1-1 1 0 1 3 1-4 1 2 1-2 1 0 1 1 1 0 1-1 1 1 1 0 1-1 1 1 1 0 1 0 1 0 1 1 1-1 1 1 1 1 1-2 1 0 1 1 1-1 1 2 1-2 1 0 1-1 1 1 1 0 1 0 1 1 1-1 1-1 1 0 1 2 1-1 1 0 1 0 1 0 1 0 1 0 1 1 1-2 1 1 1-1 1 1 1 0 1 1 1-1 1 0 1 1 1-1 1 0 1 1 1-1 1 0 1-1 1 0 1 0 1 1 1 0 1 0 1-1 1 0 1 0 1 0 1 0 1 1 1 0 1 0 1 0 1 1 1-1 1 0 1 0 1 0 1-1 1 0 1 1 1-1 1 0 1 2 1 1 1-2 1 0 1 1 1-1 1 0 1-1 1 0 1 1 1 0 1 0 1 0 1 0 1-1 1 1 1 0 1 0 1-1 1 0 1 1 1 0 1-1 1 1 1 0 1 1 1-2 1 2 1 0 1-2 1 1 1-1 1 2 1-2 1 2 1 0 1 0 1-1 1 1 1 0 1-2 1 1 1 1 1-1 1 0 1 0 1 0 1 1 1-1 1 1 1-2 1 1 1-1 1 4 1-3 1-1 1 1 1 0 1 0 1 1 1 2 1-2 1 0 1 0 1 0 1 0 1 1 1-1 1 0 1-1 1 0 1 1 1 1 1-1 1 1 1-1 1 0 1-1 1 0 1 1 1-1 1 0 1 0 1 1 1-1 1-1 1 0 1 0 1 0 1 0 1 0 1 0 1 0 1 1 1 0 1-1 1 0 1 0 1 1 1-1 1 1 1-1 1 0 1 0 1 0 1 0 1 1 1 0 1-1 1 1 1-1 1 1 1-1 1 0 1 1 1-1 1 1 1-1 1 3 1-3 1 0 1 0 1 0 1 1 1 0 1 0 1 0 1-1 1 1 1 0 1 3 1 0 1-2 1 0 1-1 1 1 1 0 1-1 1 1 1-1 1-1 1 1 1-1 1 0 1 0 1 0 1 0 1 1 1 1 1-1 1 1 1-1 1 0 1 0 1 0 1-1 1 0 1 0 1 1 1 0 1-1 1 2 1-1 1-1 1 0 1 1 1-1 1 0 1 1 1-1 1 1 1-1 1 1 1 3 1-3 1 0 1 1 1-1 1 1 1-2 1 0 1 0 1 0 1 0 1 2 1-1 1 1 1-1 1 0 1 1 1-1 1 0 1 0 1 0 1-1 1 1 1 0 1 0 1 1 1-1 1-1 1 1 1 0 1-1 1 0 1 0 1 1 1 0 1 1 1-1 1 1 1-2 1 2 1-1 1-1 1 1 1 1 1-1 1 0 1-1 1 0 1 1 1 1 1 0 1 0 1 0 1-1 1-1 1 1 1-1 1 2 1-2 1 1 1 0 1-1 1 1 1 1 1-2 1 0 1 0 1 1 1-1 1 0 1 0 1 0 1 0 1 1 1-1 1 2 1-1 1 0 1 0 1-1 1 2 1 0 1 0 1 0 1-1 1 1 1 0 1-1 1-1 1 2 1-1 1 1 1-1 1 0 1 0 1 0 1-1 1 0 1 0 1 0 1 2 1-1 1 1 1-1 1 0 1 3 1-4 1 1 1 0 1 1 1-1 1 1 1 0 1 0 1 0 1 0 1-2 1 0 1 0 1 0 1 0 1 2 1-1 1 3 1-4 1 1 1 0 1-1 1 1 1 3 1-4 1 0 1 1 1-1 1 1 1 2 1-3 1 2 1-2 1 2 1-2 1 1 1-1 1 0 1 2 1-1 1-1 1 0 1 0 1 0 1 0 1 1 1-1 1 0 1 0 1 1 1 0 1-1 1 2 1 0 1-2 1 1 1 0 1-1 1 2 1 0 1 0 1 0 1-1 1 1 1-2 1 3 1-2 1 3 1-3 1-1 1 0 1 2 1-2 1 0 1 0 1 0 1 0 1 0 1 0 1 0 1 2 1-2 1 1 1 0 1-1 1 1 1-1 1 1 1-1 1 0 1 0 1 1 1-1 1 0 1 2 1-1 1 0 1 0 1 0 1 3 1-1 1-2 1 1 1-2 1 1 1 0 1 0 1 0 1 1 1 1 1-1 1-2 1 2 1-2 1 2 1-1 1 1 1 0 1 1 1-2 1 0 1 0 1 0 1 0 1-1 1 2 1 1 1-1 1-2 1 0 1 2 1-2 1 1 1 0 1-1 1 0 1 0 1 1 1 1 1 0 1-2 1 0 1 0 1 1 1 0 1 1 1-1 1 2 1-1 1 0 1 0 1-1 1-1 1 0 1 0 1 1 1-1 1 3 1-3 1 1 1 0 1-1 1 0 1 0 1 0 1 0 1 1 1-1 1 1 1 0 1 0 1-1 1 2 1-1 1 1 1-1 1-1 1 0 1 1 1 1 1-1 1-1 1 3 1-1 1-1 1-1 1 1 1 0 1 0 1 1 1-1 1 0 1 1 1-1 1 0 1 0 1-1 1 0 1 0 1 0 1 0 1 0 1 0 1 1 1-1 1 0 1 0 1 0 1 0 1 0 1 0 1 1 1 0 1-1 1 1 1-1 1 0 1 0 1 0 1 0 1 0 1 1 1-1 1 0 1 0 1 1 1-1 1 0 1 1 1 0 1 0 1 1 1-2 1 0 1 0 1 0 1 1 1-1 1 1 1-1 1 3 1-3 1 0 1 0 1 1 1 0 1-1 1 0 1 1 1-1 1 1 1 1 1-1 1 1 1 0 1-1 1 1 1 0 1-1 1 0 1 0 1 0 1 0 1 1 1 0 1-1 1 1 1-2 1 2 1-2 1 0 1 0 1 1 1-1 1 0 1 2 1-2 1 1 1 1 1-1 1 0 1-1 1 0 1 0 1 0 1 1 1 0 1-1 1 0 1 1 1-1 1 0 1 1 1-1 1 0 1 0 1 4 1-4 1 0 1 1 1-1 1 0 1 0 1 2 1-1 1 1 1-1 1 1 1-2 1 0 1 2 1-2 1 1 1-1 1 0 1 0 1 1 1-1 1 0 1 1 1 0 1 0 1 0 1 1 1 0 1-1 1 0 1 0 1 1 1-1 1-1 1 2 1-1 1 0 1 1 1 0 1-1 1 1 1 0 1 0 1 0 1 0 1-1 1 1 1-2 1 0 1 0 1 0 1 2 1-2 1 0 1 1 1-1 1 2 1-2 1 1 1 1 1-2 1 1 1-1 1 2 1-2 1 1 1 0 1 0 1 1 1-2 1 0 1 1 1 0 1 0 1-1 1 1 1-1 1 0 1 0 1 0 1 1 1-1 1 0 1 0 1 0 1 0 1 0 1 0 1 0 1 0 1 2 1-1 1 1 1-1 1-1 1 0 1 0 1 1 1 0 1 1 1 0 1-2 1 2 1 0 1-1 1 1 1-1 1 1 1-1 1 1 1-1 1 1 1-1 1 0 1 0 1 1 1-1 1 0 1-1 1 0 1 0 1 0 1 0 1 1 1-1 1 1 1-1 1 2 1-1 1 0 1-1 1 0 1 0 1 4 1-4 1 1 1 1 1-1 1-1 1 1 1-1 1 1 1 0 1-1 1 2 1-2 1 0 1 1 1-1 1 0 1 1 1 1 1-1 1 0 1-1 1 0 1 0 1 1 1 1 1-1 1 0 1 0 1 0 1-1 1 1 1 0 1-1 1 1 1 0 1 0 1-1 1 0 1 0 1 2 1-2 1 0 1 0 1 2 1-2 1 0 1 0 1 1 1 0 1-1 1 2 1-2 1 2 1-2 1 0 1 2 1-1 1-1 1 1 1 0 1 0 1 1 1 0 1 0 1-1 1 0 1 0 1 0 1 2 1-2 1 0 1-1 1 0 1 1 1 0 1 0 1 0 1 0 1 0 1-1 1 1 1 0 1 0 1 1 1-2 1 0 1 1 1 0 1-1 1 0 1 0 1 0 1 1 1 0 1-1 1 0 1 0 1 2 1 0 1 0 1-1 1 0 1-1 1 2 1-1 1-1 1 1 1 0 1 0 1 2 1-3 1 2 1-1 1-1 1 1 1 3 1-4 1 0 1 0 1 1 1-1 1 0 1 1 1 3 1-3 1 0 1 1 1 1 1-1 1 0 1-2 1 1 1-1 1 0 1 2 1-1 1 1 1 0 1-1 1 1 1 1 1-1 1-2 1 1 1 0 1-1 1 1 1 0 1-1 1 1 1 0 1 0 1-1 1 0 1 0 1 1 1 0 1 1 1-1 1 1 1-2 1 0 1 1 1-1 1 0 1 2 1-1 1 0 1 1 1 0 1 0 1 0 1 0 1 0 1-1 1 1 1 0 1 0 1 0 1-2 1 1 1 0 1-1 1 0 1 1 1-1 1 1 1-1 1 0 1 2 1-1 1 1 1-1 1 0 1 0 1 0 1-1 1 0 1 0 1 2 1-2 1 1 1 1 1-1 1 0 1-1 1 0 1 0 1 3 1-2 1-1 1 1 1 1 1 0 1-1 1 3 1-3 1 0 1 1 1-1 1 0 1-1 1 0 1 1 1-1 1 1 1-1 1 0 1 0 1 1 1 0 1 0 1 0 1 0 1 0 1-1 1 1 1-1 1 1 1 0 1-1 1 0 1 0 1 0 1 2 1 1 1-3 1 2 1-2 1 2 1-2 1 0 1 0 1 1 1 0 1 1 1-1 1 0 1 0 1 1 1 1 1 2 1 2 1-3 1-1 1-1 1 0 1 0 1 0 1-1 1 0 1 0 1-1 1 1 1 1 1-1 1 0 1-1 1 1 1-1 1 0 1 0 1 0 1 0 1 0 1 2 1-1 1-1 1 0 1 0 1 0 1 1 1-1 1 1 1 1 1-2 1 0 1 1 1 0 1 0 1-1 1 0 1 1 1 0 1 1 1-2 1 2 1-1 1 0 1 1 1-1 1 0 1-1 1 1 1 0 1-1 1 3 1-2 1 1 1 2 1-2 1-2 1 3 1-1 1 0 1-1 1-1 1 0 1 1 1-1 1 1 1 1 1-1 1 1 1-1 1 0 1 0 1 1 1-2 1 2 1-2 1 0 1 2 1-1 1 1 1-2 1 0 1 1 1 1 1-2 1 1 1-1 1 1 1-1 1 2 1-2 1 0 1 0 1 2 1 0 1-1 1 0 1 0 1 1 1 0 1 0 1 0 1 0 1 0 1-1 1 4 1-4 1 0 1 1 1 0 1 3 1-3 1 0 1-2 1 0 1 2 1-1 1-1 1 0 1 2 1-2 1 2 1-1 1 1 1 0 1 0 1-2 1 2 1 0 1-1 1 1 1-1 1-1 1 1 1 0 1 0 1-1 1 0 1 1 1 0 1-1 1 3 1-2 1 0 1-1 1 0 1 0 1 2 1-2 1 0 1 0 1 1 1 0 1-1 1 0 1 1 1-1 1 1 1 0 1 1 1 0 1-2 1 0 1 1 1-1 1 0 1 2 1-1 1 0 1-1 1 0 1 0 1 2 1-2 1 4 1-2 1-2 1 0 1 1 1 0 1 0 1 0 1-1 1 2 1-1 1 0 1 0 1 0 1 0 1 0 1 1 1 2 1-1 1-2 1 0 1-1 1 1 1 0 1-1 1 0 1 1 1 1 1-1 1-1 1 2 1-2 1 2 1-1 1 0 1-1 1 0 1 2 1-2 1 0 1 1 1-1 1 0 1 1 1-1 1 0 1 0 1 0 1 1 1 4 1-5 1 0 1 1 1-1 1 1 1 0 1-1 1 0 1 0 1 0 1 0 1 0 1 0 1 2 1 0 1-2 1 2 1-1 1 4 1-3 1 0 1 0 1 0 1 0 1 0 1 0 1-1 1 1 1 0 1 0 1-1 1-1 1 0 1 0 1 0 1 0 1 1 1-1 1 1 1-1 1 0 1 0 1 0 1 1 1-1 1 1 1 0 1-1 1 1 1 2 1-2 1 0 1 0 1-1 1 1 1 2 1-2 1-1 1 1 1-1 1 0 1 0 1 1 1-1 1 3 1-2 1 0 1 1 1-1 1 0 1 0 1 1 1-1 1-1 1 1 1 1 1-1 1 0 1 0 1 1 1-2 1 1 1-1 1 0 1 1 1 0 1-1 1 1 1 0 1 1 1-1 1-1 1 4 1-4 1 0 1 0 1 0 1 1 1-1 1 0 1 0 1 0 1 0 1 0 1 0 1 0 1 0 1 1 1 0 1-1 1 2 1-2 1 1 1 1 1 0 1-2 1 1 1-1 1 0 1 0 1 1 1 0 1 0 1 0 1 1 1 0 1-1 1 0 1-1 1 0 1 0 1 1 1-1 1 0 1 0 1 0 1 0 1 0 1 1 1 0 1 1 1-2 1 0 1 0 1 0 1 1 1-1 1 0 1 0 1 4 1-3 1-1 1 0 1 1 1-1 1 1 1-1 1 0 1 1 1-1 1 0 1 0 1 2 1 1 1 0 1-2 1 0 1 1 1 0 1-1 1 0 1-1 1 1 1 0 1 1 1 0 1 0 1 0 1-2 1 2 1 0 1-2 1 1 1-1 1 5 1-4 1 0 1 0 1 1 1 0 1-2 1 0 1 0 1 0 1 0 1 0 1 0 1 1 1-1 1 0 1 0 1 1 1 1 1 0 1-1 1-1 1 3 1-2 1 1 1-2 1 1 1 0 1-1 1 1 1 0 1-1 1 0 1 1 1 1 1-2 1 2 1 1 1-1 1 0 1-1 1 0 1-1 1 1 1 0 1 1 1 0 1 0 1 0 1-1 1 1 1 0 1 0 1 0 1-2 1 1 1 0 1 0 1 0 1 1 1-2 1 1 1 0 1 0 1 4 1-4 1-1 1 2 1-1 1 0 1 1 1-2 1 1 1 0 1 0 1 0 1 0 1 0 1 0 1 0 1-1 1 1 1 1 1 0 1 0 1 0 1 0 1-2 1 0 1 1 1 0 1-1 1 1 1-1 1 1 1 1 1 0 1 0 1 0 1-1 1 1 1 0 1-2 1 2 1-1 1 3 1-4 1 1 1 0 1 1 1-2 1 2 1-1 1 0 1 0 1 0 1-1 1 0 1 1 1-1 1 1 1 0 1 0 1-1 1 2 1-2 1 4 1-2 1-1 1 0 1 1 1-1 1 2 1-2 1 0 1 0 1-1 1 0 1 1 1 0 1 1 1-2 1 3 1-3 1 0 1 0 1 1 1 0 1 1 1 0 1-1 1-1 1 0 1 0 1 0 1 1 1-1 1 0 1 0 1 1 1 0 1 1 1-2 1 1 1 0 1 1 1-2 1 1 1-1 1 0 1 0 1 1 1 0 1 0 1-1 1 2 1-1 1 1 1-2 1 2 1-1 1 2 1-2 1-1 1 0 1 3 1-2 1-1 1 0 1 0 1 1 1 0 1 2 1-2 1 0 1-1 1 1 1 0 1 0 1 0 1 0 1 0 1 1 1 0 1-1 1 0 1 0 1-1 1 1 1 0 1 0 1 1 1-2 1 1 1 0 1 1 1-2 1 1 1 1 1 0 1-2 1 0 1 1V0" fill="#0000ff" stroke="#00008b" stroke-width="0.85" vector-effect="non-scaling-stroke"/></g>
<path d="M259 3190.5H270.5M259 3329.5H270.5" fill="none" stroke="#333" stroke-width="1"/>
<path d="M270.5 3190.0V3330.0" stroke="#858575" stroke-width="1"/>
<text x="252.4" y="3193.3" class="ax">11</text>
<text x="252.4" y="3332.1" class="ax">0</text>
<text x="74" y="3265.7" class="nm">GSM5550297</text>
<g transform="translate(271.0 3483.0) scale(0.33333 -7.72222)"><path d="M0 0V9l1-3 1-1 1 2 1-3 1 6 1-1 1 2 1-8 1 2 1-2 1 6 1-5 1 6 1-4 1-1 1 0 1-1 1 0 1 0 1 0 1-1 1 2 1 2 1 3 1-2 1-1 1-2 1-1 1 1 1-2 1 2 1-2 1 4 1 0 1 0 1 5 1-11 1 5 1-2 1-1 1 6 1-2 1-4 1 3 1-5 1 2 1 4 1-1 1-4 1 6 1 1 1-5 1 4 1-6 1 2 1 0 1 3 1-5 1 6 1-6 1 4 1-2 1 3 1 0 1-3 1-3 1 4 1 1 1-2 1 0 1 8 1-5 1-1 1-4 1 4 1-1 1 2 1-1 1 1 1 0 1-4 1 2 1 8 1-8 1 3 1-2 1-3 1 2 1-4 1 5 1-4 1 0 1 3 1 3 1-1 1 1 1-7 1 4 1 4 1-5 1 2 1-2 1 2 1-3 1 3 1-3 1-2 1 12 1-4 1 0 1-6 1 2 1 0 1 2 1 0 1-3 1 3 1 4 1-4 1-6 1 6 1-5 1 1 1 4 1-3 1 1 1 7 1-3 1-6 1 4 1-4 1 4 1-3 1 3 1-2 1-4 1 5 1 1 1-5 1 5 1-4 1 3 1 2 1-7 1 6 1 1 1-5 1 10 1-7 1 2 1-2 1-2 1 3 1 5 1-9 1 6 1 0 1-6 1 2 1-2 1 1 1-4 1 5 1 2 1-3 1-1 1 0 1 0 1 6 1 0 1 3 1-7 1-1 1-1 1 1 1-2 1 2 1 5 1-3 1 2 1 4 1-8 1 5 1 1 1-4 1-1 1 2 1-2 1 3 1 0 1 4 1-6 1-1 1-4 1 5 1-2 1 1 1 2 1-5 1 4 1-4 1 9 1-7 1 0 1 1 1 12 1-10 1-3 1 0 1 0 1 3 1 0 1-1 1-3 1 3 1-3 1 5 1-5 1 0 1-1 1 2 1 3 1 3 1-1 1-3 1-6 1 5 1-2 1 5 1-8 1 6 1-3 1 0 1-1 1 1 1 0 1 3 1 2 1-1 1-2 1-3 1 1 1 1 1 5 1-4 1-4 1 2 1 5 1-1 1-3 1 4 1-6 1 1 1 1 1 2 1 6 1-4 1-1 1-7 1 6 1 4 1-7 1 7 1-1 1-4 1 2 1 2 1 3 1-9 1-1 1 2 1-1 1 1 1 0 1-1 1 7 1-7 1 3 1-2 1 0 1 2 1-2 1 3 1-5 1 6 1-3 1 0 1 0 1-4 1 4 1 8 1-5 1 0 1-3 1 0 1 2 1 3 1-6 1-2 1 8 1-7 1 13 1-7 1-5 1-1 1 2 1 0 1 0 1 2 1 5 1-3 1-3 1-4 1 3 1-3 1 2 1 1 1 0 1 2 1-5 1 3 1-1 1 4 1-4 1 2 1 2 1 3 1-5 1-4 1 1 1 6 1-4 1 3 1-4 1 2 1-1 1 1 1 7 1-9 1 2 1 1 1-5 1 4 1-3 1 0 1 0 1-1 1 3 1 2 1 4 1 5 1 2 1-12 1-1 1-1 1 1 1 7 1-7 1 1 1 1 1-5 1-1 1 3 1-3 1 6 1-5 1 5 1 2 1-6 1 6 1-7 1 11 1-6 1 0 1 1 1-1 1-3 1-2 1 8 1-3 1 4 1-4 1-3 1 1 1 2 1-6 1 10 1-6 1 2 1-3 1 2 1-3 1 0 1 0 1 1 1 3 1-3 1 0 1 6 1-4 1-2 1 3 1 1 1 1 1-3 1 1 1-2 1 3 1 1 1-2 1-1 1-5 1 3 1 5 1-7 1 6 1-3 1-1 1 3 1-1 1 1 1 3 1-6 1 2 1-4 1 3 1 6 1-7 1-3 1 7 1-2 1 2 1-4 1 2 1 3 1-6 1 3 1-6 1 10 1-3 1 0 1-5 1 4 1 1 1-1 1 4 1-4 1 0 1 1 1-4 1 9 1-7 1-1 1 4 1-1 1 5 1-5 1 2 1-5 1 0 1 3 1-7 1 6 1 0 1-1 1 1 1-4 1 7 1 5 1-10 1 0 1 5 1-5 1 0 1-1 1 1 1 8 1-3 1-3 1 0 1-2 1-2 1 7 1-4 1 0 1 0 1-2 1 2 1 1 1 3 1-4 1 1 1-1 1 7 1-6 1-1 1 3 1-1 1-1 1-3 1-1 1 6 1 0 1-3 1-1 1 4 1 0 1-5 1 4 1-5 1 10 1-8 1 4 1-4 1 8 1-9 1-2 1 0 1 8 1 0 1-3 1 0 1 0 1-3 1 5 1-7 1 11 1 0 1-1 1-3 1 3 1-2 1-9 1 5 1 4 1 0 1-4 1 0 1 2 1-5 1 3 1-2 1-3 1 4 1 1 1 3 1-5 1 4 1 2 1-4 1-3 1 9 1-7 1-1 1 2 1 7 1-6 1 3 1-4 1 2 1-1 1-2 1 1 1 0 1 1 1 1 1 1 1-2 1-1 1 6 1-4 1-4 1 2 1-1 1-1 1-1 1 5 1-1 1 3 1-3 1 4 1-3 1 5 1-8 1 1 1 2 1 1 1-1 1-1 1 3 1 2 1 0 1-10 1 4 1-1 1 2 1 3 1-2 1 3 1-3 1 3 1-1 1 1 1-3 1-2 1-2 1 1 1 8 1-5 1 0 1 2 1-2 1-4 1 1 1 5 1 0 1-4 1 5 1-5 1 8 1-7 1-2 1 2 1-3 1 2 1 2 1 0 1-2 1-2 1 3 1 2 1 0 1-4 1-2 1 3 1 1 1 4 1-7 1 0 1 3 1-2 1-2 1 5 1 0 1 1 1 2 1-5 1 6 1-4 1 4 1-5 1 1 1-2 1 5 1-4 1 1 1-1 1 6 1-2 1-2 1-5 1 1 1-2 1 12 1-6 1-5 1 10 1-12 1 2 1 3 1-4 1 6 1 3 1 3 1-8 1-1 1 4 1-4 1 0 1 3 1 0 1 4 1-3 1 3 1-6 1 3 1-1 1-5 1 6 1-6 1 8 1-8 1 1 1 5 1-5 1 0 1-1 1 2 1-4 1 7 1 1 1-3 1 2 1-1 1-6 1 11 1-5 1 2 1-1 1-6 1 1 1 4 1-3 1 1 1 4 1-4 1 4 1-4 1-5 1 4 1 1 1 0 1 2 1-4 1 3 1 1 1-1 1 2 1 4 1-2 1-1 1-6 1 4 1-2 1-1 1 3 1 0 1-2 1 1 1 3 1-6 1 3 1-1 1-1 1-3 1 2 1 8 1-7 1 5 1 1 1-4 1 3 1-4 1 7 1-3 1-7 1 3 1 6 1-9 1 4 1 5 1-4 1 0 1 2 1-6 1-1 1 6 1 0 1 3 1-6 1 5 1-6 1 3 1-2 1 1 1 3 1-5 1 0 1 0 1 1 1-3 1 1 1 5 1-5 1 2 1 1 1-3 1 2 1 3 1 0 1-4 1 3 1-4 1 0 1 4 1 0 1-3 1 1 1-2 1 1 1 8 1-5 1-4 1 0 1 1 1 1 1 2 1-2 1 0 1 6 1-4 1 0 1 7 1-7 1-6 1 3 1 1 1-1 1 3 1 0 1-1 1 2 1-5 1 8 1 0 1-8 1 4 1-1 1-3 1 2 1 2 1-3 1-1 1 1 1 5 1-4 1 2 1 2 1-2 1-2 1 0 1-2 1 2 1-2 1-1 1 1 1 3 1 4 1 3 1-4 1-3 1-1 1 1 1 7 1-6 1-4 1-1 1 4 1 6 1-6 1 3 1-4 1-1 1 0 1 1 1 0 1-2 1 1 1 4 1-6 1-1 1 9 1-3 1-6 1 1 1 1 1 6 1-3 1 3 1 1 1-2 1 7 1-9 1 7 1-3 1-6 1 5 1-6 1 1 1 5 1-2 1-1 1-1 1 2 1 2 1 2 1-5 1-1 1 3 1-3 1 5 1-4 1-2 1-2 1 3 1 0 1 2 1-4 1 5 1 6 1-8 1-2 1-1 1 2 1 5 1-5 1 2 1 5 1-7 1 1 1-3 1 2 1-1 1 1 1 0 1 3 1 2 1-2 1 4 1-7 1 6 1 0 1-5 1-3 1 2 1 4 1 2 1-4 1 0 1 2 1-1 1 0 1 1 1 1 1-8 1 7 1-5 1 2 1-5 1 7 1 2 1-4 1 2 1-2 1 7 1-9 1 0 1 5 1-6 1-1 1 5 1 0 1-3 1 0 1 3 1-2 1 5 1-2 1-2 1-2 1 4 1-2 1 3 1-3 1 0 1 0 1 0 1-3 1 2 1 6 1 2 1-10 1-1 1 3 1-1 1-2 1 6 1-3 1-3 1 7 1-3 1 3 1-2 1 2 1-4 1-3 1 8 1-7 1 5 1 0 1-3 1 2 1-1 1-4 1 4 1 0 1-1 1-1 1 1 1-1 1 4 1 2 1-6 1 2 1 4 1-5 1 2 1-3 1 1 1 0 1 0 1 1 1-2 1 1 1 1 1 2 1-2 1 1 1 0 1-3 1 2 1-5 1 2 1 1 1 2 1-1 1 0 1 1 1 3 1 0 1 0 1-2 1 2 1-2 1 0 1 1 1 0 1-1 1-5 1 7 1-4 1 2 1-1 1-2 1-1 1 5 1-2 1-3 1 1 1 13 1-12 1 2 1 0 1-5 1 3 1-2 1 2 1 0 1 0 1 1 1-1 1 5 1-3 1 0 1-4 1-1 1 7 1 2 1-10 1 7 1-6 1 6 1-3 1-1 1 1 1 2 1-4 1 2 1-1 1-1 1 1 1 3 1 1 1 4 1 0 1-5 1-2 1 1 1-1 1-2 1 5 1-2 1-3 1 3 1 1 1 3 1-1 1 2 1-4 1 1 1-3 1 0 1 3 1-5 1 2 1-2 1-2 1 2 1-2 1 3 1 2 1 1 1-2 1-1 1 0 1 5 1-3 1 1 1 0 1-4 1 0 1 7 1-5 1-1 1 9 1-12 1 4 1-1 1 2 1 4 1-2 1 1 1 0 1-2 1-5 1 7 1-3 1 1 1 0 1 0 1-6 1 8 1 2 1-6 1 0 1-3 1 2 1 4 1 0 1-5 1 1 1 1 1 5 1 5 1-9 1-3 1 3 1 4 1-3 1-3 1 8 1-6 1-4 1 4 1-1 1-3 1 3 1 12 1-11 1 0 1 2 1-3 1-2 1 3 1-1 1 0 1 2 1-2 1-2 1 1 1 2 1 4 1-6 1 2 1 3 1 4 1-10 1 2 1 0 1 2 1-1 1-3 1 2 1-4 1 3 1 2 1 2 1 0 1-5 1 7 1-7 1 0 1 5 1-5 1-1 1 3 1 0 1-1 1-1 1 0 1 2 1 5 1-5 1-1 1 0 1 2 1 2 1-2 1 4 1 3 1-11 1 0 1 0 1 1 1 0 1 1 1-2 1 1 1-1 1 5 1 2 1-4 1 0 1 1 1 0 1 4 1-3 1-5 1 7 1-1 1-3 1-1 1 5 1-4 1 5 1-4 1-3 1-1 1 3 1-2 1-2 1 3 1 0 1-1 1 4 1-3 1 2 1-5 1 4 1 1 1 0 1 3 1-5 1 1 1 0 1 1 1 4 1-2 1-2 1-3 1 2 1 2 1-5 1 1 1 2 1 1 1 2 1-4 1 3 1-4 1 1 1 6 1-3 1 1 1-6 1 6 1-7 1 0 1 5 1 5 1-8 1 1 1-1 1 2 1-2 1-3 1 2 1 2 1-3 1 3 1 0 1-2 1 4 1-4 1 2 1-2 1 6 1-2 1-2 1 1 1 4 1 2 1-1 1-3 1 7 1-9 1-1 1 5 1-5 1 0 1 7 1-2 1 0 1-2 1 1 1-1 1-1 1-3 1 1 1 1 1 5 1-2 1-4 1 0 1-3 1 6 1 2 1-5 1 5 1-4 1-3 1 0 1 1 1 2 1-2 1 0 1 0 1 3 1-2 1-3 1 12 1-1 1-5 1-2 1 4 1-4 1 0 1 0 1 3 1-5 1 0 1 6 1-3 1-4 1 7 1-3 1 1 1-1 1 2 1-2 1-4 1 2 1 3 1-2 1 1 1-2 1-3 1 2 1 4 1-1 1 1 1 3 1-5 1 0 1 7 1-6 1-5 1 0 1 1 1 4 1 1 1-1 1 7 1-11 1 5 1-5 1 4 1 2 1-5 1 2 1 1 1-2 1-2 1 3 1 1 1-2 1 1 1 2 1 2 1-4 1 1 1 6 1-11 1 2 1 3 1-1 1 0 1 2 1-2 1-3 1 4 1-2 1 1 1 5 1-7 1 1 1 9 1-11 1 0 1 0 1 1 1 2 1 8 1-9 1 5 1 0 1-3 1 2 1-6 1 5 1-1 1 1 1 0 1-4 1-3 1 6 1-2 1 1 1-1 1 11 1-10 1 1 1-1 1 2 1 0 1 1 1-2 1 1 1-4 1 3 1-1 1-1 1 3 1 1 1 4 1 2 1-13 1 5 1 1 1 0 1-3 1 8 1-4 1-3 1 5 1-2 1 3 1-7 1 3 1-1 1-3 1 2 1 2 1 1 1-3 1 6 1-4 1-1 1 0 1-1 1 2 1-1 1-1 1 2 1-6 1 5 1-4 1 5 1 2 1-4 1-1 1 1 1 1 1-1 1-4 1 9 1-4 1-1 1 1 1 0 1 2 1 3 1-7 1-1 1-2 1 6 1 1 1-2 1 5 1-8 1 2 1-5 1 4 1 2 1-2 1 1 1-2 1 2 1 0 1 2 1-2 1-1 1 0 1 2 1-1 1 0 1 4 1-1 1-3 1 0 1 5 1-2 1-1 1-2 1 5 1-6 1-1 1 1 1 1 1 6 1-7 1 4 1 9 1-9 1 2 1-6 1-3 1 6 1 3 1-6 1 2 1-6 1 1 1 1 1 4 1-3 1-2 1 6 1-4 1 0 1 9 1-7 1-3 1-1 1 8 1-3 1-1 1-1 1 1 1 6 1 0 1 1 1 1 1-13 1 8 1 0 1-5 1 0 1 5 1 1 1-1 1-5 1 0 1 3 1-1 1 0 1 0 1 4 1-3 1 1 1 0 1-2 1-2 1 2 1 0 1 5 1-5 1 2 1 1 1 1 1-5 1 0 1 1 1-2 1 2 1 2 1-7 1 5 1 2 1-6 1 4 1 1 1 1 1 2 1-3 1-2 1 2 1 4 1-5 1 1 1 3 1-5 1-1 1 3 1-2 1 1 1-3 1 3 1-3 1 5 1-3 1 1 1-1 1 1 1-5 1 4 1 3 1-2 1-2 1 2 1 1 1 2 1-5 1-2 1 2 1 3 1-3 1 3 1-2 1-2 1 0 1 3 1 0 1 0 1-1 1-2 1 1 1 6 1-4 1 2 1 1 1-7 1 5 1-1 1-1 1 2 1-1 1 4 1-6 1 3 1 2 1-5 1 3 1-4 1 8 1-4 1-1 1 7 1-2 1-4 1-1 1-1 1 6 1-8 1 2 1-2 1 9 1-9 1 3 1-1 1 0 1-3 1 1 1 4 1-5 1 0 1 3 1-3 1 1 1 0 1 1 1 4 1-4 1 7 1-1 1-2 1 3 1-4 1 1 1 2 1-6 1 3 1 0 1 2 1-3 1 1 1-3 1 2 1-3 1 0 1 10 1-12 1 6 1-1 1-3 1 3 1-1 1 0 1 1 1-2 1 2 1-1 1 2 1-3 1 0 1-2 1 3 1 3 1-6 1 3 1 0 1 2 1 2 1-3 1-3 1 2 1 3 1-1 1-6 1 4 1 2 1-1 1 1 1-1 1-4 1 5 1-2 1 4 1-4 1 2 1 0 1-3 1-1 1-1 1 4 1 0 1 0 1-1 1 3 1 2 1 1 1-5 1 3 1-4 1 2 1 5 1-6 1 5 1-4 1 4 1-5 1-1 1 1 1 0 1 3 1-5 1 6 1-3 1-3 1 6 1-7 1 2 1 3 1 2 1 1 1-2 1 0 1-4 1 2 1-2 1 3 1-1 1-2 1 5 1-2 1 7 1-1 1-9 1 4 1 2 1-3 1-2 1 2 1 2 1-4 1-2 1 7 1-5 1 1 1 3 1 0 1-4 1-2 1 3 1 1 1 0 1 2 1-5 1 3 1-4 1 13 1-13 1 1 1 7 1-1 1-4 1-3 1 4 1 0 1 1 1 1 1-4 1 1 1 3 1-7 1-1 1 3 1 3 1-3 1-3 1 1 1 10 1-3 1-4 1 4 1-3 1-2 1 2 1 1 1-6 1 7 1-3 1 1 1-1 1 1 1 0 1-1 1 1 1 4 1-7 1 4 1-5 1 3 1 0 1-4 1 6 1-4 1 3 1 0 1 2 1-2 1 0 1-1 1 6 1-3 1 1 1-5 1-1 1 1 1 3 1 5 1-6 1 1 1-4 1 11 1-11 1 1 1 1 1-4 1 8 1-7 1 5 1 0 1-2 1 1 1-3 1 4 1-2 1-2 1 3 1-3 1-1 1-1 1 7 1-1 1-4 1 5 1-1 1 0 1 0 1-5 1 9 1-5 1 4 1-4 1 3 1-1 1 6 1-3 1-4 1-1 1 6 1-7 1 0 1-3 1 0 1 1 1 4 1-4 1 3 1-2 1 0 1-3 1 7 1 0 1 1 1-3 1 4 1-6 1 8 1-9 1 0 1 3 1-2 1 3 1-3 1 1 1-2 1 1 1-1 1 6 1-5 1-2 1 0 1 4 1 1 1-1 1 2 1 0 1-6 1 1 1-1 1 5 1 3 1-9 1 6 1 2 1-5 1-1 1 1 1-1 1 3 1 5 1-7 1 1 1 2 1 0 1 2 1-6 1 6 1-4 1 2 1-2 1 3 1-3 1-2 1 8 1-3 1-2 1 0 1 1 1-1 1-1 1 1 1-3 1 2 1 2 1 0 1-5 1 4 1 2 1-2 1 0 1 1 1-5 1 2 1-2 1 2 1-1 1 6 1-2 1-5 1 7 1-4 1 1 1-5 1 3 1 4 1-4 1 1 1-1 1-2 1 3 1 2 1-3 1-3 1 2 1-1 1 9 1-5 1 0 1-4 1 6 1-1 1 1 1 0 1-3 1-3 1-1 1 2 1 3 1-1 1 4 1-8 1 4 1 1 1 5 1-7 1-1 1 7 1-5 1 7 1-8 1 3 1-2 1 3 1-5 1 1 1 3 1-2 1 1 1 4 1-5 1 1 1 1 1 0 1 0 1-2 1 3 1-1 1-2 1-1 1 0 1 6 1-3 1-4 1 2 1 4 1-2 1 1 1-5 1 2 1-2 1-2 1 5 1 1 1 2 1-4 1 1 1 2 1-6 1 8 1-2 1-4 1 11 1-7 1-4 1 1 1 2 1-1 1 0 1-5 1 2 1-1 1 2 1 1 1 4 1-4 1-1 1-1 1 2 1-1 1 5 1-4 1-3 1 8 1-3 1-1 1-2 1-1 1 4 1 0 1 0 1-4 1 4 1-3 1-1 1 3 1 2 1-1 1 1 1-5 1 3 1 1 1-2 1-1 1 7 1-6 1-1 1 1 1 1 1 0 1-2 1 10 1-4 1 5 1-8 1 1 1-6 1 1 1 7 1-1 1-3 1-2 1 1 1 2 1-4 1-1 1 2 1-2 1 10 1-4 1-5 1 2 1-3 1 3 1-3 1 3 1 4 1-4 1 2 1-3 1 1 1 8 1-9 1 1 1 2 1 4 1-7 1 2 1-1 1 2 1-5 1 5 1 3 1-8 1 2 1 0 1 5 1-3 1 4 1 1 1-8 1 3 1 4 1-1 1 2 1-3 1-2 1 0 1-3 1-1 1 2 1-3 1 3 1 6 1-2 1-3 1 3 1 1 1-3 1-2 1 11 1-8 1 4 1-4 1-2 1 0 1 5 1 0 1 3 1-9 1 5 1-1 1-2 1 2 1-1 1 0 1-5 1 2 1-1 1 2 1 3 1 2 1-8 1 6 1 5 1-2 1-5 1-1 1-2 1-2 1 9 1-6 1-3 1 5 1 6 1-1 1 0 1-10 1 5 1 4 1-4 1-1 1 5 1-5 1-5 1 4 1-1 1 5 1-5 1 1 1-2 1 1 1 2 1-2 1 9 1-5 1 2 1-8 1 3 1 5 1-1 1-7 1 2 1 1 1 2 1 1 1-3 1 1 1-2 1 7 1-7 1 0 1 2 1 3 1-2 1 2 1-4 1 0 1-1 1 3 1-2 1 6 1-1 1-5 1-2 1 5 1 0 1 0 1 4 1-7 1-1 1 4 1-3 1 2 1 3 1-2 1 0 1-3 1 1 1-3 1 1 1 8 1-4 1-1 1 2 1 2 1-6 1 6 1-7 1 3 1 5 1-9 1 2 1 1 1 1 1-1 1-3 1 3 1 3 1-2 1 1 1-2 1 2 1-1 1 5 1-8 1 0 1-1 1 6 1-5 1 2 1-2 1 4 1-4 1 3 1 2 1-4 1-2 1 4 1-1 1-2 1 8 1-1 1 0 1-5 1 2 1 3 1-5 1 4 1 3 1-9 1 7 1-4 1 1 1 4 1-7 1 0 1 3 1 1 1-5 1 1 1 1 1-1 1 4 1 0 1 1 1-3 1-2 1-2 1 1 1 4 1-1 1-2 1 1 1 9 1-7 1-4 1 2 1 2 1-4 1 2 1-2 1 3 1-2 1 2 1-1 1 4 1-8 1 2 1 2 1-3 1 4 1 0 1 2 1-3 1 3 1-2 1-3 1 4 1-1 1-2 1 0 1 5 1-6 1 1 1 0 1 4 1-2 1 3 1-6 1 2 1-1 1 0 1 1 1 0 1 4 1 2 1-3 1-2 1 2 1 2 1-7 1 1 1 1 1-4 1 3 1 1 1-4 1 6 1 5 1-7 1 0 1 7 1-6 1 0 1-6 1 4 1 2 1-2 1 3 1-2 1-1 1-2 1 5 1-3 1 2 1-1 1 0 1 0 1 3 1 1 1-2 1 3 1-1 1 0 1-4 1 1 1 1 1 5 1 6 1-10 1-4 1 0 1 1 1-1 1 3 1 3 1-8 1 2 1 3 1 1 1-1 1 2 1-6 1 1 1 3 1-1 1-1 1 8 1-7 1 6 1-11 1 5 1 0 1 4 1 1 1-8 1 3 1-1 1-2 1 3 1-1 1 2 1 0 1-1 1 4 1-5 1 5 1-9 1 5 1-3 1 2 1 4 1-4 1 2 1 2 1-1 1-2 1 4 1-6 1 0 1 1 1 3 1-1 1-1 1-2 1-3 1 2 1 2 1 1 1 3 1-5 1 2 1-1 1 4 1-3 1 4 1-2 1-4 1 3 1-4 1 1 1 2 1 7 1-4 1-2 1-2 1-2 1 3 1-4 1 1 1 1 1 1 1 2 1-3 1 2 1 1 1 2 1-3 1 0 1 4 1-10 1 6 1-2 1 4 1-4 1 1 1 0 1-3 1 1 1 0 1 3 1 3 1-3 1 3 1-1 1-6 1 2 1-3 1 3 1 2 1-1 1 2 1-2 1 4 1 0 1-6 1 4 1-2 1 1 1-3 1 6 1-2 1-4 1 7 1-7 1 1 1 9 1-2 1 0 1-3 1 1 1-5 1 3 1 0 1 0 1-2 1-4 1 4 1 3 1 1 1-5 1 10 1-9 1-1 1 7 1-3 1 1 1-4 1 3 1-4 1 3 1 2 1-5 1 7 1-1 1-3 1-2 1 4 1 2 1-7 1 1 1 0 1 4 1-2 1 4 1-3 1 0 1 4 1 2 1-11 1 4 1-4 1 1 1-2 1 8 1-4 1 4 1-3 1-5 1 6 1-4 1 3 1-4 1 1 1 4 1-2 1-1 1 3 1-1 1 2 1-5 1 3 1-5 1 2 1 0 1 6 1-2 1-5 1 6 1-2 1-1 1-1 1-1 1 3 1 3 1-7 1 0 1 2 1 2 1 6 1-3 1-8 1 2 1 7 1-3 1-1 1 5 1-4 1-4 1 8 1-3 1-4 1 1 1 1 1 1 1-2 1-2 1 3 1-4 1 2 1 1 1-3 1 7 1-6 1 1 1 3 1 0 1-4 1 3 1-1 1 1 1-3 1 1 1 4 1-3 1-4 1 2 1 4 1-1 1 0 1-5 1 1 1 7 1-3 1-3 1 1 1 1 1 2 1-5 1 1 1 3 1-6 1 5 1 1 1 0 1-3 1-3 1 9 1-4 1 4 1-8 1 5 1-1 1 3 1 0 1-1 1 0 1-2 1 0 1 1 1-3 1 3 1 2 1-6 1 0 1-1 1 0 1 8 1-6 1-2 1 10 1-7 1-2 1-2 1 1 1 1 1 2 1 5 1-8 1 2 1 5 1-3 1 0 1-3 1-3 1 7 1 1 1-4 1 5 1-2 1 1 1-6 1 0 1 1 1 0 1 3 1 4 1-3 1-1 1-2 1-3 1 4 1-3 1 4 1-1 1-2 1 3 1-1 1-1 1 0 1 4 1-1 1 2 1 0 1 4 1-12 1 3 1 7 1-5 1-2 1 0 1 7 1-5 1 0 1 3 1-1 1-2 1 1 1-3 1 3 1-1 1-5 1 2 1 2 1 1 1-3 1-3 1 5 1 2 1 0 1 5 1-5 1-3 1-2 1 6 1 6 1-2 1-5 1-3 1 0 1 8 1-4 1-7 1 5 1 0 1-2 1 0 1 0 1 1 1 0 1 0 1-1 1 5 1-3 1-2 1-3 1 3 1 3 1 0 1-2 1 1 1 3 1-5 1 1 1 0 1 6 1-3 1 0 1 3 1-9 1 11 1-8 1 3 1 0 1-5 1 1 1 0 1 1 1 6 1-5 1 1 1-6 1 1 1 1 1 2 1 6 1-5 1 6 1-3 1-7 1 4 1 10 1-11 1 1 1 3 1-5 1-1 1 1 1 8 1-7 1-1 1 0 1-2 1 0 1 9 1-4 1-3 1-1 1 3 1 1 1 2 1-2 1 3 1-4 1 1 1-1 1-4 1 5 1-1 1-5 1 3 1-3 1 7 1-6 1 2 1 7 1-4 1 4 1-8 1-1 1-1 1 3 1 1 1-1 1 0 1 6 1-2 1-2 1-2 1 0 1-1 1 1 1 3 1-6 1 4 1 0 1 7 1-10 1 8 1-6 1-1 1 1 1-2 1 6 1-5 1 4 1 1 1 4 1-7 1-2 1 1 1-1 1 4 1-3 1 2 1-1 1 2 1-4 1 3 1-3 1 5 1-4 1 7 1-4 1-3 1 3 1-2 1 4 1-5 1 1 1-3 1 1 1 6 1 1 1-7 1 0 1 13 1-12 1 2 1 4 1-1 1-2 1 1 1 2 1-7 1-3 1 9 1-5 1 8 1 0 1-4 1-3 1 0 1 0 1-4 1 9 1 0 1-7 1 0 1 5 1-4 1 4 1 2 1-2 1 1 1-2 1-2 1 4 1-5 1 1 1-3 1 5 1-1 1-2 1-1 1 0 1 0 1 9 1 0 1-2 1-4 1-4 1-1 1 6 1-5 1 2 1 8 1-8 1 3 1-1 1 2 1-1 1-5 1 8 1-6 1 6 1-7 1 3 1 1 1-5 1 5 1-3 1 10 1-6 1-3 1 1 1 1 1 1 1-3 1 4 1-7 1 4 1-5 1 5 1 0 1 6 1-7 1-4 1 3 1 0 1 0 1 0 1 8 1-9 1 0 1 4 1 2 1-5 1-1 1 1 1 3 1-6 1 9 1-3 1-4 1 0 1 3 1 4 1-6 1-1 1 12 1-5 1-2 1-4 1 1 1 2 1 2 1-1 1 0 1-3 1-4 1 15 1-10 1 3 1-3 1-2 1 5 1-5 1 5 1-7 1 7 1-7 1 4 1-3 1 0 1 1 1 1 1-2 1 5 1-4 1 2 1 2 1-1 1-1 1-1 1 3 1-6 1 3 1 0 1-4 1 7 1-5 1 1 1 1 1-1 1 3 1-3 1 1 1 7 1-5 1 1 1-6 1 3 1-1 1 0 1 3 1 6 1-10 1-1 1 3 1-1 1-2 1 12 1-11 1 7 1-6 1 1 1 1 1-4 1 7 1-3 1 8 1-9 1 7 1-4 1 4 1-5 1-4 1 5 1-5 1 1 1-2 1 1 1 2 1-1 1-3 1 1 1 7 1 4 1-8 1-2 1 1 1 4 1-3 1 2 1 2 1-1 1-3 1 0 1 1 1-4 1 4 1-3 1 3 1 0 1 0 1-3 1 1 1 4 1-5 1 2 1 0 1-3 1 1 1 0 1 4 1-1 1 3 1-3 1 1 1-2 1 0 1-1 1 2 1 0 1-1 1-2 1 4 1-1 1-1 1-2 1 2 1 4 1 0 1 1 1-5 1-1 1 0 1-2 1 2 1 2 1-2 1 0 1 0 1 8 1-10 1 12 1-8 1-1 1-3 1 7 1-3 1-2 1-2 1 3 1 3 1-4 1-1 1 3 1 0 1 5 1-4 1 1 1 1 1-4 1 2 1 4 1-2 1-6 1 3 1-4 1-1 1 1 1 2 1 3 1 0 1 0 1-2 1 4 1-1 1-3 1-1 1 1 1-1 1 4 1-2 1-3 1 1 1 4 1-2 1-5 1 8 1-4 1 5 1-8 1 7 1-6 1 1 1 2 1 2 1 3 1-9 1 2 1 0 1 7 1-3 1 1 1-4 1 0 1 2 1-1 1 1 1 0 1-3 1 1 1 3 1-2 1-4 1 2 1 2 1 1 1-1 1 0 1 5 1 0 1-8 1 2 1 3 1-5 1 2 1-2 1 1 1 1 1 6 1-10 1 1 1 4 1-5 1 2 1 6 1 3 1-1 1-4 1 0 1-4 1 1 1 2 1 4 1-6 1 5 1-5 1 5 1-2 1 6 1-10 1 5 1-2 1 2 1 0 1 0 1-2 1 1 1 1 1-5 1 5 1-3 1-2 1 3 1-4 1 7 1-4 1-1 1 0 1 1 1-3 1 4 1 1 1-4 1-2 1 7 1-4 1 1 1 4 1-6 1 1 1 0 1 1 1 3 1-5 1 2 1-3 1 5 1 4 1-4 1-1 1-1 1 6 1-8 1 1 1 0 1 1 1-3 1 10 1 1 1-10 1-1 1 2 1 4 1-4 1 2 1 6 1-3 1-8 1 3 1 0 1 1 1 3 1-3 1-1 1 2 1 4 1-7 1 5 1 9 1-7 1-5 1 0 1 0 1 2 1-3 1 0 1 6 1-10 1 5 1 0V0" fill="#0000ff" stroke="#00008b" stroke-width="0.85" vector-effect="non-scaling-stroke"/></g>
<path d="M259 3344.5H270.5M259 3483.5H270.5" fill="none" stroke="#333" stroke-width="1"/>
<path d="M270.5 3344.0V3484.0" stroke="#858575" stroke-width="1"/>
<text x="252.4" y="3347.3" class="ax">6</text>
<text x="252.4" y="3486.1" class="ax">0</text>
<text x="74" y="3419.7" class="nm">GSM5550296</text>
<g transform="translate(271.0 3637.0) scale(0.33333 -13.90000)"><path d="M0 0V0l1 0 1 0 1 1 1-1 1 0 1 1 1-1 1 1 1 0 1-1 1 2 1 0 1 4 1-5 1 1 1 0 1 0 1-1 1 1 1-2 1 0 1 1 1 1 1 1 1 0 1-2 1 1 1-1 1 0 1 2 1 0 1 0 1-2 1 0 1-1 1 1 1 0 1 2 1 0 1-2 1 0 1 1 1-2 1 2 1-1 1 0 1 1 1-2 1 0 1 1 1 0 1 3 1-4 1 1 1 2 1-2 1 0 1-1 1 0 1 1 1 1 1-1 1-1 1 0 1 0 1 2 1-2 1 1 1 2 1-1 1 0 1 1 1-1 1-1 1-1 1 1 1 1 1 0 1-1 1 1 1-2 1 1 1-1 1 1 1 1 1 0 1 0 1-2 1 3 1-1 1 1 1-2 1 6 1-5 1 3 1 0 1-4 1 4 1-4 1-1 1 0 1 2 1 0 1-2 1 4 1-4 1 2 1 2 1 0 1-1 1-1 1 0 1 1 1-2 1 2 1 0 1-1 1 0 1 1 1 0 1-3 1 2 1 1 1-1 1-2 1 3 1-1 1 2 1 1 1-2 1-1 1-1 1 3 1-2 1 0 1-1 1 2 1-1 1-1 1 0 1 5 1-3 1 3 1-5 1 1 1 0 1-2 1 2 1-2 1 0 1 0 1 0 1 0 1 2 1-1 1 0 1 1 1 0 1 0 1 1 1-2 1 0 1 0 1 9 1-7 1 2 1 0 1-4 1 1 1 0 1-1 1 1 1-1 1 0 1 0 1-1 1 1 1-1 1 1 1-1 1 4 1-2 1 3 1-3 1-1 1 2 1-1 1-2 1 2 1 1 1-1 1-1 1-1 1 0 1 0 1 0 1 0 1 4 1-4 1 0 1 0 1 0 1 1 1 1 1-1 1 0 1 1 1 0 1-1 1 0 1 0 1 0 1 3 1-1 1 1 1-2 1 1 1-2 1 4 1-4 1 1 1 0 1-1 1 0 1 1 1 1 1 1 1-3 1 4 1-4 1 0 1-1 1 0 1 1 1-1 1 0 1 1 1 0 1-1 1 0 1 2 1 1 1-2 1 1 1-2 1 1 1 4 1-1 1-2 1 0 1-2 1 0 1 3 1-3 1 1 1 4 1-4 1 1 1 1 1 0 1 0 1-3 1 1 1 0 1 0 1-1 1 1 1 0 1 6 1-5 1 0 1 4 1-5 1 0 1-1 1 1 1 1 1 0 1-2 1 0 1 1 1 0 1 0 1-1 1 2 1-2 1 1 1 0 1-1 1 1 1 2 1-3 1 2 1-1 1-1 1 1 1 0 1 1 1 0 1-2 1 1 1 2 1-3 1 2 1-1 1-1 1 1 1 0 1 0 1 1 1 5 1-6 1 3 1-3 1 1 1 0 1-1 1 2 1-3 1 0 1 0 1 0 1 0 1 3 1-3 1 1 1 1 1-1 1 2 1-2 1-1 1 1 1 4 1-2 1 1 1-1 1-1 1-1 1 0 1-1 1 1 1 1 1-2 1 2 1 1 1-3 1 0 1 0 1 2 1 0 1 1 1 0 1-1 1 0 1-2 1 2 1 0 1 3 1-2 1-2 1 3 1 0 1-1 1-2 1 0 1-1 1 4 1-3 1 1 1-2 1 1 1-1 1 1 1 1 1-2 1 1 1-1 1 1 1 1 1 0 1-1 1 1 1 0 1 2 1 1 1-3 1-1 1 1 1 3 1 0 1-2 1-3 1 4 1-1 1-3 1 1 1-1 1 0 1 0 1 1 1-1 1 1 1-1 1 1 1-1 1 1 1 1 1-2 1 1 1 0 1 0 1 2 1-3 1 4 1-3 1-1 1 0 1 0 1 2 1 0 1 2 1-4 1 1 1-1 1 3 1-2 1-1 1 2 1-1 1 0 1-1 1 3 1-2 1 0 1-1 1 2 1-2 1 2 1-1 1-1 1 1 1 0 1 0 1 0 1 0 1-1 1 0 1 1 1-1 1 1 1-1 1 0 1 0 1 1 1 0 1 0 1 0 1 0 1 0 1-1 1 1 1 0 1 2 1-2 1-1 1 0 1 0 1 0 1 0 1 1 1 0 1 0 1 2 1 0 1-2 1 0 1 1 1 0 1-2 1 2 1-1 1 1 1-1 1 2 1-1 1 3 1-4 1 0 1 0 1-1 1 3 1-3 1 2 1 1 1-1 1-1 1 0 1 4 1-3 1-1 1 0 1 1 1-1 1 0 1 0 1 0 1 0 1-1 1 1 1 0 1-1 1 1 1-1 1 1 1-1 1 0 1 1 1 0 1 3 1-1 1-3 1 0 1 1 1 0 1 0 1-1 1 0 1 1 1 0 1 1 1-2 1 0 1 2 1-2 1 1 1 0 1 0 1 0 1 1 1-1 1 0 1 1 1-1 1 0 1-1 1 0 1 0 1 0 1 2 1 1 1-2 1 2 1-3 1 1 1 1 1-2 1 4 1-2 1-1 1-1 1 0 1 2 1-2 1 0 1 0 1 3 1 1 1-3 1-1 1 0 1 3 1 1 1-2 1 1 1-2 1 0 1 3 1-4 1 0 1 2 1 0 1-1 1-1 1 2 1-1 1 4 1 0 1-1 1-3 1-1 1 0 1 0 1 1 1 0 1 2 1 0 1-1 1-2 1 2 1 0 1-2 1 2 1-2 1 2 1-1 1-1 1 1 1-1 1 1 1 0 1 0 1-1 1 0 1 2 1-1 1 1 1-2 1 0 1 5 1-3 1 3 1-1 1-1 1-1 1-1 1 1 1 1 1-2 1-1 1 2 1-2 1 0 1 1 1 0 1-1 1 0 1 0 1 0 1 1 1 1 1-1 1 0 1 1 1 0 1 2 1-4 1 2 1-2 1 3 1-3 1 1 1-1 1 7 1-7 1 0 1 1 1 4 1-3 1-2 1 0 1 1 1 1 1 0 1 1 1-2 1 1 1 0 1 0 1 0 1 2 1-3 1 1 1-2 1 0 1 2 1-1 1 0 1 0 1-1 1 2 1 0 1 1 1 2 1-4 1 1 1-1 1 0 1-1 1 1 1 2 1-3 1 0 1 1 1 0 1 0 1 0 1 0 1 0 1 0 1-1 1 0 1 7 1-6 1 0 1 3 1-3 1 2 1 0 1-1 1 0 1 3 1-2 1-1 1-1 1 0 1-1 1 2 1-1 1 0 1 0 1 1 1 1 1 0 1-1 1 1 1-1 1-1 1 0 1 3 1-1 1-2 1-1 1 1 1 0 1-1 1 0 1 0 1 1 1 0 1-1 1 2 1 4 1-3 1-2 1 1 1 1 1-2 1 2 1-2 1 1 1 3 1-1 1-3 1 0 1-1 1 4 1 0 1-4 1 2 1-2 1 1 1-1 1 0 1 2 1-1 1 1 1 0 1 2 1 6 1-6 1-1 1-1 1-1 1 0 1 0 1 1 1-1 1 0 1 1 1-1 1 1 1-2 1 0 1 1 1 1 1 4 1-2 1-3 1-1 1 0 1 3 1-1 1-1 1 1 1 2 1 0 1-1 1-3 1 8 1-4 1-3 1 0 1 0 1 0 1-1 1 1 1-1 1 0 1 0 1 2 1-1 1 3 1-2 1-2 1 2 1 0 1-2 1 2 1-2 1 2 1 0 1-1 1 0 1-1 1 2 1-1 1-1 1 0 1 3 1-2 1-1 1 2 1-2 1 3 1 3 1-4 1-1 1-1 1 2 1-2 1 0 1 1 1 0 1 0 1-1 1 0 1 2 1 0 1 2 1-4 1 3 1-2 1 0 1 2 1 1 1-1 1-2 1 1 1-1 1 1 1-2 1 0 1 3 1 1 1-2 1 0 1 0 1 3 1-4 1 0 1 0 1 0 1 0 1 1 1-1 1 0 1-1 1 1 1 0 1 1 1 0 1-1 1 2 1-1 1-2 1 1 1-1 1 1 1 0 1 1 1 1 1-3 1 0 1 4 1-3 1 2 1 1 1-2 1-1 1-1 1 3 1-3 1 2 1-1 1 1 1-2 1 2 1 0 1 0 1 0 1 1 1 0 1 0 1-1 1-1 1 4 1 0 1-5 1 0 1 0 1 0 1 0 1 0 1 0 1 0 1 2 1-2 1 6 1-3 1-3 1 1 1 1 1-2 1 4 1 0 1-3 1 2 1-1 1 2 1-1 1-1 1-2 1 1 1-1 1 1 1-1 1 1 1 3 1-4 1 1 1 0 1 1 1-2 1 0 1 1 1 1 1 1 1 0 1-2 1 2 1-3 1 0 1 1 1 0 1-1 1 0 1 5 1-1 1-4 1 2 1-1 1 0 1 2 1-2 1-1 1 3 1-1 1 3 1-2 1-2 1 2 1-2 1-1 1 3 1-2 1-1 1 2 1-1 1 1 1 0 1-1 1-1 1 4 1 0 1-1 1-2 1 1 1 0 1-1 1-1 1 2 1-1 1-1 1 1 1 1 1 1 1-1 1-2 1 6 1-5 1 2 1-3 1 1 1 0 1 2 1-2 1 4 1-2 1-1 1 0 1-1 1-1 1 2 1-1 1-1 1 1 1 0 1 0 1 0 1-1 1 2 1 1 1 2 1-5 1 1 1 1 1 0 1-1 1 1 1-1 1-1 1 0 1 0 1 1 1-1 1 2 1 0 1 0 1 1 1-2 1 3 1-4 1 0 1 3 1-1 1 1 1-1 1 5 1-3 1-1 1 1 1 1 1-4 1 0 1 0 1 0 1 2 1-1 1 1 1-1 1 1 1-2 1 3 1-1 1-1 1 3 1-3 1-1 1 4 1-3 1-1 1-1 1 2 1-1 1-1 1 0 1 0 1 5 1-2 1-1 1 1 1-1 1 0 1-1 1 0 1 2 1 0 1-2 1 2 1-2 1-1 1 0 1 3 1-1 1 0 1 0 1 2 1-3 1 1 1 0 1 3 1-5 1 2 1 3 1-1 1-1 1-2 1 4 1-3 1 1 1-3 1 1 1 1 1-2 1 1 1 0 1-1 1 1 1-1 1 3 1-1 1-2 1 0 1 1 1-1 1 2 1-2 1 3 1 4 1-4 1-2 1-1 1 0 1 2 1-2 1 1 1-1 1 0 1 2 1 0 1 0 1 2 1-2 1 4 1-4 1 2 1-3 1 3 1-3 1 0 1 0 1 1 1-1 1 1 1-1 1-1 1 1 1 0 1-1 1 2 1-1 1 1 1-2 1 2 1-1 1 0 1 1 1 0 1-1 1-1 1 2 1 3 1-5 1 4 1-1 1-2 1 3 1 3 1-2 1-3 1 4 1-1 1-4 1-1 1 1 1 1 1-1 1 1 1-1 1 0 1 2 1-3 1 6 1-6 1 6 1-4 1 2 1-1 1-3 1 2 1-2 1 1 1 4 1-2 1 0 1-2 1 2 1 0 1-1 1 0 1 0 1 1 1-1 1 1 1 0 1-1 1-2 1 1 1 0 1 1 1-1 1 1 1-2 1 2 1 1 1-2 1 2 1-1 1 6 1-2 1-5 1-1 1 1 1 0 1 0 1 0 1-1 1 1 1 2 1-1 1 0 1-1 1-1 1 1 1 0 1 1 1 0 1-2 1 1 1-1 1 0 1 0 1 3 1-1 1-2 1 1 1 2 1 3 1-3 1 2 1-5 1 1 1 3 1-4 1 1 1-1 1 0 1 1 1-1 1 1 1 2 1 0 1 1 1-1 1-1 1 0 1-2 1 4 1 2 1-2 1-4 1 3 1-3 1 3 1 0 1-3 1 1 1 3 1 0 1-1 1-2 1 1 1 1 1-1 1 0 1 0 1 3 1-3 1-1 1 3 1-1 1 0 1-2 1 1 1 1 1-3 1 0 1 1 1 2 1 1 1-2 1 1 1-2 1 4 1-1 1-3 1 0 1 1 1-1 1 0 1 0 1 2 1-3 1 0 1 0 1 0 1 0 1 3 1-2 1 1 1 2 1-3 1-1 1 1 1 0 1-1 1 0 1 0 1 4 1-3 1 0 1 0 1-1 1 1 1 2 1 1 1-2 1-2 1 0 1 0 1 2 1-1 1 7 1-4 1 2 1-5 1 2 1-2 1 2 1 0 1-3 1 2 1-2 1 1 1 0 1-1 1 1 1 0 1 0 1 0 1 3 1 3 1-3 1-1 1-1 1-2 1 7 1-5 1-1 1 1 1-2 1 0 1 1 1-1 1 0 1 1 1 1 1-2 1 0 1 1 1 1 1 0 1-1 1 0 1-1 1 0 1 1 1 1 1-1 1-1 1 4 1-3 1 0 1-1 1 1 1-1 1 1 1-1 1 1 1 0 1 2 1-2 1 0 1-1 1 4 1-4 1 0 1 4 1-4 1 5 1-2 1-3 1 2 1-1 1 7 1-7 1-1 1 1 1 1 1 2 1 0 1-1 1-2 1 1 1 0 1 3 1-2 1-3 1 2 1-2 1 0 1 1 1 0 1-1 1 0 1 2 1-1 1 0 1 0 1-1 1 0 1 2 1 3 1-1 1-3 1 3 1-2 1 1 1-2 1 0 1 1 1-1 1 1 1-1 1 1 1-1 1 0 1 0 1 2 1 0 1 3 1 2 1-4 1-2 1-1 1 2 1-1 1 0 1 1 1-2 1 1 1-2 1 0 1 1 1-1 1 0 1 1 1-1 1 1 1 0 1-1 1 1 1 2 1 0 1-3 1 2 1 0 1 1 1-1 1 0 1 0 1 0 1-2 1 1 1 1 1 0 1-2 1 0 1 0 1 1 1 0 1 3 1-2 1-1 1 0 1 1 1 2 1-2 1 0 1 2 1-3 1 1 1 1 1 0 1-3 1 3 1 1 1-3 1 2 1-3 1 0 1 0 1 1 1 3 1-4 1 2 1-2 1 1 1 0 1 1 1-2 1 1 1 0 1 2 1-3 1 2 1-1 1 1 1 1 1-2 1 1 1 0 1 0 1 1 1-1 1 5 1-5 1 1 1-1 1 0 1-1 1 1 1 3 1-4 1 0 1-1 1 1 1 0 1-1 1 1 1 2 1-3 1 0 1 3 1 1 1 1 1-4 1 0 1-1 1 1 1 3 1-3 1 1 1-1 1-1 1 2 1-2 1 1 1 1 1 0 1 0 1 0 1 0 1-1 1-1 1 2 1-2 1 0 1 0 1 0 1 0 1 0 1 5 1-5 1 3 1 1 1 1 1-4 1 0 1-1 1 1 1 0 1-1 1 4 1-3 1 1 1 0 1-1 1 4 1 2 1-6 1 2 1 3 1-5 1 2 1-1 1-1 1-1 1 1 1 1 1 1 1-2 1 2 1 2 1-1 1-3 1 0 1 2 1-2 1 1 1-2 1 0 1 2 1-2 1 2 1-1 1 4 1-2 1 0 1-1 1 1 1-1 1-1 1-1 1 0 1 1 1 0 1-1 1 1 1-1 1 1 1 0 1 1 1 1 1-2 1 1 1 2 1 0 1-2 1-2 1 2 1-1 1 3 1-3 1 2 1 0 1-1 1-2 1 2 1-2 1 0 1 1 1 0 1 4 1-1 1 0 1-4 1 3 1-3 1 1 1 0 1-1 1 0 1 0 1 2 1 0 1-2 1 1 1 1 1 1 1-2 1 1 1-2 1 1 1-1 1 0 1 1 1 0 1 0 1 1 1-2 1 2 1 0 1 0 1 0 1 2 1-2 1-1 1 1 1 3 1-5 1 0 1 1 1-1 1 2 1-1 1 0 1-1 1 0 1 1 1 0 1-1 1 4 1-1 1 1 1-2 1 3 1-4 1-1 1 0 1 1 1-1 1 2 1 4 1 0 1-1 1-3 1-2 1 0 1 2 1-1 1 1 1 0 1-1 1 0 1 2 1-2 1 0 1-1 1 1 1 0 1-1 1 0 1 2 1-2 1 0 1 1 1-1 1 0 1 1 1-1 1 0 1 2 1-1 1 2 1-1 1 1 1 0 1 1 1-3 1 1 1 6 1 1 1-9 1 3 1-2 1 7 1-6 1 0 1 2 1-3 1 1 1-2 1 3 1-3 1 1 1-1 1 0 1 0 1 4 1-4 1 0 1 2 1-2 1 0 1 1 1-1 1 0 1 0 1 1 1 0 1 2 1 1 1 2 1-3 1 1 1-3 1 3 1-2 1-1 1 0 1 0 1-1 1 1 1-1 1 1 1 1 1-2 1 0 1 1 1 0 1-1 1 0 1 1 1 1 1 0 1 3 1-3 1-1 1 0 1 2 1-1 1-1 1 4 1-4 1 0 1 0 1-1 1 2 1-1 1 1 1 0 1 0 1-2 1 2 1 4 1-4 1-2 1 2 1-1 1 2 1-3 1 2 1-2 1 3 1-1 1 4 1-4 1 0 1-1 1 2 1 1 1-3 1-1 1 0 1 0 1 1 1 0 1 0 1 1 1-2 1 1 1 2 1-2 1 1 1-1 1 0 1 1 1-1 1 1 1 2 1-2 1 1 1-1 1 0 1-2 1 0 1 0 1 0 1 1 1-1 1 1 1 2 1-3 1 3 1-2 1 0 1 0 1-1 1 1 1 1 1-1 1-1 1 2 1 3 1-1 1 1 1-5 1 3 1-3 1 0 1 1 1 0 1 3 1-2 1 0 1 0 1 4 1-3 1 1 1-2 1-2 1 5 1-2 1-3 1 4 1-3 1-1 1 1 1-1 1 1 1 0 1-1 1 2 1 0 1-2 1 1 1 0 1 2 1 4 1-5 1-1 1 0 1 7 1-4 1-3 1 3 1-4 1 3 1 0 1-1 1-1 1 0 1 0 1 1 1 0 1 1 1-2 1-1 1 0 1 0 1 3 1-1 1-1 1 1 1 2 1-1 1-1 1 0 1 1 1 1 1-3 1 0 1 0 1 2 1 1 1-2 1-2 1 0 1 1 1 1 1-2 1 0 1 1 1 0 1 2 1 1 1 0 1-2 1 0 1 0 1-1 1-1 1 1 1 1 1 2 1-3 1 0 1 2 1-3 1 2 1-2 1 0 1 2 1 2 1 0 1-3 1 0 1-1 1 1 1 4 1-1 1-3 1 2 1-3 1 0 1 0 1 1 1-1 1 0 1 0 1 1 1 1 1 0 1-2 1 0 1 0 1 1 1 6 1-6 1 1 1 2 1-2 1 0 1-2 1 0 1 1 1 0 1 1 1-2 1 2 1-1 1 2 1 1 1-3 1 1 1 0 1-1 1-1 1 2 1 0 1-2 1 5 1-3 1 1 1-2 1 0 1 1 1 0 1-2 1 2 1-2 1 1 1-1 1 1 1 0 1 2 1-1 1-1 1 1 1-1 1 0 1 1 1-1 1 1 1 0 1-2 1 1 1 0 1 1 1-1 1 0 1 1 1 0 1-2 1 8 1-7 1 1 1-2 1 2 1-1 1-1 1 2 1-2 1 0 1 2 1 0 1-1 1 0 1-1 1 0 1 1 1-1 1 1 1 0 1-1 1 1 1 3 1 1 1-4 1 3 1-2 1-2 1 1 1 1 1-2 1 1 1 4 1 2 1-6 1 0 1 1 1 1 1-3 1 2 1-1 1-1 1 4 1-3 1 0 1 0 1 1 1 1 1-2 1 1 1 3 1-3 1-1 1-1 1 1 1 0 1 1 1-2 1 1 1 1 1-2 1 1 1 3 1-3 1 5 1-5 1 1 1 1 1 3 1-4 1-1 1 0 1 1 1 0 1 2 1-4 1 2 1-2 1 1 1 0 1-1 1 9 1-6 1-1 1-1 1 1 1 0 1-2 1 2 1-1 1 1 1-1 1 1 1 2 1-3 1 0 1 2 1 0 1 2 1-4 1 0 1 0 1 2 1-2 1 0 1 0 1 2 1 0 1-3 1 1 1 1 1 0 1 2 1-3 1-1 1 1 1 0 1 1 1-2 1 0 1 1 1 0 1 3 1-3 1-1 1 3 1-1 1 0 1 0 1 0 1-2 1 0 1 0 1 1 1 0 1 0 1 3 1-4 1 4 1-2 1 0 1 0 1-2 1 1 1 0 1-1 1 0 1 2 1-2 1 1 1 1 1 1 1-2 1 1 1-2 1 0 1 0 1 1 1-1 1 1 1 0 1 0 1 1 1-2 1 2 1 1 1-2 1-1 1 5 1-3 1-1 1 0 1 0 1 0 1 0 1-1 1 1 1-1 1 1 1 2 1 0 1 1 1-2 1 1 1-2 1 2 1-2 1-1 1 4 1-3 1 0 1 1 1-1 1-1 1 0 1 0 1 3 1-2 1 0 1 0 1 0 1 5 1-5 1 0 1 1 1-1 1 0 1 1 1-2 1 2 1 0 1 0 1 0 1 2 1 4 1-6 1 1 1-3 1 1 1 0 1 0 1 0 1 1 1 1 1 0 1-2 1 1 1-2 1 0 1 1 1 1 1 0 1-1 1 0 1 0 1-1 1 2 1-2 1 1 1 1 1-1 1-1 1 2 1-2 1 0 1 1 1-1 1 1 1 0 1 0 1-1 1 1 1-1 1 6 1-6 1 3 1-3 1 2 1-1 1 0 1-1 1 3 1-1 1-2 1 1 1 0 1 0 1 0 1-1 1 1 1 3 1 0 1-2 1-1 1 5 1-3 1 4 1-1 1-3 1 3 1-5 1 3 1-3 1 0 1 0 1 3 1-1 1-3 1 3 1-1 1-1 1 2 1-1 1 1 1-2 1 0 1 0 1 2 1-3 1 1 1-1 1 2 1-2 1 0 1 1 1 0 1 0 1 0 1 2 1-1 1 0 1 0 1 0 1-1 1 1 1 0 1-2 1 0 1 1 1-1 1 2 1-2 1 0 1 2 1-2 1 0 1 1 1 0 1 1 1-2 1 0 1 0 1 0 1 1 1-1 1 1 1 0 1 4 1-2 1-1 1-2 1 2 1-2 1 1 1 3 1-1 1-1 1-2 1 0 1 1 1-1 1 1 1-1 1 2 1 2 1-3 1 0 1-1 1 0 1 0 1 1 1 0 1-1 1 1 1 0 1 0 1 0 1-1 1 2 1 0 1 0 1 2 1-4 1 1 1-1 1 0 1 0 1 0 1 2 1-2 1 0 1 1 1-1 1 0 1 1 1 1 1 2 1-3 1 0 1-1 1 3 1-1 1-2 1 2 1-1 1-1 1 1 1 0 1 1 1-1 1 5 1-6 1 3 1-3 1 1 1-1 1 2 1-1 1 0 1 2 1-1 1 0 1 0 1 1 1-2 1 0 1 3 1-4 1 1 1 2 1-3 1 1 1 0 1 3 1-4 1 2 1-1 1 0 1 0 1 2 1-1 1-2 1 1 1 0 1 3 1-2 1 0 1-1 1-1 1 3 1-2 1 0 1 0 1 1 1 6 1-7 1-1 1 1 1-1 1 1 1 2 1 1 1-2 1 0 1 3 1-3 1 1 1 2 1-1 1-4 1 2 1-1 1 0 1 3 1-2 1 0 1 0 1-2 1 0 1 1 1 2 1 3 1-6 1 1 1 0 1 0 1-1 1 1 1 0 1 3 1 2 1-4 1-1 1 0 1-1 1 0 1 1 1 2 1-3 1 0 1 0 1 0 1 0 1 1 1 2 1 1 1-3 1 0 1 0 1 1 1 6 1-7 1 0 1 0 1 2 1-2 1 0 1 2 1-2 1 2 1-1 1-1 1 3 1 0 1 0 1 1 1 0 1-5 1 2 1 3 1-5 1 1 1-1 1 0 1 0 1 2 1-1 1 1 1 0 1-2 1 2 1 3 1-4 1 0 1 1 1 0 1 3 1-1 1-3 1 0 1 0 1 0 1-1 1 1 1-1 1 0 1 2 1-1 1 1 1 0 1-1 1 5 1-2 1-4 1 1 1-1 1 1 1-1 1 0 1 0 1 5 1-5 1 1 1 0 1 0 1-1 1 1 1 0 1 1 1-1 1 2 1-3 1 4 1 1 1 0 1-5 1 2 1 1 1 0 1-2 1-1 1 2 1-2 1 1 1-1 1 1 1-1 1 5 1-4 1 1 1 1 1-1 1 4 1-1 1-4 1 2 1-1 1-2 1 1 1 0 1 0 1-1 1 1 1 0 1 0 1 4 1-5 1 0 1 2 1 2 1 0 1-2 1-2 1 1 1 3 1 2 1-2 1-2 1-1 1 3 1-1 1-1 1 0 1-1 1-1 1 2 1 0 1-2 1 0 1 2 1 0 1-2 1 1 1 1 1-1 1 1 1 0 1 1 1-3 1 1 1 2 1-2 1 1 1-1 1 2 1-2 1 0 1-1 1 0 1 0 1 0 1 0 1 2 1-1 1 2 1-1 1-2 1 3 1-3 1 1 1-1 1 0 1 2 1 2 1 2 1-4 1-2 1 0 1 0 1 1 1 1 1-2 1 1 1 0 1 1 1-2 1 0 1 2 1-1 1-1 1 4 1-2 1 2 1-4 1 5 1-2 1 1 1 0 1-2 1 1 1-1 1 0 1-2 1 1 1 0 1-1 1 0 1 1 1 0 1 0 1 4 1-3 1 1 1-1 1-1 1 4 1-5 1 2 1 1 1-2 1 2 1 1 1 1 1-1 1-2 1 2 1-4 1 2 1 0 1-1 1 0 1-1 1 0 1 1 1 1 1-1 1 0 1 4 1-3 1 0 1 0 1-1 1 0 1 1 1-1 1 1 1 0 1 0 1-2 1 1 1 0 1 0 1-1 1 1 1 1 1-1 1 0 1-1 1 2 1-1 1-1 1 3 1 0 1-2 1 1 1-1 1 0 1-1 1 0 1 1 1-1 1 1 1-1 1 0 1 0 1 0 1 2 1 3 1-3 1 0 1-1 1 3 1-3 1 0 1 3 1-3 1 6 1-4 1-2 1 1 1 0 1-2 1 3 1-2 1 2 1-3 1 5 1 0 1-5 1 3 1-2 1 1 1-2 1 1 1 1 1 2 1-3 1 0 1 0 1 0 1 1 1 2 1-2 1 1 1 0 1-2 1-1 1 2 1 0 1-2 1 1 1-1 1 2 1 2 1-4 1 0 1 0 1 1 1-1 1 2 1-1 1 0 1 3 1 0 1 3 1 1 1-5 1-1 1 0 1 0 1 1 1 3 1-3 1 0 1 1 1 6 1-8 1-2 1 3 1-1 1 0 1 0 1 0 1 1 1 1 1-2 1-1 1 3 1 0 1 3 1-2 1 2 1-6 1 3 1 2 1-5 1 1 1-1 1 0 1 1 1-1 1 0 1 0 1-1 1 0 1 0 1 4 1-3 1 0 1 1 1 1 1 1 1-1 1 2 1-5 1 1 1-1 1 0 1 0 1 0 1 1 1-1 1 0 1 0 1 0 1 3 1-2 1 1 1-2 1 0 1 0 1 0 1 0 1 0 1 1 1 0 1 0 1 3 1-1 1-3 1 0 1 0 1 0 1 0 1 0 1 0 1 3 1-2 1 0 1-1 1 0 1 1 1 0 1 0 1-1 1 0 1 1 1-1 1 0 1 4 1-4 1 2 1-1 1-1 1 3 1-1 1-1 1 0 1-1 1 0 1 1 1 4 1-5 1 2 1-1 1 1 1-2 1 2 1-1 1 0 1-1 1 0 1 1 1 6 1-6 1 2 1-2 1-1 1 2 1-1 1-1 1 3 1-1 1 5 1-6 1 0 1 1 1-2 1 0 1 0 1 0 1 0 1 1 1 0 1-1 1 1 1 0 1 0 1 3 1-4 1 0 1 2 1 0 1-1 1 2 1-3 1 2 1-1 1 2 1 0 1 0 1 0 1 0 1-2 1 6 1-7 1 1 1 3 1-4 1 0 1 0 1 1 1 1 1-2 1 3 1 0 1 0 1 0 1-3 1 0 1 2 1-2 1 0 1 3 1 1 1-3 1-1 1 0 1 1 1 1 1-2 1 0 1 1 1 0 1 0 1 0 1 0 1 2 1-2 1 2 1-3 1 1 1-1 1 1 1 1 1-2 1 0 1 1 1 0 1-1 1 4 1-2 1-2 1 3 1 0 1-2 1 0 1 0 1 3 1-1 1-2 1-1 1 2 1-1 1 0 1 1 1 5 1-2 1-5 1 1 1-1 1 1 1 4 1-5 1 1 1 6 1-6 1 2 1-3 1 4 1-2 1 1 1-1 1 2 1-3 1 2 1-3 1 2 1 0 1 0 1-1 1 0 1-1 1 0 1 4 1-4 1 2 1 1 1 4 1-3 1 0 1-3 1-1 1 2 1-1 1 0 1 1 1 1 1-3 1 0 1 0 1 1 1-1 1 1 1 1 1-2 1 0 1 1 1 0 1 0 1 2 1 3 1-3 1 5 1-6 1 0 1-1 1 6 1-3 1-1 1 0 1 0 1 1 1-1 1-3 1 6 1-1 1 1 1-3 1-2 1 1 1-1 1 1 1 3 1-3 1 2 1-4 1 1 1 3 1-4 1 0 1 0 1 1 1-1 1 2 1-1 1-1 1 4 1-3 1 3 1-3 1 1 1-2 1 1 1 0 1 0 1 0 1 2 1 0 1 2 1-3 1-2 1 4 1-3 1 1 1 3 1-3 1 0 1-1 1 5 1-5 1 0 1 0 1 1 1-2 1 2 1-1 1-1 1 2 1-1 1 0 1-1 1 0 1 1 1 1 1 1 1-3 1 0 1 0 1 1 1-1 1 1 1 2 1-3 1 1 1-1 1 1 1 0 1 2 1-1 1-2 1 1 1 1 1 0 1 1 1 0 1-3 1 0 1 0 1 1 1 2 1-1 1-2 1 1 1 1 1 4 1-4 1-2 1 0 1 5 1-4 1 0 1 0 1 0 1 0 1 1 1-1 1-1 1 0 1 0 1 1 1 1 1 1 1-2 1 2 1-2 1 1 1-1 1-1 1 2 1-1 1 1 1-1 1 0 1 0 1 1 1-2 1 0 1 0 1 1 1 0 1 0 1 3 1 1 1-4 1 0 1-1 1 1 1 1 1 1 1-2 1 1 1 2 1-4 1 2 1 0 1 0 1-1 1 1 1-2 1 1 1-1 1 1 1-1 1 3 1-1 1 2 1-2 1 3 1-3 1 0 1-1 1 0 1-1 1 0 1 0 1 1 1 1 1-2 1 2 1 0 1 0 1-1 1 0 1-1 1 0 1 1 1 2 1 0 1-1 1-1 1 0 1 1 1-2 1 0 1 0 1 0 1 1 1 0 1 2 1-1 1 2 1-3 1 2 1-3 1 0 1 3 1-3 1 4 1-1 1-3 1 2 1 3 1-5 1 0 1 1 1 1 1-1 1 0 1 2 1-2 1 0 1 0 1 5 1 0 1 1 1-7 1 1 1 0 1-1 1 0 1 0 1 1 1 0 1 1 1-2 1 3 1-3 1 1 1 4 1-4 1 1 1-1 1 1 1-2 1 5 1-1 1-1 1-2 1 1 1-1 1-1 1 1V0" fill="#0000ff" stroke="#00008b" stroke-width="0.85" vector-effect="non-scaling-stroke"/></g>
<path d="M259 3498.5H270.5M259 3637.5H270.5" fill="none" stroke="#333" stroke-width="1"/>
<path d="M270.5 3498.0V3638.0" stroke="#858575" stroke-width="1"/>
<text x="252.4" y="3501.3" class="ax">10</text>
<text x="252.4" y="3640.1" class="ax">0</text>
<text x="74" y="3573.7" class="nm">GSM5550295</text>
<path d="M271 3752.7H1423.8" stroke="#777" stroke-width="1.2"/>
<path d="M287.2 3747.9L282.0 3752.7L287.2 3757.5M306.4 3747.9L301.2 3752.7L306.4 3757.5M323.7 3747.9L318.5 3752.7L323.7 3757.5M355.2 3747.9L350.0 3752.7L355.2 3757.5M371.2 3747.9L366.0 3752.7L371.2 3757.5M383.7 3747.9L378.5 3752.7L383.7 3757.5M402.7 3747.9L397.5 3752.7L402.7 3757.5M414.2 3747.9L409.0 3752.7L414.2 3757.5M432.2 3747.9L427.0 3752.7L432.2 3757.5M446.7 3747.9L441.5 3752.7L446.7 3757.5M466.2 3747.9L461.0 3752.7L466.2 3757.5M484.2 3747.9L479.0 3752.7L484.2 3757.5M497.2 3747.9L492.0 3752.7L497.2 3757.5M516.2 3747.9L511.0 3752.7L516.2 3757.5M534.2 3747.9L529.0 3752.7L534.2 3757.5M550.7 3747.9L545.5 3752.7L550.7 3757.5M569.2 3747.9L564.0 3752.7L569.2 3757.5M587.2 3747.9L582.0 3752.7L587.2 3757.5M606.2 3747.9L601.0 3752.7L606.2 3757.5M624.2 3747.9L619.0 3752.7L624.2 3757.5M643.2 3747.9L638.0 3752.7L643.2 3757.5M661.2 3747.9L656.0 3752.7L661.2 3757.5M679.9 3747.9L674.7 3752.7L679.9 3757.5M698.2 3747.9L693.0 3752.7L698.2 3757.5M717.2 3747.9L712.0 3752.7L717.2 3757.5M729.0 3747.9L723.8 3752.7L729.0 3757.5M747.2 3747.9L742.0 3752.7L747.2 3757.5M759.2 3747.9L754.0 3752.7L759.2 3757.5M777.5 3747.9L772.3 3752.7L777.5 3757.5M795.9 3747.9L790.7 3752.7L795.9 3757.5M814.5 3747.9L809.3 3752.7L814.5 3757.5M833.0 3747.9L827.8 3752.7L833.0 3757.5M851.5 3747.9L846.3 3752.7L851.5 3757.5M870.1 3747.9L864.9 3752.7L870.1 3757.5M888.6 3747.9L883.4 3752.7L888.6 3757.5M907.0 3747.9L901.8 3752.7L907.0 3757.5M938.7 3747.9L933.5 3752.7L938.7 3757.5M947.4 3747.9L942.2 3752.7L947.4 3757.5M966.0 3747.9L960.8 3752.7L966.0 3757.5M984.8 3747.9L979.6 3752.7L984.8 3757.5M1003.2 3747.9L998.0 3752.7L1003.2 3757.5M1015.0 3747.9L1009.8 3752.7L1015.0 3757.5M1034.0 3747.9L1028.8 3752.7L1034.0 3757.5M1052.2 3747.9L1047.0 3752.7L1052.2 3757.5M1070.5 3747.9L1065.3 3752.7L1070.5 3757.5M1089.0 3747.9L1083.8 3752.7L1089.0 3757.5M1107.8 3747.9L1102.6 3752.7L1107.8 3757.5M1126.4 3747.9L1121.2 3752.7L1126.4 3757.5M1144.9 3747.9L1139.7 3752.7L1144.9 3757.5M1163.7 3747.9L1158.5 3752.7L1163.7 3757.5M1182.1 3747.9L1176.9 3752.7L1182.1 3757.5M1200.7 3747.9L1195.5 3752.7L1200.7 3757.5M1219.2 3747.9L1214.0 3752.7L1219.2 3757.5M1237.8 3747.9L1232.6 3752.7L1237.8 3757.5M1256.2 3747.9L1251.0 3752.7L1256.2 3757.5M1274.7 3747.9L1269.5 3752.7L1274.7 3757.5M1293.4 3747.9L1288.2 3752.7L1293.4 3757.5M1311.8 3747.9L1306.6 3752.7L1311.8 3757.5M1330.2 3747.9L1325.0 3752.7L1330.2 3757.5M1351.8 3747.9L1346.6 3752.7L1351.8 3757.5M1369.0 3747.9L1363.8 3752.7L1369.0 3757.5M1381.6 3747.9L1376.4 3752.7L1381.6 3757.5M1400.4 3747.9L1395.2 3752.7L1400.4 3757.5M1418.8 3747.9L1413.6 3752.7L1418.8 3757.5" fill="none" stroke="#333" stroke-width="1.25"/>
<g fill="#000"><rect x="270.2" y="3741.0" width="7.0" height="23.7"/><rect x="276.9" y="3729.0" width="1.3" height="47.5"/><rect x="279.9" y="3729.0" width="1.3" height="47.5"/><rect x="293.0" y="3729.0" width="1.1" height="47.5"/><rect x="295.5" y="3729.0" width="1.5" height="47.5"/><rect x="309.4" y="3729.0" width="1.3" height="47.5"/><rect x="330.3" y="3729.0" width="1.4" height="47.5"/><rect x="333.8" y="3729.0" width="1.4" height="47.5"/><rect x="372.9" y="3729.0" width="1.2" height="47.5"/><rect x="433.0" y="3729.0" width="1.2" height="47.5"/><rect x="438.6" y="3729.0" width="1.2" height="47.5"/><rect x="486.8" y="3729.0" width="1.2" height="47.5"/><rect x="747.0" y="3729.0" width="1.6" height="47.5"/><rect x="913.7" y="3729.0" width="1.1" height="47.5"/><rect x="916.7" y="3729.0" width="1.1" height="47.5"/><rect x="288.0" y="3729.0" width="3.9" height="47.5"/><rect x="338.2" y="3729.0" width="3.9" height="47.5"/><rect x="294.1" y="3741.0" width="3.7" height="23.7"/><rect x="362.7" y="3741.0" width="2.0" height="23.7"/><rect x="406.8" y="3741.0" width="2.0" height="23.7"/><rect x="538.6" y="3741.0" width="2.0" height="23.7"/><rect x="722.0" y="3741.0" width="2.0" height="23.7"/><rect x="940.7" y="3741.0" width="1.2" height="23.7"/><rect x="1003.6" y="3741.0" width="1.2" height="23.7"/><rect x="1149.9" y="3741.0" width="1.8" height="23.7"/><rect x="1337.6" y="3741.0" width="1.3" height="23.7"/><rect x="1360.0" y="3741.0" width="1.7" height="23.7"/><rect x="1371.6" y="3741.0" width="1.4" height="23.7"/><rect x="912.3" y="3741.0" width="6.5" height="23.7"/><rect x="928.6" y="3741.0" width="3.3" height="23.7"/></g>
<text x="942.3" y="3721.8" class="gn">STARD13</text>
<text x="75.1" y="3946.3" class="chr">chr13</text>
<rect x="271" y="3901.4" width="776.1" height="55.9" fill="#c8c8c8"/>
<path d="M271 3901.4H1423.7M271 3957.3H1423.7" stroke="#444" stroke-width="1"/>
<path d="M1047.1 3901.4V3957.3" stroke="#777" stroke-width="1.5"/>
<path d="M314.8 3957.3V3986.6M367.1 3957.3V3986.6M419.4 3957.3V3986.6M471.7 3957.3V3986.6M524.0 3957.3V3986.6M576.3 3957.3V3986.6M628.6 3957.3V3986.6M680.9 3957.3V3986.6M733.2 3957.3V3986.6M785.5 3957.3V3986.6M837.9 3957.3V3986.6M890.2 3957.3V3986.6M942.5 3957.3V3986.6M994.8 3957.3V3986.6M1047.1 3957.3V3986.6M1099.4 3957.3V3986.6M1151.7 3957.3V3986.6M1204.0 3957.3V3986.6M1256.3 3957.3V3986.6M1308.6 3957.3V3986.6M1361.0 3957.3V3986.6M1413.3 3957.3V3986.6" stroke="#555" stroke-width="1.2"/>
<path d="M524.0 3957.3V4030" stroke="#444" stroke-width="1.1"/>
<text x="524.0" y="4046.5" class="mb">33.2Mb</text>
<path d="M785.5 3957.3V4030" stroke="#444" stroke-width="1.1"/>
<text x="785.5" y="4046.5" class="mb">33.3Mb</text>
<path d="M1047.1 3957.3V4030" stroke="#444" stroke-width="1.1"/>
<text x="1047.1" y="4046.5" class="mb">33.4Mb</text>
<path d="M1308.7 3957.3V4030" stroke="#444" stroke-width="1.1"/>
<text x="1308.7" y="4046.5" class="mb">33.5Mb</text>
</svg>
</body></html>
